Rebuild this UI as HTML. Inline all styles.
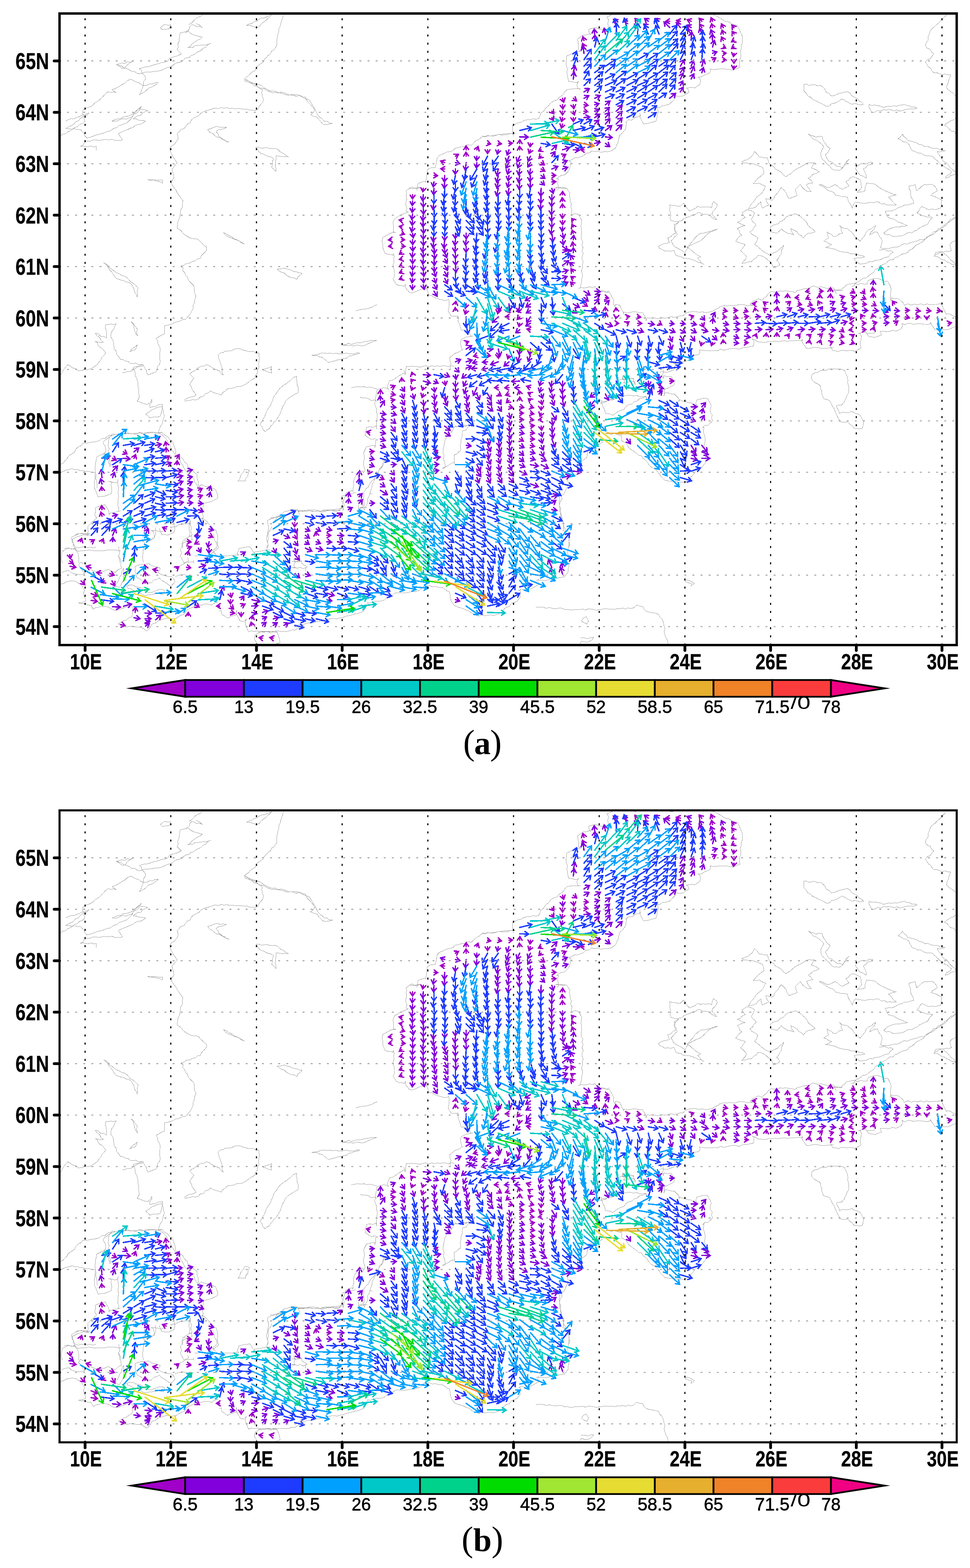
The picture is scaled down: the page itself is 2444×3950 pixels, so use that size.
<!DOCTYPE html>
<html lang="en"><head><meta charset="utf-8"><title>Baltic Sea current vectors</title>
<style>html,body{margin:0;padding:0;background:#fff}svg{display:block}</style></head><body>
<svg width="2444" height="3950" viewBox="0 0 2444 3950" role="img" aria-label="Baltic Sea surface current vectors, panels (a) and (b)">
<rect width="2444" height="3950" fill="#fff"/>
<defs><clipPath id="cp"><rect x="150" y="34" width="2260.5" height="1591"/></clipPath>
<g id="coast"><path d="M1538.1 34.9L1545.3 36.5L1552.4 34.5L1559.6 32.8L1566.8 34.4L1573.9 34.1L1581.1 33.5L1588.2 34.9L1595.4 36.3L1602.6 33.4L1609.7 35.2L1616.9 35.7L1624.1 33.2L1631.2 33.3L1638.4 33.3L1645.6 34.2L1652.7 33.5L1659.9 33.8L1667.1 35.7L1674.2 35.6L1681.4 33.7L1688.6 34.7L1695.7 36.7L1702.9 34.2L1710.1 34.1L1717.2 33.4L1724.4 34.2L1731.5 34.3L1738.7 34.4L1745.9 34.1L1753 34.1L1760.2 33.4L1767.4 35.4L1774.5 34.8L1781.7 34.6L1788.9 36.3L1796 35.9L1808.2 42.2L1817 47L1821.4 50.3L1828.2 54.2L1836.2 55.1L1842.8 59.5L1850.1 62L1857.6 64L1863.5 75.9L1866.8 83.6L1870.3 91.2L1870.8 101.5L1870.1 108.7L1867.5 115.6L1867.6 122.9L1864.9 129.8L1866.9 138L1866 145.9L1863.2 153.6L1863.2 161.6L1864.3 169.8L1845.6 176.7L1835.7 174.6L1824.5 173.6L1814.2 173.5L1807.3 174.7L1798 175.3L1788.6 173.6L1791.2 176.4L1788.3 183.4L1775.2 188.9L1767.3 193.8L1758 194.1L1763.4 196.7L1764.6 204.6L1763.7 212.5L1750.6 221.6L1743.3 220.1L1736.3 221L1729.4 222.1L1733.4 224.4L1735.5 232.4L1722.7 240.8L1715.9 243L1708.7 242.4L1701.5 241.3L1701.9 247.3L1696.5 252.3L1691.8 258L1686 262.8L1675.3 265.7L1668.2 266.4L1662 271.5L1654.3 269.2L1656.9 273.1L1658.8 281.8L1655.4 289.3L1655 297.5L1652.9 305.3L1637.3 309.5L1629.4 311.6L1621.4 312.1L1612.4 295.3L1612.3 285L1613.3 292.6L1606.2 294.1L1599.4 296.4L1592.2 302.2L1583.3 301.9L1576.6 308.2L1578.7 308.8L1577.3 316.7L1576.4 324.7L1567.1 336.5L1559.3 342.7L1561 344.6L1558.2 351.5L1557.8 358.9L1553.4 365.4L1551.3 372.4L1539.4 380.5L1531.5 382.1L1523.3 381.9L1514.3 383.7L1506.3 380.8L1498.4 382.1L1490.5 380.1L1485.1 385.2L1476.5 386.3L1469.7 392.4L1461.8 395.3L1455 397.6L1446.9 398L1440.7 402.5L1433.4 404.7L1438.8 408.1L1436.8 415.9L1435.4 423.8L1432 431.4L1422.9 440.5L1415.2 441.7L1408.5 445.1L1402.4 450.1L1407.8 450.2L1404.9 457.6L1405.6 465.1L1408.2 472.5L1404.3 480M1293 344.3L1293.3 337.1L1291.5 330L1291.4 322.9L1291.4 315.7L1306.4 309.1L1313.9 308L1320.7 303.2L1328.1 301.7L1335.8 301.4L1343.1 299L1351.1 300.5L1358.3 297.7L1360 293.7L1362.8 285.2L1370.1 279.9L1374.5 272.6L1382.7 266L1388.1 258.8L1395.3 254.3L1403.9 251.7L1408 246L1414.3 242.1L1419.9 237.3L1423.6 230.4L1429.2 225.7L1444.2 223.7L1453.4 223.7L1462.7 224.2L1456.2 223.1L1453.5 213.9L1457.7 204.6L1454.1 208.3L1446.9 207.4L1439.8 205.8L1432.6 204.9L1429.3 188.7L1428.5 180.8L1429.6 172.9L1426.9 164.9L1426 157L1427.7 149L1428 141.1L1442.2 134.8L1449.7 130.2L1457.7 129.7L1465.6 128.9L1460.9 129.7L1457.1 122.1L1458.1 114L1456.2 106.1L1455.7 98.2L1468.5 88.4L1475.6 88.3L1482.3 85.9L1489.5 86.4L1484.6 83.6L1483.2 73.7L1500.8 69L1508.3 73L1516.8 74L1523.5 74L1532.8 74.4L1542.1 73.8L1533.7 74.4L1532.8 66.5L1531.1 58.6L1533.6 50.4L1529.3 42.8L1545.3 35.5L1552.4 33.9L1559.6 36.3L1566.8 34.7L1573.9 36.4L1581.1 32.8L1588.2 35.3L1595.4 36.3L1602.6 37L1609.7 33.2L1616.9 33.9L1624.1 35L1631.2 35.2L1638.4 33.4L1645.6 36.5L1652.7 33.5L1659.9 35L1667.1 35.5L1674.2 35.8L1681.4 33.1L1688.6 36.7L1695.7 37L1702.9 33.2L1710.1 36.6L1717.2 35.1L1724.4 33.7L1731.5 34.8L1738.7 36.5L1745.9 34.7L1753 36.4L1760.2 34.4L1767.4 35.5L1774.5 35L1781.7 35.1L1788.9 33.2L1796 37M1299.3 336.5L1292.3 337.4L1285.2 336.1L1278.5 340L1271.4 339.8L1264.3 340.4L1257.1 338.5L1250.2 340.8L1243.4 343.2L1236.3 342.7L1229.1 342.1L1222.3 344.5L1215.2 344.1L1206 351.6L1198.5 354.7L1193.4 360.8L1187.7 366.1L1184.2 365.5L1176.9 364.3L1170.5 369.5L1163.4 369L1154.8 372.4L1147 373.2L1141.5 379.6L1134.2 381.8L1126.4 382.7L1120 386L1113.6 388.9L1107 391.7L1101.8 397.1L1098.9 412.9L1096.3 422.9L1094.5 422.1L1085 423L1077.2 427.2L1074.8 442.7L1074 450.6L1072.3 458.6L1070.3 457L1061.3 459L1053.1 462.4L1050.3 480M1299.3 336.5L1292.2 336.1L1285.2 337L1278.2 336.9L1271.1 337L1264.1 338.3L1257.1 338.6L1250.2 340.4L1243.2 341L1236.3 342.9L1229.1 341.3L1222.2 343.8L1215 342.4M1031 473L1038 475.1L1045.1 474.4L1052.2 472.4L1059.3 471.3M1399.4 473L1406.5 471.4L1413.6 474.2L1420.7 474.4L1427.8 474.2L1435.7 486.4L1434.3 493.6L1436.8 500.5L1437 507.6L1439.8 514.5L1437.9 521.8L1441.4 528.5L1439.9 535.8L1438.6 543L1442.5 539.9L1450.9 538.2L1458.6 541.2L1465.4 554.2L1464.9 561.2L1463.8 568.3L1464.4 575.3L1466 582.2L1465.1 589.3L1464.3 596.3L1465 603.3L1468.6 610.2L1466.1 617.3L1469.3 624.2L1466.4 631.3L1469.6 638.2L1466.9 645.3L1466.4 652.3L1469.5 659.2L1467.2 666.3L1468.1 674.7L1464.8 681.9L1467.3 689.6L1467.5 697.2L1465.4 704.5L1465.1 712L1463.1 719.3L1461.7 726.6M1457.3 726.6L1464.1 724.2L1471.3 725.3L1478.3 724.8L1485.2 722.3L1492.5 724.5L1499.3 721.5L1507.7 737.1L1505.2 744.3M1135.1 930L1134 922.7L1136.6 915.3L1133 908L1133.7 900.6L1146 890.6L1153 887.9L1159.9 884.6L1166.3 880.4L1164.2 880.6L1161.5 872.3L1160.2 863.9L1162.2 855.3L1175.8 848.8L1183.7 847.8L1191.7 846.2L1185.6 846.4L1182.7 837.8L1183.1 829.2L1183.4 834.1L1175.9 834.9L1169.5 831L1162.1 831.5L1157.6 816.2L1153.9 809L1155.7 801.4L1153 794.1L1153.1 797.6L1145.2 796.1L1136.9 796.9L1129 782.9L1131 775.6L1131.3 768.4L1131.6 761.2L1130.6 754.1L1125.7 757L1116.6 756.2L1107.9 753.6L1101 752.1L1094.4 749L1088 745L1080.9 743.7L1075.7 728.6L1074.2 718.7L1075.2 727.2L1068 728.3L1060.7 729.2L1053.8 731.3L1047.2 735.1L1040.2 737.2L1032.8 737.8L1021.1 724L1021.7 715.5L1018.8 721.7L1012.1 719.2L1005 719.2L998.4 716.1L990.5 703L994.1 695.9L993 688.7L993.8 681.6L991.5 674.4L990 667.3L993.1 660.2L991.6 653L993.8 645.9L991 638.7L990.9 643.5L984.2 641L977.1 640.4L970.2 638.3L964.5 624.3L964.6 615.9L962.8 607.5L963.5 599L977 591.2L983.5 587.5L990.3 585.7L997.5 585.2L990.8 584.8L992 576.4L991.3 568.1L990.2 559.8L994.2 551.4L1005.4 543.9L1013.1 540.2L1021 537.1L1028.9 533.9L1023.1 532.1L1025.3 524.6L1022.9 517.2L1022.2 509.8L1025.1 502.3L1023.3 494.9L1024.3 487.4L1023.8 480L1038 470.9L1045.1 474.9L1052.2 474.4L1059.3 472.1M1399.4 473L1406.5 473.1L1413.6 472.9L1420.7 472.4L1427.8 474.2M1500 734.9L1507.1 736.4L1514.3 732.9L1521.4 732.8L1528.6 736.3L1535.7 736.8L1542.5 749.1L1546.5 756.7L1545.3 764.9L1548.6 772.5L1551.4 766.8L1561.3 768.9L1568.4 783.8L1572 791.4L1571.4 785.8L1579.4 788.4L1587.3 787.2L1595.2 785.2L1603.2 785.9L1611.1 787.7L1619 787.7L1626.8 800L1628.1 808.1L1630.2 800.6L1637.3 801.4L1644.4 800.3L1651.6 801.5L1658.7 803.1L1665.6 800L1673.9 801.4L1681.8 800.7L1689.5 797.4L1697.8 799.6L1705.7 798.3L1713.4 795.5L1721.5 795.3L1726 789.8L1734.8 786.3L1747 784.4L1755 785.3L1761.9 787L1769.8 785.5L1777.8 787.9L1785.7 786.3L1793.7 784.6L1796 784L1801.6 779.6L1808.5 777L1814.2 772.7L1824.5 770L1831.7 771L1838.9 769.4L1846.2 770.4L1853.4 770.3L1860.5 767.6L1867.7 767.3L1875 767.5L1882.3 770.3L1889.4 769.4L1896.7 770.2L1890.3 766.2L1895.9 760.4L1910.7 752.7L1920.6 756.6L1923.9 751.6L1931 746.9L1936.2 739.4L1943.1 734.4L1956.3 736.3L1964.3 732.8L1972.2 733.4L1980.2 732.7L1988.1 734L1996 734.8L2004 737.1L2008.4 731.9L2015.5 730.8L2022.2 728.4L2029.1 727L2036.4 726.6L2042.8 723.2L2049.3 720.3L2060.3 723.7L2068.7 722.3L2076.6 724.5L2084.5 727L2092.9 724.9L2101 725.9L2107.6 741.1M2100 875.9L2092.4 876.3L2084.8 877L2077.2 877.5L2069.7 877.9L2062.1 876L2054.5 875.6L2046.9 875.7L2039.3 877.8L2031.7 877.4L2021.7 863L2021.2 854.7L2020.1 858.7L2012.6 857.7L2005 857.9L1997.5 858.3L1989.9 858.7L1982.3 859.7L1974.8 858.3L1967.2 859.6L1959.7 860.4L1952.2 859.4L1946 860.8L1937.6 859.8L1929.9 862.4L1921.6 862.2L1910.3 861.5L1903.1 856.7L1895.3 853.7L1899.7 857.9L1900 865.7L1897.3 872.2L1879.5 875.4L1869.6 876.3L1861.6 880.1L1853.5 877.6L1845.5 877.5L1837.6 878.9L1829.8 880.7L1823.2 882.7L1815.6 879.3L1808.8 883.4L1801.6 882.9L1794.4 883.3L1785.7 883.3L1777.8 883.7L1769.8 882.2L1761.9 881.7L1764.1 886.9L1760.5 893.1L1745 895.6L1735.3 898.4L1737.3 907L1723.6 911L1716.4 911.1L1709.6 914.9L1702.4 915.5L1695.1 914.1L1701.5 917.3L1699.9 924.4L1698 931.4L1683.4 937.3L1676.4 937.9L1669.3 936.5L1662.3 937.4M1500 734.9L1507.1 734.4L1514.3 733.1L1521.4 735L1528.6 735.3L1535.7 733M2098 730.9L2105.9 732.2L2113.8 730.8L2121.8 731.1L2121.8 727.3L2128 723L2132.8 717.2L2145.6 714.9L2153.5 713.4L2161.5 717L2169.4 713.7L2177.3 716.1L2185.3 715.6L2184.7 713.1L2187.6 706.4L2203.1 701.6L2213 701.5L2224.1 706.5L2227.9 708.5L2236.9 708.6L2243.5 721.4L2245.3 728.7L2244 736L2243.7 743.2L2243.2 750.5L2245.1 757.8L2245.1 750L2251.8 752.7L2259 751.8L2265.7 754L2275.7 763L2278.4 769.8L2280.5 767.9L2288.4 765.1L2296.4 768.8L2304.3 765.9L2312.3 767.9L2320.2 765.2L2327.6 768.7L2334.9 765.5L2342.3 767.7L2349.7 767.1L2357 767L2364.4 766L2371.8 765.9L2379.7 782.4L2383.8 791.9L2385.1 790.7L2393.3 791L2399.7 795.1L2406.7 798.1L2410.7 813.3L2410.1 821.3L2396 827.2L2388.3 830.7L2380.3 830.1L2372.4 831.4L2364.3 830.4L2356.3 830.2L2347.6 818.9L2344 811.4L2344.7 815.3L2337.5 817.4L2330.3 817L2323.1 816.1L2315.9 815.5L2308.6 815.9L2301.4 816.9L2294.2 814.9L2287 814.7L2279.8 818.1L2272.6 814.7L2274.5 820.3L2270.7 828.3L2257.4 834.4L2249.2 831.8L2241.5 835.3L2233.5 835.1L2225.4 834.3L2217.5 834.6L2221.3 843.9L2205.1 849.6L2197.2 848.9L2189.2 847.7L2177.2 831.9L2178.5 837.3L2170.4 837.9L2162.8 841.1L2167.5 840.4L2170.5 847.7L2169.5 855L2167.3 862.3L2167.3 869.6L2169.5 876.8L2154.4 884.9L2147.4 883.3L2140.3 882.4L2133.2 884.1L2126.2 882L2119.1 882.9L2112.1 885.6L2105 883.8L2098 882.9L2090.8 869.5M2098 730.9L2105.9 729.8L2113.8 731.1L2121.8 732.1M280.7 1093.6L287.8 1094L294.9 1094.7L301.9 1092.4L308.9 1090.7L316 1093L323 1090.5L330.2 1093.2L337.2 1091.6L344.3 1092.6L351.2 1090.1L358.4 1093.1L365.4 1090L372.5 1091.3L379.4 1088.7L386.5 1089L393.7 1092L400.6 1089.1L407.7 1089.1L417 1097.5L423.6 1100.9L427.2 1107.1L434.2 1110.1L437.5 1121.2L440.4 1127.9L442.1 1135L442.5 1142.3L445.5 1145.6L453 1149.8L460.1 1154.5L464.8 1163.6L471.2 1168.7L473.8 1176.2L478.6 1178.7L484.2 1184.1L489.4 1190L496 1194.1L497.1 1206.1L499.7 1212.8L499.7 1219.9L500.4 1226.9L506.9 1220.9L516.4 1225.1L526.2 1226L534.5 1229.7L542.9 1232.8L548.7 1247.5L548 1255.4L533.2 1263L525 1265.4L516.6 1267.4L507.9 1265.6L513.4 1267.3L512.6 1274.3L510.5 1281.1L510.6 1288.2L509.6 1294L512.3 1301L510.4 1308.1L510.2 1315.2M537.7 1344.7L539.2 1353.3L541.1 1361.8L547 1369.1L546.9 1378.2L533.5 1388.5L526.2 1386.8M460.5 1380L460.6 1371.3L460.1 1362.5L474.6 1352.5L483.3 1349.6L476.5 1350.6L478.7 1342.7L476.6 1334.8L476.5 1326.8L477.2 1318.9L479.3 1311L479.1 1318.1L472 1319.6L464.6 1319.6L457.5 1321.3L450.2 1321.9L443.6 1326.7L436.3 1327.4L429 1327.9L434.2 1330.8M411.9 1337.8L404 1339.6L396 1337.2L388.1 1336L380.2 1336.1L386.1 1338.7L388.3 1346.7L388.8 1354.6L372.7 1363.9L364.5 1360.5L356.6 1361.2M304.6 1387L297.4 1387.2L290.2 1385L283 1385L275.9 1385L268.7 1385.8L261.5 1387.5L254.3 1387.1L247.1 1387L239.9 1387.8L232.8 1386.9L225.6 1385.1L218.4 1386.4L211.2 1387.3L204 1387.4L196.9 1388.7L189.7 1385.6L184.3 1372.9L184 1365.7L181.7 1358.6L196.1 1351.5L203.2 1349.7L210.1 1347.1L217.4 1348L224.8 1349L218 1346.5L222.4 1340L221.7 1332.8L221.2 1325.7L231.4 1315.8L238 1310.5L243.5 1303.9L242.9 1303.7L238.6 1296.2L241.1 1287.8L239.8 1279.9L255.2 1273L265.1 1271.4L274.1 1287.7L275.2 1297.8L275.6 1293.3L282.7 1291.6L289.8 1290.7L296.8 1288.7L303.8 1286.8L298.5 1287.8L299.4 1280.5L296.6 1273.3L297.8 1266L297.1 1258.7L299.1 1251.4L297.2 1244.2L298 1236.9L298.6 1229.6L297.4 1222.3L296.5 1215.1L297.4 1207.8L296.8 1214.6L288.9 1216.3L281 1214L273 1212.7L281.8 1214.9L279.4 1222.1L281.6 1229.2L281.3 1236.3L280.1 1243.5L264.4 1249.9L255.8 1250.5L247.2 1252L241.4 1236.5L237.9 1229.3L238.4 1222L237.4 1214.8L239.6 1207.4L239 1200.1L240.5 1191.2L239.5 1183L240 1175L240.5 1167L242.6 1159.2L243.7 1151.3L260.1 1143L269 1144.1L276.9 1159.6L277.3 1167.5L276.2 1175.6L281 1170.7L274.2 1168.5L273.7 1161L276 1153.4L273.2 1145.9L272 1138.3L275.6 1130.8L272.2 1123.3L273.9 1115.7L273.8 1108.2L275.8 1100.6L287.8 1095.1L294.9 1094.6L301.9 1094L309 1094.5L316 1090.9L323.1 1092.4L330.1 1092L337.2 1093.4L344.3 1093.2L351.2 1089.4L358.3 1090.4L365.4 1092.9L372.4 1089L379.5 1090.6L386.5 1090L393.6 1089.7L400.7 1091.8L407.7 1088.6M681 1304L689.2 1305.4L696.8 1301.2L704.8 1300.9L712.6 1299.1M721.8 1296.7L728.3 1292.7L733.4 1287.3L750 1285.6M674.7 1380L675.5 1372.3L674.4 1364.7L676.2 1357L675.6 1349.3L674.5 1341.6L676.1 1334L676.5 1326.3L674.6 1318.6L674.3 1311L689 1303.8L697 1303.1L704.8 1301L713 1302.9M1017.2 932.2L1021.9 943.9L1017.3 939.1L1011.5 943.3L1005.2 946.8L999.2 950.6L994.9 954.3L988.6 957.8L981.4 958.9L975.9 973.7L978.8 981.6L974.8 977.9L966 976.6L958.2 978.9L950.4 981.6L946.9 998.8L946.3 1008L943.9 1017.3L949.2 1031.6L948.6 1036.6L950.2 1043.9L950.4 1051.3L948.9 1058.7L948.3 1066.1L948.5 1073.4L949.4 1080.8L947.3 1072.7L939.7 1076.6L931.4 1074.7L923.6 1076.7L919.8 1096.7L930.6 1104.3L937.2 1107.4L944.7 1104.8L951.3 1108.2L946.3 1109.9L946.7 1119.2L944.1 1128.4L944.5 1122.5L937.3 1121.8L930.6 1124.8L923.6 1125.1L916.4 1139.8L917.6 1147.3L918.4 1154.7L916.4 1162.1L915.8 1169.6L917.6 1177L919.8 1184.5L915.5 1191.9L914 1186.4L906 1189L899.1 1194.7L892.4 1207L890.6 1214.9L891.4 1222.9L889.3 1230.8L889.6 1238.8L886.8 1235.9L878.9 1238.6L871.4 1242.5L867.5 1255.4L864.5 1263.3L867.2 1271.3L865 1279.2L864.9 1287.1L865.1 1281.4L858.1 1281.9L851 1282.2L844.1 1283.4L837.1 1283.5L830.5 1286.9L823.1 1285.3L816.5 1288.5L810 1290.2L802.5 1286.7L795 1288.3L787.5 1288.7L780 1286.2L772.5 1288.5L765 1286.8L757.5 1287.8L750 1288.4M1144.4 923L1137.3 920.9L1130.2 924.1L1123.1 921.6L1116 921.4L1108.9 922.9L1101.8 921.5L1094.7 923.3L1087.6 921.2L1080.5 924.4L1073.4 921.3L1066.4 922.4L1059.3 925.1L1052.2 924L1045.1 923.4L1038 922L1030.9 923.8L1023.8 922.8L1020.4 944.4M1670.5 930L1671.7 937.9L1669 945.9L1671.2 953.8L1672.8 946.3L1682 949L1691.3 948.6L1698.9 961.7L1698.9 969.7L1684.3 976.8L1676.7 980.2L1668.3 978.8L1674.7 981.6L1674.4 989.5L1672.8 997.5L1675.4 989.2L1683.3 989.6L1691.3 992.5L1699.2 992.5L1709.8 1003.3L1710.8 1011.4L1712.6 1006.7L1719 1010.7L1726.5 1010.7L1732.9 1014.4L1740.4 1014.4L1746.8 1018.2L1753.2 1022.1L1760.2 1023.9L1752.9 1017.7L1755.3 1007.9L1772.6 1003L1782.5 1003.8L1789.6 1016.2L1792.1 1023.5L1789.2 1031.1L1789.9 1038.5L1794.5 1045.5L1792.8 1053.1L1795.6 1060.3L1783.1 1071.6L1775.5 1071.8L1770 1077.2L1773.8 1075.7L1772.7 1082.8L1772.6 1089.9L1775.2 1096.9L1776.6 1104L1776.9 1111.1L1774.6 1118.3L1776.3 1125.3L1776.4 1132.4L1777.1 1139.4L1777.4 1146.5L1778.5 1153.6L1779.3 1160.7L1776 1167.9L1768.2 1177.4L1762.6 1181.9L1755.5 1184.1L1750.6 1189.6L1747 1196L1740.8 1201.7L1733.9 1206.7L1729 1213.7L1714.5 1214.5L1706.5 1213.9L1698.7 1212L1690.6 1212.7L1682.7 1211.5L1674.9 1209.7L1665.7 1200.7L1661.1 1193.6L1655.5 1187.2L1649.9 1181.7L1642.1 1177.5L1635.9 1171.9L1631.3 1164.5L1626.3 1159L1620 1154.7L1616.2 1147.9L1609.3 1147.2L1604.1 1142.2L1598.1 1138.1L1592.5 1133.7L1584.4 1128.1L1580.2 1120.5L1574.4 1114.3L1566.4 1110.5L1566.3 1096.7L1564.6 1088.7L1563.5 1097.2L1555.7 1094.6L1548 1091.8L1539.8 1094.7L1532.1 1091.3L1523.9 1093.1L1513.7 1086.8L1505.4 1083.6L1511.2 1087.1L1505.2 1091.7L1510.9 1093.3L1512.6 1100.4L1514.1 1107.5L1517.4 1114L1501.6 1124.1L1494 1127.4L1485.6 1124.6L1478 1128.9L1482.2 1129.2L1480.9 1137.1L1479.8 1145L1478.1 1152.9L1466.4 1161.4L1458.4 1162.2L1450.4 1163.2L1455.3 1163.3L1454.1 1170.5L1454.5 1177.6L1455 1184.8L1456.8 1191.9L1443.5 1201.4L1435.1 1202.4L1427.5 1206.2L1430.3 1208.8L1431.6 1217.2L1430.1 1225.1L1425 1235.4L1421.7 1243.6L1413.9 1249.7L1416.3 1257.1L1411.5 1264.4L1409.6 1272.2L1410.5 1280.7L1409.9 1288.8L1412.8 1291.4L1414.6 1300.5L1417.2 1309.7L1420.2 1317.4L1419.1 1325.9L1424.3 1333.1L1422.8 1341.6L1427.4 1344.7L1433.3 1350.7L1433.7 1363.9L1435.3 1372.9L1431.5 1381M161.9 1381.9L171.2 1380.1L180.4 1383.6L189.7 1380.8L197 1395.7L198.2 1403.1L198.6 1410.4L198.9 1417.8M157.2 1418.9L154.9 1411.7L154.4 1404.3L155.9 1396.8L156.1 1389.3L171.2 1381.4L180.4 1382.7L189.7 1383.6M189.3 1346.2L196.6 1344.2L203.9 1344L211.4 1345.3L218.7 1343.6L226.3 1346.2M241.5 1378L234.2 1380.2L226.8 1378L219.5 1379.8L212 1377.7L204.6 1378.2L197.3 1380.3L189.9 1378.5L181.2 1363.1L180.8 1353.2L196.6 1345.5L203.9 1343.4L211.3 1344.2L218.9 1346.7L226.1 1344.1M391.1 1329.4L392.1 1337.3L392.9 1345.2L389 1353.2L378.4 1362.6L371 1360.3L364.1 1361.9L357.2 1363L363.2 1365.1L363.7 1372.6L362.3 1380L360.6 1387.3L360.3 1394.8L359.2 1402.2L359.7 1409.7L361.6 1417.3M301.8 1417.2L301 1409.3L298.8 1401.5L301.7 1393.3L299.9 1385.4L299.6 1377.5M438.7 1321.4L440.6 1331.3L438.6 1341.3L423.8 1347.7L415.9 1346.8L407.9 1346.4L401.1 1331.3M463.5 1362L472.8 1363.1L482 1363.2M487.3 1415.7L479.4 1416L471.4 1417.3L463.5 1417.4L454.3 1400.8L457.6 1392.9L454.5 1384.9L458.3 1377L458.3 1369L472.8 1363.4L482 1360.1M503.2 1306.5L511.1 1306.2L521.7 1314.1L526.2 1320.6L532.2 1325.7L537.4 1331.6L544.1 1336L548.1 1348.4L548.7 1356.3L547.2 1364.5L548.2 1372.4L551.1 1380.1L538.5 1389.4L532.5 1395M498.1 1401.1L490.1 1399.8M484.3 1361.1L482.9 1353.2L483.6 1345.9L480.6 1338.2L482.4 1330L479.6 1322.3L479.9 1314.2M503.2 1306.5L511.1 1305.6M535.9 1387.9L540.9 1393.4L546.1 1398.9L553.3 1402.2L554.1 1399.2L562.2 1400.5L570.2 1400.6L578.1 1399.7L586.1 1400L594 1398.5L602 1399L597.3 1395.1L600.2 1388.6L602.5 1381.8L620.2 1378L630.2 1377.5L640.9 1394.6L641.6 1390.5L649.5 1389.4L657.4 1388.5L665.2 1386.3L673.1 1385.1L681.2 1385.9L672.7 1386L672.9 1378.7L675.9 1371.3L673.1 1364.1L671 1356.9L673 1349.5L677.4 1339.3L682.5 1333.5L684.9 1326.3M692.1 1313.2L695.8 1306.7L700.5 1300.7L710.3 1294.9L716.4 1288.9L725 1287.4L734.2 1283.2L741.9 1283.5L749.5 1284L755.2 1296.7M757 1565.2L757.7 1572.3L755 1579.4L743.8 1587.1L736.5 1586.9L729.5 1589.3L722.4 1590.5L714.1 1590.1L706.8 1590.4L699.5 1589.5L692.1 1590.1L684.8 1590.9L677.5 1591.2L670.1 1591.4L662.8 1590.6L655.5 1591.1L648.2 1589L640.8 1590.6L633.5 1589.3L626.2 1591.7L619.4 1575.4L617.8 1567.5L620.8 1559.5L614.5 1566.5L604.7 1563.7L596 1547.3L595.3 1537.1L599 1544.8L593.6 1549.9L586.5 1551.5L579.7 1553.8L573.5 1557.2L559.1 1547.4L557.2 1538.5L551.7 1539.2M488.2 1418.7L487.4 1411.4M650 1592.2L657.9 1591.8L665.9 1592.5L673.8 1590.9L681.7 1594.4L689.7 1591L697.6 1590.6L704.3 1609.1L705.5 1619L689.7 1624.3L681.7 1627.6L673.8 1624.3L665.9 1626.6L657.9 1626.6L650 1625.6L641 1609.1L643 1599.2L657.9 1591.6L665.9 1591.1L673.8 1590L681.7 1590.3L689.7 1592.1L697.6 1593.9M750 1286.7L757.1 1285.9L764.3 1286.6L771.4 1285.5L778.6 1284.6L785.7 1284.6L792.9 1284.8L800 1285.5L807.1 1288.4L814.3 1285.8L821.4 1288.2L828.6 1284.7L835.7 1284.7L842.9 1288.1L850 1286.9L857.1 1286.7L856.6 1281.2L865 1277.7L862.2 1273.8L862.6 1265.9L860.5 1257.9L861.3 1250L878.3 1243.9L887.6 1242.5L896.8 1241.1M903.8 1271.4L903.9 1278.6L903.6 1285.7M906.1 1278.7L915.3 1279L924.6 1278.6L915.4 1278.6L918.3 1271.4L917.1 1264.3L916.2 1257.1M931.7 1243L938.8 1244.4M1357 1457.9L1355.1 1465.1L1357.4 1472.2L1343.8 1480.2L1336.7 1483.5L1329.1 1483.7L1322 1486.4L1313.8 1483.6L1306.9 1487.6L1311.6 1488.1L1310.4 1496L1310.9 1504L1302.9 1514.5L1295.8 1517.8L1288.3 1520.2L1283.8 1527.7L1276 1529.6L1269.9 1534.4L1267 1539.5L1260.9 1544L1253.9 1547.5L1242.7 1550.7L1235.4 1548.9L1228.2 1549.7L1220.9 1551.5L1213.6 1548.6L1206.3 1552.2L1195.6 1548.5L1188.7 1544.8L1182.5 1539.5L1175.1 1536.9L1168.1 1533.5L1160.7 1531.3L1152.6 1528.8L1145 1525.5L1137 1513.9L1134.7 1506L1134 1497.7L1132 1489.8L1127.1 1489.2L1120.6 1483.8L1113.4 1479.3L1111 1480.6L1103.7 1479.2L1096.4 1477.3L1088.9 1478.2L1081.8 1474.5L1074.3 1475.9L1066.8 1477.4L1066.5 1477.9L1061.5 1483.5L1055.2 1487.8L1044.1 1491L1036.1 1490.8L1028.2 1492.4L1020.4 1493.8L1012.4 1493.9L1004.4 1493.1L996.4 1493.3L992.4 1496.6L987.1 1502L981 1505.6L973.4 1506.3L968.2 1511.9L958.1 1514.4L949.9 1514.4L941.6 1514.5L934.3 1519L925.9 1518.3L927.7 1522.6L922.8 1527.9L919.9 1534.5L915.3 1540.1L902.9 1545.2L894.6 1546.2L886.8 1549.2L878.7 1551L870.5 1552.4L863.2 1556.3L855.9 1556.6L849 1559.2L841.4 1557.9L834.2 1558.6L827 1559.7L820.5 1564.8L813 1563.8L805.9 1565.4L798.7 1566L791 1568.8L783.1 1570.1L774.8 1569.7L767.1 1572L759 1572.8L750.8 1572.3M750 1286.7L757.1 1287.6L764.3 1288.4L771.4 1285.3L778.6 1286.5L785.7 1287.6L792.9 1288.5L800 1287.7L807.1 1288.2L814.3 1284.9L821.4 1284.7L828.6 1284.5L835.7 1285.6L842.9 1285.7L850 1286.4L857.1 1284.8M1408.6 1249.4L1410.7 1257.2L1408.7 1265.4L1409.4 1273.3L1412.6 1281L1412.7 1289L1412.7 1297L1414.7 1304L1417.3 1311.8L1419.1 1319.7L1420.6 1327.6L1418.7 1336.3L1426.5 1339.9L1431.9 1348.3L1434.1 1360.4L1433.7 1367.7L1433.1 1375L1431.5 1382.3L1430.3 1389.6L1431 1396.8L1431 1404.1L1433.4 1411.4L1433.4 1418.7L1433.9 1425.9L1431.2 1433.2L1431.6 1440.5L1422.3 1453.3L1410.6 1454.6L1403.3 1457.2L1395.5 1456L1388.2 1458.2L1381 1461.1L1373.5 1462.6L1365.8 1461.7L1358.1 1460.9L1350.6 1461.1M962.6 1159L970.8 1160L978.5 1162.8L971.5 1160.1L967.3 1166.3L964.9 1173.5L960.1 1179.5L954.9 1185.2L953.9 1193.2L950.9 1200.1L945.4 1205.6L942.3 1212.5L938.1 1220.2L937.2 1227.9L934.5 1234.9L932.2 1242L930.5 1249.4L926.5 1256L926.6 1264L924.5 1271.2L919.9 1277.7L918.6 1285.1L914.7 1279.6L904.8 1280.4L910.8 1279.7L915.2 1272L912.5 1263.8L915.6 1256.1L916.6 1248.2L916.4 1240.2L918.3 1237.4L922.3 1231L928.5 1226.3L931.2 1218.8L935.7 1212.8L941.8 1207.9L946.3 1200.8L949 1193.9L954.6 1188.6L955.6 1180.8L961.9 1175.9L963.9 1168.6L967.1 1162.1L971.4 1156.1L970.7 1160.4L978.6 1162.6M1143.7 1075.8L1150.9 1074.1L1158.5 1075L1165.6 1072.1L1173 1070.9L1180.5 1071.8L1188.1 1072.6L1195.4 1071.3L1193.7 1074.7L1186.3 1070.6L1179.4 1075.6L1174.4 1083.3L1165.3 1085.3L1164.5 1099.5L1161.8 1106.6L1161.9 1113.9L1159.6 1121L1160.7 1128.5L1160.9 1135.8L1157 1137.3L1152 1142.9L1144.8 1146.3L1144 1160.2L1145.9 1168.1L1140.2 1165.3L1134 1169.5L1127.8 1173.7L1120.7 1176.5L1114.2 1180.1L1121.7 1178.2L1121.1 1169.6L1119.5 1161.3L1116.4 1156.2L1119.2 1148.3L1116.1 1140.3L1116.5 1132.4L1118.5 1124.4L1119.5 1116.5L1120.5 1111.3L1124.2 1103.2L1128.4 1095.4L1133.7 1091.5L1139.4 1086.2L1143 1079.1L1147.4 1072.7L1151.1 1075.5L1158.2 1072.4L1165.8 1073.7L1173.3 1074.1L1180.3 1070.2L1188 1072L1195.1 1068.6M1510.7 1016.1L1518.9 1014.5L1526.9 1012.3L1534.1 1007.3L1543 1008.1L1550.4 1004L1558.1 1000L1567 1000.4L1574.6 996.7L1579.9 996L1587.9 995.2L1595.8 997.8L1603.8 995.8L1611.6 999.2L1619.5 999.6L1627.5 998.1L1630.6 1005.5L1625.5 998.8L1619 1003.1L1610.9 1004.4L1605.4 1010.4L1597.6 1012.4L1591.8 1017.9L1583.8 1019.3L1576.7 1024.2L1572 1031.5L1563.9 1033.4L1556.8 1037L1550.4 1041.7L1544.2 1046.6L1541.7 1044.5L1533.9 1042.2L1525.8 1041.8L1525 1039.8L1523.5 1031.7L1519.3 1025.3L1517.2 1018L1513.8 1008.3L1518.1 1011.8L1526.6 1011.1L1534 1007.2L1542.4 1006.1L1550.6 1004.8M1561.1 956.8L1568.1 954.6L1575.6 956.8L1582.4 952.9L1589.5 952.5L1596.9 953.9L1595.9 955L1597.4 963L1600.8 970L1599.4 961L1592 961.5L1584.6 962.1L1577.9 965.5L1570.2 964.7L1574.1 962.8L1570.9 954.5L1568.1 946L1568.3 956.9L1575.4 955.2L1582.6 955.3L1589.5 952.3L1597 955M734.9 1414.9L743.3 1414.6L751.6 1415.3L759.9 1412.9L760.7 1419.5L767.1 1423.8L773.8 1427.6L771.2 1430L769.7 1438.1L771 1429.6L763.8 1432.9L756.5 1428.9L749.3 1431.6L742.1 1429.2L734.9 1429.7L743.3 1430.6L740.3 1423L743.8 1415.5L739.9 1407.9L743.3 1416.7L751.6 1413.1L759.9 1414.2M713.5 37.9L712.4 45.1L709.5 51.8L707.6 58.7L705.9 65.7L702.9 72.3L702.7 79.5L700.1 86.3L698.6 93.3L697.7 100.3L698 107.5L697.6 114.7L694 120.2L690.4 125.7L684.1 129.3L681.7 135.8L675.8 139.4L671.7 144.8L666.4 149L663.8 156L657.9 159.6L652 164.2L646.1 169L643.5 176.9L636.8 180.8L631.1 185L626.6 190.5L620.7 194.4L615.6 199.3L622.9 201.2L628.5 206.5L636 208.2L642.1 212.5L648.2 217L653.7 222.4L660.6 225.8L659.7 233.8L661 241.7L663.6 249.5L662.2 257.5L657.5 262.5L653.2 267.9L650.4 274.5L644.7 278.7L637.2 277.6L629.6 277.8L622.4 274.9L614.7 275.2L607.3 274.1L599.7 273.4L592.6 274.3L585.6 272.7L578.5 273.2L571.5 271.4L564.4 272.8L557.4 270.7L550.3 273.6L542.2 272.1L535 274.5L527.7 276.9L520.4 278.7L513 281.3L506.3 285.1L500.9 291.2L493.9 294.6L487.3 297.9L482 302.6L479 310L471.9 312.6L467.5 318.4L463.4 324.4L455.6 326.2L451.4 332L446.3 336.9L448.5 343.3L448.9 350.1L444.3 356.7L439.8 363.3L432.5 367.4L427.8 373.9L429.3 381.4L432.5 388.2L435.7 395.1L441.4 402.8L446.3 411L441.4 415.8L437.5 421.5L433.1 426.8L435.2 433.8L437 440.8L438.4 448L434.9 453.7L430.4 458.6L433.8 465.6L437.9 472.1L442.8 478.1L446.3 485L451.1 492.2L456.2 499.1L461.1 506.2L459 514L459.4 522.4L454.7 529.7L454.2 537.9L453.5 545.5L450.7 552.7L447.8 559.8L447.1 567.4L446.3 575L452.5 578.1L457.4 582.8L461.8 588.2L467 592.5L472.8 596.1L479.4 599.5L486.5 601.3L493.9 601.4L500.4 604.1L505 609.2L510.1 613.7L514.7 618.8L520.4 622.6L520.4 630M615.6 202L623.1 202.9L629.9 205.7L636.3 210.2L644.1 209.9L651 212.7L657.9 215.2L664.1 220.9L671.8 224.3L679.1 228.4L686.1 230L693.5 229.4L699.9 234.3L707.6 232L714.7 233.4L721.4 236.3L728.6 239.1L736.2 238.9L743.8 238.3L751.3 239.1L758.5 241.6L764.9 246.5L772.4 249.1L779.6 252.2L784.2 259.2L788.2 266.5L792.9 273.4L796.7 281.4L800.8 289.3L805.4 295.2L811.7 299.5L816.7 305.1L824.2 305L830.4 310.3L837.8 310.4L830.1 312.7L822.1 313.5L814 313.1L808.7 306.9L803 301.1L798.1 294.6L789.9 292.8L782.3 289.3L788.4 284.8L792.9 278.7L790 272.2L785.4 266.9L780.8 261.6L775.6 256.7L771.6 251L769 244.3L761.5 244.1L754.4 240.7L746.6 243L739.5 239.6L732 239L725.1 239.7L718.5 238.6L712.2 235.7L705.7 234.4L699.2 232.4L692.3 233.1L685.5 233.3L679.1 231.1L672.7 228.4L667 224.3L660.1 222.9L653.4 221.1L647.4 217.8L640.5 216.3L635.2 211.2L628.9 208.4L622.5 205.9L615.6 204.6M152.6 342.2L158 338.1L165 337.2L169.9 332.2L176.2 330.1L181.7 326.3L187.5 321.1L195.3 319.1L200.5 313.2L208.2 311L213.5 305.1L212.1 298.5L210 292.1L208.4 285.5L208.2 278.7L214.4 273.4L221.9 270.7L229.4 268.1L234.7 264.2L239.1 259.1L245 255.9L250.5 252.2L255.5 246.6L261 241.5L266 235.9L271.7 231.1L278.6 232.9L286 231.6L292.9 233.7L287.4 230L282.3 225.8L289.2 223.8L295.5 220.4L301.7 217L307.6 212.9L314 209.9L321 203.1L329.9 199.3L336 202.9L342.3 206.2L349.3 208L354.9 212.9L361.6 215.2L369.4 215.3L376.3 211.4L384.1 211.5L391.1 208.2L398.7 207.2L393.4 212.3L387.7 216.6L381.2 219.7L374.1 222L369.2 227.5L363.7 232.1L357.1 235.2L351.1 239L354.7 233L356.6 226.5L359.7 220.4L361.3 213.7L361 206.4L365.8 200.9L366.9 194L362.9 188.7L357.6 184.5L356.3 177.2L351.1 172.9L357.4 171.2L363.6 169L370.3 168.9L376.6 167.2L382.8 164.9L389.1 163.1L395.5 161.6L401.7 159.6L407.9 157.4L414.6 157L422.5 154L427.6 146.5L435.7 143.8L443.1 142.1L450.1 139.2L456.9 135.8L451.6 130.5L446.3 125.2L449.2 118.5L447.9 110.9L451.1 104.2L451.9 97.1L452.9 90L454.2 82.9L463.7 80.9L472.8 77.6L480.1 83.8L488.6 88.2L495.6 90.3L502.7 91.8L509.8 93.5L505 98L498.9 100.6L493.4 104.1L488.1 107.8L482.9 111.8L479 117.5L472.8 119.9L479.3 119.4L486 119.4L491.8 114.5L498.6 115L505 113.8L511.7 113.4L518.3 113.1L524.8 112L531 109.4L523.6 112L519.1 119.1L511.6 121.6L506.3 127.4L499.2 130.5L493.3 133.9L487.9 138.3L481 139.8L476.3 145.4L468.7 145.7L463.2 149.8L458.2 154.9L451.6 157L445.2 158.6L439.3 161.3L434.3 166.2L428.3 168.8L421.7 170L416 173.1L409.9 175.5L404 178.1L397.3 179L390.6 179.4L384.1 180.8L377.4 181.5L370.7 181.5L364 182.1L357.6 184.6L351.1 186.1L344.3 184L338.6 179.7L330.9 179.9L325.3 175.3L318.8 172.7L311.9 171.1L306.4 166.1L299.5 164.4L292.9 162.3L299.9 161.1L306.7 158.4L314.4 160.1L320.8 155.4L328.4 156.9L335.2 154.3L328 158.1L321.4 162.8L316.3 169.6L308.7 172.9L301.1 167L292.9 162.3M475.4 61.7L482.8 57.9L488.5 52L493.9 45.9L502.2 42.7L509.8 37.9M467.5 82.9L472.4 78.3L476.9 73.4L478.5 66.4L483.3 61.7L489.9 63.9L496 67.5L503.6 66.1L509.8 69.7L502.7 63.1L493.9 59.1M165.9 305.1L172.1 301.2L178.9 298.9L186.6 299.2L192.9 295.6L199.9 293.9L206.2 290.1L213.5 289.3L224.1 284L219.9 289.5L213 291.3L207.5 295L202 298.6L198.2 304.5L191.2 306.2L187 311.7L181.7 315.7L173.5 319.1L165.9 323.7L173.3 324.3L180.6 325.5L188.2 324.2L195.5 326.5L202.9 326.3L207.3 331.2L211.7 336.2L214.1 342.7L218.8 347.5L226.4 346L233.7 343.6L240.9 340.6L248.2 338.4L255.8 336.9L262.6 334.7L269 331.4L276.3 330.5L282.3 326.3L288.2 323L294.9 321.2L300 316.3L306.6 314.5L312.9 311.9L319.4 309.8L324.6 305.1L329.4 300.1L333.9 294.9L336.3 288L341.2 283.1L345.9 278L351.1 273.4L357.9 276.1L365.3 276.4L372.2 278.7L365.7 281.6L359.1 284.4L354.7 290.9L346.7 291.3L340.9 295.5L335.2 299.8L343.3 299.9L351 303.1L359 303.5L366.9 305.1L361.1 309.4L354.9 312.8L347.4 313.6L340.7 316.2L335.2 321L328.7 322.9L322.7 325.9L316.5 328.5L310.2 331L304 333.5L298.1 336.9L303.6 344.7L308.7 352.8L302.1 353.9L295.5 353.4L288.9 354L282.3 350.8L275.7 352.3L269 351.8L262.4 351.7L255.8 352.8L248.4 353.8L240.9 352.3L233.5 353.1L226.3 356.1L218.8 355.4L212.6 358.8L209.3 365.5L202.9 368.6L209.5 368L216.1 369L222.8 369.6L229.4 367.6L236 370.4L242.6 368.6L242.6 379.2M282.3 305.1L289 301.8L296 299.4L303.6 299L309.9 294.5L317.3 293.5L324.6 291.9L330.9 289.3L336.2 285.3L341.2 281L346.2 276.7L351.1 272.2L356.3 268.1L351.9 276.6L345.8 284L337.8 287L332.7 294.5L324.6 297.2L317.9 300.4L310.3 298.8L303.3 300.7L296.7 304.3L289.7 305.6L282.3 305.1M523 326.3L531.1 324L538.8 320.7L546.8 318.4L554.6 320.7L562.7 320.1L570.6 321L564.2 324.1L557.3 326L550.1 327.1L544.2 331.6L548.9 336.6L551.6 343.4L557.4 347.5L563.3 352.5L570.1 355.8L577.5 358L570.8 357L565.9 351.9L559.3 350.5L554 346.3L547.1 345.8L541.5 342.2L535.8 336.4L528.1 332.8L523 326.3M644.7 371.3L651.7 370.5L658.4 373.6L665.4 372.6L672.3 371.7L679.1 373.9L686.2 374.4L693.4 373.9L700.3 376.6L705.9 382.6L713.3 386.1L719.7 391.1L726.7 395.1L718.8 394L710.8 394.8L702.9 393.3L695 392.4L695.5 399L694.9 405.7L694.6 412.3L693.4 418.9L696 425.5L695 432.1L690.3 426.2L684.4 421.5L686.5 414.6L686.2 407L689.7 400.4L684 396L677.4 394L670.6 392.5L664.9 388.2L657.9 387.1L652.6 382.6L649 376.7L644.7 371.3M372.2 452.2L379.6 452.3L387 453.3L394.4 453.2L401.8 453.9L409.3 453.3L409.3 461.2L401.8 457.2L393.4 455.9L386.6 453.4L379.1 454.6L372.2 452.2M562.7 585.6L569.8 588.7L576.3 592.9L583.4 596.1L589.2 601.4L596.2 603.8L602.7 607.3L609.2 610.8L615.6 614.7L608.2 611.8L602.2 606.3L594.4 604.1L587.4 601.5L580.5 598.3L573.3 596.1L567.3 591.6L562.7 585.6M404 69.7L409.1 65.4L414.6 61.7L422.4 63.4L430.4 62.8L425.1 73.4L417.1 73L409.3 75L404 69.7M620.9 64.4L626.9 60.5L634.2 59.2L639.8 54.5L647.1 53.2L652.6 48.5L658.8 45.8L665.6 45L671.9 42.9L677.9 39.6L684.4 37.9L679.3 42.8L674.1 47.5L669.1 52.5L663.2 56.5L657.8 60.7L653.7 66.5L647.4 69.7L640.8 67.9L634.4 65.5L627.9 63.8L620.9 64.4M520.4 630L516.4 635.3L511.5 639.9L507 644.8L504.5 651.2L497.1 652.2L491.3 657.6L483.8 658.4L477.8 663.1L469.9 663L464 667.9L456.9 669.7L461.1 674.9L460.9 682.2L465.7 687.2L467.5 693.5L472.5 698.1L474.4 705.3L478.9 710.4L483.7 715.2L488.6 719.9L489.4 726.7L489.5 733.5L491.1 740.1L493.9 746.4L491 753.6L490.1 761.3L486.9 768.4L486.7 776.4L483.3 783.4L480.3 789.4L476 794.5L472 799.7L467.5 804.6L460.5 804.9L454.4 807.7L448.4 810.8L441.4 811.2L435.7 815.2L428.8 817.5L421.8 819.3L414.6 820.5L414.3 827.5L414.7 834.6L414.6 841.6L407 844.1L400.4 848.5L393.4 852.2L397.3 858.3L397.8 865.8L401.5 872L404 878.7L403 886.6L402.9 894.6L402.2 902.5L404 910.4L402.1 917.3L397.2 923.1L396 930.3L393.4 936.9L386.2 939.3L379.3 942.1L372.2 944.8L370 938.7L368.5 932.2L364.3 926.9L361.6 921L355.2 923.3L348.4 923.7L341.5 923.7L335.2 926.3L338.9 932.1L340.4 938.7L340.2 945.8L344 951.6L345.8 958L348 964.9L347.1 972.2L349.5 979.1L349.1 986.3L350 993.3L351.1 1000.4L345.8 1011L352.4 1012.7L358.8 1015.6L365.4 1017.7L372.2 1018.9L378.9 1013.4L382.8 1005.7L382.3 1013L377.4 1019.3L377.5 1026.8L383.8 1024.9L390.5 1024.9L396.3 1020.9L402.7 1019.5L409.3 1018.9L408.6 1026.5L411.2 1033.6L411.6 1041L414.6 1048L411.5 1054.5L410.2 1061.6L408.2 1068.5L404 1074.4L401.2 1082.3L398.7 1090.3L409.3 1095.6L413.6 1100.6L418.5 1105.2L421.4 1111.3L425.1 1116.8L429.1 1122.3L431.2 1129L434.9 1134.7L438.4 1140.6L442.6 1147.6L447.9 1153.8L454.2 1159.1L455.9 1166.5L460.6 1172.4L463.7 1179.2L467.5 1185.6L473.2 1190.4L477.1 1197.1L483.6 1201.1L488.6 1206.7L491.1 1215L496.1 1222.1L499.2 1230M366.9 1042.7L375.4 1038.1L382.8 1032.1L389.4 1030L395.5 1026.4L402.4 1025.2L409.3 1024.2L408.2 1032.3L406.4 1040.2L404 1048L397.7 1050.8L390.7 1050.4L383.9 1050.9L377.5 1053.3L372.7 1047.5L366.9 1042.7M152.6 944.8L156.9 937.9L160.7 930.7L165.7 924.4L171.2 918.4L177.5 922.8L183.8 927.2L191.8 928.9L197.6 934.2L205.7 933.6L213.4 931L221.6 931L229.4 928.9L237.4 923.8L245.2 918.4L249.1 912.3L254.1 907L256.9 900.1L262.1 895L266.4 889.3L262.4 884L258.8 878.4L252.7 875.1L247.5 871L245.8 863.7L239.9 860.2L246.9 861.6L253.9 863.2L261.1 862.8L254.6 857.9L251 850.4L244.4 845.7L239.9 839L247.8 841L253.7 847.4L262.3 847.7L269 852.2L268.7 845.3L268.2 838.4L267.6 831.6L265 824.9L266.4 817.8L273.1 817.7L279.6 816L286.4 817.8L292.9 815.2L289.1 821.6L286.8 828.7L282 834.6L279.6 841.6L279.3 849.5L284 856.2L286.3 863.5L286.9 871.1L287.6 878.7L292.8 884.5L294 892.8L299.2 898.7L303.4 905.1L310.2 906.1L316 909.7L322.8 910.5L328.3 915.2L335.2 915.7L342 914.8L348.3 918.1L354.9 918.7L361.6 918.4M308.7 939.5L315.4 937.7L321.8 935.2L329.1 935.5L335.2 931.6L341.7 928L347.6 923.3L354.2 920.1L361.6 918.4M464.8 1008.3L471.3 1003.3L478.8 1000.4L487.1 999.5L493.9 995.1L489.9 988.5L484.6 982.7L482.4 975L478 968.6L482.7 960.3L488.6 952.8L483.3 947.5L478 942.2L482.9 937.6L489 934.8L494.6 931.2L499.2 926.3L506 923L513.9 922.6L520.4 918.4L527.2 921.2L533.4 925.4L539.7 929.4L546.8 931.6L553.1 934.8L556.8 941.1L562.7 944.8L559.2 938.1L560 930.2L558.3 922.9L556.1 915.9L553.3 908.9L551 901.8L549.5 894.6L554.7 889.3L562.2 888.2L568 884L575.6 884.3L583 883.5L590 879.6L597.4 878.1L605 878.7L611.5 881.5L618.3 883.2L625 885L632.1 885.5L639.2 885.7L645.4 889.7L652.6 889.3L652.8 896.7L653.3 904.1L652.2 911.5L651.6 918.9L652.6 926.3L648.4 932.3L648.5 940L643.5 945.6L642.1 952.8L635.7 955.9L629.5 959.4L624.2 964.4L618.2 968.3L611.9 971.6L605 973.9L596.8 973.6L589.3 977.2L581.3 978.4L573.3 979.2L568.2 984.7L561.5 988.6L557.4 995.1L550.8 992.4L543.8 990.9L537 988.5L531 984.5L525.3 989.8L517.4 991.7L512.8 998.6L504.5 999.8L499.2 1005.7L492.5 1007.6L485.3 1006.6L478.6 1008.8L471.6 1009.1L464.8 1011M747.9 947.5L746.6 954.6L748.5 961.6L748.2 968.7L751.4 975.6L752 982.6L750.5 989.8L743.4 992.8L737.1 997.1L730.4 1000.9L724.3 1005.5L718.8 1011L717.2 1017.7L712.4 1023.2L710.3 1029.8L707.9 1036.2L705.6 1042.7L702.5 1048.5L698.8 1053.9L695.7 1059.7L689.9 1063.5L686.9 1069.3L681.7 1073.6L679.1 1079.7L673 1082.6L668.5 1087.7L662.7 1082.5L660.5 1074.8L655.3 1069.2L658.8 1063.2L662 1057.1L665.9 1051.3L668.7 1045L670.9 1038.4L673.8 1032.1L677.8 1026.6L681.9 1021L683.8 1014.3L687.4 1008.5L688.8 1001.5L692.3 995.7L696.9 990.4L700.3 984.5L704.5 978.8L709.8 974.5L715 970L721.2 966.6L726.6 962.3L732 958L738.8 951.1L747.9 947.5M697.6 677.6L707.1 677.5L716.1 675L722.3 677.7L729.1 678.4L735.1 681.7L741.4 684L748.1 684.9L754.3 687.7L761.1 688.2L756.7 693.5L750.8 697.6L747.9 704.1L741.3 700.1L733.5 699.6L726.7 696.1L720.8 692.6L715.9 687.4L708.8 685.8L703 682L697.6 677.6M261.1 661.7L267.2 665L272.8 668.9L276.3 675.2L282.5 678.4L287.6 682.9L293.4 687.1L300.2 689.5L305.9 693.8L313.1 695.3L319.3 698.8L323.7 703.7L328 708.7L333.6 712.3L339.1 716L343.5 720.9L348.4 725.2L345.7 733L346.7 741.1L345.8 749L343.5 741.7L338.5 735.7L337.7 727.7L334.1 721.1L329.9 714.7L324.2 711.2L317.5 710.2L311.9 706.5L305.2 705.8L299.1 703.5L292.9 701.4L288.3 695.8L284.7 689.6L280.4 683.8L275.3 678.6L271.7 672.3L267.3 666.2L261.1 661.7M329.9 809.9L336.1 815.2L340.5 822.2L345.8 828.4L344.3 837.8L346.8 846.9L342.4 840.5L339.4 833.4L337.8 825.8L335.5 817L329.9 809.9M327.2 886.6L330.7 880.8L335.7 876.5L341.7 873.3L345.8 868.1L344 875.1L340.5 881.3L333.4 882.9L327.2 886.6M784.9 894.6L793 894.1L801 893.1L808.6 889.8L816.7 889.3L824 890.2L831.5 889.8L838.9 890.4L846.4 889.9L853.7 891.9L860.3 891.7L866.9 890.4L873.5 889.6L880.2 891.4L886.8 891.4L893.5 891.2L899.9 888.5L906.6 889.3L900 892.1L892.9 893.3L886.3 896.4L879 897.1L873.2 902.4L865.9 903.3L859 905.1L852.5 906.2L846.2 907.9L840 910.2L833.6 911.4L827.2 913.1L822.3 908.2L816.5 904.5L811.4 899.8L804.7 899.1L798.5 895.7L791.5 896L784.9 894.6M864.3 868.1L871.2 868.6L877.7 864.7L884.9 867.8L891.6 865.8L898.2 863.7L905.1 863.3L911.9 862.8L919.3 860.3L927 859.7L934.5 858L942.2 857.5L950 857.5L943.1 859.2L936.6 862.2L930 864.8L923.6 867.8L917.2 870.7L910.6 871.3L904 869.7L897.4 869.1L890.7 872L884.1 870.1L877.5 871.1L870.9 869.3L864.3 870.7M896 783.4L902.4 781.1L909.1 779.9L915.6 778.3L922.5 778.1L929.7 776.3L936.8 774.4L943.1 770.1L950 767.6M660.6 931.6L668.6 929.2L676.6 926.7L684.4 923.7L682.9 931.6L684.4 939.5L676.2 937.6L668.7 933.6L660.6 931.6M152.6 1169.7L158.8 1166.7L163 1161.6L168 1157.4L171.2 1151.1L175.8 1146.5L181.7 1143.2L188 1138.9L191.2 1131.5L196.4 1126.2L203.7 1122.9L208.2 1116.8L215.7 1116.5L223.2 1115.6L230.5 1113.9L237.9 1113.3L245.2 1111.5L251.7 1109.5L256.8 1104.4L264.4 1105L269.5 1099.8L275.3 1096.5L282.3 1095.6L277.3 1100L271.9 1103.8L266.6 1107.7L261.1 1111.5L260.7 1118.4L265.5 1124.4L266.2 1131.1L266.4 1137.9L259.8 1145L255.8 1153.8M152.6 1190.8L159.6 1187.3L166.7 1184.2L174.5 1183L181.7 1180.3L188 1183.4L195.1 1182.5L201.4 1185.4L208.2 1185.6L216.1 1187.4L224.3 1187L231.8 1190.8L239.9 1190.8L242.4 1197.2L241 1204L243.1 1210.3L244.4 1216.8L244.2 1223.5L245.2 1230M599.7 1212L603.9 1206.7L605.7 1200.1L608.5 1194.2L613.7 1189.4L615.6 1182.9L622.5 1182.6L628.8 1185.6L625.1 1191.7L624.9 1199.3L619.4 1204.8L618.3 1212L609 1211L599.7 1212M885.4 976.6L893.3 975.3L901.2 973.8L909.3 975.1L917.2 973.9L923.6 976.1L930.5 975L937.1 975.5L943.4 978.6L950 979.2M906.6 1000.4L913.7 1002.7L921.4 1002.4L928.6 1004.4L935.1 1009.2L943.2 1007.4L950 1011M2046.1 943.8L2052.7 939.2L2060.9 938.1L2067.3 933.2L2074.5 934L2081.5 932.7L2088.3 929.4L2095.3 928.9L2102.5 929.7L2109.6 929.5L2119.1 930L2128.1 933.2L2131 941L2134.8 948.6L2136.1 957L2135.9 965L2138.2 972.8L2138.3 980.8L2138.7 988.7L2133.8 996.2L2130.8 1004.6L2126.6 1013.3L2120.2 1020.5L2113.2 1020L2107 1023.1L2109.9 1029.2L2113.6 1034.9L2114.9 1041.6L2122.5 1038.4L2130.9 1039.6L2138.9 1039.1L2146.6 1036.3L2153.2 1040.9L2161.1 1042.8L2167.8 1046.9L2171.9 1054.8L2175.7 1062.8L2174.8 1070.8L2173.1 1078.7L2166 1080.3L2159 1079.7L2151.9 1078.7L2147.3 1072.8L2141 1068.5L2136.1 1062.8L2126.8 1063.7L2117.5 1062.8L2113.9 1056.3L2110.2 1050L2107.2 1043.2L2104.3 1036.3L2101.7 1029.4L2097.2 1023.4L2094.4 1016.5L2091.1 1009.9L2083.5 1006.2L2075.2 1004.6L2072.9 998.4L2070.5 992.3L2070.5 985.6L2067.8 979.5L2067.3 972.9L2062.5 968.2L2056.3 965.5L2050.7 961.9L2046.1 957L2044.5 950.4L2046.1 943.8M2173.1 830L2179.7 833.9L2183.7 840.6L2190.7 839.2L2198 840.1L2204.8 837.9M1350 1529.8L1356.6 1529.7L1363.3 1529.1L1369.9 1530L1376.4 1532.5L1383.2 1530.3L1389.7 1532L1396.3 1533.4L1402.9 1533.1L1409.7 1531.7L1416.3 1532.2L1422.7 1535.8L1429.4 1534.9L1436 1536.8L1442.6 1536.7L1449.2 1535.2L1455.8 1535.5L1462.4 1535.2L1469.1 1534.2L1475.6 1537L1482.3 1533.5L1488.9 1534.5L1495.5 1535.1L1502.1 1537.5L1508.7 1535.7L1515.4 1535.2L1522.1 1533.6L1528.8 1533.7L1535.6 1534.7L1542.3 1534L1549.1 1535.2L1555.7 1532.9L1562.5 1533.9L1569.1 1531.8L1576 1534.5L1582.6 1531.4L1589.4 1532.9L1596 1531.7L1604 1523.8L1611.7 1526.8L1619.8 1527.8L1622.6 1534.5L1627.8 1539.7L1634 1541.8L1640.5 1542.9L1646.9 1544.1L1653.4 1545.1L1659.5 1547.6L1662.5 1554.8L1668.6 1560.2L1671.4 1567.5L1672.9 1575.3L1675.3 1583.1L1673.4 1591.4L1675.4 1599.2L1678.1 1607.1L1682.4 1614.5L1683.3 1623M1465.1 1563.5L1469.9 1557.2L1477 1553.6L1482.9 1563.5L1479 1572.2L1469 1567.5L1465.1 1563.5M1463.1 1607.1L1472.2 1606.7L1481 1609.1L1488.2 1606.2L1496 1605.2L1490.8 1612.6L1482.9 1617.1L1473.8 1618L1465.1 1615.1L1461.1 1621M1725 1462.3L1733.2 1461.4L1740.9 1464.3L1750 1470.2L1740.9 1476.2L1742.9 1470.2L1733.7 1467.8L1725 1464.3M2384.7 37.9L2379.4 42.8L2374.1 47.7L2369.7 53.5L2364.4 58.5L2358.8 63.1L2353.7 68.2L2347.7 72.3L2343.6 78.8L2341.3 86L2338.1 92.9L2338.6 101.1L2333.6 107.3L2331.8 114.7L2335.8 121.3L2343.6 124.1L2346.9 131.3L2353 135.8L2348.1 141.5L2343.8 147.8L2336.1 150.7L2331.8 157L2335.6 162.6L2339.1 168.5L2345.1 172.4L2348.3 178.5L2353 183.4L2360.2 182.9L2367 186L2373.9 187.8L2381.3 186.3L2388.2 188.8L2395.3 188.7L2393.3 195.1L2390.6 201.3L2389.4 207.9L2386.2 213.9L2384.7 220.5L2389.7 226.7L2396.1 231.4L2402.9 235.6L2408 241.6M2408 297.2L2402.9 301.8L2396.1 303.8L2390.5 307.7L2384.6 311.1L2379.4 315.7L2385.9 318.9L2390.9 324.1L2395.6 329.7L2403.5 331L2408 336.9M2025 212.5L2032.1 211.8L2038.9 215.4L2046.1 213.5L2053.2 213.3L2060.1 216.1L2067.3 215.2L2073.6 219.4L2078.6 225.1L2081.8 232.4L2089.4 235.4L2093.7 241.6L2101.1 241.2L2107.9 238.2L2114.6 235.1L2121.8 234L2128.8 231.8L2136.1 231.1L2142.1 235.1L2146.5 241.2L2152.9 244.9L2159.6 248.1L2164 254.3L2170.7 257.4L2175.7 262.8L2168.5 264.5L2161.2 262.4L2153.9 260.8L2146.6 262.8L2140.1 259.4L2133.4 256.3L2127.4 251.8L2120.2 249.6L2114.7 254.1L2108.5 257.1L2102.3 260.1L2095.1 261L2090.2 266.8L2083.2 268.1L2076.3 264.2L2069.3 260.5L2062 257.5L2055.4 253.6L2048 250.9L2042.5 245L2035.5 241.6L2031 234.4L2025 228.4L2025 220.5L2025 212.5M2189 262.8L2196.2 265.4L2204.1 264.6L2211.5 266L2218.9 267.5L2226 270.7L2232.5 269L2239 267.1L2245.9 268.2L2252.4 266.5L2259.3 267.6L2265.8 265.5L2272.4 264.4L2278.9 262.8L2284.9 266L2291.7 266.3L2297.5 270.1L2304.6 269.6L2310.7 272.3L2303.4 274.7L2295.8 274.7L2288.2 274.8L2280.8 276L2273.6 278.7L2266.7 280.1L2260.1 276.7L2253.1 279.2L2246.4 277.2L2239.7 275.7L2232.8 277.3L2226 276L2219.2 279.8L2211 278.3L2204.3 282.5L2196.9 284L2193.6 277.2L2189.8 270.5L2189 262.8M2405.9 545.9L2401.8 551.4L2394.4 552.6L2390.3 558.2L2385.4 562.7L2380.1 566.6L2375.1 570.9L2369.8 574.8L2363.2 577.1L2359.2 582.9L2351.8 584L2348 589.9L2342.4 593.4L2336.2 596.3L2331.8 601.4L2325.6 604.4L2318.2 603.6L2312 606.7L2305.4 608.4L2298.7 609.9L2292.2 612.1L2285.9 615.2L2278.5 613.8L2272.1 616.6L2266.1 620.4L2259.6 622.7L2252.5 622.6L2245.1 624.2L2237.9 626.7L2229.9 625.3L2223.1 629.8L2215.4 630M2407.5 547.5L2401.5 552L2395.6 556.8L2388.9 560.5L2384.5 567L2378.3 571.3L2371.8 575.2L2366.2 579.4L2360.1 582.8L2354.7 587.3L2349.3 591.8L2342.4 594.1L2336.7 598.1L2331 602L2326.8 608.2L2320.2 611L2314.4 614.8L2307.9 617.5L2303 622.6L2298 627.5L2291.3 630L2286.9 635.8L2280.5 638.7L2273.5 640L2267.5 643.2L2261.7 647L2255 648.9L2250.1 654.7L2242.5 654.4L2236.9 658.6L2231.1 663.9L2223.8 666.8L2217 670.5L2212.2 676.1L2205 678.9L2201.5 686.1L2195.1 689.9L2189.2 694.3L2183.2 699.9L2174.7 701.1L2168.3 706L2161.5 710.2L2155.3 713L2152 719.6L2145.6 722.1M2355.9 642.7L2362.4 639.8L2368.5 635.7L2375.7 634.8L2380.9 640.2L2386.9 644.7L2391.6 650.6L2396.6 656.2L2403.1 660.3L2407.5 666.5M1869.5 407.4L1876 403.8L1883.5 402.2L1889.4 397.5L1894.8 393.2L1898.3 387.6L1901.3 381.6L1907.7 388.1L1913.2 395.5L1919.8 396.1L1926.3 398L1933 397.5L1935.3 403.6L1937.1 409.9L1941 415.3L1948.3 418.9L1953.5 425.6L1960.8 429.2L1968.2 433.5L1973.5 440.5L1980.6 445.1L1985.9 441.1L1992.1 438.3L1996.5 433.2L2002.6 428.3L2009.2 424.4L2016.3 421.3L2024.4 416.5L2032.2 411.3L2038.7 409.7L2045.5 411L2052.1 409.4L2048 416.3L2044.1 423.3L2051.3 425.5L2058 428.6L2064 433.2L2056.3 437L2048.1 439.1L2043 445.1L2036.2 449L2043.5 453.6L2048.1 461L2039.8 461.5L2032.2 464.9L2035.3 471.5L2039.6 477.2L2044.1 482.8L2035.7 482.7L2028.3 478.8L2021.7 472.4L2016.3 464.9L2010.4 470.8L2004.4 476.8L2005.6 485L2008.4 492.7L2001.8 495.3L1995.1 497.7L1988.6 500.6L1983.4 493.3L1980.6 484.8L1975 478.5L1968.7 472.9L1964.1 477.7L1961.2 483.8L1956.8 488.7L1951.9 493.3L1950 500.2L1944.9 504.6L1937.2 501.8L1929 500.6L1932.1 509L1937 516.5L1928.8 520L1921.1 524.4L1918 516.8L1917.1 508.6L1910.5 513.9L1905.2 520.5L1899 523.9L1892 524.5L1885.4 526.4L1888.8 520.6L1892.4 514.9L1897.2 510L1901.3 504.6L1905.2 498L1911 493.2L1917.1 488.7L1922.3 482.8L1925.8 475.9L1929 468.9L1920.6 466L1913.2 461L1905.3 462.8L1897.3 462.9L1903.5 456.2L1909.2 449L1914.8 445.5L1919.8 441.1L1925.1 437.1L1923.8 429L1921.1 421.3L1913.1 418.5L1905.2 415.3L1897.5 412.5L1889.4 413.3L1882.9 410.9L1875.7 411L1869.5 407.4M1881.4 528.4L1888.6 529.6L1895.3 532L1901.3 536.3L1898 544.6L1893.3 552.2L1896 558.5L1902.1 562.2L1905.2 568.1L1899.2 572.7L1896 580L1889.4 584L1894.8 590.7L1902.7 594.4L1909.2 599.8L1906.6 608.5L1901.3 615.7L1908.2 620.5L1914.7 626.1L1921.1 631.6L1927.3 636.3L1934.2 639.7L1941 643.5L1946.8 638.2L1953.9 635L1960.8 631.6L1964.6 626.2L1970.6 622.8L1974.7 617.7L1972.4 624.9L1968.9 631.7L1968.7 639.5L1963.9 644.2L1961.9 650.9L1956.8 655.4L1961.8 660.7L1964.8 667.3L1957.1 671.7L1948.9 675.2L1945.9 666.8L1941 659.4L1935.2 656L1930.6 651.1L1925.1 647.5L1917.5 644.1L1909.2 643.5L1905.1 649.9L1898.3 653.7L1893.3 659.4L1885.2 659.6L1877.6 662.7L1869.5 663.3L1873.5 658.1L1878.2 653.3L1881.4 647.5L1876.8 641.5L1871.5 636.3L1865.6 631.6L1870.2 626.8L1874.3 621.6L1877.5 615.7L1869.3 613.6L1861.5 610.8L1853.7 607.8L1858 601.5L1862.9 595.8L1869.5 591.9L1864 587.8L1862.6 580.6L1857.6 576L1864 572.7L1870.5 570L1877.5 568.1L1870.5 566.2L1864.2 562.8L1857.6 560.2L1864.9 557.3L1870.3 551.4L1877.5 548.3L1873 542.6L1869.5 536.3L1875.5 532.5L1881.4 528.4M1941 572.1L1947 568L1953.6 565.3L1960.8 564.1L1964.8 558.6L1971.5 556L1976.8 551.9L1980.6 546.3L1988.3 542.8L1996.6 541.3L2004.4 538.3L2011.5 542.3L2018.3 546.7L2024.3 552.2L2029.6 556.5L2033.3 562L2036.2 568.1L2042 573.5L2048.7 578L2054 584L2045.3 587L2036.2 587.9L2029.1 592.8L2024.3 599.8L2019.6 594L2012.3 590.6L2008.4 584L2000.5 579.9L1992.5 576L1995.2 584.6L2000.5 591.9L1992.8 589L1984.6 587.9L1978.9 584.5L1973.3 580.9L1968.7 576L1963.3 582.5L1956.8 587.9L1949 585.5L1941 584L1941 572.1M2036.2 337.9L2042.8 340.7L2049.7 342.5L2056 345.9L2063.8 343.2L2071.9 343.9L2072.9 350.6L2075.8 356.4L2079.8 361.7L2084.4 369.1L2091.7 373.7L2088.4 379.4L2085 385.2L2079.8 389.5L2082.9 397.9L2087.8 405.4L2096.5 409.1L2103.7 415.3L2109.7 419.5L2117.3 419.5L2123.5 423.3L2126.6 417.2L2132.3 413L2134.3 406.1L2139.4 401.4L2132 407.2L2127.5 415.3L2122.6 423.2L2115.6 429.2L2108.9 428.2L2102 428.4L2095.7 425.2L2090.7 418.4L2083.8 413.3L2078.6 406.6L2071.9 401.4L2068.6 393.8L2067.9 385.6L2071.3 377.3L2075.9 369.7L2070.3 363.4L2064 357.8L2056.5 352.9L2048.1 349.8L2043.3 342.7L2036.2 337.9M2064 464.9L2072.5 465.9L2079.7 470.8L2087.8 472.9L2095.9 469.3L2103.7 464.9L2110.5 468.6L2116.1 474.2L2123.5 476.8L2131 472L2139.4 468.9L2135.3 463L2131.4 457L2137.9 454.6L2141.7 448.6L2147.3 445.1L2154.4 446.6L2160.8 449.6L2167.1 453L2169.6 459.4L2169.6 466.3L2171.1 472.9L2165.5 479.1L2159.2 484.8L2165.9 483.9L2172.7 483.6L2179 480.8L2179 473.9L2181.6 467.5L2183 461L2191 462.1L2199 462.7L2206.8 464.9L2211.7 470.4L2217.9 474.2L2224.2 477.5L2230.6 480.8L2237.4 483.7L2244.3 486.4L2251 489.5L2258.4 490.7L2251.7 492.5L2245 494L2238.6 496.7L2244 501.2L2248.1 507L2252.9 512.1L2258.4 516.5L2250.5 517.1L2242.5 516L2234.6 516.5L2228.1 512.9L2220.2 514.2L2214.3 508.9L2206.8 508.6L2200.1 510.9L2192.8 509.6L2185.9 511L2179 512.5L2171.1 511.4L2163 510.7L2155.2 508.6L2150.1 515.9L2147.3 524.4L2144.7 517.3L2140.2 511.1L2136.7 504.3L2135.4 496.7L2127.5 495.2L2119.4 495L2111.6 492.7L2104.9 491.3L2100.6 485L2094.6 482L2087.8 480.8L2082.3 476.2L2076.5 472L2070.2 468.5L2064 464.9M2167.1 413.3L2175 411.6L2183.2 413L2190.7 408.4L2198.9 409.4L2193.7 414.6L2185.9 415.7L2181.8 422.4L2175.1 425.2L2178.8 432.8L2182.1 440.5L2183 449L2175.5 444.2L2167.1 441.1L2162.8 436.1L2159.5 430.3L2155.2 425.2L2160 418.1L2167.1 413.3M2083.8 584L2088.9 588.2L2095.5 590.4L2099.7 595.9L2108.2 594.9L2114.9 588.7L2123.5 587.9L2119.7 581.8L2119.5 574.2L2115.6 568.1L2120.7 572.7L2127 575L2134.2 575.4L2139.4 580L2146.4 584.9L2151.3 591.9L2155.5 598.3L2162 602.3L2167.1 607.8L2171.5 602.1L2176.2 596.6L2180.2 590.7L2183 584L2188.2 578.9L2195.4 576.7L2200.4 571.4L2206.8 568.1L2203.8 574.7L2199.2 580.2L2194 585.3L2191 591.9L2197.2 588.3L2203.4 584.8L2210.8 584L2213 590.3L2216.3 596.1L2220.8 601.3L2222.7 607.8L2220.9 615.8L2218.7 623.7L2224.8 626.9L2231.2 629.1L2237.2 632.5L2244.7 631.6L2250.5 635.6L2243.3 640.2L2238.6 647.5L2231.6 648.2L2225.1 650.6L2218.9 653.9L2212.2 655.7L2205 655.7L2198.9 659.4L2190.6 658.9L2183.1 662.9L2175.2 664.4L2167.1 665.3L2161.2 661.4L2155.8 656.9L2151.3 651.4L2158.1 649.9L2165.2 650L2172.2 649L2179 647.5L2172.8 643.8L2165.3 643.4L2159.2 639.5L2151.2 639.2L2143.1 639.3L2135.5 636L2127.5 635.6L2119.2 633.9L2111.1 631.7L2103.7 627.6L2095.7 626.2L2087.9 624.3L2079.8 623.7L2088.3 620.6L2095.7 615.7L2088.7 614.1L2083 609.2L2075.9 607.8L2081.3 603L2087.8 599.8L2085.4 592L2083.8 584M2230.6 532.4L2238.6 531L2246.8 531.3L2254.4 528.4L2260.1 524.9L2265.9 521.6L2272.9 520.8L2278.3 516.5L2286.5 517L2294.1 513.9L2302.1 512.5L2300.7 504.2L2295.6 497.1L2294.1 488.7L2294.3 481.8L2291 475.6L2290.2 468.9L2298.2 467.5L2306 464.9L2307.4 473L2310 480.8L2316.3 475.1L2322.3 469.1L2329.8 464.9L2336.5 465.5L2343.1 464.3L2349.7 464.9L2354.9 469.3L2359.2 474.3L2361.6 480.8L2355.8 484.1L2350.1 487.5L2345.7 492.7L2353.1 494.6L2360.1 497.5L2366.8 501L2373.5 504.6L2371.2 511L2371.1 517.9L2369.5 524.4L2362.7 526.6L2355.9 528.2L2348.5 526.3L2341.7 528.4L2334.9 526.3L2328.8 522.4L2321.9 520.5L2317.6 525.5L2314.9 531.8L2310 536.3L2316.5 539.3L2322.7 542.9L2329.8 544.3L2336.2 547.1L2343.2 546.3L2349.7 548.3L2344.7 552.8L2340.8 558.1L2337.8 564.1L2330.6 567.6L2323.3 571L2316.1 574.5L2310 580L2303.5 581.9L2297.9 586.3L2290.3 585.4L2283.9 587.7L2278.3 591.9L2270.5 594.4L2262.4 595L2254.4 595.9L2247.3 594.7L2241 590.4L2233.1 591.7L2226.7 587.9L2231.4 583.3L2236.6 579.1L2242.5 576L2250.3 573.4L2258.1 571.6L2266.3 572.1L2272.8 569.9L2279.7 570.2L2286.2 568.1L2279 565.7L2272.4 561.9L2264.9 560.2L2258.4 556.2L2252.4 552L2245.3 550.6L2238.6 548.3L2233.6 540.8L2230.6 532.4M2262.4 349.8L2269 344.6L2274.3 337.9L2277.2 344L2283.4 347.6L2286.2 353.8L2294.2 355.4L2302.2 357.4L2310 359.8L2316 364.2L2323.8 365.1L2329.8 369.7L2338 368.7L2345.6 372.7L2353.5 373.9L2361.6 373.7L2367.8 377L2374.5 378.7L2381.4 379.6L2374.9 381.1L2368.4 382.7L2361.6 381.6L2364.7 388.7L2369.8 394.7L2373.5 401.4L2377.7 407.1L2384.5 410.3L2389.4 415.3L2393.3 421.3L2398.8 426.7L2404.9 431.4L2410 437.1L2402.9 440.3L2395.4 442.3L2389 447.1L2381.4 449L2385.3 442.3L2393 439.4L2397.3 433.2L2392.5 428.6L2387.4 424.3L2380.9 422L2376.5 416.8L2370.3 414.1L2365.6 409.4L2360.4 403.9L2354.4 399.4L2349.7 393.5L2341.6 392.8L2333.5 392.5L2325.9 389.5L2319.6 385.2L2311.6 385.5L2305.3 381.4L2298.1 379.6L2293.7 371.9L2290.2 363.7L2284.1 358.5L2276 357.3L2269.9 352.2L2262.4 349.8M2410 603.8L2404.3 607.6L2398 610.5L2393.3 615.7L2394.6 623.8L2397.3 631.6L2390.8 633.7L2384 632.4L2377.6 635.2L2370.9 634.7L2364.2 634.9L2357.6 635.6L2353.7 645.5L2361.2 646.3L2367.6 650.1L2373.9 654.6L2381.4 655.4L2386.3 660L2392.6 662.2L2398 666L2405 666.9L2410 671.3M1686.5 515.7L1693.3 517.5L1700.4 517.4L1707.2 519.9L1714.3 519.7L1722.2 511.7L1728 518L1731.8 525.8L1738.1 531.6L1744.9 527.9L1752.1 525L1757.9 519.7L1764.9 522.4L1772.2 521.1L1779.4 521.7L1786.7 520.9L1793.7 523.7L1794.2 515.3L1797.6 507.8L1807.5 515.7L1805.1 522.2L1801.1 527.9L1795.9 532.9L1793.7 539.5L1799.9 546.2L1805.6 553.4L1798.1 550.9L1791.8 546.4L1785.7 541.5L1778.8 539.8L1771.5 540.2L1765 536.3L1757.9 535.6L1752.1 540.4L1744.3 541.4L1738.1 545.5L1729.9 547.8L1722.2 551.4L1717.1 556.4L1709.7 557.3L1705.3 563.5L1698.4 565.3L1700.9 572.4L1699.7 580.1L1702.4 587.1L1695.4 590.5L1690.1 596.7L1682.5 599L1686.5 611L1679.4 613L1672 614.1L1665.2 616.9L1658.7 620.9L1662.8 626.4L1669.5 628.6L1674.6 632.8L1682.5 631.8L1690.6 633L1698.4 630.8L1702.4 642.7L1709 645.4L1716.3 646.3L1722.2 650.6L1730.3 651.2L1738.3 652.2L1746 654.6L1753 657.5L1759.7 661.1L1767.4 662.3L1773.8 666.5L1767.2 662.5L1763.1 656.1L1757.9 650.6L1765.9 646.7L1759.1 643.9L1753.2 639.9L1747.7 635.2L1742.1 630.8L1736.8 625.7L1730.2 622.9L1736.4 618.5L1740.5 612L1746 607L1749.7 600.7L1754.7 595.8L1759.9 591.1L1765.9 587.1L1774 587.1L1781.8 584.7L1789.7 583.2L1799.1 581.6L1807.5 577.2L1799.6 579.1L1792.3 582.4L1785.7 587.1L1779.4 592.7L1773.8 599L1768 604.3L1761.5 608.5L1754 611L1746.1 615L1738.1 618.9L1733.2 624.2L1729.4 630.3L1726.2 636.7L1720.5 632.9L1714.7 629L1708.5 626.1L1702.4 622.9L1696.9 618.7L1694.1 612.5L1690.5 607L1696 601.9L1700.5 595.8L1706.3 591.1L1703.6 582.6L1698.4 575.2L1700.9 568.9L1705.9 564.3L1710.3 559.4L1703.6 558.6L1697 557.1L1690.5 555.4L1688.2 548.9L1690.2 542.1L1688.9 535.5L1687.7 529L1688.3 522.2L1686.5 515.7M155.3 1442.3L164.3 1438.8L173.8 1437L178.6 1441.7L184.4 1445L193.6 1446.5L202.9 1447.6L213.5 1445L209.4 1439.7L205.6 1434.4L202.2 1428.6L197.6 1423.8L202.9 1415.9L209.1 1419.6L216.1 1421.2L222 1428.5L229.4 1434.4L235.5 1438.3L242.6 1439.7L251.9 1438.9L261.1 1439.7L267.4 1436.1L274.3 1434.4L281.9 1439.1L290.2 1442.3L298.1 1434.4L306.1 1431.7L304 1422.6L304.8 1413.2L302.3 1406.2L298.1 1400M152.6 1471.4L159.8 1470.1L165.9 1466.1L175 1463.8L184.4 1463.5L191.3 1464.5L196.7 1468.9L202.9 1471.4L208.5 1479.2L213.5 1487.3L210.5 1493.6L210.8 1500.5L214.7 1506.7L216.1 1513.8L207.3 1517.8L197.6 1519L205.5 1520.8L213.8 1519.9L221.2 1524.6L229.4 1524.3L234.7 1534.9L241.1 1530.7L248.8 1529.8L255.8 1527L265.2 1527.7L274.3 1529.6L281.6 1534.9L290.2 1537.6L299.9 1536.5L308.7 1532.3L316.6 1529.6L324.9 1527.7L332.5 1524.3L333.2 1531.1L335.2 1537.6L333.5 1545.4L332.5 1553.4L325.2 1556.2L319.3 1561.4L312.5 1563.5L306.1 1566.7L298.1 1572L304.8 1575.7L312.7 1575.9L319.3 1579.9L327.2 1578L335.2 1577.2L342.9 1579.8L351.1 1579.9L358.1 1581.2L363.7 1585.5L369.6 1589.2L374.9 1585.2L379.5 1579L382.8 1572L391.6 1569.6L398.7 1564L406.7 1561.6L414.6 1558.7L421.6 1556.8L428.7 1559.2L435.7 1558.7L443.1 1557.9L449.2 1554L455.2 1549.9L462.2 1548.1L467.7 1544L470.1 1537.6L480.7 1532.3L487.7 1528.9L493.9 1524.3L501.2 1525.2L508.3 1524.5L515.1 1521.7L524.5 1521.9L533.6 1524.3L541 1518.8L550 1516.4M319.3 1476.7L326.9 1473.6L335.2 1474.1L342.6 1478.2L351.1 1479.4L357.3 1482.1L361.6 1487.3L367.9 1490.8L374.9 1492.6L381.8 1492.8L388.1 1489.9L394.9 1487.7L401.3 1484.7L408.2 1484.8L414.6 1487.3L411.9 1497.9L405.3 1496.4L398.7 1495.2L390.6 1495.7L382.8 1497.9L374.7 1498.4L366.9 1500.5L358.4 1497.8L351.1 1492.6L343.4 1489.1L335.2 1487.3L329.3 1482.8L322 1482L319.3 1476.7M340.5 1426.5L348.5 1424L356.3 1421.2L365.7 1421.8L374.9 1419.8L380.8 1424.6L388.1 1426.5L396.4 1428L404 1431.7L398.7 1442.3L406.3 1446.9L414.6 1450.3L423.7 1452.2L433.1 1452.9L438.4 1458.7L441 1466.1L436 1471.7L430.4 1476.7L422.3 1471.7L414.6 1466.1L406.9 1462.1L401.3 1455.6L395.3 1459.7L388.1 1460.8L380.2 1468.8L370.9 1467.3L361.6 1466.1L354.5 1459.7L345.8 1455.6L342.4 1447.9L340.5 1439.7L341.1 1433.1L340.5 1426.5M290.2 1476.7L293.5 1469.7L298.1 1463.5L300.9 1454.9L306.1 1447.6L307.3 1439.2L311.4 1431.7L311.3 1438.6L314 1445L310.9 1451.7L311.7 1459.4L308.7 1466.1L305.3 1473.1L300.8 1479.4L290.2 1476.7M441 1431.7L449.3 1428.5L456.9 1423.8L463.1 1420.4L468.5 1415.5L475.4 1413.2L472.8 1405.3M441 1452.9L448.8 1449.7L456.9 1447.6L464.9 1447.8L472.7 1450.1L480.7 1450.3" fill="none" stroke="#a0a0a0" stroke-width="1" stroke-linejoin="round" shape-rendering="crispEdges"/></g>
<g id="grid"><path d="M148.3 1578.5H2410.5M148.3 1448.9H2410.5M148.3 1319.4H2410.5M148.3 1189.8H2410.5M148.3 1060.3H2410.5M148.3 930.7H2410.5M148.3 801.1H2410.5M148.3 671.6H2410.5M148.3 542.1H2410.5M148.3 412.5H2410.5M148.3 283H2410.5M148.3 153.4H2410.5" stroke="#a8a8a8" stroke-width="2.6" stroke-dasharray="5 15.465" fill="none"/>
<path d="M214.4 46.1V1625M430.3 46.1V1625M646.2 46.1V1625M862.1 46.1V1625M1078 46.1V1625M1293.9 46.1V1625M1509.8 46.1V1625M1725.7 46.1V1625M1941.6 46.1V1625M2157.5 46.1V1625M2373.4 46.1V1625" stroke="#000" stroke-width="2.9" stroke-dasharray="5 15.452" fill="none"/></g>
</defs>
<g transform="translate(0 0)">
<g clip-path="url(#cp)">
<use href="#coast"/>
<g fill="none" stroke-width="3.5" stroke-linejoin="miter" stroke-linecap="round" shape-rendering="crispEdges">
<path stroke="#a000c8" d="M1552.4 53.5l-6.4 -4.8m3.6 10.4l-3.6 -10.4l11 0.6M1579.4 53.5l-7.9 1m9.8 4.9l-9.8 -4.9l8.3 -7.3M1606.4 53.5l-6.4 -6.8m1.7 10.9l-1.7 -10.9l10.7 2.5M1687.3 53.5l-9.7 0.1m9.2 6.1l-9.2 -6.1l9.1 -6.2M1714.3 53.5l-9.8 -1.7m7.9 7.6l-7.9 -7.6l10.1 -4.5M1741.3 53.5l-9.7 -4m6.1 9.2l-6.1 -9.2l10.8 -2.2M1768.3 53.5l-6.5 -7.3m1.4 10.9l-1.4 -10.9l10.6 2.8M1795.3 53.5l-3.5 -8.6m-2.2 10.8l2.2 -10.8l9.2 6.1M1768.3 69.6l-5.6 -8.8m-0.3 11l0.3 -11l10.1 4.4M1795.3 69.6l-2.3 -9.7m-3.8 10.3l3.8 -10.3l8.1 7.4M1822.3 69.6l-4.5 -9.2m-1.5 10.9l1.5 -10.9l9.5 5.5M1849.3 69.6l-5 -6.3m0.9 11l-0.9 -11l10.5 3.3M1822.3 85.8l-2.9 -9.7m-3.2 10.5l3.2 -10.5l8.5 6.9M1849.3 85.8l-4.9 -6.6m0.4 11l-0.4 -11l10.4 3.7M1471.4 102l-2.8 -9.2m-3.3 10.5l3.3 -10.5l8.5 7M1822.3 102l-4.5 -8.7m-1.3 10.9l1.3 -10.9l9.6 5.3M1849.3 102l-5.8 3.2m11 1l-11 -1l5 -9.8M1471.4 118.2l-3.6 -8.5m-2.1 10.8l2.1 -10.8l9.2 6M1822.3 118.2l5.8 3.2m-5.1 -9.8l5.1 9.8l-10.9 1.1M1849.3 118.2l-5.9 3.7m11 0.4l-11 -0.4l4.5 -10M1822.3 134.4l7 -0.5m-9.5 -5.5l9.5 5.5l-8.7 6.8M1849.3 134.4l-1.4 7.9m7.7 -7.9l-7.7 7.9l-4.4 -10.1M1795.3 150.6l8.3 -4.4m-10.9 -1.2l10.9 1.2l-5.2 9.7M1822.3 150.6l6.7 0.5m-8.6 -6.8l8.6 6.8l-9.6 5.4M1849.3 150.6l0.1 8.4m6 -9.2l-6 9.2l-6.3 -9M1849.3 166.8l-1.2 7.7m7.5 -8.1l-7.5 8.1l-4.7 -10M1417.4 247.7l2.8 9.7m3.4 -10.5l-3.4 10.5l-8.4 -7M1444.4 247.7l8.1 6.3m-3.4 -10.4l3.4 10.4l-11 -0.7M1417.4 263.9l0.9 10.5m5.4 -9.6l-5.4 9.6l-6.9 -8.6M1444.4 263.9l1.3 9.5m4.8 -9.9l-4.8 9.9l-7.4 -8.2M1471.4 263.9l10.1 1.2m-8.3 -7.2l8.3 7.2l-9.8 5M1390.4 280.1l4.6 6.3m-0.4 -11l0.4 11l-10.4 -3.7M1417.4 280.1l0 9.1m6.2 -9.1l-6.2 9.1l-6.2 -9.1M1444.4 280.1l2.8 9m3.2 -10.5l-3.2 10.5l-8.6 -6.9M1471.4 280.1l9.4 1.4m-8.1 -7.4l8.1 7.4l-9.9 4.8M1390.4 296.3l4.2 6.8m0.4 -11l-0.4 11l-10 -4.5M1417.4 296.3l-2.8 9.6m8.5 -7l-8.5 7l-3.4 -10.5M1444.4 296.3l0.3 9.6m5.9 -9.3l-5.9 9.3l-6.4 -8.9M1417.4 312.5l-2.8 10.1m8.4 -7.1l-8.4 7.1l-3.5 -10.4M1228.5 361.1l7.6 1.5m-7.7 -7.8l7.7 7.8l-10.2 4.2M1255.5 361.1l7.6 1.4m-7.9 -7.7l7.9 7.7l-10.1 4.4M1282.5 361.1l8.3 -0.6m-9.6 -5.4l9.6 5.4l-8.6 6.8M1309.5 361.1l0.3 -8.8m-6.5 8.9l6.5 -8.9l5.8 9.4M1336.5 361.1l-0.9 8.5m7.1 -8.4l-7.1 8.4l-5.1 -9.7M1174.5 377.3l-0.1 -9.5m-6 9.2l6 -9.2l6.3 9M1201.5 377.3l2.9 -8.1m-8.8 6.5l8.8 -6.5l2.7 10.7M1228.5 377.3l-0.1 9.3m6.2 -9.1l-6.2 9.1l-6.1 -9.2M1309.5 377.3l-0.7 -8.4m-5.3 9.6l5.3 -9.6l6.9 8.5M1336.5 377.3l-3.3 8.9m8.9 -6.4l-8.9 6.4l-2.6 -10.7M1363.4 377.3l-6.2 3.3m10.9 1.1l-10.9 -1.1l5.2 -9.7M1471.4 377.3l-8.4 -0.6m8.7 6.8l-8.7 -6.8l9.5 -5.5M1147.5 393.5l7.3 -4.5m-11 -0.5l11 0.5l-4.6 10M1174.5 393.5l-0.5 -9.8m-5.7 9.4l5.7 -9.4l6.6 8.8M1363.4 393.5l-5.3 5.2m10.8 -2.1l-10.8 2.1l2.1 -10.8M1417.4 393.5l8.2 -4.4m-10.9 -1.1l10.9 1.1l-5.1 9.7M1120.5 409.6l-9.9 -3.9m6.2 9.1l-6.2 -9.1l10.7 -2.4M1363.4 409.6l8.1 5.6m-4 -10.2l4 10.2l-11 -0.1M1120.5 425.8l-9.8 -0.7m8.6 6.8l-8.6 -6.8l9.6 -5.4M1363.4 425.8l9.2 5.4m-4.8 -9.9l4.8 9.9l-11 0.7M1093.5 442l8.9 0.6m-8.7 -6.7l8.7 6.7l-9.5 5.6M1390.4 442l9.8 -0.1m-9.2 -6.1l9.2 6.1l-9.1 6.2M1390.4 458.2l9.8 -0.6m-9.5 -5.6l9.5 5.6l-8.7 6.7M1066.6 474.4l-1.3 8.6m7.5 -8.1l-7.5 8.1l-4.7 -9.9M1039.6 490.6l-0.2 10.2m6.3 -9l-6.3 9l-6 -9.2M1417.4 490.6l0.3 -8.2m-6.5 8.9l6.5 -8.9l5.8 9.4M1417.4 506.8l-1 -8.5m-5.1 9.7l5.1 -9.7l7.1 8.4M1417.4 523l-0.4 -9.2m-5.7 9.4l5.7 -9.4l6.6 8.8M1417.4 539.2l-0.4 10.6m6.5 -8.9l-6.5 8.9l-5.8 -9.3M1012.6 555.4l-6.4 -1.2m7.8 7.7l-7.8 -7.7l10.1 -4.4M1417.4 555.4l0.3 10.6m5.9 -9.3l-5.9 9.3l-6.4 -9M1444.4 555.4l-4 -4.8m1.1 10.9l-1.1 -10.9l10.6 3M1012.6 571.5l-6.3 -1.1m8 7.6l-8 -7.6l10 -4.6M1444.4 571.5l-3.1 -6.4m-1.5 10.9l1.5 -10.9l9.5 5.5M1012.6 587.7l6.3 2.5m-6.2 -9.1l6.2 9.1l-10.7 2.3M1444.4 587.7l-2.8 -7.7m-2.6 10.7l2.6 -10.7l8.9 6.4M985.6 603.9l-6.5 0.5m9.6 5.4l-9.6 -5.4l8.6 -6.8M1012.6 603.9l6.6 0.3m-8.8 -6.6l8.8 6.6l-9.4 5.7M985.6 620.1l-6.3 0.8m9.8 4.9l-9.8 -4.9l8.2 -7.3M1012.6 620.1l7.7 0.7m-8.5 -7l8.5 7l-9.6 5.3M1444.4 620.1l-1.9 -10.2m-4.4 10.1l4.4 -10.1l7.7 7.9M1012.6 636.3l-6 4.3m11 -0.4l-11 0.4l3.8 -10.3M1012.6 652.5l-6 1.1m10.1 4.4l-10.1 -4.4l7.9 -7.7M1012.6 668.7l-6.2 2.9m10.9 1.7l-10.9 -1.7l5.7 -9.4M1012.6 684.9l-5.9 2.5m10.8 2.1l-10.8 -2.1l6 -9.2M1444.4 684.9l-5.2 -7.7m0.1 11l-0.1 -11l10.2 4.1M1012.6 701.1l-6.1 2.5m10.8 2.2l-10.8 -2.2l6.1 -9.1M1444.4 701.1l-5.8 -4.1m3.8 10.3l-3.8 -10.3l11 0.3M1444.4 717.3l-6.6 -6.4m2.2 10.8l-2.2 -10.8l10.8 2M2038.2 733.4l-7.8 1.1m9.9 4.9l-9.9 -4.9l8.2 -7.3M2065.2 733.4l8.3 0.1m-9.1 -6.2l9.1 6.2l-9.2 6.1M2092.2 733.4l0.5 -8.3m-6.6 8.8l6.6 -8.8l5.6 9.4M2146.2 733.4l7.1 4.4m-4.5 -10.1l4.5 10.1l-11 0.4M2173.1 733.4l5.8 6.4m-1.6 -10.9l1.6 10.9l-10.7 -2.6M2200.1 733.4l-1.8 -9.6m-4.4 10.1l4.4 -10.1l7.7 7.9M1525.4 749.6l7.9 1.3m-8 -7.6l8 7.6l-10 4.6M1984.2 749.6l0.2 -9.1m-6.4 9l6.4 -9l5.9 9.3M2011.2 749.6l-7.6 0.4m9.5 5.6l-9.5 -5.6l8.7 -6.7M2038.2 749.6l-7.3 3.4m10.9 1.8l-10.9 -1.8l5.7 -9.4M2065.2 749.6l0 -8m-6.2 9.1l6.2 -9.1l6.1 9.1M2092.2 749.6l0.6 -8.8m-6.8 8.6l6.8 -8.6l5.5 9.5M2119.2 749.6l7.8 -2.6m-10.6 -3l10.6 3l-6.7 8.7M2146.2 749.6l8.1 -1.8m-10.2 -4l10.2 4l-7.5 8M2173.1 749.6l7.9 3.9m-5.5 -9.5l5.5 9.5l-10.9 1.5M2200.1 749.6l0.3 -10.2m-6.4 8.9l6.4 -8.9l5.8 9.3M1147.5 765.8l1.2 -6.6m-7.7 7.9l7.7 -7.9l4.4 10.1M1471.4 765.8l8.3 5.9m-3.9 -10.3l3.9 10.3l-11 -0.2M1903.2 765.8l-6.8 -0.8m8.4 7.1l-8.4 -7.1l9.8 -5.1M1930.2 765.8l-6.4 -4.8m3.6 10.4l-3.6 -10.4l11 0.5M1984.2 765.8l7.4 -6.2m-10.9 1.2l10.9 -1.2l-3 10.6M2011.2 765.8l8 1.7m-7.7 -7.9l7.7 7.9l-10.2 4.2M2038.2 765.8l7.8 3m-6.3 -9l6.3 9l-10.7 2.5M2065.2 765.8l-3.8 -7.4m-1.2 10.9l1.2 -10.9l9.7 5.2M2146.2 765.8l10.5 -0.1m-9.2 -6l9.2 6l-9 6.3M2173.1 765.8l9.8 1m-8.5 -7l8.5 7l-9.7 5.2M2200.1 765.8l7 4m-4.9 -9.9l4.9 9.9l-11 0.8M2254.1 765.8l-5.5 -7.2m0.7 11l-0.7 -11l10.4 3.5M1147.5 782l-0.5 -6.9m-5.5 9.5l5.5 -9.5l6.7 8.7M1174.5 782l-2.5 9.3m8.3 -7.2l-8.3 7.2l-3.5 -10.4M1255.5 782l-1.4 7.9m7.7 -7.9l-7.7 7.9l-4.4 -10.1M1282.5 782l-7.7 2m10.4 3.7l-10.4 -3.7l7.3 -8.2M1309.5 782l-7.8 2.3m10.5 3.4l-10.5 -3.4l7 -8.5M1498.4 782l0.9 -8.5m-7.1 8.4l7.1 -8.4l5.1 9.7M1525.4 782l-0.4 -8m-5.6 9.4l5.6 -9.4l6.6 8.8M1552.4 782l-0.8 -6.6m-5 9.8l5 -9.8l7.2 8.3M1822.3 782l9.7 1.9m-7.7 -7.8l7.7 7.8l-10.1 4.2M1849.3 782l8.8 0.2m-9 -6.3l9 6.3l-9.2 6M1876.2 782l7.9 2.9m-6.4 -8.9l6.4 8.9l-10.7 2.6M1903.2 782l-1.2 -6.5m-4.3 10.1l4.3 -10.1l7.8 7.8M1930.2 782l-6.6 -5.3m3.2 10.5l-3.2 -10.5l11 1M1957.2 782l1.5 -9.1m-7.5 8l7.5 -8l4.6 10M2281.1 782l9.9 -0.3m-9.3 -5.9l9.3 5.9l-9 6.4M2308.1 782l10.2 1.7m-8 -7.5l8 7.5l-10 4.6M2335.1 782l10.1 1.6m-8 -7.5l8 7.5l-10 4.6M2362.1 782l8.5 1.2m-8.2 -7.4l8.2 7.4l-9.9 4.8M1282.5 798.2l-8.9 0m9.1 6.1l-9.1 -6.1l9.1 -6.2M1309.5 798.2l-6.1 6.4m10.7 -2.4l-10.7 2.4l1.8 -10.8M1525.4 798.2l1.7 -10.3m-7.5 8l7.5 -8l4.6 10M1552.4 798.2l-0.8 4.6m7.6 -7.9l-7.6 7.9l-4.5 -10M1579.4 798.2l6.6 -1.3m-10.1 -4.3l10.1 4.3l-7.8 7.8M1606.4 798.2l7.7 0.8m-8.4 -7.1l8.4 7.1l-9.7 5.1M1741.3 798.2l6.1 -2.3m-10.7 -2.5l10.7 2.5l-6.4 9M1822.3 798.2l7.7 0.7m-8.5 -7l8.5 7l-9.7 5.3M1849.3 798.2l9.9 3.5m-6.6 -8.8l6.6 8.8l-10.6 2.8M1876.2 798.2l9.5 -1.3m-9.9 -4.9l9.9 4.9l-8.2 7.3M2146.2 798.2l-3.6 8.3m9.3 -5.9l-9.3 5.9l-2 -10.8M2173.1 798.2l-4.1 -5.9m0.1 11l-0.1 -11l10.2 4.1M2200.1 798.2l-1.6 -6.6m-3.8 10.3l3.8 -10.3l8.1 7.4M2281.1 798.2l10.2 2.6m-7.3 -8.2l7.3 8.2l-10.4 3.7M2308.1 798.2l8.9 -0.2m-9.2 -6l9.2 6l-9 6.3M2335.1 798.2l0.1 6.4m6 -9.2l-6 9.2l-6.3 -9M1309.5 814.4l-1.7 8.2m7.9 -7.6l-7.9 7.6l-4.1 -10.2M1552.4 814.4l6.3 0.3m-8.9 -6.5l8.9 6.5l-9.4 5.8M1579.4 814.4l5.3 -3.7m-11 0.1l11 -0.1l-4 10.2M1606.4 814.4l10.4 0.3m-8.9 -6.4l8.9 6.4l-9.3 5.9M1660.3 814.4l6.9 4.1m-4.6 -10l4.6 10l-11 0.5M1768.3 814.4l4.8 9.2m1.2 -10.9l-1.2 10.9l-9.7 -5.2M2146.2 814.4l-5 -0.1m9 6.3l-9 -6.3l9.2 -6M2173.1 814.4l8.4 -0.5m-9.5 -5.6l9.5 5.6l-8.8 6.7M2200.1 814.4l9 -2.1m-10.3 -3.9l10.3 3.9l-7.5 8.1M2254.1 814.4l8 -5.4m-11 0l11 0l-4.1 10.2M2389.1 814.4l7.6 -1.5m-10.2 -4.2l10.2 4.2l-7.7 7.8M1336.5 830.6l-8.9 -1.6m7.9 7.7l-7.9 -7.7l10.1 -4.4M2119.2 830.6l6.6 5.4m-3.2 -10.5l3.2 10.5l-11 -1M2146.2 830.6l-6.5 1.1m10 4.5l-10 -4.5l7.9 -7.6M2173.1 830.6l8.7 -0.5m-9.4 -5.6l9.4 5.6l-8.8 6.6M2200.1 830.6l2.2 -6.6m-8.8 6.7l8.8 -6.7l2.9 10.6M1822.3 846.8l-0.5 -7.5m-5.6 9.5l5.6 -9.5l6.7 8.7M1903.2 846.8l2.7 -5.9m-9.4 5.7l9.4 -5.7l1.8 10.9M1930.2 846.8l0.9 -8m-7.1 8.4l7.1 -8.4l5.1 9.7M1957.2 846.8l0.3 -8.6m-6.4 8.9l6.4 -8.9l5.9 9.3M1984.2 846.8l3.7 -5.2m-10.3 3.9l10.3 -3.9l-0.2 11M2011.2 846.8l4.5 -5.3m-10.6 3.1l10.6 -3.1l-1.1 10.9M2038.2 846.8l5.4 -4.2m-11 0.8l11 -0.8l-3.4 10.5M2065.2 846.8l6.5 -5.6m-10.9 1.3l10.9 -1.3l-2.8 10.6M2092.2 846.8l7.3 -2m-10.4 -3.6l10.4 3.6l-7.2 8.3M2119.2 846.8l6.8 1.8m-7.2 -8.3l7.2 8.3l-10.4 3.6M2146.2 846.8l5.8 -3.6m-11 -0.4l11 0.4l-4.5 10M1174.5 863l6.1 -2.5m-10.8 -2.3l10.8 2.3l-6.1 9.1M1768.3 863l-2.2 7.6m8.5 -7l-8.5 7l-3.3 -10.5M1795.3 863l-2.8 7.4m9 -6.4l-9 6.4l-2.5 -10.7M1822.3 863l-0.4 -6.6m-5.5 9.5l5.5 -9.5l6.7 8.7M1876.2 863l8.7 0.4m-8.8 -6.6l8.8 6.6l-9.4 5.7M2038.2 863l1.3 -6.8m-7.8 7.8l7.8 -7.8l4.3 10.1M2065.2 863l2.5 -6.3m-9 6.3l9 -6.3l2.4 10.7M2092.2 863l6.1 -2.5m-10.8 -2.2l10.8 2.2l-6.1 9.2M2119.2 863l6.9 1.6m-7.5 -8.1l7.5 8.1l-10.3 3.9M2146.2 863l6.2 2.3m-6.5 -8.9l6.5 8.9l-10.7 2.6M1201.5 895.3l-7.9 2.3m10.5 3.4l-10.5 -3.4l7 -8.4M1228.5 895.3l6.9 1m-8.1 -7.4l8.1 7.4l-9.9 4.7M1255.5 895.3l0.5 7.1m5.5 -9.5l-5.5 9.5l-6.8 -8.6M1282.5 895.3l-3 8.2m8.9 -6.5l-8.9 6.5l-2.6 -10.7M1039.6 943.9l-1.9 -5.9m-3 10.6l3 -10.6l8.7 6.8M1012.6 960.1l-0.8 -8m-5.2 9.7l5.2 -9.7l7 8.5M1039.6 960.1l-4.1 -4.9m1.2 10.9l-1.2 -10.9l10.6 3M1120.5 960.1l2 10.4m4.4 -10.1l-4.4 10.1l-7.7 -7.8M1687.3 960.1l10.3 -0.5m-9.4 -5.7l9.4 5.7l-8.8 6.6M985.6 976.3l9.4 -4.6m-10.9 -1.5l10.9 1.5l-5.5 9.5M1039.6 976.3l-2.7 6.7m9.1 -6.2l-9.1 6.2l-2.3 -10.8M1066.6 976.3l-2.2 6.3m8.8 -6.6l-8.8 6.6l-2.8 -10.6M1255.5 976.3l-9.2 0.4m9.4 5.8l-9.4 -5.8l8.9 -6.5M1282.5 976.3l-10.5 0.6m9.5 5.6l-9.5 -5.6l8.7 -6.7M1336.5 976.3l-9.4 -3.2m6.7 8.7l-6.7 -8.7l10.6 -2.9M958.6 992.5l0.3 -10.4m-6.4 9l6.4 -9l5.9 9.3M985.6 992.5l9.9 2.2m-7.6 -8l7.6 8l-10.2 4M1066.6 992.5l-3.2 8.6m8.9 -6.4l-8.9 6.4l-2.6 -10.7M1255.5 992.5l7 4.6m-4.2 -10.2l4.2 10.2l-11 0.1M1282.5 992.5l-8.4 3.1m10.7 2.6l-10.7 -2.6l6.5 -8.9M1309.5 992.5l-2.2 -8.5m-3.6 10.4l3.6 -10.4l8.3 7.3M1336.5 992.5l-5.7 -3.2m5 9.8l-5 -9.8l11 -1M985.6 1008.7l8.8 -1.5m-10 -4.5l10 4.5l-8 7.6M1282.5 1008.7l-6.6 5.7m10.9 -1.3l-10.9 1.3l2.9 -10.6M1309.5 1008.7l0.3 -7.9m-6.5 8.9l6.5 -8.9l5.8 9.3M1336.5 1008.7l-5.1 -4.3m3.1 10.6l-3.1 -10.6l10.9 1.1M1363.4 1008.7l2.5 10m3.8 -10.3l-3.8 10.3l-8.2 -7.4M1282.5 1024.9l9.4 2.4m-7.3 -8.2l7.3 8.2l-10.4 3.7M1309.5 1024.9l10.1 1.7m-8 -7.5l8 7.5l-10 4.6M1336.5 1024.9l7.5 2.2m-7 -8.5l7 8.5l-10.5 3.3M1363.4 1024.9l-0.1 8.1m6.3 -9.1l-6.3 9.1l-6.1 -9.2M1309.5 1041l9.1 -0.3m-9.3 -5.9l9.3 5.9l-8.9 6.4M1336.5 1041l8.2 1.8m-7.6 -8l7.6 8l-10.2 4M1363.4 1041l-2.6 7.7m8.7 -6.7l-8.7 6.7l-2.9 -10.6M1309.5 1057.2l9.4 0m-9.1 -6.1l9.1 6.1l-9.1 6.2M1336.5 1057.2l7.9 0.8m-8.5 -7l8.5 7l-9.7 5.3M1363.4 1057.2l-6.2 0.7m9.7 5.1l-9.7 -5.1l8.4 -7.1M1336.5 1073.4l9.4 -1.5m-10 -4.6l10 4.6l-8 7.5M1363.4 1073.4l1.4 10.3m4.9 -9.9l-4.9 9.9l-7.3 -8.2M931.6 1089.6l-7.8 -1.6m7.7 7.8l-7.7 -7.8l10.2 -4.2M1336.5 1089.6l9.9 1.9m-7.8 -7.7l7.8 7.7l-10.1 4.4M1309.5 1105.8l9.2 5.5m-4.7 -9.9l4.7 9.9l-11 0.6M1336.5 1105.8l10 0.7m-8.7 -6.8l8.7 6.8l-9.5 5.5M418.8 1122l-1.7 -9.2m-4.4 10.1l4.4 -10.1l7.7 7.8M1336.5 1122l10 2.6m-7.3 -8.2l7.3 8.2l-10.4 3.7M310.8 1138.2l9.2 5.3m-4.8 -9.9l4.8 9.9l-11 0.8M418.8 1138.2l-0.5 -10.6m-5.8 9.4l5.8 -9.4l6.5 8.8M931.6 1138.2l10.6 -1m-9.7 -5.3l9.7 5.3l-8.5 7M1093.5 1138.2l8.8 -3.3m-10.7 -2.5l10.7 2.5l-6.4 9M283.8 1154.4l8.9 4.8m-5.1 -9.7l5.1 9.7l-10.9 1.1M337.8 1154.4l3.7 -9.1m-9.1 6.1l9.1 -6.1l2.3 10.8M418.8 1154.4l8.2 -5.9m-11 0.3l11 -0.3l-3.9 10.3M445.8 1154.4l5.5 -9m-10 4.6l10 -4.6l0.5 11M445.8 1170.6l0.7 -9.6m-6.8 8.7l6.8 -8.7l5.5 9.5M931.6 1186.8l-3.3 7.4m9.4 -5.8l-9.4 5.8l-1.9 -10.8M958.6 1203l8.6 4.6m-5.2 -9.7l5.2 9.7l-10.9 1.2M256.9 1235.3l-1 -8.8m-5.1 9.7l5.1 -9.7l7.1 8.4M499.8 1235.3l9.5 -4.7m-10.9 -1.4l10.9 1.4l-5.4 9.6M499.8 1251.5l9.9 -3.6m-10.7 -2.7l10.7 2.7l-6.5 8.9M256.9 1283.9l-0.9 -10.2m-5.4 9.6l5.4 -9.6l6.9 8.6M256.9 1300.1l-2.7 -9.8m-3.5 10.4l3.5 -10.4l8.4 7.1M742.7 1316.3l-0.4 10.4m6.5 -8.9l-6.5 8.9l-5.8 -9.3M418.8 1332.5l-8.7 -3.9m5.8 9.3l-5.8 -9.3l10.8 -1.9M499.8 1348.7l-9.2 1.7m10.1 4.4l-10.1 -4.4l7.9 -7.7M526.8 1348.7l9.1 4.5m-5.4 -9.6l5.4 9.6l-10.9 1.5M742.7 1348.7l5.4 8.7m0.4 -11l-0.4 11l-10 -4.5M796.7 1348.7l-1.3 -8.4m-4.6 10l4.6 -10l7.5 8M823.6 1348.7l9.7 0m-9.1 -6.2l9.1 6.2l-9.1 6.1M202.9 1364.8l2.8 -8.3m-8.8 6.6l8.8 -6.6l2.9 10.6M229.9 1364.8l7.4 -4.9m-11 -0.2l11 0.2l-4.3 10.1M256.9 1364.8l3.5 -7.3m-9.5 5.6l9.5 -5.6l1.6 10.9M472.8 1364.8l8.2 0.7m-8.6 -6.9l8.6 6.9l-9.6 5.4M499.8 1364.8l-8.8 5.4m11 0.5l-11 -0.5l4.5 -10M472.8 1381l9 -3.4m-10.7 -2.6l10.7 2.6l-6.4 8.9M175.9 1397.2l1.6 10m4.6 -10l-4.6 10l-7.5 -8M472.8 1397.2l2 -8.6m-8.1 7.5l8.1 -7.5l3.9 10.3M175.9 1413.4l8.5 6.4m-3.6 -10.4l3.6 10.4l-11 -0.5M580.7 1494.4l2.4 10.2m3.9 -10.3l-3.9 10.3l-8.1 -7.5M580.7 1510.6l0.1 10.7m6.1 -9.2l-6.1 9.2l-6.2 -9.1M553.7 1526.8l-7.8 0.2m9.3 5.9l-9.3 -5.9l8.9 -6.4M580.7 1526.8l7.6 7.5m-2.2 -10.8l2.2 10.8l-10.8 -2M607.7 1526.8l9.3 -5.2m-11 -0.9l11 0.9l-4.9 9.8M580.7 1542.9l10.4 2m-7.8 -7.8l7.8 7.8l-10.1 4.3M607.7 1542.9l-0.1 10m6.2 -9.1l-6.2 9.1l-6.1 -9.2M634.7 1559.1l1.6 -8.2m-7.8 7.8l7.8 -7.8l4.3 10.1M634.7 1575.3l-1.9 -7.9m-3.8 10.3l3.8 -10.3l8.1 7.4M661.7 1607.7l-8.5 -1.1m8.2 7.3l-8.2 -7.3l9.8 -4.9M688.7 1607.7l-8.5 -1.7m7.8 7.8l-7.8 -7.8l10.1 -4.3M176.5 1426.5l14.6 2.6m-7.9 -7.7l7.9 7.7l-10.1 4.4M229.4 1430.4l-11.9 -4m6.7 8.7l-6.7 -8.7l10.6 -3M255.8 1443.7l-11.9 -1.3m8.4 7.1l-8.4 -7.1l9.7 -5.1M263.8 1463.5l-7.9 4m10.9 1.4l-10.9 -1.4l5.4 -9.6M277 1445l10.6 4m-6.4 -9l6.4 9l-10.7 2.6M204.2 1463.5l9.3 9.3m-2.1 -10.8l2.1 10.8l-10.8 -2.1M282.3 1463.5l6.6 11.9m0.9 -11l-0.9 11l-9.8 -5M229.4 1495.2l15.9 6.6m-6.1 -9.2l6.1 9.2l-10.8 2.2M229.4 1512.4l15.9 2.6m-8 -7.6l8 7.6l-10 4.6M340.5 1542.9l1.3 -13.2m-7 8.5l7 -8.5l5.2 9.7M303.4 1573.3l11.9 2.6m-7.6 -8l7.6 8l-10.2 4M366.9 1433.1l-2.6 -9.3m-3.4 10.5l3.4 -10.5l8.4 7.1M366.9 1450.3l-1.3 -9.3m-4.8 9.9l4.8 -9.9l7.4 8.2M365.6 1468.8l0 -7.9m-6.2 9.1l6.2 -9.1l6.2 9.1M397.4 1437l-11.9 -2.6m7.6 8l-7.6 -8l10.2 -4M491.3 1523l10.6 6.6m-4.5 -10l4.5 10l-11 0.4M474.1 1550.8l0 -7.9m-6.2 9.1l6.2 -9.1l6.2 9.1M445 1431.7l5.3 -4m-11 0.6l11 -0.6l-3.6 10.4M470.1 1429.1l10.6 1.3m-8.3 -7.2l8.3 7.2l-9.8 5"/>
<path stroke="#8200dc" d="M1633.3 53.5l-9 -6.8m3.5 10.4l-3.5 -10.4l11 0.6M1660.3 53.5l-9 -6.6m3.7 10.4l-3.7 -10.4l11 0.5M1606.4 69.6l-7.4 -8.4m1.4 10.9l-1.4 -10.9l10.6 2.8M1633.3 69.6l-11.3 -8.9m3.3 10.5l-3.3 -10.5l11 0.8M1687.3 69.6l-14 -14.2m2 10.8l-2 -10.8l10.8 2.2M1714.3 69.6l-10 -12.3m1 11l-1 -11l10.5 3.2M1741.3 69.6l-10.5 -6.3m4.7 10l-4.7 -10l11 -0.6M1498.4 85.8l-1.2 -12.4m-5.3 9.7l5.3 -9.7l7 8.5M1525.4 85.8l-3 -14.4m-4.2 10.2l4.2 -10.2l7.9 7.7M1741.3 85.8l-9.3 -12.2m0.6 11l-0.6 -11l10.4 3.5M1768.3 85.8l-5.3 -14.7m-2.7 10.7l2.7 -10.7l8.9 6.5M1795.3 85.8l-4.2 -10.5m-2.3 10.7l2.3 -10.7l9.1 6.2M1498.4 102l0.5 -13.6m-6.5 8.9l6.5 -8.9l5.8 9.3M1741.3 102l1.4 -21.3m-6.7 8.7l6.7 -8.7l5.5 9.5M1795.3 102l-0.8 -16m-5.7 9.4l5.7 -9.4l6.6 8.8M1795.3 118.2l4.6 -16.2m-8.4 7.1l8.4 -7.1l3.4 10.5M1471.4 134.4l-2.3 -17.7m-4.9 9.8l4.9 -9.8l7.3 8.2M1795.3 134.4l10.8 -3.7m-10.6 -2.9l10.6 2.9l-6.7 8.7M1714.3 166.8l9.2 -16.3m-9.8 4.9l9.8 -4.9l0.9 11M1741.3 166.8l6 -14.6m-9.1 6.1l9.1 -6.1l2.2 10.8M1768.3 166.8l5.3 -16.5m-8.6 6.8l8.6 -6.8l3.1 10.6M1444.4 183l4.3 -17.1m-8.2 7.3l8.2 -7.3l3.7 10.3M1714.3 183l8.8 -13.1m-10.2 4.1l10.2 -4.1l0 11M1741.3 183l7 -15.9m-9.3 5.8l9.3 -5.8l1.9 10.8M1768.3 183l4.1 -12.3m-8.7 6.7l8.7 -6.7l3 10.6M1444.4 199.2l2.5 -17.1m-7.4 8.1l7.4 -8.1l4.7 9.9M1714.3 199.2l6.7 -14.7m-9.4 5.8l9.4 -5.8l1.8 10.8M1741.3 199.2l6.8 -12.7m-9.7 5.1l9.7 -5.1l1.1 10.9M1714.3 215.4l6.2 -11m-9.8 4.9l9.8 -4.9l0.9 11M1471.4 231.6l13.3 -8.3m-11 -0.4l11 0.4l-4.5 10M1714.3 231.6l6.7 -11.8m-9.8 4.9l9.8 -4.9l0.9 11M1471.4 247.7l11.9 -6.6m-11 -0.9l11 0.9l-5 9.8M1498.4 247.7l13.6 -7m-10.9 -1.3l10.9 1.3l-5.3 9.6M1687.3 247.7l14.8 -12.5m-10.9 1.2l10.9 -1.2l-3 10.6M1498.4 263.9l10.8 -2.9m-10.4 -3.5l10.4 3.5l-7.2 8.3M1525.4 263.9l11.2 -9.1m-11 1l11 -1l-3.2 10.5M1498.4 280.1l10.9 -3.8m-10.6 -2.8l10.6 2.8l-6.6 8.8M1525.4 280.1l9.8 -9.4m-10.8 1.9l10.8 -1.9l-2.3 10.8M1552.4 280.1l15 -14.5m-10.8 1.9l10.8 -1.9l-2.3 10.8M1471.4 296.3l14.5 -1.6m-9.7 -5.1l9.7 5.1l-8.4 7.1M1498.4 296.3l12.4 -8.2m-11 -0.1l11 0.1l-4.2 10.2M1525.4 296.3l10.2 -12m-10.6 3l10.6 -3l-1.2 10.9M1552.4 296.3l14.6 -15.2m-10.8 2.3l10.8 -2.3l-1.9 10.8M1498.4 312.5l10.4 -9.8m-10.9 1.8l10.9 -1.8l-2.4 10.7M1525.4 312.5l11 -13.4m-10.5 3.1l10.5 -3.1l-1 11M1552.4 312.5l14.9 -15.2m-10.8 2.2l10.8 -2.2l-2 10.8M1525.4 328.7l15.8 -12.3m-11 0.8l11 -0.8l-3.4 10.5M1552.4 328.7l14.2 -14m-10.8 2l10.8 -2l-2.2 10.8M1309.5 344.9l21.3 0.5m-9 -6.4l9 6.4l-9.3 5.9M1525.4 344.9l17.1 1.5m-8.5 -6.9l8.5 6.9l-9.6 5.3M1498.4 361.1l13 -2.9m-10.3 -4l10.3 4l-7.5 8M1525.4 361.1l10.7 8.1m-3.5 -10.4l3.5 10.4l-11 -0.6M1255.5 377.3l-2.4 10.6m8 -7.5l-8 7.5l-4 -10.3M1282.5 377.3l-4.7 13m8.9 -6.5l-8.9 6.5l-2.7 -10.7M1390.4 377.3l12.1 -11.6m-10.8 1.9l10.8 -1.9l-2.3 10.8M1417.4 377.3l17.4 -5.3m-10.5 -3.2l10.5 3.2l-6.9 8.5M1444.4 377.3l15.1 1.1m-8.7 -6.8l8.7 6.8l-9.5 5.5M1201.5 393.5l-1 10.8m6.9 -8.5l-6.9 8.5l-5.3 -9.6M1282.5 393.5l-6 15.5m9 -6.3l-9 6.3l-2.5 -10.7M1309.5 393.5l-6.8 14.3m9.5 -5.6l-9.5 5.6l-1.7 -10.9M1336.5 393.5l-5.9 12.6m9.5 -5.6l-9.5 5.6l-1.7 -10.9M1390.4 393.5l7.6 -11.1m-10.2 4l10.2 -4l-0.1 11M1147.5 409.6l10.8 2.5m-7.5 -8.1l7.5 8.1l-10.3 3.9M1174.5 409.6l-2 19.1m7.1 -8.4l-7.1 8.4l-5.2 -9.7M1201.5 409.6l-1.1 13.5m6.9 -8.6l-6.9 8.6l-5.4 -9.6M1282.5 409.6l-7.3 13.7m9.7 -5.1l-9.7 5.1l-1.1 -10.9M1309.5 409.6l-4.8 13m9 -6.4l-9 6.4l-2.6 -10.7M1336.5 409.6l-6.2 10.9m9.8 -4.9l-9.8 4.9l-0.9 -11M1417.4 409.6l11.3 -4.9m-10.8 -2l10.8 2l-5.9 9.3M1147.5 425.8l-0.6 12.9m6.6 -8.8l-6.6 8.8l-5.7 -9.4M1255.5 425.8l-3.5 16.2m7.9 -7.6l-7.9 7.6l-4.1 -10.2M1282.5 425.8l-3.7 12.6m8.5 -7l-8.5 7l-3.3 -10.5M1309.5 425.8l-2.8 14.8m7.7 -7.8l-7.7 7.8l-4.4 -10.1M1336.5 425.8l-2.3 14.2m7.5 -8l-7.5 8l-4.6 -10M1390.4 425.8l15 -6.4m-10.8 -2.1l10.8 2.1l-6 9.2M1417.4 425.8l12.7 -4.2m-10.6 -2.9l10.6 2.9l-6.7 8.7M1120.5 442l-1 16.2m6.7 -8.7l-6.7 8.7l-5.6 -9.5M1255.5 442l-3.7 17.2m7.9 -7.6l-7.9 7.6l-4.1 -10.2M1282.5 442l-2.3 12.7m7.7 -7.9l-7.7 7.9l-4.5 -10.1M1309.5 442l-3.3 16.9m7.8 -7.8l-7.8 7.8l-4.3 -10.1M1336.5 442l-1.4 14.9m7 -8.5l-7 8.5l-5.3 -9.6M1363.4 442l9.5 7.5m-3.4 -10.5l3.4 10.5l-11 -0.8M1093.5 458.2l-2 12.1m7.6 -8l-7.6 8l-4.6 -10M1120.5 458.2l-1.3 15.8m6.9 -8.6l-6.9 8.6l-5.4 -9.6M1255.5 458.2l-3.6 15.6m8 -7.5l-8 7.5l-4 -10.3M1282.5 458.2l-3.6 13.3m8.3 -7.2l-8.3 7.2l-3.5 -10.4M1309.5 458.2l-1.9 17.8m7.1 -8.4l-7.1 8.4l-5.1 -9.7M1336.5 458.2l-1.1 15.5m6.8 -8.7l-6.8 8.7l-5.5 -9.5M1363.4 458.2l8.2 7.8m-2.4 -10.7l2.4 10.7l-10.8 -1.8M1093.5 474.4l-1 16m6.7 -8.7l-6.7 8.7l-5.5 -9.5M1255.5 474.4l-4.1 18.7m8 -7.6l-8 7.6l-4 -10.2M1282.5 474.4l-3.3 16.5m7.8 -7.8l-7.8 7.8l-4.3 -10.1M1363.4 474.4l-0.9 19.6m6.6 -8.8l-6.6 8.8l-5.7 -9.4M1390.4 474.4l3.4 12.5m3.5 -10.4l-3.5 10.4l-8.3 -7.2M1066.6 490.6l-1.6 15m7.1 -8.4l-7.1 8.4l-5.1 -9.7M1363.4 490.6l-0.7 21.2m6.5 -8.9l-6.5 8.9l-5.8 -9.3M1390.4 490.6l0.1 14.2m6.1 -9.2l-6.1 9.2l-6.2 -9.1M1039.6 506.8l-0.9 10.9m6.9 -8.6l-6.9 8.6l-5.4 -9.6M1066.6 506.8l-0.2 14.7m6.3 -9l-6.3 9l-6 -9.2M1093.5 506.8l-2.6 20.7m7.2 -8.3l-7.2 8.3l-5 -9.8M1363.4 506.8l-2.4 20.5m7.2 -8.3l-7.2 8.3l-5.1 -9.8M1390.4 506.8l-0.6 13.5m6.5 -8.9l-6.5 8.9l-5.8 -9.4M1039.6 523l-1.3 11.9m7.1 -8.4l-7.1 8.4l-5.1 -9.7M1066.6 523l0.5 16.2m5.9 -9.3l-5.9 9.3l-6.4 -8.9M1390.4 523l-1.3 17.6m6.8 -8.7l-6.8 8.7l-5.5 -9.5M1039.6 539.2l-2.2 13.3m7.6 -8l-7.6 8l-4.6 -10M1066.6 539.2l-1.8 16.4m7.1 -8.4l-7.1 8.4l-5.1 -9.7M1390.4 539.2l-0.9 17.9m6.6 -8.8l-6.6 8.8l-5.7 -9.4M1039.6 555.4l-1 12.1m6.9 -8.6l-6.9 8.6l-5.4 -9.6M1066.6 555.4l-1.2 15.8m6.8 -8.6l-6.8 8.6l-5.5 -9.5M1390.4 555.4l0 17.5m6.1 -9.1l-6.1 9.1l-6.2 -9.1M1039.6 571.5l-2.6 12.1m7.9 -7.7l-7.9 7.7l-4.1 -10.2M1066.6 571.5l0.6 16.3m5.8 -9.4l-5.8 9.4l-6.5 -8.9M1390.4 571.5l-2 17.9m7.1 -8.4l-7.1 8.4l-5.1 -9.7M1417.4 571.5l-0.9 11.3m6.8 -8.6l-6.8 8.6l-5.4 -9.6M1039.6 587.7l1.5 10.9m4.9 -9.9l-4.9 9.9l-7.3 -8.2M1066.6 587.7l-0.3 14.8m6.3 -9l-6.3 9l-6 -9.2M1093.5 587.7l-2.5 20.1m7.2 -8.3l-7.2 8.3l-5 -9.8M1120.5 587.7l0.1 18m6.1 -9.2l-6.1 9.2l-6.2 -9.1M1147.5 587.7l-0.4 13m6.4 -8.9l-6.4 8.9l-5.9 -9.3M1174.5 587.7l0.4 13.8m5.9 -9.3l-5.9 9.3l-6.4 -8.9M1390.4 587.7l2.9 21m4.9 -9.9l-4.9 9.9l-7.3 -8.2M1417.4 587.7l3 12.8m3.9 -10.3l-3.9 10.3l-8 -7.5M1039.6 603.9l0.2 12.2m6 -9.2l-6 9.2l-6.3 -9M1066.6 603.9l0.5 14.3m5.8 -9.3l-5.8 9.3l-6.5 -8.9M1093.5 603.9l-2.6 19.9m7.3 -8.3l-7.3 8.3l-4.9 -9.8M1120.5 603.9l-2.4 20.4m7.2 -8.3l-7.2 8.3l-5.1 -9.8M1147.5 603.9l-1.7 13.6m7.2 -8.3l-7.2 8.3l-5 -9.8M1174.5 603.9l-1.9 13.5m7.4 -8.2l-7.4 8.2l-4.8 -9.9M1417.4 603.9l2.1 12.6m4.6 -10l-4.6 10l-7.5 -8M1444.4 603.9l1.3 -10.8m-7.2 8.3l7.2 -8.3l5 9.8M1039.6 620.1l0.6 12.3m5.7 -9.4l-5.7 9.4l-6.6 -8.8M1066.6 620.1l-1.8 15m7.2 -8.3l-7.2 8.3l-5 -9.8M1093.5 620.1l1.1 18.6m5.6 -9.5l-5.6 9.5l-6.7 -8.7M1120.5 620.1l0.3 18.1m6 -9.2l-6 9.2l-6.3 -9M1147.5 620.1l-1.7 14.8m7.1 -8.4l-7.1 8.4l-5.1 -9.7M1174.5 620.1l-0.1 15.1m6.2 -9.1l-6.2 9.1l-6.1 -9.1M1417.4 620.1l11.8 11m-2.5 -10.7l2.5 10.7l-10.9 -1.7M1039.6 636.3l-0.8 12.1m6.7 -8.7l-6.7 8.7l-5.6 -9.5M1066.6 636.3l-0.4 12.2m6.4 -8.9l-6.4 8.9l-5.9 -9.3M1093.5 636.3l2.3 15.3m4.7 -9.9l-4.7 9.9l-7.4 -8.1M1120.5 636.3l5.2 12.3m2.1 -10.8l-2.1 10.8l-9.2 -6M1147.5 636.3l-0.4 14.7m6.4 -8.9l-6.4 8.9l-5.9 -9.3M1417.4 636.3l19.4 -6.4m-10.6 -3l10.6 3l-6.7 8.7M1444.4 636.3l0 -11.8m-6.2 9.1l6.2 -9.1l6.1 9.1M1039.6 652.5l0.1 11.2m6.1 -9.2l-6.1 9.2l-6.2 -9.1M1066.6 652.5l-1.4 12.7m7.1 -8.4l-7.1 8.4l-5.1 -9.7M1093.5 652.5l1.2 15.6m5.4 -9.6l-5.4 9.6l-6.9 -8.6M1120.5 652.5l6.1 10.8m0.8 -11l-0.8 11l-9.9 -4.9M1147.5 652.5l0.5 15.3m5.8 -9.3l-5.8 9.3l-6.5 -8.9M1444.4 652.5l-7.2 -9.3m0.7 11l-0.7 -11l10.4 3.5M1039.6 668.7l0 11m6.1 -9.1l-6.1 9.1l-6.2 -9.1M1066.6 668.7l0.2 13.1m6 -9.2l-6 9.2l-6.3 -9M1093.5 668.7l1.4 15.4m5.3 -9.6l-5.3 9.6l-7 -8.5M1120.5 668.7l7.2 12.3m0.7 -11l-0.7 11l-9.9 -4.8M1147.5 668.7l1.7 17m5.2 -9.7l-5.2 9.7l-7.1 -8.4M1417.4 668.7l15.2 -11.7m-11 0.7l11 -0.7l-3.5 10.4M1444.4 668.7l-9.1 -7m3.5 10.4l-3.5 -10.4l11 0.7M1039.6 684.9l-1.6 10.9m7.4 -8.1l-7.4 8.1l-4.7 -9.9M1066.6 684.9l1.6 11m4.7 -9.9l-4.7 9.9l-7.4 -8.1M1093.5 684.9l4.2 11.5m2.6 -10.7l-2.6 10.7l-8.9 -6.4M1120.5 684.9l6.9 12.3m0.9 -11l-0.9 11l-9.8 -4.9M1417.4 684.9l13.5 -4.1m-10.5 -3.2l10.5 3.2l-6.9 8.5M1039.6 701.1l-1.5 10.8m7.3 -8.2l-7.3 8.2l-4.8 -9.9M1066.6 701.1l0.9 10.7m5.4 -9.6l-5.4 9.6l-6.9 -8.6M1093.5 701.1l4.6 11.7m2.4 -10.7l-2.4 10.7l-9 -6.3M1120.5 701.1l6.7 13.1m1.4 -10.9l-1.4 10.9l-9.6 -5.3M1417.4 701.1l11.2 -4.5m-10.8 -2.3l10.8 2.3l-6.2 9.1M1039.6 717.3l-0.8 11.9m6.8 -8.7l-6.8 8.7l-5.5 -9.5M1066.6 717.3l2.2 11.3m4.3 -10.1l-4.3 10.1l-7.8 -7.8M1093.5 717.3l7.1 11.6m0.5 -11l-0.5 11l-10 -4.6M1417.4 717.3l13.3 -6.3m-10.9 -1.6l10.9 1.6l-5.6 9.5M2200.1 717.3l0.4 -10.9m-6.5 8.9l6.5 -8.9l5.8 9.4M1093.5 733.4l7.5 12.6m0.6 -11l-0.6 11l-10 -4.7M1471.4 733.4l14.8 9.8m-4.2 -10.2l4.2 10.2l-11 0.1M1498.4 733.4l13.9 1.5m-8.4 -7.1l8.4 7.1l-9.7 5.1M1336.5 749.6l-12.7 7.8m11 0.5l-11 -0.5l4.5 -10M1471.4 749.6l10.4 8.7m-3.1 -10.6l3.1 10.6l-10.9 -1.1M1498.4 749.6l12.8 -7.6m-11 -0.6l11 0.6l-4.7 10M1957.2 749.6l-0.7 -13.7m-5.7 9.4l5.7 -9.4l6.6 8.8M1174.5 765.8l-2.2 10.8m7.8 -7.7l-7.8 7.7l-4.2 -10.2M1255.5 765.8l3.9 17.8m4.1 -10.2l-4.1 10.2l-7.9 -7.6M1282.5 765.8l2.3 17.4m4.9 -9.9l-4.9 9.9l-7.3 -8.2M1309.5 765.8l-2.7 20.7m7.3 -8.2l-7.3 8.2l-4.9 -9.8M1336.5 765.8l-11 7.3m11 0.1l-11 -0.1l4.2 -10.2M1444.4 765.8l15.4 8.5m-5 -9.8l5 9.8l-11 1M1498.4 765.8l10.5 -11.5m-10.7 2.6l10.7 -2.6l-1.6 10.9M1525.4 765.8l9.1 -8.7m-10.8 1.9l10.8 -1.9l-2.3 10.8M1957.2 765.8l0.1 -12.2m-6.2 9.1l6.2 -9.1l6.1 9.1M2092.2 765.8l10.5 -5.7m-11 -1l11 1l-5 9.8M2119.2 765.8l10.9 -2.8m-10.4 -3.7l10.4 3.7l-7.3 8.2M1336.5 782l-10 5.9m11 0.7l-11 -0.7l4.7 -9.9M1444.4 782l8.8 6.2m-3.9 -10.3l3.9 10.3l-11 -0.3M1984.2 782l10.1 -6.5m-11 -0.2l11 0.2l-4.3 10.1M2011.2 782l13.7 -3.4m-10.3 -3.7l10.3 3.7l-7.3 8.2M2038.2 782l13.6 -2.8m-10.2 -4.2l10.2 4.2l-7.7 7.8M2065.2 782l6.8 -9.1m-10.4 3.6l10.4 -3.6l-0.5 11M2092.2 782l12.3 -4.6m-10.7 -2.5l10.7 2.5l-6.4 9M2119.2 782l14.1 -5m-10.6 -2.8l10.6 2.8l-6.6 8.8M2146.2 782l13.5 0.3m-9 -6.3l9 6.3l-9.2 6M2173.1 782l13.2 0.3m-9 -6.4l9 6.4l-9.3 5.9M2200.1 782l12.5 1.2m-8.5 -7l8.5 7l-9.7 5.3M2227.1 782l10.1 4.6m-5.7 -9.4l5.7 9.4l-10.8 1.8M2254.1 782l11.4 1.1m-8.5 -7l8.5 7l-9.7 5.3M1255.5 798.2l-14.5 13.9m10.8 -1.9l-10.8 1.9l2.3 -10.8M1336.5 798.2l-9.2 14.5m10.1 -4.4l-10.1 4.4l-0.3 -11M1768.3 798.2l7.1 8.3m-1.2 -10.9l1.2 10.9l-10.6 -3M1795.3 798.2l5.9 -10.9m-9.8 5.1l9.8 -5.1l1 11M1903.2 798.2l12.3 -0.3m-9.3 -5.9l9.3 5.9l-9 6.4M1930.2 798.2l13.7 -2.3m-10 -4.5l10 4.5l-8 7.6M2227.1 798.2l11.5 -1.2m-9.7 -5.2l9.7 5.2l-8.4 7.1M2254.1 798.2l10.9 -1.6m-9.9 -4.8l9.9 4.8l-8.2 7.4M1336.5 814.4l-11.6 6.4m11 1l-11 -1l5 -9.8M1525.4 814.4l17.5 7.5m-6 -9.2l6 9.2l-10.8 2.1M1633.3 814.4l14.9 3.2m-7.6 -7.9l7.6 7.9l-10.2 4.1M1687.3 814.4l11.1 1.6m-8.2 -7.4l8.2 7.4l-9.9 4.8M1714.3 814.4l12.1 1.6m-8.2 -7.3l8.2 7.3l-9.9 4.9M1741.3 814.4l13 3.5m-7.2 -8.3l7.2 8.3l-10.4 3.6M1795.3 814.4l1.6 -12.7m-7.3 8.3l7.3 -8.3l5 9.8M1822.3 814.4l13 3.5m-7.2 -8.3l7.2 8.3l-10.4 3.6M1849.3 814.4l13.9 1.4m-8.4 -7.1l8.4 7.1l-9.7 5.2M1876.2 814.4l15.6 1.1m-8.6 -6.8l8.6 6.8l-9.5 5.5M2119.2 814.4l14.5 -4.1m-10.4 -3.4l10.4 3.4l-7.1 8.4M2227.1 814.4l12.2 -1.7m-9.9 -4.8l9.9 4.8l-8.2 7.3M1309.5 830.6l-9.8 7.8m11 -0.9l-11 0.9l3.3 -10.5M1606.4 830.6l14.4 5.8m-6.2 -9.1l6.2 9.1l-10.8 2.3M1687.3 830.6l13.1 6.3m-5.6 -9.5l5.6 9.5l-10.9 1.6M1714.3 830.6l12.7 7.9m-4.5 -10l4.5 10l-11 0.4M1741.3 830.6l12.8 7.2m-5 -9.8l5 9.8l-11 0.9M1768.3 830.6l14.8 4.3m-7 -8.4l7 8.4l-10.5 3.4M1795.3 830.6l15.5 2.7m-7.9 -7.6l7.9 7.6l-10 4.5M1822.3 830.6l14.2 2.6m-7.8 -7.7l7.8 7.7l-10.1 4.4M1849.3 830.6l14.3 -0.1m-9.2 -6.1l9.2 6.1l-9.1 6.2M1876.2 830.6l15.6 1.3m-8.6 -6.9l8.6 6.9l-9.6 5.4M1903.2 830.6l16.2 -0.9m-9.4 -5.7l9.4 5.7l-8.8 6.6M1930.2 830.6l17.2 -1.5m-9.6 -5.4l9.6 5.4l-8.6 6.9M1957.2 830.6l14.8 -3.4m-10.3 -4l10.3 4l-7.5 8M1984.2 830.6l13.1 -4.9m-10.7 -2.6l10.7 2.6l-6.4 8.9M2011.2 830.6l15.7 -1.3m-9.6 -5.4l9.6 5.4l-8.6 6.9M2038.2 830.6l14.6 -1.7m-9.8 -5l9.8 5l-8.3 7.2M2065.2 830.6l13.5 -1.2m-9.6 -5.3l9.6 5.3l-8.5 6.9M2092.2 830.6l12 1.4m-8.3 -7.2l8.3 7.2l-9.8 5M1687.3 846.8l5.9 13.3m1.9 -10.8l-1.9 10.8l-9.3 -5.8M1714.3 846.8l8.2 12.7m0.2 -11l-0.2 11l-10.1 -4.3M1741.3 846.8l8.7 12.1m-0.4 -11l0.4 11l-10.3 -3.8M1795.3 846.8l10.5 9.1m-2.8 -10.6l2.8 10.6l-10.9 -1.3M1849.3 846.8l11.5 5.1m-5.8 -9.3l5.8 9.3l-10.8 1.9M1876.2 846.8l13.7 3.1m-7.5 -8l7.5 8l-10.3 4M1309.5 863l4 20.2m4.2 -10.1l-4.2 10.1l-7.8 -7.7M1687.3 863l5.3 17m3.1 -10.5l-3.1 10.5l-8.6 -6.9M1849.3 863l11.4 1.8m-8 -7.5l8 7.5l-10 4.6M1174.5 879.2l13.6 -8.2m-11 -0.5l11 0.5l-4.6 10M1228.5 879.2l13.6 0m-9.1 -6.1l9.1 6.1l-9.1 6.2M1255.5 879.2l4.2 17.6m3.9 -10.3l-3.9 10.3l-8.1 -7.4M1309.5 879.2l-1.5 13.5m7.1 -8.4l-7.1 8.4l-5.1 -9.7M1336.5 879.2l-1.8 14m7.2 -8.3l-7.2 8.3l-5 -9.8M1309.5 895.3l-5.2 15.9m8.7 -6.8l-8.7 6.8l-3 -10.6M1336.5 895.3l-5.6 14.7m9 -6.4l-9 6.4l-2.5 -10.7M1147.5 911.5l12.9 -6m-10.9 -1.7l10.9 1.7l-5.7 9.4M1174.5 911.5l15 -4.4m-10.5 -3.4l10.5 3.4l-7 8.4M1201.5 911.5l-10.3 2.9m10.4 3.4l-10.4 -3.4l7.1 -8.4M1228.5 911.5l-12.6 1.1m9.6 5.3l-9.6 -5.3l8.5 -6.9M1255.5 911.5l-19 7m10.7 2.6l-10.7 -2.6l6.4 -8.9M1282.5 911.5l-12.1 10.5m10.9 -1.3l-10.9 1.3l2.8 -10.6M1147.5 927.7l8.9 9.4m-1.8 -10.9l1.8 10.9l-10.7 -2.4M1174.5 927.7l12.8 -5.4m-10.8 -2.2l10.8 2.2l-6 9.2M1201.5 927.7l-13.5 1m9.5 5.5l-9.5 -5.5l8.6 -6.8M1228.5 927.7l-14.2 3.4m10.3 3.9l-10.3 -3.9l7.4 -8.1M1066.6 943.9l17.9 1.5m-8.6 -6.9l8.6 6.9l-9.6 5.4M1120.5 943.9l11.7 4.9m-6 -9.2l6 9.2l-10.8 2.1M1147.5 943.9l1.8 11.1m4.6 -10l-4.6 10l-7.5 -8M1174.5 943.9l-10.3 8.4m11 -1l-11 1l3.2 -10.5M1660.3 943.9l-0.8 12.8m6.7 -8.7l-6.7 8.7l-5.6 -9.5M1066.6 960.1l17.5 4.9m-7.1 -8.4l7.1 8.4l-10.4 3.5M1093.5 960.1l10 5.2m-5.2 -9.7l5.2 9.7l-10.9 1.2M1147.5 960.1l0.2 14m6 -9.2l-6 9.2l-6.3 -9M1174.5 960.1l-6.5 12.6m9.6 -5.3l-9.6 5.3l-1.3 -10.9M1309.5 960.1l-20.2 0.7m9.3 5.8l-9.3 -5.8l8.9 -6.5M1363.4 960.1l-3.7 11.1m8.7 -6.7l-8.7 6.7l-3 -10.6M1390.4 960.1l-2.1 13.3m7.5 -8.1l-7.5 8.1l-4.7 -10M1417.4 960.1l-0.1 13.9m6.2 -9.1l-6.2 9.1l-6.1 -9.2M1633.3 960.1l1.2 12.2m5.3 -9.7l-5.3 9.7l-7 -8.5M1660.3 960.1l2.1 11.9m4.5 -10.1l-4.5 10.1l-7.7 -7.9M1012.6 976.3l6.2 9.7m0.3 -11l-0.3 11l-10.1 -4.4M1093.5 976.3l2 11.1m4.4 -10.1l-4.4 10.1l-7.7 -7.9M1147.5 976.3l0.9 13.3m5.5 -9.5l-5.5 9.5l-6.8 -8.7M1174.5 976.3l-4.6 15.1m8.6 -6.9l-8.6 6.9l-3.2 -10.5M1201.5 976.3l-8.8 19.5m9.4 -5.8l-9.4 5.8l-1.9 -10.8M1309.5 976.3l-12.2 0.4m9.3 5.9l-9.3 -5.9l8.9 -6.4M1363.4 976.3l-3.8 11.7m8.6 -6.8l-8.6 6.8l-3.1 -10.6M1390.4 976.3l-3.1 12.1m8.2 -7.3l-8.2 7.3l-3.7 -10.3M1417.4 976.3l-1.6 14m7.2 -8.3l-7.2 8.3l-5 -9.8M1633.3 976.3l9.7 12.2m-0.9 -11l0.9 11l-10.5 -3.3M1660.3 976.3l11.5 2.3m-7.7 -7.8l7.7 7.8l-10.1 4.2M1012.6 992.5l4.5 11.3m2.3 -10.7l-2.3 10.7l-9.1 -6.2M1039.6 992.5l3.7 12.1m3.2 -10.5l-3.2 10.5l-8.6 -6.9M1093.5 992.5l2.4 13.7m4.5 -10l-4.5 10l-7.6 -7.9M1120.5 992.5l3 16.1m4.4 -10.1l-4.4 10.1l-7.7 -7.8M1147.5 992.5l2.3 14.2m4.6 -10l-4.6 10l-7.5 -8M1174.5 992.5l3.9 14.7m3.6 -10.4l-3.6 10.4l-8.3 -7.2M1201.5 992.5l6.3 14.4m2 -10.8l-2 10.8l-9.3 -5.9M1228.5 992.5l9.1 14m0.2 -11l-0.2 11l-10.1 -4.3M1363.4 992.5l3.6 10.5m2.9 -10.6l-2.9 10.6l-8.8 -6.6M1390.4 992.5l3 12.1m3.8 -10.3l-3.8 10.3l-8.2 -7.4M1417.4 992.5l1.4 14.2m5.2 -9.7l-5.2 9.7l-7 -8.5M1498.4 992.5l-11.5 7.5m11 0.2l-11 -0.2l4.3 -10.1M1525.4 992.5l7.7 14.9m1.3 -10.9l-1.3 10.9l-9.6 -5.3M1660.3 992.5l7.8 -7.9m-10.8 2.2l10.8 -2.2l-2 10.8M958.6 1008.7l-1.2 -11.4m-5.2 9.7l5.2 -9.7l7.1 8.4M1012.6 1008.7l6.2 11.4m1.1 -10.9l-1.1 10.9l-9.8 -5.1M1066.6 1008.7l1.4 13.2m5.2 -9.7l-5.2 9.7l-7.1 -8.4M1093.5 1008.7l3.7 14.3m3.6 -10.4l-3.6 10.4l-8.3 -7.3M1120.5 1008.7l6.1 13.2m1.7 -10.9l-1.7 10.9l-9.4 -5.7M1174.5 1008.7l5.2 16m3 -10.6l-3 10.6l-8.7 -6.8M1228.5 1008.7l10.1 12m-1.2 -10.9l1.2 10.9l-10.6 -3M1255.5 1008.7l6.4 9.9m0.3 -11l-0.3 11l-10.1 -4.4M1390.4 1008.7l5.4 12m1.9 -10.8l-1.9 10.8l-9.4 -5.8M1417.4 1008.7l3.8 14.3m3.6 -10.4l-3.6 10.4l-8.3 -7.2M1498.4 1008.7l-11.9 15.4m10.4 -3.4l-10.4 3.4l0.7 -11M958.6 1024.9l9.9 -15.1m-10.1 4.3l10.1 -4.3l0.1 11M985.6 1024.9l11.8 1.4m-8.4 -7.2l8.4 7.2l-9.8 5.1M1012.6 1024.9l6.6 14.6m1.8 -10.8l-1.8 10.8l-9.4 -5.8M1066.6 1024.9l2.7 15.2m4.5 -10.1l-4.5 10.1l-7.7 -7.9M1093.5 1024.9l6.9 15.7m2 -10.8l-2 10.8l-9.3 -5.9M1174.5 1024.9l6.5 14.8m2 -10.8l-2 10.8l-9.3 -5.9M1228.5 1024.9l13 10.5m-3.2 -10.5l3.2 10.5l-11 -1M1255.5 1024.9l8 11m-0.4 -11l0.4 11l-10.4 -3.7M1741.3 1024.9l14.8 0.1m-9.1 -6.2l9.1 6.2l-9.2 6.1M1768.3 1024.9l9.2 -10.3m-10.7 2.7l10.7 -2.7l-1.5 10.9M958.6 1041l13.5 2.8m-7.7 -7.9l7.7 7.9l-10.2 4.2M985.6 1041l12.6 4.2m-6.7 -8.7l6.7 8.7l-10.6 3M1282.5 1041l4.1 13.3m3.2 -10.5l-3.2 10.5l-8.6 -6.9M1390.4 1041l10.3 17.1m0.6 -11l-0.6 11l-10 -4.6M1741.3 1041l11.3 -0.1m-9.2 -6l9.2 6l-9 6.3M1768.3 1041l3.3 -11.7m-8.4 7.1l8.4 -7.1l3.4 10.4M958.6 1057.2l12.7 0.6m-8.8 -6.6l8.8 6.6l-9.4 5.7M985.6 1057.2l11.1 9.1m-3.2 -10.5l3.2 10.5l-11 -1M1282.5 1057.2l3.6 14.2m3.7 -10.3l-3.7 10.3l-8.2 -7.3M1390.4 1057.2l2.6 13.6m4.3 -10.1l-4.3 10.1l-7.8 -7.8M1741.3 1057.2l10.5 3.8m-6.5 -8.9l6.5 8.9l-10.7 2.7M1768.3 1057.2l5.8 -10m-9.9 4.8l9.9 -4.8l0.8 11M958.6 1073.4l11.3 2.9m-7.3 -8.2l7.3 8.2l-10.4 3.7M985.6 1073.4l10.1 13.3m-0.6 -11l0.6 11l-10.4 -3.6M1120.5 1073.4l13.4 10.7m-3.3 -10.5l3.3 10.5l-11 -0.9M1282.5 1073.4l2.7 14.3m4.3 -10.1l-4.3 10.1l-7.7 -7.8M1309.5 1073.4l10.8 3.6m-6.7 -8.7l6.7 8.7l-10.6 3M1390.4 1073.4l2.2 15.2m4.8 -9.9l-4.8 9.9l-7.4 -8.2M958.6 1089.6l12.2 2.7m-7.6 -8l7.6 8l-10.2 4M1120.5 1089.6l13.5 8.7m-4.3 -10.1l4.3 10.1l-11 0.2M1282.5 1089.6l4.1 15.3m3.6 -10.4l-3.6 10.4l-8.3 -7.2M1309.5 1089.6l10.8 2.7m-7.4 -8.2l7.4 8.2l-10.3 3.8M1363.4 1089.6l2.8 10.7m3.7 -10.4l-3.7 10.4l-8.3 -7.3M1390.4 1089.6l3 14m4.1 -10.2l-4.1 10.2l-7.9 -7.6M391.8 1105.8l10.9 -6.1m-11 -0.9l11 0.9l-4.9 9.8M958.6 1105.8l11.9 3.9m-6.8 -8.7l6.8 8.7l-10.6 3M1228.5 1105.8l4.4 15.2m3.4 -10.5l-3.4 10.5l-8.4 -7.1M1255.5 1105.8l3.5 19.3m4.4 -10.1l-4.4 10.1l-7.7 -7.9M1282.5 1105.8l2.9 14.5m4.2 -10.1l-4.2 10.1l-7.8 -7.7M1363.4 1105.8l2.6 10.5m3.8 -10.3l-3.8 10.3l-8.1 -7.4M1390.4 1105.8l7.6 19.8m2.4 -10.7l-2.4 10.7l-9 -6.3M1579.4 1105.8l8.6 11.8m-0.4 -11l0.4 11l-10.3 -3.7M391.8 1122l14.3 -3m-10.2 -4.1l10.2 4.1l-7.6 7.9M958.6 1122l12.7 4.5m-6.5 -8.9l6.5 8.9l-10.7 2.7M1174.5 1122l12 1.6m-8.2 -7.3l8.2 7.3l-9.9 4.9M1228.5 1122l7.3 15.2m1.6 -10.9l-1.6 10.9l-9.5 -5.6M1255.5 1122l5.1 17m3.3 -10.5l-3.3 10.5l-8.5 -7M1282.5 1122l3.8 15m3.7 -10.4l-3.7 10.4l-8.2 -7.3M1309.5 1122l10.9 5.6m-5.3 -9.6l5.3 9.6l-10.9 1.3M1363.4 1122l5.3 11.4m1.7 -10.9l-1.7 10.9l-9.4 -5.7M1741.3 1122l11.4 18m0.3 -11l-0.3 11l-10.1 -4.4M1768.3 1122l13.2 16.6m-0.9 -11l0.9 11l-10.5 -3.3M337.8 1138.2l11.6 -9.6m-10.9 1.1l10.9 -1.1l-3.1 10.5M1228.5 1138.2l3.9 15.4m3.7 -10.4l-3.7 10.4l-8.2 -7.3M1255.5 1138.2l3.9 13.4m3.4 -10.5l-3.4 10.5l-8.4 -7M1282.5 1138.2l6.1 14.7m2.2 -10.8l-2.2 10.8l-9.2 -6.1M1309.5 1138.2l9.8 9.1m-2.5 -10.7l2.5 10.7l-10.9 -1.7M1336.5 1138.2l11.1 3.8m-6.6 -8.8l6.6 8.8l-10.6 2.9M1363.4 1138.2l5.8 11.9m1.5 -10.9l-1.5 10.9l-9.5 -5.5M1741.3 1138.2l13.3 8.8m-4.2 -10.2l4.2 10.2l-11 0.1M1768.3 1138.2l16.4 6.9m-6 -9.2l6 9.2l-10.8 2.1M256.9 1154.4l20.3 -5.4m-10.4 -3.6l10.4 3.6l-7.2 8.3M310.8 1154.4l16.7 1.6m-8.5 -7l8.5 7l-9.7 5.3M931.6 1154.4l10.7 2.7m-7.3 -8.2l7.3 8.2l-10.3 3.7M1093.5 1154.4l15.2 -3.1m-10.2 -4.2l10.2 4.2l-7.7 7.8M1228.5 1154.4l7.4 14.6m1.4 -10.9l-1.4 10.9l-9.6 -5.3M1255.5 1154.4l4.3 13m2.9 -10.6l-2.9 10.6l-8.7 -6.7M1282.5 1154.4l5.4 12.9m2.2 -10.8l-2.2 10.8l-9.2 -6.1M1309.5 1154.4l10.1 8.2m-3.2 -10.5l3.2 10.5l-11 -1M1336.5 1154.4l11.6 3.8m-6.7 -8.7l6.7 8.7l-10.6 3M1363.4 1154.4l12.5 6.3m-5.4 -9.6l5.4 9.6l-10.9 1.4M1741.3 1154.4l15.7 4.3m-7.2 -8.3l7.2 8.3l-10.4 3.5M1768.3 1154.4l20.1 0.3m-9 -6.3l9 6.3l-9.2 6M418.8 1170.6l12.4 -5.1m-10.8 -2.2l10.8 2.2l-6.1 9.2M931.6 1170.6l10.6 4.4m-6.1 -9.2l6.1 9.2l-10.8 2.2M985.6 1170.6l12.1 -0.8m-9.5 -5.5l9.5 5.5l-8.7 6.8M1093.5 1170.6l11.6 -1m-9.6 -5.4l9.6 5.4l-8.6 6.9M1201.5 1170.6l8.6 16.6m1.3 -10.9l-1.3 10.9l-9.7 -5.3M1228.5 1170.6l6.1 14.8m2.2 -10.8l-2.2 10.8l-9.2 -6.1M1255.5 1170.6l4.4 14.2m3.2 -10.5l-3.2 10.5l-8.6 -6.9M1282.5 1170.6l6.4 13.7m1.7 -10.9l-1.7 10.9l-9.4 -5.7M1309.5 1170.6l12.7 6m-5.6 -9.5l5.6 9.5l-10.9 1.7M1336.5 1170.6l19.7 3.5m-7.9 -7.6l7.9 7.6l-10 4.5M1363.4 1170.6l18.3 9m-5.5 -9.5l5.5 9.5l-10.9 1.5M283.8 1186.8l12.1 -12.8m-10.7 2.4l10.7 -2.4l-1.8 10.9M445.8 1186.8l12.3 -1.3m-9.7 -5.2l9.7 5.2l-8.4 7M472.8 1186.8l11.6 -3.4m-10.5 -3.4l10.5 3.4l-7 8.5M985.6 1186.8l7.7 9.4m-1 -11l1 11l-10.5 -3.2M1093.5 1186.8l11.6 -1.8m-10 -4.6l10 4.6l-8 7.5M1201.5 1186.8l9.4 13.3m-0.2 -11l0.2 11l-10.3 -3.9M1228.5 1186.8l6.4 14.6m2 -10.8l-2 10.8l-9.3 -5.9M1255.5 1186.8l5.6 14.8m2.5 -10.7l-2.5 10.7l-9 -6.4M1282.5 1186.8l10.6 12m-1.4 -10.9l1.4 10.9l-10.6 -2.8M1309.5 1186.8l17.4 8.6m-5.4 -9.6l5.4 9.6l-10.9 1.4M1444.4 1186.8l20.1 2.4m-8.3 -7.2l8.3 7.2l-9.8 5M256.9 1203l-1.8 -19.8m-5.3 9.6l5.3 -9.6l6.9 8.5M283.8 1203l4.4 -12.7m-8.8 6.6l8.8 -6.6l2.8 10.6M445.8 1203l14.3 -4.3m-10.5 -3.3l10.5 3.3l-7 8.5M472.8 1203l11.2 -2m-10 -4.5l10 4.5l-7.9 7.6M904.6 1203l1.6 -16.8m-7 8.5l7 -8.5l5.3 9.7M985.6 1203l7.2 11.5m0.4 -11l-0.4 11l-10 -4.5M1120.5 1203l10.8 3.9m-6.5 -8.9l6.5 8.9l-10.7 2.7M1201.5 1203l5.2 13.3m2.4 -10.7l-2.4 10.7l-9.1 -6.2M1228.5 1203l6.5 13.5m1.6 -10.9l-1.6 10.9l-9.5 -5.5M1255.5 1203l8.7 12.9m0 -11l0 11l-10.2 -4.1M1282.5 1203l11.4 12.3m-1.7 -10.9l1.7 10.9l-10.7 -2.5M1417.4 1203l18.6 -4.6m-10.3 -3.8l10.3 3.8l-7.4 8.2M256.9 1219.1l-3.3 -12.6m-3.6 10.4l3.6 -10.4l8.3 7.2M445.8 1219.1l14.6 -6.3m-10.8 -2.1l10.8 2.1l-6 9.2M472.8 1219.1l11.3 -5.1m-10.8 -1.9l10.8 1.9l-5.8 9.4M904.6 1219.1l0.6 -13.2m-6.5 8.8l6.5 -8.8l5.7 9.4M958.6 1219.1l10.8 7.1m-4.2 -10.2l4.2 10.2l-11 0.1M1336.5 1219.1l19.6 6.9m-6.6 -8.8l6.6 8.8l-10.6 2.8M445.8 1235.3l14.7 -3m-10.2 -4.2l10.2 4.2l-7.7 7.9M472.8 1235.3l10.9 -1.5m-9.9 -4.9l9.9 4.9l-8.2 7.3M526.8 1235.3l3.8 -10.7m-8.8 6.5l8.8 -6.5l2.8 10.7M958.6 1235.3l17.3 10.5m-4.6 -10l4.6 10l-11 0.5M445.8 1251.5l15.7 -3.2m-10.2 -4.2l10.2 4.2l-7.7 7.9M472.8 1251.5l11.8 -2.2m-10.1 -4.4l10.1 4.4l-7.9 7.7M526.8 1251.5l2.9 -11.1m-8.2 7.3l8.2 -7.3l3.7 10.4M877.6 1251.5l1.6 -10.8m-7.4 8.1l7.4 -8.1l4.7 9.9M904.6 1251.5l7.5 -8m-10.7 2.5l10.7 -2.5l-1.7 10.9M1390.4 1251.5l14.3 -4.6m-10.6 -3l10.6 3l-6.8 8.7M445.8 1267.7l15.9 -2.2m-9.9 -4.8l9.9 4.8l-8.2 7.4M472.8 1267.7l12.3 -1.3m-9.7 -5.2l9.7 5.2l-8.4 7M499.8 1267.7l10.7 1.1m-8.4 -7l8.4 7l-9.7 5.2M877.6 1267.7l1.3 -11.1m-7.1 8.4l7.1 -8.4l5.1 9.8M904.6 1267.7l8.3 -8.8m-10.7 2.4l10.7 -2.4l-1.7 10.9M931.6 1267.7l11.7 -0.3m-9.3 -5.9l9.3 5.9l-9 6.4M1390.4 1267.7l9.8 -6.9m-11 0.2l11 -0.2l-3.9 10.3M499.8 1283.9l12.4 4.8m-6.3 -9l6.3 9l-10.7 2.4M877.6 1283.9l9.8 -5.1m-10.9 -1.2l10.9 1.2l-5.2 9.7M1390.4 1283.9l12.5 2m-8.1 -7.5l8.1 7.5l-10 4.7M283.8 1300.1l11.9 -3.5m-10.5 -3.3l10.5 3.3l-7 8.5M742.7 1300.1l0.8 10.8m5.5 -9.5l-5.5 9.5l-6.8 -8.6M850.6 1300.1l10.1 -7.1m-11 0.2l11 -0.2l-3.9 10.3M364.8 1332.5l1.2 -11.8m-7.1 8.4l7.1 -8.4l5.2 9.7M526.8 1332.5l10.7 2.8m-7.3 -8.3l7.3 8.3l-10.4 3.7M742.7 1332.5l5.4 10.5m1.3 -10.9l-1.3 10.9l-9.7 -5.3M769.7 1332.5l10.6 5.1m-5.5 -9.5l5.5 9.5l-10.9 1.6M796.7 1332.5l10.5 5.7m-5.1 -9.7l5.1 9.7l-10.9 1.1M823.6 1332.5l12 3.4m-7.1 -8.4l7.1 8.4l-10.4 3.4M283.8 1348.7l7.1 -17.3m-9.2 6.1l9.2 -6.1l2.2 10.8M364.8 1348.7l8.9 -16.4m-9.8 5.1l9.8 -5.1l1.1 10.9M715.7 1348.7l13.6 6.5m-5.5 -9.5l5.5 9.5l-10.9 1.6M769.7 1348.7l9.7 7m-3.8 -10.3l3.8 10.3l-11 -0.3M850.6 1348.7l15 0.6m-8.9 -6.5l8.9 6.5l-9.4 5.8M283.8 1364.8l0.7 -10.9m-6.7 8.7l6.7 -8.7l5.6 9.5M526.8 1364.8l-2.7 13.6m7.8 -7.8l-7.8 7.8l-4.3 -10.1M688.7 1364.8l11.6 -3.9m-10.6 -2.9l10.6 2.9l-6.7 8.7M742.7 1364.8l7.4 9.4m-0.8 -11l0.8 11l-10.5 -3.3M769.7 1364.8l9 6.6m-3.7 -10.4l3.7 10.4l-11 -0.4M796.7 1364.8l10.5 4.2m-6.2 -9.1l6.2 9.1l-10.8 2.3M823.6 1364.8l11.8 0.9m-8.6 -6.9l8.6 6.9l-9.6 5.4M850.6 1364.8l13.8 2.3m-8 -7.6l8 7.6l-10 4.6M499.8 1381l5.9 10.2m0.8 -11l-0.8 11l-9.9 -4.8M526.8 1381l-0.3 12.3m6.3 -9l-6.3 9l-6 -9.3M688.7 1381l6.3 12.2m1.2 -10.9l-1.2 10.9l-9.7 -5.2M742.7 1381l4.6 13.9m3 -10.6l-3 10.6l-8.7 -6.7M769.7 1381l15.9 7.4m-5.7 -9.4l5.7 9.4l-10.9 1.7M796.7 1381l16.3 4.7m-7.1 -8.4l7.1 8.4l-10.5 3.4M607.7 1397.2l10 -6.4m-11 -0.3l11 0.3l-4.4 10.1M742.7 1397.2l11.5 13.6m-1.2 -10.9l1.2 10.9l-10.6 -3M1390.4 1429.6l-8.6 -19.2m-1.9 10.8l1.9 -10.8l9.3 5.8M1417.4 1429.6l-1.9 -11.1m-4.5 10l4.5 -10l7.6 7.9M742.7 1445.8l12.2 9.7m-3.3 -10.5l3.3 10.5l-11 -0.9M769.7 1445.8l11.6 4.4m-6.4 -9l6.4 9l-10.7 2.6M1390.4 1445.8l-2.5 -13.8m-4.4 10.1l4.4 -10.1l7.7 7.9M1417.4 1445.8l-5.1 -15.9m-3.1 10.6l3.1 -10.6l8.7 6.8M553.7 1494.4l9.7 -18.4m-9.7 5.2l9.7 -5.2l1.2 10.9M823.6 1494.4l18.1 5.8m-6.8 -8.6l6.8 8.6l-10.6 3.1M607.7 1510.6l6.6 -9m-10.4 3.7l10.4 -3.7l-0.5 11M634.7 1510.6l20.3 4.9m-7.4 -8.1l7.4 8.1l-10.3 3.9M823.6 1510.6l11.8 3.1m-7.3 -8.3l7.3 8.3l-10.4 3.6M1147.5 1510.6l10.5 3.6m-6.6 -8.8l6.6 8.8l-10.6 2.8M634.7 1526.8l15.1 -1.2m-9.6 -5.4l9.6 5.4l-8.6 6.9M634.7 1542.9l12.4 2.9m-7.5 -8.1l7.5 8.1l-10.3 3.9M661.7 1542.9l13.3 -4.4m-10.6 -3l10.6 3l-6.7 8.7M661.7 1559.1l9.8 -4.9m-10.9 -1.4l10.9 1.4l-5.4 9.6M688.7 1559.1l13 -3.9m-10.5 -3.2l10.5 3.2l-6.9 8.5M661.7 1575.3l8.5 -7.2m-10.9 1.2l10.9 -1.2l-3 10.6M688.7 1575.3l9.6 -6.3m-11 -0.2l11 0.2l-4.3 10.1M715.7 1575.3l10.6 -5.8m-11 -1l11 1l-5 9.8M283.6 1528.3l19.8 1.3m-8.7 -6.7l8.7 6.7l-9.5 5.5M311.4 1527l19.8 -5.3m-10.4 -3.6l10.4 3.6l-7.2 8.3M337.8 1556.1l14.6 2.6m-7.9 -7.7l7.9 7.7l-10.1 4.4M365.6 1544.2l15.9 1.3m-8.6 -6.9l8.6 6.9l-9.6 5.4M365.6 1558.7l14.6 0m-9.1 -6.2l9.1 6.2l-9.1 6.2M365.6 1569.3l11.9 -4m-10.6 -3l10.6 3l-6.7 8.7M366.9 1577.2l9.3 -6.6m-11 0.3l11 -0.3l-3.8 10.3M392.1 1561.4l13.2 -11.9m-10.9 1.5l10.9 -1.5l-2.7 10.7M501.9 1429.1l15.9 -5.3m-10.6 -3l10.6 3l-6.7 8.7"/>
<path stroke="#1e3cff" d="M1552.4 69.6l-3 -22.6m-4.9 9.8l4.9 -9.8l7.3 8.2M1579.4 69.6l-6.5 -23.6m-3.5 10.4l3.5 -10.4l8.4 7.2M1660.3 69.6l-10.5 -21.2m-1.4 10.9l1.4 -10.9l9.6 5.4M1552.4 85.8l1.7 -26.6m-6.7 8.7l6.7 -8.7l5.6 9.5M1606.4 85.8l1.4 -25.6m-6.6 8.8l6.6 -8.8l5.7 9.4M1633.3 85.8l-8.9 -22.9m-2.4 10.7l2.4 -10.7l9 6.3M1660.3 85.8l-8 -21.3m-2.6 10.7l2.6 -10.7l9 6.4M1687.3 85.8l17.2 -21.7m-10.5 3.3l10.5 -3.3l-0.9 11M1714.3 85.8l16.6 -20.8m-10.5 3.3l10.5 -3.3l-0.9 11M1687.3 102l18.9 -23m-10.5 3.1l10.5 -3.1l-1.1 10.9M1714.3 102l12 -20.1m-10 4.7l10 -4.7l0.6 11M1768.3 102l2.4 -24m-7 8.5l7 -8.5l5.2 9.7M1498.4 118.2l5.7 -22.8m-8.2 7.4l8.2 -7.4l3.8 10.3M1687.3 118.2l19.9 -20.1m-10.8 2.1l10.8 -2.1l-2.1 10.8M1714.3 118.2l11 -23.2m-9.5 5.6l9.5 -5.6l1.7 10.9M1741.3 118.2l8.4 -25.1m-8.7 6.7l8.7 -6.7l2.9 10.6M1768.3 118.2l3.4 -25.2m-7.3 8.2l7.3 -8.2l4.9 9.9M1687.3 134.4l20.7 -23.6m-10.6 2.8l10.6 -2.8l-1.4 10.9M1714.3 134.4l9.9 -22.5m-9.3 5.9l9.3 -5.9l1.9 10.8M1741.3 134.4l6 -24.3m-8.2 7.4l8.2 -7.4l3.8 10.3M1768.3 134.4l4.5 -23.6m-7.8 7.8l7.8 -7.8l4.3 10.1M1444.4 150.6l8 -21.2m-9 6.4l9 -6.4l2.5 10.7M1471.4 150.6l18.1 -26.1m-10.3 4l10.3 -4l-0.2 11M1606.4 150.6l27.1 -15.8m-11 -0.7l11 0.7l-4.8 9.9M1633.3 150.6l24.3 -15.9m-11 -0.2l11 0.2l-4.3 10.1M1714.3 150.6l10.9 -22.5m-9.5 5.5l9.5 -5.5l1.5 10.9M1741.3 150.6l7.6 -20.4m-8.9 6.4l8.9 -6.4l2.6 10.7M1768.3 150.6l2.1 -27m-6.8 8.6l6.8 -8.6l5.4 9.6M1444.4 166.8l8.6 -21.8m-9.1 6.2l9.1 -6.2l2.4 10.7M1471.4 166.8l18 -20.7m-10.6 2.8l10.6 -2.8l-1.3 10.9M1525.4 166.8l26.3 -17.3m-11 -0.1l11 0.1l-4.2 10.2M1633.3 166.8l25 -17.2m-11 0.1l11 -0.1l-4 10.2M1660.3 166.8l23 -15.9m-11 0.1l11 -0.1l-4 10.2M1687.3 166.8l14.7 -19.2m-10.4 3.5l10.4 -3.5l-0.7 11M1471.4 183l18.2 -21.7m-10.6 3.1l10.6 -3.1l-1.1 10.9M1498.4 183l24.4 -18.6m-11 0.6l11 -0.6l-3.5 10.4M1525.4 183l24 -20.8m-10.9 1.3l10.9 -1.3l-2.9 10.6M1633.3 183l20.6 -18.7m-10.9 1.6l10.9 -1.6l-2.6 10.7M1660.3 183l24.1 -18.3m-11 0.6l11 -0.6l-3.6 10.4M1687.3 183l13.5 -18.3m-10.4 3.7l10.4 -3.7l-0.5 11M1471.4 199.2l12.2 -19.9m-10 4.6l10 -4.6l0.5 11M1498.4 199.2l20.4 -18.5m-10.9 1.6l10.9 -1.6l-2.6 10.7M1525.4 199.2l23.4 -12m-10.9 -1.3l10.9 1.3l-5.3 9.6M1552.4 199.2l25.4 -19.6m-11 0.7l11 -0.7l-3.5 10.4M1579.4 199.2l27.2 -15.3m-11 -0.9l11 0.9l-4.9 9.8M1606.4 199.2l25.1 -16m-11 -0.3l11 0.3l-4.4 10.1M1633.3 199.2l23.9 -14.8m-11 -0.4l11 0.4l-4.5 10M1660.3 199.2l22 -17.5m-11 0.9l11 -0.9l-3.3 10.5M1687.3 199.2l16.3 -16.5m-10.8 2.2l10.8 -2.2l-2 10.8M1471.4 215.4l16.2 -16.6m-10.8 2.2l10.8 -2.2l-2 10.8M1498.4 215.4l19.7 -16.4m-10.9 1.1l10.9 -1.1l-3.1 10.6M1525.4 215.4l27.4 -12.3m-10.8 -1.9l10.8 1.9l-5.8 9.4M1552.4 215.4l23.5 -16.3m-11 0.1l11 -0.1l-4 10.2M1579.4 215.4l27.1 -13.5m-10.9 -1.5l10.9 1.5l-5.4 9.6M1606.4 215.4l26.6 -12m-10.8 -1.8l10.8 1.8l-5.8 9.4M1633.3 215.4l25.1 -15.2m-11 -0.5l11 0.5l-4.6 10M1660.3 215.4l20.9 -15.8m-11 0.6l11 -0.6l-3.6 10.4M1687.3 215.4l15.3 -17.6m-10.6 2.9l10.6 -2.9l-1.3 10.9M1498.4 231.6l17.5 -15.2m-10.9 1.4l10.9 -1.4l-2.8 10.6M1525.4 231.6l24.8 -11m-10.8 -1.9l10.8 1.9l-5.8 9.3M1552.4 231.6l21.9 -10.9m-10.9 -1.5l10.9 1.5l-5.4 9.6M1579.4 231.6l24.7 -12.3m-10.9 -1.4l10.9 1.4l-5.4 9.6M1606.4 231.6l24.2 -15.2m-11 -0.3l11 0.3l-4.4 10.1M1633.3 231.6l23.2 -15.9m-11 0.1l11 -0.1l-4 10.2M1660.3 231.6l20 -19m-10.8 1.8l10.8 -1.8l-2.4 10.7M1687.3 231.6l12.9 -17.9m-10.3 3.8l10.3 -3.8l-0.3 11M1525.4 247.7l22.2 -9.1m-10.8 -2.2l10.8 2.2l-6.1 9.1M1552.4 247.7l20.2 -10.3m-10.9 -1.4l10.9 1.4l-5.4 9.6M1579.4 247.7l23.6 -11m-10.9 -1.7l10.9 1.7l-5.6 9.4M1606.4 247.7l23.4 -14.4m-11 -0.4l11 0.4l-4.5 10M1633.3 247.7l22.1 -11.2m-10.9 -1.4l10.9 1.4l-5.4 9.6M1660.3 247.7l18.7 -12.9m-11 0.1l11 -0.1l-4 10.2M1552.4 263.9l18.9 -10.3m-10.9 -1.1l10.9 1.1l-5.1 9.8M1579.4 263.9l23.4 -11.6m-10.9 -1.5l10.9 1.5l-5.4 9.6M1606.4 263.9l23.9 -13m-10.9 -1.1l10.9 1.1l-5.1 9.8M1633.3 263.9l21.5 -12.9m-11 -0.6l11 0.6l-4.7 10M1579.4 280.1l21.3 -10m-10.9 -1.7l10.9 1.7l-5.6 9.4M1606.4 280.1l24.2 -11.1m-10.9 -1.8l10.9 1.8l-5.7 9.4M1633.3 280.1l21 -13.3m-11 -0.3l11 0.3l-4.4 10.1M1579.4 296.3l21.6 -11.2m-10.9 -1.3l10.9 1.3l-5.3 9.7M1633.3 296.3l19.8 -12.2m-11 -0.4l11 0.4l-4.5 10M1390.4 312.5l17.6 25m-0.2 -11l0.2 11l-10.3 -3.9M1444.4 312.5l24.5 -10.7m-10.8 -2l10.8 2l-5.9 9.3M1471.4 312.5l19.6 -11.2m-11 -0.8l11 0.8l-4.9 9.9M1309.5 328.7l29.3 -7.1m-10.3 -3.8l10.3 3.8l-7.4 8.1M1444.4 328.7l29.6 -7.3m-10.3 -3.8l10.3 3.8l-7.4 8.2M1471.4 328.7l25.2 -10.8m-10.8 -2.1l10.8 2.1l-6 9.2M1498.4 328.7l22.3 -7.4m-10.6 -3l10.6 3l-6.7 8.7M1471.4 344.9l30 -4.5m-9.9 -4.7l9.9 4.7l-8.1 7.4M1498.4 344.9l25.6 -6.7m-10.4 -3.7l10.4 3.7l-7.3 8.2M1363.4 361.1l22.4 3.9m-7.9 -7.6l7.9 7.6l-10 4.5M1417.4 361.1l29 4.8m-8 -7.6l8 7.6l-10 4.6M1444.4 361.1l22.4 10.4m-5.7 -9.4l5.7 9.4l-10.9 1.8M1471.4 361.1l20.6 7m-6.7 -8.8l6.7 8.8l-10.6 2.9M1228.5 393.5l-12.1 22.5m9.7 -5.1l-9.7 5.1l-1.1 -10.9M1255.5 393.5l-14.9 21m10.3 -3.9l-10.3 3.9l0.3 -11M1228.5 409.6l-10.9 22m9.6 -5.4l-9.6 5.4l-1.5 -10.9M1255.5 409.6l-12.4 20.2m10 -4.5l-10 4.5l-0.5 -11M1390.4 409.6l16.1 -17.2m-10.7 2.5l10.7 -2.5l-1.7 10.9M1174.5 425.8l-4.9 26.4m7.7 -7.9l-7.7 7.9l-4.4 -10.1M1201.5 425.8l-16.3 27.6m9.9 -4.7l-9.9 4.7l-0.7 -11M1228.5 425.8l-6.6 25.4m8.2 -7.3l-8.2 7.3l-3.7 -10.4M1147.5 442l-4.5 21.6m7.9 -7.7l-7.9 7.7l-4.2 -10.2M1174.5 442l-11 30.1m8.9 -6.5l-8.9 6.5l-2.6 -10.7M1201.5 442l-13.1 29m9.4 -5.8l-9.4 5.8l-1.9 -10.8M1228.5 442l-8 24.1m8.7 -6.7l-8.7 6.7l-3 -10.6M1147.5 458.2l0.1 23.5m6.1 -9.1l-6.1 9.1l-6.2 -9.1M1228.5 458.2l-5.1 26.1m7.8 -7.8l-7.8 7.8l-4.3 -10.1M1120.5 474.4l-0.8 23.2m6.5 -8.9l-6.5 8.9l-5.8 -9.3M1147.5 474.4l-5.8 26.8m7.9 -7.6l-7.9 7.6l-4.1 -10.2M1228.5 474.4l-4.7 28.3m7.6 -8l-7.6 8l-4.6 -10M1309.5 474.4l0.2 24.6m6.1 -9.2l-6.1 9.2l-6.2 -9.1M1336.5 474.4l-4.4 23.5m7.7 -7.8l-7.7 7.8l-4.3 -10.1M1093.5 490.6l-0.2 22m6.2 -9.1l-6.2 9.1l-6.1 -9.2M1120.5 490.6l-4.7 25m7.7 -7.8l-7.7 7.8l-4.4 -10.1M1147.5 490.6l-1 27m6.5 -8.9l-6.5 8.9l-5.8 -9.3M1201.5 490.6l-6.4 29.9m7.9 -7.6l-7.9 7.6l-4.1 -10.2M1228.5 490.6l-2.2 29.3m6.8 -8.6l-6.8 8.6l-5.5 -9.6M1255.5 490.6l-1.4 28m6.6 -8.8l-6.6 8.8l-5.7 -9.4M1282.5 490.6l-4.8 24.8m7.8 -7.8l-7.8 7.8l-4.3 -10.1M1309.5 490.6l-1.8 25.2m6.8 -8.7l-6.8 8.7l-5.5 -9.5M1336.5 490.6l-0.4 25.7m6.3 -9l-6.3 9l-6 -9.2M1120.5 506.8l-4.2 25.2m7.6 -8l-7.6 8l-4.6 -10M1147.5 506.8l-4.6 26.5m7.6 -7.9l-7.6 7.9l-4.5 -10M1174.5 506.8l-2.1 31.5m6.8 -8.7l-6.8 8.7l-5.5 -9.5M1201.5 506.8l-4.2 30.5m7.3 -8.2l-7.3 8.2l-4.8 -9.9M1228.5 506.8l-4.7 27.7m7.6 -7.9l-7.6 7.9l-4.5 -10M1255.5 506.8l-3.6 24.8m7.4 -8.1l-7.4 8.1l-4.8 -9.9M1282.5 506.8l-1.7 26.6m6.7 -8.7l-6.7 8.7l-5.5 -9.5M1309.5 506.8l-4.7 27.8m7.6 -8l-7.6 8l-4.5 -10M1336.5 506.8l0.3 23.4m6 -9.2l-6 9.2l-6.3 -9M1093.5 523l1 23.9m5.8 -9.4l-5.8 9.4l-6.5 -8.9M1120.5 523l-0.3 23.8m6.3 -9.1l-6.3 9.1l-6.1 -9.2M1147.5 523l4.6 26.9m4.5 -10l-4.5 10l-7.6 -8M1174.5 523l9.3 26.8m2.8 -10.6l-2.8 10.6l-8.8 -6.6M1201.5 523l4.6 29.9m4.7 -9.9l-4.7 9.9l-7.5 -8.1M1228.5 523l2.2 28.7m5.4 -9.6l-5.4 9.6l-6.8 -8.6M1255.5 523l-1.2 25m6.6 -8.8l-6.6 8.8l-5.7 -9.4M1282.5 523l-1.5 30.4m6.6 -8.8l-6.6 8.8l-5.7 -9.4M1309.5 523l-3.8 31.6m7.2 -8.3l-7.2 8.3l-5 -9.8M1336.5 523l-4.7 27.2m7.6 -7.9l-7.6 7.9l-4.5 -10M1363.4 523l-0.9 25.6m6.5 -8.9l-6.5 8.9l-5.8 -9.3M1093.5 539.2l1.2 26m5.7 -9.4l-5.7 9.4l-6.6 -8.8M1120.5 539.2l1.6 25m5.6 -9.5l-5.6 9.5l-6.7 -8.7M1147.5 539.2l11.2 23.8m1.7 -10.9l-1.7 10.9l-9.4 -5.6M1174.5 539.2l20.2 21.8m-1.7 -10.9l1.7 10.9l-10.7 -2.5M1201.5 539.2l16.7 25.1m0.1 -11l-0.1 11l-10.2 -4.2M1228.5 539.2l-0.6 26.8m6.4 -9l-6.4 9l-5.9 -9.3M1255.5 539.2l1.5 27.3m5.7 -9.4l-5.7 9.4l-6.6 -8.8M1282.5 539.2l0.1 29.1m6.1 -9.1l-6.1 9.1l-6.2 -9.1M1336.5 539.2l-0.6 30m6.3 -9l-6.3 9l-6 -9.2M1363.4 539.2l-1.3 26.3m6.6 -8.8l-6.6 8.8l-5.7 -9.4M1093.5 555.4l-2.8 23.4m7.2 -8.3l-7.2 8.3l-5 -9.8M1120.5 555.4l1.3 25.1m5.7 -9.4l-5.7 9.4l-6.6 -8.8M1147.5 555.4l11.2 26.3m2.1 -10.8l-2.1 10.8l-9.2 -6M1174.5 555.4l20 21m-1.8 -10.8l1.8 10.8l-10.7 -2.4M1201.5 555.4l15 22m-0.1 -11l0.1 11l-10.2 -4.1M1228.5 555.4l0 29.8m6.1 -9.1l-6.1 9.1l-6.2 -9.1M1255.5 555.4l1.1 24.8m5.8 -9.4l-5.8 9.4l-6.5 -8.8M1282.5 555.4l-0.7 26.3m6.4 -9l-6.4 9l-5.9 -9.3M1336.5 555.4l-0.2 26.4m6.2 -9.1l-6.2 9.1l-6.1 -9.2M1363.4 555.4l-0.5 24.4m6.4 -9l-6.4 9l-5.9 -9.3M1093.5 571.5l-0.1 22.8m6.2 -9.1l-6.2 9.1l-6.1 -9.1M1120.5 571.5l-0.1 23.6m6.2 -9.1l-6.2 9.1l-6.1 -9.1M1147.5 571.5l8.9 22.7m2.4 -10.7l-2.4 10.7l-9.1 -6.2M1174.5 571.5l18.9 19.1m-2 -10.8l2 10.8l-10.8 -2.1M1201.5 571.5l15.7 20.8m-0.6 -11l0.6 11l-10.4 -3.6M1228.5 571.5l1.9 29.9m5.6 -9.5l-5.6 9.5l-6.7 -8.7M1255.5 571.5l-4.9 29.5m7.6 -8l-7.6 8l-4.6 -10M1363.4 571.5l0.5 26.9m6 -9.2l-6 9.2l-6.3 -9M1201.5 587.7l-2.5 24m7.1 -8.4l-7.1 8.4l-5.2 -9.7M1363.4 587.7l1.2 27m5.7 -9.4l-5.7 9.4l-6.6 -8.8M1201.5 603.9l-5.1 26.4m7.8 -7.8l-7.8 7.8l-4.3 -10.1M1255.5 603.9l-8.3 30.9m8.3 -7.2l-8.3 7.2l-3.6 -10.4M1363.4 603.9l-1.5 24.8m6.7 -8.7l-6.7 8.7l-5.6 -9.5M1390.4 603.9l4 22.4m4.5 -10.1l-4.5 10.1l-7.6 -7.9M1201.5 620.1l-2.5 23.7m7.1 -8.4l-7.1 8.4l-5.2 -9.7M1228.5 620.1l-8.5 29.8m8.4 -7.1l-8.4 7.1l-3.4 -10.5M1336.5 620.1l-1.5 32.1m6.6 -8.8l-6.6 8.8l-5.7 -9.4M1363.4 620.1l0.3 27.3m6 -9.2l-6 9.2l-6.3 -9M1390.4 620.1l5.8 20.9m3.5 -10.4l-3.5 10.4l-8.4 -7.1M1174.5 636.3l-1.6 25.1m6.7 -8.7l-6.7 8.7l-5.6 -9.5M1201.5 636.3l-5.8 26.5m8 -7.6l-8 7.6l-4.1 -10.2M1336.5 636.3l0.9 31m5.9 -9.3l-5.9 9.3l-6.4 -8.9M1363.4 636.3l4.8 28.1m4.5 -10l-4.5 10l-7.6 -7.9M1390.4 636.3l9 21.3m2.1 -10.8l-2.1 10.8l-9.2 -6M1174.5 652.5l-3.3 25.9m7.3 -8.3l-7.3 8.3l-4.9 -9.8M1201.5 652.5l-5.3 27m7.8 -7.8l-7.8 7.8l-4.3 -10.1M1363.4 652.5l-0.2 27.1m6.2 -9.1l-6.2 9.1l-6.1 -9.2M1390.4 652.5l8.6 21.3m2.3 -10.8l-2.3 10.8l-9.1 -6.1M1417.4 652.5l18.2 -12.3m-11 0l11 0l-4.1 10.2M1174.5 668.7l-0.2 24.1m6.2 -9.1l-6.2 9.1l-6.1 -9.2M1201.5 668.7l-2.7 29.8m7 -8.5l-7 8.5l-5.3 -9.6M1228.5 668.7l-8.5 30.9m8.3 -7.2l-8.3 7.2l-3.5 -10.4M1255.5 668.7l-1 28.9m6.5 -8.9l-6.5 8.9l-5.8 -9.3M1309.5 668.7l1.8 28.7m5.6 -9.5l-5.6 9.5l-6.7 -8.7M1336.5 668.7l8.8 27.9m3.1 -10.5l-3.1 10.5l-8.6 -6.9M1363.4 668.7l15.4 19.5m-0.8 -11l0.8 11l-10.5 -3.4M1390.4 668.7l18.5 12.5m-4.1 -10.2l4.1 10.2l-11 0M1147.5 684.9l0.3 23.4m6 -9.2l-6 9.2l-6.3 -9M1174.5 684.9l-3.5 25.7m7.3 -8.2l-7.3 8.2l-4.9 -9.9M1201.5 684.9l-5.1 26.5m7.8 -7.8l-7.8 7.8l-4.3 -10.1M1228.5 684.9l-6.7 30.6m7.9 -7.6l-7.9 7.6l-4.1 -10.2M1255.5 684.9l0.2 26.8m6.1 -9.2l-6.1 9.2l-6.2 -9.1M1282.5 684.9l0.5 26m6 -9.2l-6 9.2l-6.3 -9M1309.5 684.9l7.6 28.3m3.6 -10.4l-3.6 10.4l-8.3 -7.2M1336.5 684.9l10.2 22.7m1.9 -10.8l-1.9 10.8l-9.3 -5.8M1363.4 684.9l12.3 20.3m0.5 -11l-0.5 11l-10 -4.6M1390.4 684.9l22.5 -0.7m-9.3 -5.9l9.3 5.9l-8.9 6.4M1147.5 701.1l2.5 23.7m5.2 -9.7l-5.2 9.7l-7.1 -8.4M1174.5 701.1l-2.3 27.1m6.9 -8.6l-6.9 8.6l-5.3 -9.6M1201.5 701.1l3.9 27.3m4.8 -9.9l-4.8 9.9l-7.4 -8.2M1255.5 701.1l-0.8 29.5m6.4 -8.9l-6.4 8.9l-5.9 -9.3M1282.5 701.1l9 28.3m3.1 -10.6l-3.1 10.6l-8.6 -6.8M1336.5 701.1l13.7 26.1m1.2 -10.9l-1.2 10.9l-9.7 -5.2M1363.4 701.1l19.5 16.9m-2.9 -10.6l2.9 10.6l-10.9 -1.3M1390.4 701.1l22.1 0.7m-8.9 -6.4l8.9 6.4l-9.3 5.9M1120.5 717.3l18.4 12.8m-4 -10.3l4 10.3l-11 -0.2M1147.5 717.3l12.7 19.5m0.2 -11l-0.2 11l-10.1 -4.3M1174.5 717.3l22.8 14.6m-4.4 -10.1l4.4 10.1l-11 0.3M1120.5 733.4l19.7 13.2m-4.2 -10.2l4.2 10.2l-11 0M1147.5 733.4l24.4 10.9m-5.8 -9.3l5.8 9.3l-10.8 1.9M1174.5 733.4l27.3 2.7m-8.5 -7l8.5 7l-9.7 5.2M1282.5 749.6l15.1 26m0.8 -11l-0.8 11l-9.9 -4.8M1309.5 749.6l7.5 24.6m3.2 -10.5l-3.2 10.5l-8.5 -6.9M1363.4 749.6l11.2 25.7m2 -10.8l-2 10.8l-9.3 -5.9M1390.4 749.6l3.6 26m4.9 -9.9l-4.9 9.9l-7.3 -8.2M1444.4 749.6l29 12m-6.1 -9.2l6.1 9.2l-10.8 2.2M1363.4 765.8l1.7 24.3m5.5 -9.5l-5.5 9.5l-6.8 -8.7M1390.4 765.8l4.1 27.5m4.7 -9.9l-4.7 9.9l-7.4 -8.1M1417.4 765.8l19.4 14.9m-3.5 -10.4l3.5 10.4l-11 -0.7M2227.1 765.8l15.5 16.2m-1.9 -10.8l1.9 10.8l-10.8 -2.3M1363.4 782l0.9 28.9m5.9 -9.3l-5.9 9.3l-6.4 -8.9M1471.4 782l28.9 2.1m-8.7 -6.8l8.7 6.8l-9.5 5.5M1174.5 798.2l-0.6 26.1m6.4 -9l-6.4 9l-5.9 -9.3M1498.4 798.2l27.3 -7.5m-10.4 -3.5l10.4 3.5l-7.2 8.3M1957.2 798.2l24.8 -6.3m-10.4 -3.7l10.4 3.7l-7.3 8.2M1984.2 798.2l23.6 -8.5m-10.7 -2.7l10.7 2.7l-6.5 8.9M2011.2 798.2l24 -5.5m-10.3 -3.9l10.3 3.9l-7.5 8M2038.2 798.2l27.5 -1.1m-9.4 -5.8l9.4 5.8l-8.9 6.5M2065.2 798.2l24.7 -6.3m-10.4 -3.7l10.4 3.7l-7.3 8.2M2092.2 798.2l24.9 -6.2m-10.3 -3.8l10.3 3.8l-7.4 8.2M2119.2 798.2l23.1 -6.7m-10.5 -3.3l10.5 3.3l-7 8.5M1174.5 814.4l4.2 26.9m4.7 -10l-4.7 10l-7.5 -8.1M1255.5 814.4l-19.6 19m10.8 -1.9l-10.8 1.9l2.2 -10.8M1282.5 814.4l-24.2 11.4m10.9 1.7l-10.9 -1.7l5.6 -9.4M1498.4 814.4l23.2 14.7m-4.4 -10.1l4.4 10.1l-11 0.3M1903.2 814.4l25.1 -1.8m-9.5 -5.5l9.5 5.5l-8.7 6.8M1930.2 814.4l26.8 1.4m-8.8 -6.6l8.8 6.6l-9.4 5.7M1957.2 814.4l26.3 -1.1m-9.4 -5.8l9.4 5.8l-8.8 6.5M1984.2 814.4l25.8 -2.5m-9.7 -5.3l9.7 5.3l-8.5 7M2011.2 814.4l25.5 -0.2m-9.2 -6.1l9.2 6.1l-9.1 6.2M2038.2 814.4l29 -4.5m-10 -4.7l10 4.7l-8.1 7.5M2065.2 814.4l28.6 -2.6m-9.6 -5.3l9.6 5.3l-8.5 7M2092.2 814.4l22.3 -7.9m-10.7 -2.7l10.7 2.7l-6.5 8.8M1255.5 830.6l-22.1 20.1m10.9 -1.6l-10.9 1.6l2.6 -10.7M1282.5 830.6l-24.6 4.5m10.1 4.4l-10.1 -4.4l7.9 -7.7M1363.4 830.6l30 6.8m-7.5 -8l7.5 8l-10.3 4M1525.4 830.6l25.4 12.8m-5.4 -9.6l5.4 9.6l-10.9 1.4M1552.4 830.6l24.6 6.7m-7.2 -8.3l7.2 8.3l-10.4 3.5M1579.4 830.6l23.9 7.4m-6.9 -8.6l6.9 8.6l-10.5 3.2M1633.3 830.6l23.1 4.1m-7.9 -7.7l7.9 7.7l-10.1 4.5M1660.3 830.6l21.2 6.4m-7 -8.5l7 8.5l-10.5 3.3M1228.5 846.8l-29.1 10.7m10.7 2.6l-10.7 -2.6l6.4 -8.9M1363.4 846.8l24.1 17.7m-3.7 -10.4l3.7 10.4l-11 -0.4M1552.4 846.8l7.2 28.4m3.7 -10.4l-3.7 10.4l-8.2 -7.3M1579.4 846.8l9.7 26.7m2.6 -10.7l-2.6 10.7l-8.9 -6.5M1606.4 846.8l8.4 23.1m2.6 -10.7l-2.6 10.7l-8.9 -6.4M1633.3 846.8l7.2 26.2m3.5 -10.4l-3.5 10.4l-8.3 -7.2M1660.3 846.8l10.1 22.4m1.9 -10.8l-1.9 10.8l-9.4 -5.8M1768.3 846.8l21.5 14.4m-4.2 -10.2l4.2 10.2l-11 0.1M1336.5 863l23.1 19.9m-2.9 -10.6l2.9 10.6l-10.9 -1.3M1363.4 863l24 19.3m-3.3 -10.5l3.3 10.5l-11 -0.9M1552.4 863l2 31.2m5.6 -9.5l-5.6 9.5l-6.7 -8.7M1606.4 863l-0.1 26.6m6.2 -9.1l-6.2 9.1l-6.1 -9.1M1633.3 863l1.7 25.5m5.5 -9.5l-5.5 9.5l-6.7 -8.7M1660.3 863l-2.6 26.2m7 -8.5l-7 8.5l-5.2 -9.7M1714.3 863l6.7 23.3m3.4 -10.5l-3.4 10.5l-8.4 -7.1M1741.3 863l-5.6 22.8m8.2 -7.4l-8.2 7.4l-3.8 -10.3M1363.4 879.2l-6 22.1m8.3 -7.2l-8.3 7.2l-3.5 -10.4M1390.4 879.2l5.9 31.1m4.3 -10.1l-4.3 10.1l-7.7 -7.8M1444.4 879.2l14.5 24.5m0.6 -11l-0.6 11l-9.9 -4.7M1606.4 879.2l-1.5 27m6.6 -8.8l-6.6 8.8l-5.6 -9.4M1633.3 879.2l-2.9 28.7m7 -8.5l-7 8.5l-5.2 -9.7M1660.3 879.2l2.3 27.5m5.4 -9.6l-5.4 9.6l-6.9 -8.6M1687.3 879.2l4.3 27.8m4.7 -9.9l-4.7 9.9l-7.5 -8.1M1714.3 879.2l2.8 24.7m5.1 -9.7l-5.1 9.7l-7.1 -8.4M1741.3 879.2l-0.8 24.2m6.5 -8.9l-6.5 8.9l-5.8 -9.3M1174.5 895.3l22.8 -18.2m-11 0.9l11 -0.9l-3.3 10.5M1363.4 895.3l-9.7 21.9m9.3 -5.8l-9.3 5.8l-1.9 -10.8M1687.3 895.3l27.9 9.6m-6.6 -8.8l6.6 8.8l-10.6 2.9M1309.5 911.5l-21.8 13.2m11 0.6l-11 -0.6l4.6 -10M1336.5 911.5l-16.8 20m10.6 -3l-10.6 3l1.2 -10.9M1363.4 911.5l-26 17.3m11 0.1l-11 -0.1l4.2 -10.2M1552.4 911.5l22.5 -13.5m-11 -0.6l11 0.6l-4.6 10M1633.3 911.5l27.8 7.6m-7.2 -8.3l7.2 8.3l-10.4 3.5M1687.3 911.5l30.8 3.1m-8.4 -7l8.4 7l-9.7 5.2M1255.5 927.7l-22.8 4m10.1 4.5l-10.1 -4.5l7.9 -7.6M1282.5 927.7l-29.6 5.7m10.1 4.3l-10.1 -4.3l7.8 -7.8M1309.5 927.7l-28.3 4.9m10 4.5l-10 -4.5l7.9 -7.6M1336.5 927.7l-30.1 10.1m10.6 2.9l-10.6 -2.9l6.7 -8.7M1660.3 927.7l29.8 -4.3m-9.9 -4.8l9.9 4.8l-8.1 7.4M1687.3 927.7l25.9 -3.4m-9.8 -4.9l9.8 4.9l-8.3 7.3M1093.5 943.9l24.3 4.6m-7.8 -7.7l7.8 7.7l-10.1 4.4M1201.5 943.9l-23.2 6.4m10.4 3.5l-10.4 -3.5l7.2 -8.3M1228.5 943.9l-25.2 5.2m10.2 4.2l-10.2 -4.2l7.7 -7.9M1417.4 943.9l-17.7 22.3m10.5 -3.3l-10.5 3.3l0.8 -11M1201.5 960.1l-18.6 13.9m11 -0.5l-11 0.5l3.6 -10.4M1228.5 960.1l-20.4 10.7m10.9 1.2l-10.9 -1.2l5.2 -9.7M1255.5 960.1l-27.1 -2.5m8.5 7l-8.5 -7l9.6 -5.3M1282.5 960.1l-26.2 -2.7m8.4 7.1l-8.4 -7.1l9.7 -5.2M1336.5 960.1l-24 -4.4m7.9 7.7l-7.9 -7.7l10.1 -4.4M1444.4 960.1l-1.5 22.9m6.7 -8.7l-6.7 8.7l-5.5 -9.5M1552.4 960.1l15.7 25.7m0.5 -11l-0.5 11l-10 -4.6M1606.4 960.1l21 -18.8m-10.9 1.5l10.9 -1.5l-2.7 10.7M1120.5 976.3l-7.1 23.3m8.5 -6.9l-8.5 6.9l-3.2 -10.5M1228.5 976.3l-11.1 18.4m10 -4.6l-10 4.6l-0.6 -11M1444.4 976.3l1.5 24.6m5.6 -9.5l-5.6 9.5l-6.7 -8.7M1552.4 976.3l17 21.6m-0.8 -11l0.8 11l-10.5 -3.4M1606.4 976.3l25.5 -7.4m-10.5 -3.4l10.5 3.4l-7.1 8.4M1444.4 992.5l2.3 25m5.3 -9.6l-5.3 9.6l-6.9 -8.5M1552.4 992.5l15.6 21.8m-0.3 -11l0.3 11l-10.3 -3.8M1633.3 992.5l13.2 -24.1m-9.8 5l9.8 -5l1 11M1039.6 1008.7l7.2 22.6m3.1 -10.6l-3.1 10.6l-8.6 -6.8M1147.5 1008.7l10.9 18.7m0.7 -11l-0.7 11l-9.9 -4.8M1201.5 1008.7l14.4 17.2m-1.1 -10.9l1.1 10.9l-10.6 -3M1633.3 1008.7l6.9 -24.9m-8.4 7.1l8.4 -7.1l3.5 10.4M1660.3 1008.7l25.7 12m-5.7 -9.4l5.7 9.4l-10.9 1.7M1687.3 1008.7l22.3 14.9m-4.2 -10.2l4.2 10.2l-11 0M1039.6 1024.9l9.2 23.3m2.4 -10.7l-2.4 10.7l-9.1 -6.2M1120.5 1024.9l17.2 19.5m-1.4 -10.9l1.4 10.9l-10.6 -2.8M1147.5 1024.9l12.2 21.4m0.8 -11l-0.8 11l-9.9 -4.9M1201.5 1024.9l12.7 18.3m-0.1 -11l0.1 11l-10.3 -4M1390.4 1024.9l17.3 12.7m-3.7 -10.4l3.7 10.4l-11 -0.4M1417.4 1024.9l12.6 21.8m0.8 -11l-0.8 11l-9.9 -4.8M1498.4 1024.9l-19.5 14.6m11 -0.5l-11 0.5l3.6 -10.4M1660.3 1024.9l26.8 13.6m-5.3 -9.6l5.3 9.6l-10.9 1.3M1687.3 1024.9l19.7 15.4m-3.4 -10.5l3.4 10.5l-11 -0.8M1714.3 1024.9l19.9 11.6m-4.8 -9.9l4.8 9.9l-11 0.7M1012.6 1041l10.4 20.9m1.4 -10.9l-1.4 10.9l-9.6 -5.4M1039.6 1041l10.9 22.7m1.6 -10.9l-1.6 10.9l-9.5 -5.6M1066.6 1041l6 22.3m3.6 -10.4l-3.6 10.4l-8.3 -7.2M1093.5 1041l12 21.9m1 -11l-1 11l-9.8 -5.1M1120.5 1041l17.3 16.9m-2.2 -10.8l2.2 10.8l-10.8 -2M1147.5 1041l14.8 18.5m-0.9 -11l0.9 11l-10.5 -3.3M1174.5 1041l14.5 19.3m-0.6 -11l0.6 11l-10.4 -3.6M1228.5 1041l17.6 19.6m-1.5 -10.9l1.5 10.9l-10.7 -2.7M1255.5 1041l10 21.2m1.7 -10.9l-1.7 10.9l-9.4 -5.6M1417.4 1041l14.4 22.1m0.2 -11l-0.2 11l-10.1 -4.3M1660.3 1041l21.6 15.3m-3.9 -10.3l3.9 10.3l-11 -0.2M1687.3 1041l23.3 14.4m-4.5 -10l4.5 10l-11 0.4M1714.3 1041l25.7 11.6m-5.8 -9.4l5.8 9.4l-10.8 1.8M1012.6 1057.2l10.2 19.3m1.2 -10.9l-1.2 10.9l-9.7 -5.2M1039.6 1057.2l10.7 22.5m1.6 -10.9l-1.6 10.9l-9.5 -5.6M1066.6 1057.2l8.4 26.7m3.1 -10.5l-3.1 10.5l-8.6 -6.8M1093.5 1057.2l16.5 18.9m-1.4 -10.9l1.4 10.9l-10.6 -2.8M1120.5 1057.2l19.8 18.6m-2.4 -10.7l2.4 10.7l-10.9 -1.8M1147.5 1057.2l18.7 18.1m-2.3 -10.8l2.3 10.8l-10.8 -1.9M1174.5 1057.2l18.2 15.1m-3.1 -10.6l3.1 10.6l-10.9 -1.1M1228.5 1057.2l13.3 22.7m0.7 -11l-0.7 11l-9.9 -4.8M1255.5 1057.2l10.4 22.3m1.7 -10.9l-1.7 10.9l-9.4 -5.6M1687.3 1057.2l20.3 14.4m-3.9 -10.3l3.9 10.3l-11 -0.3M1714.3 1057.2l21.6 13.8m-4.4 -10.1l4.4 10.1l-11 0.3M1012.6 1073.4l10.9 22.9m1.6 -10.9l-1.6 10.9l-9.5 -5.6M1039.6 1073.4l9.7 23.4m2.2 -10.8l-2.2 10.8l-9.2 -6.1M1066.6 1073.4l8.4 24m2.8 -10.6l-2.8 10.6l-8.8 -6.6M1093.5 1073.4l5.4 27m4.2 -10.2l-4.2 10.2l-7.8 -7.7M1201.5 1073.4l28.9 9.8m-6.7 -8.8l6.7 8.8l-10.6 2.9M1255.5 1073.4l6.6 24.6m3.6 -10.4l-3.6 10.4l-8.3 -7.2M1687.3 1073.4l19.6 16.4m-3 -10.6l3 10.6l-10.9 -1.1M1714.3 1073.4l22.4 13.4m-4.7 -10l4.7 10l-11 0.6M1741.3 1073.4l22.3 15m-4.1 -10.2l4.1 10.2l-11 0M985.6 1089.6l14.3 19.9m-0.3 -11l0.3 11l-10.3 -3.8M1012.6 1089.6l10.8 22.6m1.6 -10.9l-1.6 10.9l-9.5 -5.6M1039.6 1089.6l11.4 25m1.8 -10.8l-1.8 10.8l-9.4 -5.7M1066.6 1089.6l8.2 27m3.2 -10.5l-3.2 10.5l-8.6 -6.9M1093.5 1089.6l3.2 26.6m5 -9.8l-5 9.8l-7.2 -8.3M1201.5 1089.6l24.4 2.3m-8.5 -7l8.5 7l-9.7 5.3M1228.5 1089.6l15.4 22.4m-0.1 -11l0.1 11l-10.2 -4M1255.5 1089.6l5.9 21.8m3.5 -10.4l-3.5 10.4l-8.3 -7.2M1687.3 1089.6l24.1 18.3m-3.5 -10.4l3.5 10.4l-11 -0.6M1714.3 1089.6l23 14.7m-4.4 -10.1l4.4 10.1l-11 0.3M1741.3 1089.6l23.3 13.3m-4.9 -9.9l4.9 9.9l-11 0.8M985.6 1105.8l10.9 20.8m1.2 -10.9l-1.2 10.9l-9.7 -5.2M1012.6 1105.8l12.1 23.5m1.3 -10.9l-1.3 10.9l-9.6 -5.3M1039.6 1105.8l6.7 26.4m3.7 -10.3l-3.7 10.3l-8.2 -7.3M1066.6 1105.8l4.9 24.9m4.3 -10.1l-4.3 10.1l-7.8 -7.8M1093.5 1105.8l2.6 26.5m5.2 -9.7l-5.2 9.7l-7 -8.5M1174.5 1105.8l23.8 -0.3m-9.2 -6l9.2 6l-9 6.3M1201.5 1105.8l20.7 9.2m-5.8 -9.3l5.8 9.3l-10.8 1.9M1687.3 1105.8l24 21.3m-2.7 -10.7l2.7 10.7l-10.9 -1.4M1714.3 1105.8l18.6 17.7m-2.3 -10.7l2.3 10.7l-10.8 -1.9M1741.3 1105.8l19.2 14.8m-3.5 -10.4l3.5 10.4l-11 -0.7M310.8 1122l27.4 -4.8m-10 -4.5l10 4.5l-7.9 7.6M337.8 1122l26.7 -8.2m-10.5 -3.2l10.5 3.2l-6.9 8.6M364.8 1122l24.5 -3.9m-10 -4.6l10 4.6l-8 7.5M985.6 1122l18 21.7m-1.1 -10.9l1.1 10.9l-10.6 -3.1M1093.5 1122l4.8 27.4m4.5 -10l-4.5 10l-7.6 -7.9M1201.5 1122l19.4 11.5m-4.7 -9.9l4.7 9.9l-11 0.7M1390.4 1122l8.5 20.2m2.1 -10.8l-2.1 10.8l-9.2 -6M1714.3 1122l16.2 25.4m0.3 -11l-0.3 11l-10.1 -4.4M283.8 1138.2l14.5 -23m-10.1 4.4l10.1 -4.4l0.4 11M364.8 1138.2l22.8 -8m-10.6 -2.8l10.6 2.8l-6.6 8.8M391.8 1138.2l21.3 -5.4m-10.3 -3.7l10.3 3.7l-7.3 8.2M958.6 1138.2l21.1 10.2m-5.5 -9.5l5.5 9.5l-10.9 1.6M985.6 1138.2l18.2 20.1m-1.6 -10.9l1.6 10.9l-10.7 -2.6M1174.5 1138.2l26.5 7m-7.3 -8.3l7.3 8.3l-10.4 3.6M1201.5 1138.2l20.9 14.5m-4 -10.3l4 10.3l-11 -0.1M1390.4 1138.2l17.3 17.9m-1.9 -10.8l1.9 10.8l-10.8 -2.3M1417.4 1138.2l19.5 20.4m-1.8 -10.8l1.8 10.8l-10.7 -2.4M1471.4 1138.2l21.2 -7.2m-10.6 -2.9l10.6 2.9l-6.6 8.8M1714.3 1138.2l13 22.9m0.9 -11l-0.9 11l-9.9 -4.9M364.8 1154.4l24.5 -4.5m-10.1 -4.4l10.1 4.4l-7.9 7.7M391.8 1154.4l25.8 -2.7m-9.7 -5.2l9.7 5.2l-8.4 7.1M958.6 1154.4l22.2 7m-6.8 -8.6l6.8 8.6l-10.6 3.1M985.6 1154.4l25.1 2.9m-8.4 -7.1l8.4 7.1l-9.8 5.1M1012.6 1154.4l12.8 28.2m1.8 -10.8l-1.8 10.8l-9.4 -5.8M1174.5 1154.4l20.3 10.4m-5.3 -9.6l5.3 9.6l-10.9 1.3M1201.5 1154.4l13.5 17.4m-0.7 -11l0.7 11l-10.5 -3.4M1390.4 1154.4l17.5 16.1m-2.6 -10.7l2.6 10.7l-10.9 -1.6M1417.4 1154.4l20.5 16.1m-3.4 -10.5l3.4 10.5l-11 -0.8M1444.4 1154.4l20.8 18.2m-2.8 -10.6l2.8 10.6l-10.9 -1.4M1714.3 1154.4l10.7 23.1m1.7 -10.9l-1.7 10.9l-9.4 -5.7M283.8 1170.6l23 -15m-11 -0.2l11 0.2l-4.3 10.1M364.8 1170.6l26.1 -3.8m-9.9 -4.8l9.9 4.8l-8.1 7.4M391.8 1170.6l25.1 -5m-10.1 -4.2l10.1 4.2l-7.7 7.8M1012.6 1170.6l12 22m1 -11l-1 11l-9.8 -5.1M1174.5 1170.6l18 15.7m-2.8 -10.6l2.8 10.6l-10.9 -1.4M1390.4 1170.6l27.5 15.2m-5 -9.8l5 9.8l-11 1M1417.4 1170.6l23.9 16.7m-3.9 -10.3l3.9 10.3l-11 -0.2M1444.4 1170.6l22.8 14.9m-4.3 -10.1l4.3 10.1l-11 0.2M1714.3 1170.6l22 15.7m-3.8 -10.3l3.8 10.3l-11 -0.3M1741.3 1170.6l24 -7.8m-10.6 -3l10.6 3l-6.8 8.7M364.8 1186.8l27.9 -0.7m-9.3 -5.9l9.3 5.9l-9 6.4M391.8 1186.8l24.6 -1.4m-9.4 -5.6l9.4 5.6l-8.8 6.7M418.8 1186.8l25.1 -2.1m-9.6 -5.4l9.6 5.4l-8.6 6.9M1012.6 1186.8l10 24.6m2.3 -10.8l-2.3 10.8l-9.1 -6.1M1147.5 1186.8l13.3 23.2m0.8 -11l-0.8 11l-9.9 -4.9M1174.5 1186.8l16.9 20.4m-1.1 -10.9l1.1 10.9l-10.6 -3.1M1336.5 1186.8l22.2 2.8m-8.3 -7.2l8.3 7.2l-9.8 5M1363.4 1186.8l22.7 9.2m-6.1 -9.1l6.1 9.1l-10.8 2.3M1714.3 1186.8l25.9 -0.7m-9.3 -5.9l9.3 5.9l-8.9 6.4M1741.3 1186.8l23.1 -7.8m-10.6 -2.9l10.6 2.9l-6.7 8.8M310.8 1203l3.7 -27.4m-7.3 8.2l7.3 -8.2l4.9 9.9M364.8 1203l25.1 1.2m-8.8 -6.6l8.8 6.6l-9.4 5.7M391.8 1203l27.3 -0.1m-9.1 -6.1l9.1 6.1l-9.1 6.2M418.8 1203l27.1 -7.4m-10.4 -3.5l10.4 3.5l-7.2 8.3M931.6 1203l25.3 -6.8m-10.4 -3.6l10.4 3.6l-7.2 8.3M1012.6 1203l10.9 24.9m2 -10.8l-2 10.8l-9.3 -5.9M1147.5 1203l14.6 22m0.1 -11l-0.1 11l-10.2 -4.2M1174.5 1203l11.5 21.2m1.1 -10.9l-1.1 10.9l-9.7 -5.1M1309.5 1203l21.6 8.4m-6.3 -9l6.3 9l-10.7 2.4M1336.5 1203l24.4 1.1m-8.8 -6.5l8.8 6.5l-9.4 5.7M1363.4 1203l23.2 12m-5.3 -9.6l5.3 9.6l-10.9 1.3M1390.4 1203l28.4 13.6m-5.6 -9.5l5.6 9.5l-10.9 1.6M1714.3 1203l27.9 8.2m-7 -8.5l7 8.5l-10.5 3.3M310.8 1219.1l0 -28.7m-6.2 9.1l6.2 -9.1l6.1 9.1M418.8 1219.1l28.5 2.4m-8.6 -6.9l8.6 6.9l-9.6 5.4M985.6 1219.1l13.1 18m-0.4 -11l0.4 11l-10.3 -3.7M1012.6 1219.1l14.7 24.3m0.5 -11l-0.5 11l-10 -4.6M1039.6 1219.1l9.5 29.3m3 -10.6l-3 10.6l-8.7 -6.8M1147.5 1219.1l7.7 25.8m3.3 -10.5l-3.3 10.5l-8.5 -7M1174.5 1219.1l12.8 25m1.3 -10.9l-1.3 10.9l-9.6 -5.3M1201.5 1219.1l11.7 18.1m0.2 -11l-0.2 11l-10.1 -4.3M1228.5 1219.1l13.4 17.8m-0.6 -11l0.6 11l-10.4 -3.6M1255.5 1219.1l16.7 14.8m-2.7 -10.7l2.7 10.7l-10.9 -1.4M1282.5 1219.1l21.9 10.4m-5.6 -9.5l5.6 9.5l-10.9 1.7M1309.5 1219.1l26.4 5.3m-7.7 -7.8l7.7 7.8l-10.2 4.2M1363.4 1219.1l21.5 11.8m-5.1 -9.8l5.1 9.8l-11 1M1390.4 1219.1l24.6 13.9m-4.9 -9.8l4.9 9.8l-11 0.9M1417.4 1219.1l25 5.9m-7.4 -8.1l7.4 8.1l-10.3 3.9M391.8 1235.3l25.4 10.9m-6 -9.2l6 9.2l-10.8 2.1M418.8 1235.3l27.6 4.7m-8 -7.6l8 7.6l-10 4.5M904.6 1235.3l6.7 -25.4m-8.3 7.2l8.3 -7.2l3.6 10.4M985.6 1235.3l14 20.3m-0.1 -11l0.1 11l-10.2 -4M1012.6 1235.3l11 24.1m1.8 -10.9l-1.8 10.9l-9.4 -5.7M1174.5 1235.3l13.9 23.3m0.6 -11l-0.6 11l-9.9 -4.7M1201.5 1235.3l12.5 18m-0.1 -11l0.1 11l-10.2 -4M1228.5 1235.3l16.6 16.8m-2 -10.8l2 10.8l-10.8 -2.2M1255.5 1235.3l20.4 15.2m-3.6 -10.4l3.6 10.4l-11 -0.5M1282.5 1235.3l22.1 12.2m-5 -9.8l5 9.8l-11 1M1309.5 1235.3l25.2 6m-7.5 -8.1l7.5 8.1l-10.3 3.9M1336.5 1235.3l24.8 9.1m-6.4 -8.9l6.4 8.9l-10.7 2.6M1363.4 1235.3l25.9 9.4m-6.5 -8.9l6.5 8.9l-10.7 2.7M1390.4 1235.3l22.9 13.1m-4.8 -9.9l4.8 9.9l-11 0.8M364.8 1251.5l25 -10.1m-10.8 -2.3l10.8 2.3l-6.2 9.1M391.8 1251.5l23.8 5.6m-7.5 -8.1l7.5 8.1l-10.3 3.9M418.8 1251.5l25.8 -0.2m-9.2 -6.1l9.2 6.1l-9.1 6.2M958.6 1251.5l20.2 16.7m-3.1 -10.6l3.1 10.6l-10.9 -1.1M985.6 1251.5l13.3 21.5m0.4 -11l-0.4 11l-10 -4.5M1012.6 1251.5l11.5 27.2m2.1 -10.8l-2.1 10.8l-9.2 -6M1039.6 1251.5l8.4 27.8m3.3 -10.5l-3.3 10.5l-8.5 -7M1174.5 1251.5l24 20.2m-3 -10.6l3 10.6l-10.9 -1.2M1201.5 1251.5l19.5 16.6m-2.9 -10.6l2.9 10.6l-10.9 -1.2M1336.5 1251.5l31.7 5.3m-8 -7.6l8 7.6l-10 4.6M1363.4 1251.5l22.9 5.3m-7.5 -8l7.5 8l-10.3 4M337.8 1267.7l22.3 -21.4m-10.8 1.9l10.8 -1.9l-2.3 10.8M364.8 1267.7l24.7 -10.7m-10.8 -2l10.8 2l-5.9 9.3M391.8 1267.7l24.4 5.8m-7.4 -8.1l7.4 8.1l-10.3 3.9M418.8 1267.7l26.6 -1.3m-9.4 -5.7l9.4 5.7l-8.8 6.6M958.6 1267.7l20.4 15.7m-3.5 -10.4l3.5 10.4l-11 -0.7M985.6 1267.7l16.2 22.8m-0.3 -11l0.3 11l-10.3 -3.9M1012.6 1267.7l10.6 23.1m1.8 -10.9l-1.8 10.9l-9.4 -5.7M1174.5 1267.7l21.4 22.1m-1.9 -10.8l1.9 10.8l-10.8 -2.3M1201.5 1267.7l22.1 15.9m-3.8 -10.3l3.8 10.3l-11 -0.3M1228.5 1267.7l26.3 12.1m-5.7 -9.4l5.7 9.4l-10.9 1.8M1255.5 1267.7l27.6 16.2m-4.8 -9.9l4.8 9.9l-11 0.7M1363.4 1267.7l25.2 -1.5m-9.5 -5.6l9.5 5.6l-8.7 6.7M337.8 1283.9l23.6 -14.3m-11 -0.5l11 0.5l-4.6 10M364.8 1283.9l27.1 -6.6m-10.3 -3.8l10.3 3.8l-7.4 8.1M391.8 1283.9l24.4 1.8m-8.6 -6.8l8.6 6.8l-9.5 5.5M418.8 1283.9l27.5 0.4m-9 -6.3l9 6.3l-9.2 6M445.8 1283.9l28.1 0.1m-9.1 -6.2l9.1 6.2l-9.1 6.1M472.8 1283.9l23.4 2.9m-8.3 -7.2l8.3 7.2l-9.8 5M931.6 1283.9l16.2 20.8m-0.8 -11l0.8 11l-10.5 -3.4M985.6 1283.9l12.1 25.6m1.7 -10.9l-1.7 10.9l-9.5 -5.6M1012.6 1283.9l10.3 23m1.9 -10.8l-1.9 10.8l-9.3 -5.8M1174.5 1283.9l20.6 15.1m-3.7 -10.4l3.7 10.4l-11 -0.4M1201.5 1283.9l20.2 13.8m-4.1 -10.2l4.1 10.2l-11 -0.1M1228.5 1283.9l26.1 10m-6.3 -9l6.3 9l-10.7 2.5M310.8 1300.1l21.6 -13.3m-11 -0.5l11 0.5l-4.5 10M337.8 1300.1l25.4 -10.8m-10.8 -2.1l10.8 2.1l-6 9.2M364.8 1300.1l26.7 -8m-10.5 -3.3l10.5 3.3l-7 8.5M391.8 1300.1l24.7 -4.7m-10.1 -4.3l10.1 4.3l-7.8 7.8M418.8 1300.1l25.2 -6.6m-10.4 -3.6l10.4 3.6l-7.3 8.3M472.8 1300.1l25.2 -1.1m-9.4 -5.8l9.4 5.8l-8.8 6.5M499.8 1300.1l11.2 23.3m1.6 -10.9l-1.6 10.9l-9.5 -5.6M715.7 1300.1l28.5 -12.9m-10.8 -1.8l10.8 1.8l-5.8 9.4M769.7 1300.1l23.4 5.2m-7.6 -8l7.6 8l-10.2 4M796.7 1300.1l21.5 2.1m-8.5 -7l8.5 7l-9.7 5.2M823.6 1300.1l23.7 -1.3m-9.4 -5.6l9.4 5.6l-8.8 6.7M1174.5 1300.1l21.6 14m-4.3 -10.1l4.3 10.1l-11 0.2M1201.5 1300.1l21.2 14.7m-4 -10.2l4 10.2l-11 -0.1M1228.5 1300.1l29.4 11.4m-6.3 -9l6.3 9l-10.7 2.4M1390.4 1300.1l25.5 11.8m-5.7 -9.4l5.7 9.4l-10.9 1.8M256.9 1316.3l23.5 -7.7m-10.6 -3l10.6 3l-6.8 8.7M283.8 1316.3l23.8 -7.9m-10.6 -3l10.6 3l-6.7 8.7M310.8 1316.3l23 -8.6m-10.7 -2.6l10.7 2.6l-6.4 9M337.8 1316.3l29.3 -8.9m-10.5 -3.2l10.5 3.2l-6.9 8.5M418.8 1316.3l21.9 -10.2m-10.9 -1.7l10.9 1.7l-5.7 9.4M445.8 1316.3l29.8 -7.7m-10.4 -3.7l10.4 3.7l-7.3 8.2M499.8 1316.3l2.5 25m5.2 -9.7l-5.2 9.7l-7 -8.5M769.7 1316.3l20.9 4.9m-7.5 -8.1l7.5 8.1l-10.3 3.9M796.7 1316.3l24.4 5.1m-7.7 -7.9l7.7 7.9l-10.2 4.2M823.6 1316.3l27.2 2.5m-8.5 -7l8.5 7l-9.6 5.3M1120.5 1316.3l22.8 18.8m-3.1 -10.5l3.1 10.5l-10.9 -1.1M1147.5 1316.3l24.1 14.6m-4.6 -10l4.6 10l-11 0.5M1174.5 1316.3l22.5 13.9m-4.5 -10l4.5 10l-11 0.4M1201.5 1316.3l21.2 13.1m-4.5 -10l4.5 10l-11 0.4M1390.4 1316.3l21.1 15.1m-3.8 -10.3l3.8 10.3l-11 -0.3M229.9 1332.5l16.7 -19.4m-10.6 2.9l10.6 -2.9l-1.3 10.9M256.9 1332.5l23.1 -19.5m-10.9 1.2l10.9 -1.2l-3 10.6M499.8 1332.5l-3.1 25.4m7.2 -8.3l-7.2 8.3l-5 -9.8M715.7 1332.5l25.6 5.2m-7.7 -7.8l7.7 7.8l-10.2 4.2M850.6 1332.5l31.1 -2m-9.5 -5.6l9.5 5.6l-8.7 6.7M1120.5 1332.5l19.8 17.6m-2.7 -10.7l2.7 10.7l-10.9 -1.5M1147.5 1332.5l20.9 16m-3.5 -10.4l3.5 10.4l-11 -0.6M1174.5 1332.5l24.4 12.5m-5.3 -9.6l5.3 9.6l-10.9 1.3M1201.5 1332.5l26.5 14.3m-5.1 -9.7l5.1 9.7l-10.9 1.1M229.9 1348.7l16.2 -18.7m-10.6 2.9l10.6 -2.9l-1.3 10.9M256.9 1348.7l20.2 -22m-10.7 2.6l10.7 -2.6l-1.6 10.9M688.7 1348.7l25.6 -12m-10.9 -1.7l10.9 1.7l-5.6 9.4M877.6 1348.7l26.4 2.4m-8.5 -7l8.5 7l-9.6 5.3M1120.5 1348.7l22.8 17.4m-3.5 -10.4l3.5 10.4l-11 -0.7M1147.5 1348.7l21.7 13.4m-4.5 -10l4.5 10l-11 0.4M1174.5 1348.7l21.3 12.3m-4.8 -9.9l4.8 9.9l-11 0.7M1201.5 1348.7l25 12.8m-5.3 -9.6l5.3 9.6l-10.9 1.3M715.7 1364.8l19.2 14.3m-3.7 -10.4l3.7 10.4l-11 -0.5M877.6 1364.8l24.8 1.4m-8.8 -6.7l8.8 6.7l-9.5 5.6M1120.5 1364.8l18.9 17.9m-2.4 -10.7l2.4 10.7l-10.9 -1.8M1147.5 1364.8l23.2 16m-4 -10.2l4 10.2l-11 -0.1M1174.5 1364.8l22.3 14.6m-4.2 -10.1l4.2 10.1l-11 0.1M1201.5 1364.8l23.1 11.4m-5.5 -9.5l5.5 9.5l-10.9 1.5M1228.5 1364.8l22.9 21m-2.6 -10.7l2.6 10.7l-10.9 -1.6M1255.5 1364.8l17.1 26.7m0.3 -11l-0.3 11l-10.1 -4.4M1390.4 1364.8l24.3 18m-3.7 -10.4l3.7 10.4l-11 -0.5M1417.4 1364.8l17.6 -21.8m-10.5 3.2l10.5 -3.2l-1 11M715.7 1381l15.1 18.4m-1 -11l1 11l-10.5 -3.1M823.6 1381l23.7 1.3m-8.8 -6.6l8.8 6.6l-9.4 5.6M850.6 1381l23.6 1.2m-8.8 -6.6l8.8 6.6l-9.4 5.7M877.6 1381l25.5 7.3m-7.1 -8.4l7.1 8.4l-10.5 3.4M1120.5 1381l21.1 20.3m-2.3 -10.8l2.3 10.8l-10.8 -1.9M1147.5 1381l22.4 16.9m-3.6 -10.4l3.6 10.4l-11 -0.6M1174.5 1381l23.8 15.7m-4.2 -10.2l4.2 10.2l-11 0.1M1201.5 1381l23.6 15m-4.4 -10.1l4.4 10.1l-11 0.3M1228.5 1381l19.3 20.7m-1.7 -10.9l1.7 10.9l-10.7 -2.5M1255.5 1381l11.9 27m2 -10.8l-2 10.8l-9.3 -5.9M337.8 1397.2l2.7 -21.9m-7.2 8.3l7.2 -8.3l5 9.8M715.7 1397.2l14 20.5m-0.1 -11l0.1 11l-10.2 -4.1M931.6 1397.2l22.4 14.4m-4.3 -10.1l4.3 10.1l-11 0.2M958.6 1397.2l18.5 20.7m-1.5 -10.9l1.5 10.9l-10.7 -2.7M1120.5 1397.2l20 18.3m-2.6 -10.7l2.6 10.7l-10.9 -1.6M1147.5 1397.2l16.6 19.5m-1.2 -10.9l1.2 10.9l-10.6 -3M1174.5 1397.2l16.4 18.3m-1.5 -10.9l1.5 10.9l-10.7 -2.7M1201.5 1397.2l17.7 19m-1.7 -10.9l1.7 10.9l-10.7 -2.5M1228.5 1397.2l18.9 21.3m-1.4 -10.9l1.4 10.9l-10.7 -2.7M1255.5 1397.2l8.2 26.2m3.2 -10.5l-3.2 10.5l-8.6 -6.9M337.8 1413.4l0.8 -21.9m-6.5 8.9l6.5 -8.9l5.8 9.3M499.8 1413.4l26.4 -1.8m-9.5 -5.5l9.5 5.5l-8.7 6.8M715.7 1413.4l15 23.3m0.2 -11l-0.2 11l-10.1 -4.3M769.7 1413.4l22.6 3.6m-8 -7.5l8 7.5l-10 4.7M931.6 1413.4l22.8 11.4m-5.4 -9.6l5.4 9.6l-10.9 1.4M958.6 1413.4l13.6 22.6m0.6 -11l-0.6 11l-10 -4.6M985.6 1413.4l9.4 24.4m2.5 -10.7l-2.5 10.7l-9 -6.3M1093.5 1413.4l21.9 17.6m-3.3 -10.5l3.3 10.5l-11 -0.9M1120.5 1413.4l19.4 18.7m-2.3 -10.8l2.3 10.8l-10.8 -1.9M1147.5 1413.4l21.1 17.6m-3.1 -10.6l3.1 10.6l-10.9 -1.1M1174.5 1413.4l20.2 17.2m-2.9 -10.6l2.9 10.6l-10.9 -1.2M1201.5 1413.4l16.2 18.3m-1.4 -10.9l1.4 10.9l-10.6 -2.8M1228.5 1413.4l13 24.2m1.1 -10.9l-1.1 10.9l-9.7 -5.1M1417.4 1413.4l24.4 -9.2m-10.7 -2.5l10.7 2.5l-6.4 9M553.7 1429.6l31.4 -1.1m-9.3 -5.8l9.3 5.8l-8.9 6.5M580.7 1429.6l28.9 -1m-9.3 -5.8l9.3 5.8l-8.9 6.5M607.7 1429.6l27.6 1.3m-8.8 -6.6l8.8 6.6l-9.4 5.7M904.6 1429.6l30.9 5.2m-8 -7.6l8 7.6l-10 4.6M931.6 1429.6l22.6 14m-4.5 -10l4.5 10l-11 0.4M958.6 1429.6l14.2 20.5m-0.1 -11l0.1 11l-10.3 -4M985.6 1429.6l13.2 24.6m1.1 -10.9l-1.1 10.9l-9.7 -5.1M1093.5 1429.6l21.7 15.8m-3.7 -10.3l3.7 10.3l-11 -0.4M1120.5 1429.6l18.8 20.6m-1.6 -10.9l1.6 10.9l-10.7 -2.6M1147.5 1429.6l20.2 19.4m-2.3 -10.8l2.3 10.8l-10.8 -1.9M1174.5 1429.6l18.3 16.1m-2.8 -10.6l2.8 10.6l-10.9 -1.4M1201.5 1429.6l18.4 20.6m-1.5 -10.9l1.5 10.9l-10.7 -2.7M1228.5 1429.6l13 25.7m1.4 -10.9l-1.4 10.9l-9.6 -5.4M1255.5 1429.6l9.5 29.7m3.1 -10.6l-3.1 10.6l-8.6 -6.8M553.7 1445.8l27.5 2.7m-8.5 -7l8.5 7l-9.7 5.2M580.7 1445.8l25.3 1m-8.9 -6.5l8.9 6.5l-9.4 5.8M607.7 1445.8l25.5 1.1m-8.8 -6.5l8.8 6.5l-9.4 5.8M1147.5 1445.8l23.5 16.7m-3.9 -10.3l3.9 10.3l-11 -0.3M1174.5 1445.8l18.4 18.7m-2 -10.8l2 10.8l-10.8 -2.2M1201.5 1445.8l18.1 17.8m-2.2 -10.8l2.2 10.8l-10.8 -2M1228.5 1445.8l8 23.1m2.8 -10.6l-2.8 10.6l-8.8 -6.6M1255.5 1445.8l4 29.1m4.8 -9.9l-4.8 9.9l-7.3 -8.2M1282.5 1445.8l21.5 -11.3m-10.9 -1.2l10.9 1.2l-5.2 9.7M580.7 1462l26.2 1.4m-8.8 -6.6l8.8 6.6l-9.4 5.7M607.7 1462l26.3 5.8m-7.6 -8l7.6 8l-10.2 4M1174.5 1462l24.6 18.1m-3.7 -10.4l3.7 10.4l-11 -0.4M1201.5 1462l16.7 18.2m-1.6 -10.9l1.6 10.9l-10.7 -2.6M1228.5 1462l11.3 23.7m1.6 -10.9l-1.6 10.9l-9.5 -5.6M1255.5 1462l11.2 22.5m1.4 -10.9l-1.4 10.9l-9.6 -5.4M1282.5 1462l19.6 -15.2m-11 0.7l11 -0.7l-3.4 10.4M607.7 1478.2l28.5 14.8m-5.3 -9.7l5.3 9.7l-10.9 1.3M769.7 1478.2l25.9 9.6m-6.4 -8.9l6.4 8.9l-10.7 2.6M796.7 1478.2l28.4 7.2m-7.3 -8.2l7.3 8.2l-10.4 3.7M823.6 1478.2l26.8 7.1m-7.3 -8.3l7.3 8.3l-10.4 3.6M850.6 1478.2l27.2 7.3m-7.2 -8.3l7.2 8.3l-10.4 3.6M877.6 1478.2l25.1 6.9m-7.2 -8.4l7.2 8.4l-10.4 3.5M904.6 1478.2l27.1 8.4m-6.9 -8.6l6.9 8.6l-10.5 3.2M931.6 1478.2l22.8 14.9m-4.3 -10.1l4.3 10.1l-11 0.2M958.6 1478.2l23.5 10.7m-5.8 -9.4l5.8 9.4l-10.8 1.8M1201.5 1478.2l17.6 20.4m-1.3 -10.9l1.3 10.9l-10.6 -2.9M1228.5 1478.2l9.2 28m3 -10.6l-3 10.6l-8.7 -6.7M1255.5 1478.2l11.7 23m1.4 -10.9l-1.4 10.9l-9.6 -5.3M1282.5 1478.2l11.7 -22.2m-9.7 5.2l9.7 -5.2l1.2 10.9M1309.5 1478.2l30.7 -5.8m-10.1 -4.4l10.1 4.4l-7.8 7.7M607.7 1494.4l27.9 6.2m-7.6 -8l7.6 8l-10.2 4M769.7 1494.4l30.2 10.6m-6.6 -8.8l6.6 8.8l-10.6 2.8M796.7 1494.4l27.9 5.3m-7.8 -7.7l7.8 7.7l-10.1 4.3M850.6 1494.4l26.2 10.4m-6.2 -9.1l6.2 9.1l-10.7 2.3M904.6 1494.4l29.3 3.9m-8.2 -7.3l8.2 7.3l-9.8 4.9M958.6 1494.4l28 7.2m-7.3 -8.2l7.3 8.2l-10.4 3.7M1147.5 1494.4l26.1 11.4m-5.9 -9.3l5.9 9.3l-10.8 2M1201.5 1494.4l17 23m-0.5 -11l0.5 11l-10.4 -3.7M1228.5 1494.4l12.5 24.1m1.3 -10.9l-1.3 10.9l-9.7 -5.3M1255.5 1494.4l13.5 24.5m1 -11l-1 11l-9.8 -5M1282.5 1494.4l15.5 -19.8m-10.5 3.4l10.5 -3.4l-0.8 11M553.7 1510.6l5.5 -21.8m-8.2 7.3l8.2 -7.3l3.7 10.4M661.7 1510.6l28.3 12m-6 -9.2l6 9.2l-10.8 2.1M1201.5 1510.6l12.2 21.4m0.9 -11l-0.9 11l-9.8 -4.9M1228.5 1510.6l27.5 0.8m-8.9 -6.4l8.9 6.4l-9.3 5.9M1255.5 1510.6l22.7 -12.2m-10.9 -1.1l10.9 1.1l-5.1 9.7M1282.5 1510.6l26.7 -16m-11 -0.6l11 0.6l-4.7 10M661.7 1526.8l25.8 9.4m-6.5 -8.9l6.5 8.9l-10.7 2.6M688.7 1526.8l25.5 13.8m-5.1 -9.8l5.1 9.8l-10.9 1.1M1201.5 1526.8l12.9 21.1m0.5 -11l-0.5 11l-10 -4.6M1228.5 1526.8l29.7 -6.4m-10.2 -4.1l10.2 4.1l-7.6 7.9M1255.5 1526.8l23.8 -13.8m-11 -0.7l11 0.7l-4.8 9.9M688.7 1542.9l23.6 11.8m-5.4 -9.6l5.4 9.6l-10.9 1.4M715.7 1542.9l25.1 12.4m-5.5 -9.6l5.5 9.6l-10.9 1.5M742.7 1542.9l25.4 8.1m-6.8 -8.6l6.8 8.6l-10.6 3.1M769.7 1542.9l26.5 2.9m-8.4 -7.1l8.4 7.1l-9.7 5.1M715.7 1559.1l24.4 7.9m-6.8 -8.7l6.8 8.7l-10.6 3M742.7 1559.1l26.6 5.1m-7.8 -7.8l7.8 7.8l-10.1 4.3M769.7 1559.1l23.6 5.2m-7.6 -8l7.6 8l-10.2 4M796.7 1559.1l31 7.1m-7.5 -8l7.5 8l-10.3 4M742.7 1575.3l22.4 5.4m-7.4 -8.1l7.4 8.1l-10.3 3.8M237.3 1452.9l21.2 11.9m-4.9 -9.8l4.9 9.8l-11 0.9M255.8 1511.1l30.4 4m-8.2 -7.3l8.2 7.3l-9.8 4.9M364.3 1521.7l29.1 18.5m-4.4 -10.1l4.4 10.1l-11 0.3M392.1 1544.2l25.1 0.8m-8.9 -6.4l8.9 6.4l-9.3 5.9M311.4 1445l18.5 -10.6m-11 -0.8l11 0.8l-4.9 9.9M471.4 1529.6l23.8 -15.9m-11 -0.1l11 0.1l-4.2 10.2M499.2 1413.2l31.7 -2.6m-9.6 -5.4l9.6 5.4l-8.6 6.9M504.5 1442.3l15.9 -7.9m-10.9 -1.4l10.9 1.4l-5.4 9.6M525.7 1431.7l24.3 -1.3m-9.4 -5.6l9.4 5.6l-8.8 6.6"/>
<path stroke="#00a0ff" d="M1525.4 102l10.9 -32.5m-8.7 6.7l8.7 -6.7l2.9 10.6M1606.4 102l23.8 -24.5m-10.8 2.3l10.8 -2.3l-1.9 10.8M1633.3 102l15.8 -28.1m-9.8 5l9.8 -5l0.9 11M1660.3 102l25.9 -20.4m-11 0.8l11 -0.8l-3.4 10.5M1579.4 118.2l31.2 -29.4m-10.9 1.8l10.9 -1.8l-2.4 10.7M1606.4 118.2l28.5 -25.9m-10.9 1.6l10.9 -1.6l-2.6 10.7M1633.3 118.2l29.6 -20.6m-11 0.2l11 -0.2l-4 10.3M1660.3 118.2l27.5 -20.4m-11 0.5l11 -0.5l-3.7 10.4M1579.4 134.4l30.3 -24.5m-11 1l11 -1l-3.2 10.5M1606.4 134.4l28.9 -26.4m-10.9 1.6l10.9 -1.6l-2.6 10.7M1633.3 134.4l26.6 -20.2m-11 0.6l11 -0.6l-3.5 10.4M1660.3 134.4l27.7 -21.8m-11 0.8l11 -0.8l-3.4 10.5M1525.4 150.6l30.4 -24.4m-11 0.9l11 -0.9l-3.3 10.5M1552.4 150.6l31.6 -18.7m-11 -0.6l11 0.6l-4.7 9.9M1579.4 150.6l27.6 -21.7m-11 0.8l11 -0.8l-3.4 10.5M1660.3 150.6l26 -19.2m-11 0.5l11 -0.5l-3.7 10.4M1687.3 150.6l23.6 -22.9m-10.8 1.9l10.8 -1.9l-2.3 10.8M1498.4 166.8l26.4 -28.8m-10.7 2.5l10.7 -2.5l-1.6 10.9M1552.4 166.8l26.4 -19.8m-11 0.5l11 -0.5l-3.6 10.4M1579.4 166.8l27.4 -18m-11 -0.1l11 0.1l-4.3 10.1M1606.4 166.8l30.6 -16.1m-10.9 -1.2l10.9 1.2l-5.2 9.7M1552.4 183l25.4 -20.7m-11 1l11 -1l-3.2 10.5M1579.4 183l27.6 -20.8m-11 0.6l11 -0.6l-3.6 10.4M1606.4 183l30.4 -15m-10.9 -1.5l10.9 1.5l-5.4 9.6M1417.4 328.7l38.2 10.5m-7.2 -8.3l7.2 8.3l-10.4 3.5M1174.5 458.2l-12.4 33m9 -6.4l-9 6.4l-2.5 -10.7M1201.5 458.2l-9.6 33.4m8.4 -7.1l-8.4 7.1l-3.4 -10.5M1174.5 474.4l-7.1 36.4m7.8 -7.8l-7.8 7.8l-4.3 -10.1M1201.5 474.4l-4.6 31.9m7.4 -8.1l-7.4 8.1l-4.8 -9.9M1174.5 490.6l-8.5 35.4m8.1 -7.4l-8.1 7.4l-3.8 -10.3M1309.5 539.2l-1.3 34.2m6.5 -8.9l-6.5 8.9l-5.8 -9.3M1309.5 555.4l-5.7 34.6m7.6 -8l-7.6 8l-4.6 -10M1282.5 571.5l-6.2 34.9m7.6 -7.9l-7.6 7.9l-4.5 -10.1M1309.5 571.5l-7.3 37.3m7.8 -7.8l-7.8 7.8l-4.3 -10.1M1336.5 571.5l-6.4 31.8m7.8 -7.7l-7.8 7.7l-4.2 -10.2M1228.5 587.7l-5.6 33.9m7.6 -8l-7.6 8l-4.6 -10M1255.5 587.7l-3.2 36.1m6.9 -8.5l-6.9 8.5l-5.3 -9.6M1282.5 587.7l-3.1 33.3m7 -8.5l-7 8.5l-5.3 -9.6M1309.5 587.7l-2.5 33.6m6.8 -8.6l-6.8 8.6l-5.4 -9.6M1336.5 587.7l-0.3 37.3m6.2 -9.1l-6.2 9.1l-6.1 -9.2M1228.5 603.9l-4 33.3m7.2 -8.3l-7.2 8.3l-5 -9.8M1282.5 603.9l-7.6 37.8m7.8 -7.7l-7.8 7.7l-4.2 -10.2M1309.5 603.9l-5.1 34.5m7.4 -8.1l-7.4 8.1l-4.7 -9.9M1336.5 603.9l-3.3 36m7 -8.5l-7 8.5l-5.3 -9.6M1255.5 620.1l-4.5 32.2m7.4 -8.2l-7.4 8.2l-4.8 -9.9M1282.5 620.1l-6.1 34.7m7.6 -7.9l-7.6 7.9l-4.5 -10M1309.5 620.1l-6.6 34.7m7.8 -7.8l-7.8 7.8l-4.3 -10.1M1228.5 636.3l-9.2 31.3m8.5 -7l-8.5 7l-3.3 -10.5M1255.5 636.3l-4.1 37.5m7.1 -8.4l-7.1 8.4l-5.1 -9.7M1282.5 636.3l-2.8 33.7m6.9 -8.6l-6.9 8.6l-5.4 -9.6M1309.5 636.3l-1.9 38.6m6.6 -8.8l-6.6 8.8l-5.7 -9.4M1228.5 652.5l-10 32.3m8.6 -6.9l-8.6 6.9l-3.2 -10.5M1255.5 652.5l-7 38m7.7 -7.9l-7.7 7.9l-4.4 -10.1M1282.5 652.5l-9.8 34.4m8.4 -7.1l-8.4 7.1l-3.4 -10.5M1309.5 652.5l-5.3 35.3m7.4 -8.1l-7.4 8.1l-4.7 -9.9M1336.5 652.5l-4.5 34.2m7.3 -8.2l-7.3 8.2l-4.9 -9.8M1282.5 668.7l1.3 32.2m5.8 -9.4l-5.8 9.4l-6.5 -8.9M1228.5 701.1l0.7 33.7m6 -9.2l-6 9.2l-6.3 -9M1309.5 701.1l14.6 29.6m1.5 -10.9l-1.5 10.9l-9.5 -5.5M1201.5 717.3l30.4 19.9m-4.3 -10.1l4.3 10.1l-11 0.1M1228.5 717.3l20.2 36.1m0.9 -11l-0.9 11l-9.8 -5M1255.5 717.3l36.5 17.2m-5.6 -9.4l5.6 9.4l-10.9 1.7M1282.5 717.3l28.9 26.5m-2.6 -10.7l2.6 10.7l-10.9 -1.6M1309.5 717.3l35 24.7m-3.9 -10.3l3.9 10.3l-11 -0.2M1336.5 717.3l38 16.3m-5.9 -9.3l5.9 9.3l-10.8 2.1M1363.4 717.3l40.3 11m-7.2 -8.3l7.2 8.3l-10.4 3.5M1390.4 717.3l34.3 -1.7m-9.4 -5.7l9.4 5.7l-8.8 6.6M1201.5 733.4l32.6 15m-5.7 -9.4l5.7 9.4l-10.9 1.8M1363.4 733.4l39.7 5m-8.3 -7.2l8.3 7.2l-9.8 5M1390.4 733.4l35.6 5.8m-8 -7.5l8 7.5l-10 4.6M1417.4 733.4l36 16.8m-5.7 -9.4l5.7 9.4l-10.9 1.7M2227.1 733.4l-2.8 37.6m6.8 -8.6l-6.8 8.6l-5.5 -9.5M1147.5 749.6l25.1 23.5m-2.5 -10.7l2.5 10.7l-10.9 -1.7M1174.5 749.6l26.2 23.6m-2.7 -10.7l2.7 10.7l-10.9 -1.5M2227.1 749.6l0.9 38m5.9 -9.3l-5.9 9.3l-6.4 -9M1201.5 782l-19.3 32.7m9.9 -4.7l-9.9 4.7l-0.7 -11M1228.5 782l-5.6 38.9m7.4 -8.2l-7.4 8.2l-4.8 -9.9M1201.5 798.2l-17.6 30.7m9.9 -4.9l-9.9 4.9l-0.8 -11M1228.5 798.2l-10.6 36.1m8.5 -7l-8.5 7l-3.3 -10.5M1363.4 798.2l23.4 31.6m-0.5 -11l0.5 11l-10.4 -3.7M1444.4 798.2l36.2 12.8m-6.6 -8.8l6.6 8.8l-10.6 2.8M1471.4 798.2l37.2 -2.7m-9.5 -5.5l9.5 5.5l-8.7 6.8M2362.1 798.2l6.1 37.3m4.6 -10l-4.6 10l-7.5 -8M1201.5 814.4l0.9 36.5m5.9 -9.3l-5.9 9.3l-6.4 -9M1363.4 814.4l40 8m-7.7 -7.8l7.7 7.8l-10.1 4.2M2362.1 814.4l8.6 32.7m3.6 -10.4l-3.6 10.4l-8.3 -7.3M1201.5 830.6l4.1 35.3m5.1 -9.8l-5.1 9.8l-7.2 -8.3M1390.4 830.6l39.2 16.5m-6 -9.2l6 9.2l-10.8 2.1M1201.5 846.8l13.9 35.8m2.4 -10.7l-2.4 10.7l-9 -6.3M1282.5 846.8l-30.4 11.7m10.7 2.5l-10.7 -2.5l6.3 -9M1309.5 846.8l-33.1 13m10.7 2.4l-10.7 -2.4l6.2 -9.1M1390.4 846.8l20.9 26.6m-0.8 -11l0.8 11l-10.5 -3.4M1417.4 846.8l17.9 37.8m1.7 -10.9l-1.7 10.9l-9.5 -5.6M1444.4 846.8l22.8 34.7m0.1 -11l-0.1 11l-10.2 -4.2M1525.4 846.8l18.7 27.5m0 -11l0 11l-10.2 -4.1M1201.5 863l20.2 30.5m0.1 -11l-0.1 11l-10.2 -4.2M1390.4 863l12.4 33m2.5 -10.7l-2.5 10.7l-9 -6.4M1417.4 863l18.1 33m1 -11l-1 11l-9.8 -5M1444.4 863l16.8 35.9m1.7 -10.9l-1.7 10.9l-9.4 -5.7M1525.4 863l11.4 31.4m2.7 -10.7l-2.7 10.7l-8.9 -6.5M1579.4 863l5.4 31.7m4.5 -10l-4.5 10l-7.6 -8M1201.5 879.2l24.1 21.8m-2.7 -10.7l2.7 10.7l-10.9 -1.5M1282.5 879.2l12.8 31.8m2.3 -10.8l-2.3 10.8l-9.1 -6.2M1417.4 879.2l11.9 31.9m2.6 -10.7l-2.6 10.7l-9 -6.4M1471.4 879.2l5.8 34.9m4.6 -10l-4.6 10l-7.6 -8M1498.4 879.2l4.7 41.4m5.1 -9.8l-5.1 9.8l-7.1 -8.4M1525.4 879.2l8.5 36.3m3.9 -10.3l-3.9 10.3l-8.1 -7.5M1552.4 879.2l2.5 36m5.5 -9.5l-5.5 9.5l-6.8 -8.7M1579.4 879.2l-2.1 33.2m6.7 -8.7l-6.7 8.7l-5.6 -9.5M1390.4 895.3l-10.4 35.4m8.5 -7l-8.5 7l-3.3 -10.5M1417.4 895.3l0.8 32.8m5.9 -9.3l-5.9 9.3l-6.4 -9M1444.4 895.3l-10.2 39m8.3 -7.3l-8.3 7.3l-3.6 -10.4M1471.4 895.3l-5.6 41.3m7.3 -8.2l-7.3 8.2l-4.9 -9.9M1552.4 895.3l4.4 39.4m5.1 -9.7l-5.1 9.7l-7.1 -8.4M1579.4 895.3l-2.8 41.5m6.8 -8.7l-6.8 8.7l-5.5 -9.5M1606.4 895.3l13.6 39.2m2.8 -10.6l-2.8 10.6l-8.8 -6.6M1633.3 895.3l-0.2 37.2m6.2 -9.1l-6.2 9.1l-6.1 -9.1M1660.3 895.3l32 -8.7m-10.4 -3.5l10.4 3.5l-7.2 8.3M1714.3 895.3l32.2 9.1m-7.1 -8.4l7.1 8.4l-10.4 3.4M1390.4 911.5l-25.9 20.6m11 -0.9l-11 0.9l3.3 -10.5M1417.4 911.5l-16.9 31.8m9.7 -5.2l-9.7 5.2l-1.1 -10.9M1444.4 911.5l-6.3 35.7m7.6 -7.9l-7.6 7.9l-4.5 -10.1M1471.4 911.5l-7.7 39.5m7.8 -7.8l-7.8 7.8l-4.3 -10.1M1606.4 911.5l11.4 38.5m3.3 -10.5l-3.3 10.5l-8.5 -7M1660.3 911.5l30.6 -17.1m-11 -0.9l11 0.9l-5 9.8M1363.4 927.7l-31.4 8.2m10.4 3.6l-10.4 -3.6l7.3 -8.3M1390.4 927.7l-30.2 14.6m10.9 1.6l-10.9 -1.6l5.5 -9.5M1417.4 927.7l-30.2 22.2m11 -0.4l-11 0.4l3.7 -10.4M1444.4 927.7l-15.1 31.2m9.5 -5.5l-9.5 5.5l-1.6 -10.9M1471.4 927.7l-3.9 40.4m7 -8.5l-7 8.5l-5.2 -9.7M1633.3 927.7l25.1 20.3m-3.2 -10.5l3.2 10.5l-11 -1M1255.5 943.9l-33.5 -0.1m9.1 6.2l-9.1 -6.2l9.1 -6.1M1282.5 943.9l-37.8 1.9m9.4 5.7l-9.4 -5.7l8.8 -6.6M1309.5 943.9l-38.6 4.2m9.7 5.1l-9.7 -5.1l8.4 -7.1M1336.5 943.9l-33.4 -4.6m8.2 7.3l-8.2 -7.3l9.9 -4.8M1363.4 943.9l-32.9 2.8m9.6 5.4l-9.6 -5.4l8.6 -6.9M1390.4 943.9l-30.5 12.6m10.8 2.2l-10.8 -2.2l6.1 -9.2M1444.4 943.9l-9.4 31.1m8.5 -7l-8.5 7l-3.3 -10.5M1471.4 943.9l-1.6 35.3m6.5 -8.8l-6.5 8.8l-5.7 -9.4M1498.4 943.9l9.4 40.5m3.9 -10.3l-3.9 10.3l-8.1 -7.5M1525.4 943.9l21 36.8m0.8 -11l-0.8 11l-9.9 -4.9M1552.4 943.9l9.8 40.8m3.9 -10.3l-3.9 10.3l-8.1 -7.4M1606.4 943.9l31.7 7.9m-7.4 -8.2l7.4 8.2l-10.3 3.8M1633.3 943.9l32.7 19.6m-4.7 -10l4.7 10l-11 0.6M1471.4 960.1l6.5 36.2m4.4 -10.1l-4.4 10.1l-7.7 -7.9M1498.4 960.1l4.9 37m4.9 -9.9l-4.9 9.9l-7.3 -8.2M1471.4 976.3l7 32.9m4.1 -10.2l-4.1 10.2l-7.9 -7.6M1498.4 976.3l6.8 40.1m4.5 -10l-4.5 10l-7.6 -8M1525.4 976.3l18.6 27.2m-0.1 -11l0.1 11l-10.2 -4.1M1471.4 992.5l15.8 35m1.9 -10.8l-1.9 10.8l-9.4 -5.8M1606.4 1024.9l32.6 -17.3m-10.9 -1.2l10.9 1.2l-5.2 9.7M1633.3 1024.9l37.6 3.6m-8.5 -7l8.5 7l-9.7 5.3M1201.5 1041l26.4 19m-3.8 -10.3l3.8 10.3l-11 -0.3M1444.4 1041l20.4 36.2m0.9 -11l-0.9 11l-9.8 -4.9M1498.4 1041l14 37.6m2.6 -10.7l-2.6 10.7l-8.9 -6.4M1579.4 1041l37 -16.3m-10.8 -2l10.8 2l-5.9 9.3M1606.4 1041l37 6.5m-7.9 -7.6l7.9 7.6l-10 4.5M1633.3 1041l34.3 11.9m-6.6 -8.8l6.6 8.8l-10.6 2.8M1201.5 1057.2l28.9 19.1m-4.2 -10.2l4.2 10.2l-11 0.1M1417.4 1057.2l9.8 32.2m3.2 -10.5l-3.2 10.5l-8.5 -6.9M1498.4 1057.2l28.2 28m-2.1 -10.8l2.1 10.8l-10.8 -2.1M1579.4 1057.2l38.8 17m-5.9 -9.3l5.9 9.3l-10.8 2M1606.4 1057.2l36.4 22.7m-4.5 -10l4.5 10l-11 0.4M1633.3 1057.2l36 17.9m-5.4 -9.6l5.4 9.6l-10.9 1.4M1660.3 1057.2l27 18.6m-4 -10.2l4 10.2l-11 -0.1M1228.5 1073.4l13.4 38.7m2.8 -10.6l-2.8 10.6l-8.8 -6.6M1417.4 1073.4l14.1 31.6m1.9 -10.8l-1.9 10.8l-9.3 -5.8M1444.4 1073.4l20.3 37m1 -11l-1 11l-9.8 -5M1606.4 1073.4l35.2 16.3m-5.7 -9.4l5.7 9.4l-10.9 1.8M1633.3 1073.4l32.7 21.3m-4.3 -10.1l4.3 10.1l-11 0.2M1660.3 1073.4l25.9 19.8m-3.5 -10.4l3.5 10.4l-11 -0.6M1417.4 1089.6l12.9 31.8m2.3 -10.8l-2.3 10.8l-9.1 -6.1M1633.3 1089.6l26.7 27.4m-2 -10.8l2 10.8l-10.8 -2.2M1660.3 1089.6l27.8 23.1m-3.1 -10.6l3.1 10.6l-10.9 -1.1M283.8 1105.8l35.2 -24m-11 0.1l11 -0.1l-4.1 10.2M337.8 1105.8l35.3 -6.2m-10 -4.5l10 4.5l-7.9 7.6M364.8 1105.8l35.6 -5.8m-10 -4.6l10 4.6l-8 7.5M1417.4 1105.8l18.9 32.5m0.7 -11l-0.7 11l-9.9 -4.8M1444.4 1105.8l19.3 35.2m1 -11l-1 11l-9.8 -5M1471.4 1105.8l29.2 22.4m-3.5 -10.4l3.5 10.4l-11 -0.7M1660.3 1105.8l29.1 24.2m-3.1 -10.6l3.1 10.6l-10.9 -1.1M283.8 1122l24.3 -30.7m-10.5 3.3l10.5 -3.3l-0.8 11M1012.6 1122l21.7 26m-1.1 -10.9l1.1 10.9l-10.6 -3.1M1039.6 1122l20.5 33.1m0.4 -11l-0.4 11l-10 -4.5M1417.4 1122l22 30.1m-0.4 -11l0.4 11l-10.4 -3.7M1444.4 1122l17.8 31.6m0.9 -11l-0.9 11l-9.8 -4.9M1471.4 1122l32.6 20.9m-4.4 -10.1l4.4 10.1l-11 0.3M1606.4 1122l29.6 30.5m-1.9 -10.8l1.9 10.8l-10.8 -2.3M1633.3 1122l26 30.4m-1.2 -10.9l1.2 10.9l-10.6 -2.9M1660.3 1122l24.6 26.6m-1.7 -10.9l1.7 10.9l-10.7 -2.5M1687.3 1122l20.3 27.8m-0.4 -11l0.4 11l-10.3 -3.7M1039.6 1138.2l20.8 36.6m0.8 -11l-0.8 11l-9.9 -4.9M1444.4 1138.2l19.1 27.3m-0.2 -11l0.2 11l-10.3 -3.9M1633.3 1138.2l24.5 32.4m-0.6 -11l0.6 11l-10.4 -3.6M1687.3 1138.2l21 27.3m-0.7 -11l0.7 11l-10.4 -3.5M1039.6 1154.4l12.7 35.1m2.7 -10.7l-2.7 10.7l-8.9 -6.5M1633.3 1154.4l27.7 27.8m-2.1 -10.8l2.1 10.8l-10.8 -2.1M1660.3 1154.4l20 30.1m0.1 -11l-0.1 11l-10.2 -4.2M1687.3 1154.4l21.9 27.6m-0.8 -11l0.8 11l-10.5 -3.3M256.9 1170.6l17.4 -28.9m-10 4.6l10 -4.6l0.6 11M310.8 1170.6l38.6 4.8m-8.3 -7.2l8.3 7.2l-9.8 5M337.8 1170.6l35.7 -15.4m-10.8 -2l10.8 2l-5.9 9.3M1039.6 1170.6l14.3 33.4m2.1 -10.8l-2.1 10.8l-9.2 -6M1147.5 1170.6l35.6 -0.4m-9.2 -6l9.2 6l-9 6.3M1660.3 1170.6l20.4 28m-0.4 -11l0.4 11l-10.3 -3.8M1687.3 1170.6l23.3 22.6m-2.3 -10.8l2.3 10.8l-10.8 -1.9M256.9 1186.8l9.7 -41.2m-8.1 7.5l8.1 -7.5l3.9 10.3M310.8 1186.8l34.2 -7m-10.2 -4.2l10.2 4.2l-7.7 7.9M337.8 1186.8l34.1 -5.9m-10 -4.5l10 4.5l-7.9 7.6M1039.6 1186.8l10.3 31.8m3 -10.6l-3 10.6l-8.7 -6.8M1390.4 1186.8l31.5 12.9m-6.1 -9.1l6.1 9.1l-10.8 2.2M1417.4 1186.8l30 12.2m-6.1 -9.1l6.1 9.1l-10.8 2.3M1687.3 1186.8l24.2 22.6m-2.5 -10.7l2.5 10.7l-10.9 -1.7M337.8 1203l28.5 -15.8m-11 -1l11 1l-5 9.8M1039.6 1203l10.3 32.9m3.2 -10.5l-3.2 10.5l-8.6 -6.9M1093.5 1203l33.3 11.2m-6.7 -8.7l6.7 8.7l-10.6 2.9M1687.3 1203l23.8 23.2m-2.2 -10.8l2.2 10.8l-10.8 -2M337.8 1219.1l25.9 -21.5m-10.9 1.1l10.9 -1.1l-3.1 10.6M364.8 1219.1l34.4 -9.5m-10.4 -3.5l10.4 3.5l-7.2 8.4M391.8 1219.1l37.5 5.6m-8.1 -7.4l8.1 7.4l-9.9 4.7M1120.5 1219.1l15.4 35.2m2 -10.8l-2 10.8l-9.3 -5.9M310.8 1235.3l3.6 -41.7m-6.9 8.6l6.9 -8.6l5.3 9.6M364.8 1235.3l32.8 -5.5m-10 -4.6l10 4.6l-8 7.6M1039.6 1235.3l10.6 32.5m3 -10.6l-3 10.6l-8.7 -6.8M1147.5 1235.3l24.2 30.1m-0.9 -11l0.9 11l-10.5 -3.3M310.8 1251.5l1.9 -37.1m-6.6 8.8l6.6 -8.8l5.7 9.4M337.8 1251.5l24.9 -32.1m-10.5 3.4l10.5 -3.4l-0.7 11M1228.5 1251.5l29.8 14.7m-5.5 -9.6l5.5 9.6l-10.9 1.5M1255.5 1251.5l31.1 19.2m-4.5 -10l4.5 10l-11 0.5M1282.5 1251.5l35.6 11m-6.9 -8.6l6.9 8.6l-10.5 3.2M1309.5 1251.5l39.4 9.3m-7.5 -8.1l7.5 8.1l-10.3 3.9M310.8 1267.7l28.6 -20m-11 0.2l11 -0.2l-4 10.3M1039.6 1267.7l22.2 30.1m-0.5 -11l0.5 11l-10.4 -3.7M1282.5 1267.7l35 10.4m-7 -8.5l7 8.5l-10.5 3.3M1336.5 1267.7l38.9 6.2m-8 -7.5l8 7.5l-10 4.6M310.8 1283.9l28.7 -25.9m-10.9 1.6l10.9 -1.6l-2.6 10.7M904.6 1283.9l33.1 16.6m-5.4 -9.6l5.4 9.6l-10.9 1.4M958.6 1283.9l24.1 24.5m-2 -10.8l2 10.8l-10.8 -2.2M1039.6 1283.9l15.4 32.7m1.7 -10.9l-1.7 10.9l-9.4 -5.6M1066.6 1283.9l25.6 27.8m-1.7 -10.9l1.7 10.9l-10.7 -2.5M1147.5 1283.9l28.7 24.9m-2.9 -10.6l2.9 10.6l-10.9 -1.3M1363.4 1283.9l38.7 12.1m-6.9 -8.6l6.9 8.6l-10.5 3.2M445.8 1300.1l30.4 -15.4m-10.9 -1.4l10.9 1.4l-5.4 9.6M877.6 1300.1l33.6 -9.6m-10.5 -3.4l10.5 3.4l-7.1 8.4M904.6 1300.1l33.1 19.8m-4.7 -10l4.7 10l-11 0.6M931.6 1300.1l25.5 24.3m-2.4 -10.7l2.4 10.7l-10.8 -1.8M1066.6 1300.1l22.8 29m-0.8 -11l0.8 11l-10.5 -3.4M1093.5 1300.1l29.3 24.5m-3.1 -10.6l3.1 10.6l-10.9 -1.1M1120.5 1300.1l29.5 30m-2 -10.8l2 10.8l-10.8 -2.2M1147.5 1300.1l25.4 21.9m-2.9 -10.6l2.9 10.6l-10.9 -1.3M1363.4 1300.1l34.8 20.2m-4.8 -9.9l4.8 9.9l-11 0.7M364.8 1316.3l30.4 -16.6m-11 -1l11 1l-5.1 9.8M391.8 1316.3l38.3 -7.4m-10.1 -4.3l10.1 4.3l-7.8 7.8M688.7 1316.3l28.7 -18.6m-11 -0.2l11 0.2l-4.3 10.1M715.7 1316.3l34.8 -15.5m-10.8 -1.9l10.8 1.9l-5.8 9.3M850.6 1316.3l36.9 -3.6m-9.7 -5.2l9.7 5.2l-8.5 7M877.6 1316.3l40.3 8.9m-7.6 -8l7.6 8l-10.2 4M904.6 1316.3l37.4 13.6m-6.5 -8.9l6.5 8.9l-10.7 2.7M1066.6 1316.3l25.8 24.4m-2.4 -10.7l2.4 10.7l-10.9 -1.8M1093.5 1316.3l21.3 25.6m-1.1 -10.9l1.1 10.9l-10.6 -3.1M1228.5 1316.3l30.2 18.1m-4.7 -10l4.7 10l-11 0.6M1255.5 1316.3l35.8 17.3m-5.5 -9.5l5.5 9.5l-10.9 1.6M1282.5 1316.3l26.5 25.2m-2.4 -10.7l2.4 10.7l-10.8 -1.8M1309.5 1316.3l32.2 24.2m-3.6 -10.4l3.6 10.4l-11 -0.6M1336.5 1316.3l33.5 18.7m-5 -9.8l5 9.8l-11 0.9M1363.4 1316.3l31.2 21.8m-4 -10.3l4 10.3l-11 -0.2M283.8 1332.5l33.1 -14.6m-10.8 -2l10.8 2l-5.9 9.3M310.8 1332.5l38.2 -5.6m-9.9 -4.8l9.9 4.8l-8.1 7.4M337.8 1332.5l33 -12.8m-10.7 -2.4l10.7 2.4l-6.3 9M688.7 1332.5l30.5 -20.8m-11 0.1l11 -0.1l-4.1 10.2M877.6 1332.5l35.3 3.4m-8.5 -7l8.5 7l-9.7 5.3M904.6 1332.5l34.4 10m-7 -8.5l7 8.5l-10.5 3.4M1066.6 1332.5l28.2 28.6m-2 -10.8l2 10.8l-10.8 -2.2M1093.5 1332.5l23.7 24.4m-1.9 -10.8l1.9 10.8l-10.8 -2.3M1228.5 1332.5l34.5 13m-6.4 -9l6.4 9l-10.7 2.5M1255.5 1332.5l35.7 21.3m-4.7 -10l4.7 10l-11 0.6M1282.5 1332.5l28 26.3m-2.4 -10.7l2.4 10.7l-10.9 -1.8M1309.5 1332.5l23.9 31.8m-0.6 -11l0.6 11l-10.4 -3.6M1336.5 1332.5l36 19.9m-5 -9.8l5 9.8l-11 1M1363.4 1332.5l33 18m-5.1 -9.8l5.1 9.8l-11 1M1390.4 1332.5l26.2 22.4m-2.9 -10.6l2.9 10.6l-10.9 -1.2M337.8 1348.7l35.1 0.1m-9.1 -6.2l9.1 6.2l-9.1 6.1M904.6 1348.7l34.5 12.2m-6.5 -8.8l6.5 8.8l-10.7 2.8M1066.6 1348.7l28.4 27m-2.4 -10.7l2.4 10.7l-10.8 -1.8M1093.5 1348.7l23.7 21.8m-2.5 -10.7l2.5 10.7l-10.9 -1.7M1228.5 1348.7l31.7 15.4m-5.5 -9.5l5.5 9.5l-10.9 1.5M1255.5 1348.7l27.7 21.4m-3.5 -10.4l3.5 10.4l-11 -0.7M1282.5 1348.7l23.4 29.6m-0.8 -11l0.8 11l-10.5 -3.3M1309.5 1348.7l23.7 31.9m-0.5 -11l0.5 11l-10.4 -3.6M1336.5 1348.7l24.2 28.2m-1.3 -10.9l1.3 10.9l-10.6 -2.9M1363.4 1348.7l30.2 22.8m-3.6 -10.4l3.6 10.4l-11 -0.6M1390.4 1348.7l27.2 23.3m-2.9 -10.6l2.9 10.6l-10.9 -1.3M1417.4 1348.7l22.3 -25.2m-10.6 2.8l10.6 -2.8l-1.4 10.9M337.8 1364.8l39.3 -7m-10.1 -4.5l10.1 4.5l-7.9 7.7M904.6 1364.8l33 9.7m-7 -8.5l7 8.5l-10.5 3.3M1093.5 1364.8l26.4 25.3m-2.3 -10.8l2.3 10.8l-10.8 -1.9M1282.5 1364.8l18.9 32.2m0.7 -11l-0.7 11l-9.9 -4.7M1309.5 1364.8l20.1 30.8m0.2 -11l-0.2 11l-10.1 -4.3M1336.5 1364.8l22.4 35.6m0.4 -11l-0.4 11l-10.1 -4.5M1363.4 1364.8l30.4 22.7m-3.6 -10.4l3.6 10.4l-11 -0.5M337.8 1381l36.3 -4.9m-9.9 -4.9l9.9 4.9l-8.2 7.3M904.6 1381l39.2 9.9m-7.3 -8.2l7.3 8.2l-10.4 3.7M1093.5 1381l26.8 26.4m-2.2 -10.8l2.2 10.8l-10.8 -2M1282.5 1381l20.1 34.6m0.7 -11l-0.7 11l-9.9 -4.8M1309.5 1381l26.8 32.3m-1.1 -10.9l1.1 10.9l-10.6 -3.1M1336.5 1381l29.5 30.2m-2 -10.8l2 10.8l-10.8 -2.2M1363.4 1381l33.6 19.1m-4.9 -9.9l4.9 9.9l-11 0.8M1390.4 1381l35.7 17.5m-5.5 -9.5l5.5 9.5l-10.9 1.5M1417.4 1381l38.7 13.4m-6.6 -8.8l6.6 8.8l-10.6 2.8M499.8 1397.2l34.9 5.3m-8.1 -7.4l8.1 7.4l-9.9 4.7M526.8 1397.2l36.6 7.2m-7.8 -7.8l7.8 7.8l-10.1 4.3M688.7 1397.2l28.3 25.5m-2.7 -10.7l2.7 10.7l-10.9 -1.5M769.7 1397.2l32 9m-7.1 -8.4l7.1 8.4l-10.4 3.4M796.7 1397.2l34.4 0.6m-9 -6.3l9 6.3l-9.2 6M823.6 1397.2l37.8 1.7m-8.8 -6.5l8.8 6.5l-9.4 5.7M850.6 1397.2l37.2 0.7m-9 -6.3l9 6.3l-9.2 6M877.6 1397.2l36.8 6m-8 -7.5l8 7.5l-10 4.6M904.6 1397.2l30.7 11.3m-6.4 -8.9l6.4 8.9l-10.7 2.6M985.6 1397.2l20.5 31.7m0.2 -11l-0.2 11l-10.1 -4.3M1066.6 1397.2l32.2 23.2m-3.8 -10.3l3.8 10.3l-11 -0.3M1093.5 1397.2l25.8 27.1m-1.8 -10.8l1.8 10.8l-10.7 -2.4M1282.5 1397.2l16.8 31m1.1 -10.9l-1.1 10.9l-9.7 -5.1M1309.5 1397.2l24.7 31.5m-0.8 -11l0.8 11l-10.5 -3.4M1390.4 1397.2l37.3 17.8m-5.6 -9.5l5.6 9.5l-10.9 1.6M1417.4 1397.2l37.8 8.9m-7.5 -8.1l7.5 8.1l-10.3 3.9M310.8 1413.4l7.6 -40.8m-7.7 7.8l7.7 -7.8l4.4 10.1M526.8 1413.4l35.9 6.6m-7.9 -7.7l7.9 7.7l-10.1 4.4M634.7 1413.4l40 6.7m-8 -7.6l8 7.6l-10 4.6M796.7 1413.4l35.9 6.2m-7.9 -7.6l7.9 7.6l-10 4.5M823.6 1413.4l37.9 -0.4m-9.2 -6l9.2 6l-9 6.3M850.6 1413.4l33.6 -0.7m-9.2 -6l9.2 6l-9 6.3M877.6 1413.4l34.9 1.5m-8.8 -6.5l8.8 6.5l-9.4 5.8M904.6 1413.4l32.2 6.2m-7.8 -7.8l7.8 7.8l-10.1 4.3M1012.6 1413.4l14.6 31.6m1.8 -10.9l-1.8 10.9l-9.4 -5.7M1066.6 1413.4l28.6 23.3m-3.2 -10.5l3.2 10.5l-11 -1M1255.5 1413.4l5.9 31.7m4.4 -10.1l-4.4 10.1l-7.7 -7.8M1282.5 1413.4l18.8 34m1 -11l-1 11l-9.8 -5M1309.5 1413.4l21.8 29.9m-0.4 -11l0.4 11l-10.3 -3.7M1336.5 1413.4l29.7 27.8m-2.5 -10.7l2.5 10.7l-10.9 -1.7M1390.4 1413.4l41.1 6.6m-8 -7.5l8 7.5l-10 4.6M634.7 1429.6l34.4 14.3m-6.1 -9.2l6.1 9.2l-10.8 2.2M715.7 1429.6l32 25.2m-3.4 -10.5l3.4 10.5l-11 -0.8M796.7 1429.6l36.7 -1.2m-9.3 -5.9l9.3 5.9l-8.9 6.4M823.6 1429.6l34 3.1m-8.5 -6.9l8.5 6.9l-9.6 5.3M850.6 1429.6l33.5 -1.4m-9.4 -5.8l9.4 5.8l-8.9 6.5M877.6 1429.6l33.5 1.3m-8.9 -6.5l8.9 6.5l-9.4 5.8M1012.6 1429.6l16.4 30.6m1.1 -10.9l-1.1 10.9l-9.7 -5.1M1066.6 1429.6l25.4 21.3m-3 -10.6l3 10.6l-10.9 -1.1M1282.5 1429.6l31.6 9.4m-7 -8.5l7 8.5l-10.5 3.3M1309.5 1429.6l18.2 34.8m1.2 -10.9l-1.2 10.9l-9.7 -5.2M1336.5 1429.6l35.6 17m-5.6 -9.5l5.6 9.5l-10.9 1.6M634.7 1445.8l34.5 15.5m-5.8 -9.4l5.8 9.4l-10.8 1.9M661.7 1445.8l36.8 19.9m-5.1 -9.7l5.1 9.7l-10.9 1.1M796.7 1445.8l39.6 5.7m-8.2 -7.4l8.2 7.4l-9.9 4.8M823.6 1445.8l34.8 2.6m-8.6 -6.8l8.6 6.8l-9.6 5.5M850.6 1445.8l37.3 2m-8.8 -6.6l8.8 6.6l-9.4 5.7M877.6 1445.8l34.6 1.5m-8.8 -6.5l8.8 6.5l-9.4 5.8M904.6 1445.8l36.8 8.5m-7.5 -8l7.5 8l-10.3 3.9M931.6 1445.8l31.1 21.1m-4.1 -10.2l4.1 10.2l-11 0M958.6 1445.8l29.7 23.1m-3.4 -10.5l3.4 10.5l-11 -0.7M985.6 1445.8l32.4 17.6m-5.1 -9.8l5.1 9.8l-10.9 1.1M1012.6 1445.8l34 18.2m-5.1 -9.7l5.1 9.7l-10.9 1.1M1039.6 1445.8l39.1 13.9m-6.5 -8.8l6.5 8.8l-10.7 2.7M1093.5 1445.8l34.3 20.6m-4.6 -10l4.6 10l-11 0.6M1120.5 1445.8l37.1 18.7m-5.4 -9.6l5.4 9.6l-10.9 1.4M1309.5 1445.8l20.2 28.4m-0.3 -11l0.3 11l-10.3 -3.9M1336.5 1445.8l35.4 6m-8 -7.6l8 7.6l-10 4.5M1363.4 1445.8l35 16.9m-5.5 -9.5l5.5 9.5l-10.9 1.6M553.7 1462l32.7 1.5m-8.8 -6.6l8.8 6.6l-9.4 5.7M634.7 1462l34.7 14.1m-6.1 -9.1l6.1 9.1l-10.8 2.3M796.7 1462l41.5 3.3m-8.6 -6.9l8.6 6.9l-9.6 5.4M823.6 1462l34.2 3.2m-8.5 -7l8.5 7l-9.6 5.3M850.6 1462l36.4 -1.7m-9.4 -5.7l9.4 5.7l-8.8 6.6M877.6 1462l36.8 6m-8 -7.5l8 7.5l-10 4.6M904.6 1462l32.8 8.1m-7.4 -8.2l7.4 8.2l-10.3 3.8M931.6 1462l31.9 19.9m-4.5 -10l4.5 10l-11 0.4M958.6 1462l30.7 13.4m-5.9 -9.3l5.9 9.3l-10.8 2M985.6 1462l32.7 15.9m-5.5 -9.5l5.5 9.5l-10.9 1.5M1012.6 1462l36.6 7.3m-7.7 -7.8l7.7 7.8l-10.1 4.2M1039.6 1462l41 5.9m-8.1 -7.4l8.1 7.4l-9.9 4.8M1147.5 1462l34.1 15.1m-5.9 -9.3l5.9 9.3l-10.8 1.9M1309.5 1462l22 28m-0.8 -11l0.8 11l-10.5 -3.4M1336.5 1462l36.8 15.2m-6.1 -9.2l6.1 9.2l-10.8 2.2M553.7 1478.2l40.8 -0.3m-9.2 -6.1l9.2 6.1l-9.1 6.2M580.7 1478.2l37.6 11.2m-7 -8.5l7 8.5l-10.5 3.3M634.7 1478.2l30.7 18m-4.8 -9.9l4.8 9.9l-11 0.7M742.7 1478.2l32.9 16.7m-5.4 -9.6l5.4 9.6l-10.9 1.4M985.6 1478.2l32.9 8.4m-7.3 -8.2l7.3 8.2l-10.4 3.7M1012.6 1478.2l35.5 6.7m-7.8 -7.7l7.8 7.7l-10.1 4.4M1039.6 1478.2l38.5 3.5m-8.5 -7l8.5 7l-9.6 5.3M634.7 1494.4l32.2 19.6m-4.6 -10l4.6 10l-11 0.5M661.7 1494.4l34.1 20.7m-4.6 -10l4.6 10l-11 0.5M742.7 1494.4l32.1 18.7m-4.8 -9.9l4.8 9.9l-11 0.7M877.6 1494.4l32.5 4.3m-8.2 -7.3l8.2 7.3l-9.8 4.9M931.6 1494.4l37 -2.8m-9.6 -5.4l9.6 5.4l-8.6 6.8M1174.5 1494.4l29 25.5m-2.8 -10.6l2.8 10.6l-10.9 -1.4M688.7 1510.6l31.8 13.5m-6 -9.2l6 9.2l-10.8 2.1M715.7 1510.6l37.1 18.8m-5.4 -9.6l5.4 9.6l-10.9 1.4M742.7 1510.6l33.7 15.7m-5.7 -9.4l5.7 9.4l-10.9 1.7M769.7 1510.6l36.3 7.1m-7.8 -7.8l7.8 7.8l-10.1 4.3M796.7 1510.6l34.4 7.7m-7.6 -8l7.6 8l-10.2 4M850.6 1510.6l34.1 -0.5m-9.2 -6l9.2 6l-9 6.3M904.6 1510.6l40.3 -7.6m-10.1 -4.4l10.1 4.4l-7.8 7.7M1174.5 1510.6l31.6 20.1m-4.4 -10.1l4.4 10.1l-11 0.3M715.7 1526.8l29.2 18.6m-4.4 -10.1l4.4 10.1l-11 0.3M742.7 1526.8l33 14.2m-6 -9.3l6 9.3l-10.8 2.1M769.7 1526.8l33.6 7.1m-7.7 -7.9l7.7 7.9l-10.2 4.1M796.7 1526.8l35.7 3.3m-8.5 -7l8.5 7l-9.6 5.3M823.6 1526.8l36.6 5.5m-8.1 -7.4l8.1 7.4l-9.9 4.7M850.6 1526.8l41 -7.6m-10.1 -4.4l10.1 4.4l-7.8 7.7M1174.5 1526.8l30.5 21.5m-3.9 -10.3l3.9 10.3l-11 -0.2M796.7 1542.9l34.9 6.3m-7.9 -7.7l7.9 7.7l-10.1 4.4M1553 1057.8l63 -31.5m-10.9 -1.4l10.9 1.4l-5.4 9.6M202.9 1430.4l37 21.2m-4.9 -9.9l4.9 9.9l-11 0.8M229.4 1479.4l34.4 17.2m-5.4 -9.6l5.4 9.6l-10.9 1.4M284.9 1479.4l23.8 22.5m-2.4 -10.7l2.4 10.7l-10.9 -1.8M253.2 1497.9l45 6.6m-8.1 -7.4l8.1 7.4l-9.9 4.8M308.7 1495.2l47.6 -7.9m-10 -4.6l10 4.6l-8 7.6M284.9 1508.5l39.7 1.3m-8.9 -6.5l8.9 6.5l-9.3 5.8M337.8 1528.3l31.7 0m-9.1 -6.2l9.1 6.2l-9.1 6.2M414.6 1542.9l37 -4m-9.7 -5.1l9.7 5.1l-8.4 7.1M392.1 1494.7l38.4 -2.1m-9.4 -5.6l9.4 5.6l-8.8 6.6M311.4 1479.4l26.5 -29.1m-10.7 2.6l10.7 -2.6l-1.6 10.9M345.8 1445l18.5 -17.2m-10.9 1.7l10.9 -1.7l-2.5 10.7M446.3 1479.4l34.4 -27.8m-11 0.9l11 -0.9l-3.2 10.5M531 1513.8l19 -7.9m-10.8 -2.2l10.8 2.2l-6.1 9.2M448.9 1545.5l18.5 -13.2m-11 0.3l11 -0.3l-3.8 10.3M525.7 1414.6l24.3 1.3m-8.8 -6.6l8.8 6.6l-9.4 5.6M525.7 1447.6l24.3 -7.9m-10.6 -3l10.6 3l-6.8 8.7"/>
<path stroke="#00c8c8" d="M1579.4 85.8l34.6 -38m-10.7 2.6l10.7 -2.6l-1.6 10.9M1552.4 102l26.9 -35.8m-10.4 3.6l10.4 -3.6l-0.6 11M1579.4 102l27.7 -36.8m-10.4 3.6l10.4 -3.6l-0.6 11M1525.4 118.2l34.9 -36m-10.8 2.3l10.8 -2.3l-1.9 10.8M1552.4 118.2l31.5 -37m-10.6 3l10.6 -3l-1.2 10.9M1498.4 134.4l26.1 -35.2m-10.4 3.7l10.4 -3.7l-0.5 11M1552.4 134.4l32.9 -31.3m-10.8 1.8l10.8 -1.8l-2.4 10.7M1498.4 150.6l26.3 -35.5m-10.4 3.7l10.4 -3.7l-0.5 11M1336.5 312.5l45.5 -0.9m-9.2 -6l9.2 6l-9 6.3M1363.4 312.5l45.6 -9m-10.1 -4.3l10.1 4.3l-7.8 7.8M2227.1 717.3l-8.6 -46.5m-4.4 10.1l4.4 -10.1l7.7 7.9M1228.5 733.4l25.7 41.4m0.4 -11l-0.4 11l-10 -4.5M1255.5 733.4l39.8 17.2m-5.9 -9.3l5.9 9.3l-10.8 2M1282.5 733.4l41.1 16.3m-6.2 -9.1l6.2 9.1l-10.7 2.3M1309.5 733.4l46.1 18.7m-6.1 -9.1l6.1 9.1l-10.8 2.3M1336.5 733.4l46.5 11.4m-7.4 -8.1l7.4 8.1l-10.3 3.8M1201.5 749.6l23.1 39.8m0.7 -11l-0.7 11l-9.9 -4.8M1228.5 749.6l14.6 48.8m3.3 -10.5l-3.3 10.5l-8.5 -7M1255.5 749.6l25.2 34.8m-0.4 -11l0.4 11l-10.3 -3.8M1417.4 749.6l18.6 46.4m2.3 -10.8l-2.3 10.8l-9.1 -6.2M1201.5 765.8l-10.8 43m8.2 -7.4l-8.2 7.4l-3.8 -10.3M1228.5 765.8l10.4 42.3m3.8 -10.3l-3.8 10.3l-8.1 -7.4M1390.4 782l47.4 9.7m-7.7 -7.9l7.7 7.9l-10.2 4.2M1417.4 798.2l45.9 21.7m-5.6 -9.5l5.6 9.5l-10.9 1.7M1228.5 814.4l5.8 49.2m5 -9.8l-5 9.8l-7.2 -8.3M1390.4 814.4l46.6 20.6m-5.9 -9.3l5.9 9.3l-10.8 1.9M1417.4 814.4l42.9 18m-6 -9.2l6 9.2l-10.8 2.1M1444.4 814.4l43.1 20.1m-5.7 -9.4l5.7 9.4l-10.9 1.7M1471.4 814.4l35.5 26.3m-3.7 -10.4l3.7 10.4l-11 -0.5M1228.5 830.6l10.3 46.7m4.1 -10.2l-4.1 10.2l-8 -7.6M1417.4 830.6l35.4 25.2m-3.9 -10.3l3.9 10.3l-11 -0.3M1444.4 830.6l36 32.4m-2.7 -10.7l2.7 10.7l-10.9 -1.5M1471.4 830.6l34.6 26.4m-3.5 -10.4l3.5 10.4l-11 -0.7M1498.4 830.6l31.6 37.1m-1.2 -10.9l1.2 10.9l-10.6 -3M1336.5 846.8l44.7 2.4m-8.8 -6.6l8.8 6.6l-9.4 5.6M1471.4 846.8l13.2 50.8m3.6 -10.4l-3.6 10.4l-8.3 -7.3M1498.4 846.8l20.7 45.4m1.8 -10.9l-1.8 10.9l-9.4 -5.7M1228.5 863l50.1 16m-6.8 -8.6l6.8 8.6l-10.6 3.1M1471.4 863l12 43.7m3.5 -10.4l-3.5 10.4l-8.4 -7.2M1498.4 863l18.8 44.9m2.2 -10.8l-2.2 10.8l-9.2 -6M1498.4 895.3l-1 43.8m6.4 -9l-6.4 9l-5.9 -9.3M1525.4 895.3l7.1 43.2m4.6 -10l-4.6 10l-7.5 -8M1498.4 911.5l2.3 45.1m5.7 -9.4l-5.7 9.4l-6.6 -8.8M1525.4 911.5l10 45.9m4.1 -10.2l-4.1 10.2l-7.9 -7.6M1579.4 911.5l-1.7 44.8m6.5 -8.9l-6.5 8.9l-5.8 -9.3M1498.4 927.7l-3.2 46.2m6.8 -8.7l-6.8 8.7l-5.5 -9.5M1525.4 927.7l7 46.3m4.7 -9.9l-4.7 9.9l-7.4 -8.1M1552.4 927.7l6.8 45.8m4.7 -9.9l-4.7 9.9l-7.4 -8.1M1579.4 927.7l-0.9 51.9m6.3 -9l-6.3 9l-6 -9.2M1606.4 927.7l12.2 43.7m3.5 -10.4l-3.5 10.4l-8.4 -7.1M1579.4 943.9l22.7 41.7m1.1 -10.9l-1.1 10.9l-9.8 -5.1M1525.4 960.1l27.5 42.7m0.2 -11l-0.2 11l-10.1 -4.3M1579.4 976.3l52 6.4m-8.3 -7.2l8.3 7.2l-9.8 5M1444.4 1008.7l21.9 38.3m0.8 -11l-0.8 11l-9.9 -4.9M1444.4 1024.9l25 39.1m0.3 -11l-0.3 11l-10.1 -4.4M1471.4 1041l30.7 42m-0.4 -11l0.4 11l-10.3 -3.7M1444.4 1057.2l17.4 42.3m2.2 -10.8l-2.2 10.8l-9.2 -6.1M1471.4 1057.2l24.3 41.4m0.7 -11l-0.7 11l-9.9 -4.8M1525.4 1057.2l42.9 -5.9m-9.9 -4.8l9.9 4.8l-8.2 7.3M1471.4 1073.4l30.9 42.4m-0.4 -11l0.4 11l-10.3 -3.8M1579.4 1073.4l46.4 3.9m-8.6 -6.9l8.6 6.9l-9.6 5.4M1444.4 1089.6l22.9 36.5m0.4 -11l-0.4 11l-10.1 -4.5M1471.4 1089.6l35.7 34.8m-2.2 -10.8l2.2 10.8l-10.8 -2M1606.4 1089.6l39.1 27.3m-4 -10.3l4 10.3l-11 -0.2M310.8 1105.8l45.3 -3.3m-9.5 -5.5l9.5 5.5l-8.6 6.8M1606.4 1105.8l38.2 35.2m-2.5 -10.7l2.5 10.7l-10.9 -1.7M1633.3 1105.8l26.3 35.2m-0.5 -11l0.5 11l-10.4 -3.6M1066.6 1122l18.3 41.2m1.9 -10.8l-1.9 10.8l-9.3 -5.8M1012.6 1138.2l28.3 35.2m-0.9 -11l0.9 11l-10.5 -3.3M1066.6 1138.2l21.5 41.8m1.3 -10.9l-1.3 10.9l-9.6 -5.3M1660.3 1138.2l24.3 36m0 -11l0 11l-10.2 -4.1M1066.6 1154.4l25.6 39.4m0.2 -11l-0.2 11l-10.1 -4.3M1066.6 1170.6l25.8 38.5m0 -11l0 11l-10.2 -4.2M1066.6 1186.8l21.7 47.3m1.8 -10.9l-1.8 10.9l-9.4 -5.7M1066.6 1203l30.7 41.8m-0.4 -11l0.4 11l-10.4 -3.7M1066.6 1219.1l29.8 43.7m0 -11l0 11l-10.2 -4.1M1093.5 1219.1l32 37m-1.3 -10.9l1.3 10.9l-10.6 -2.9M337.8 1235.3l28.7 -32.2m-10.7 2.7l10.7 -2.7l-1.5 10.9M1066.6 1235.3l25.7 35.1m-0.4 -11l0.4 11l-10.4 -3.7M1093.5 1235.3l26.5 39.8m0.1 -11l-0.1 11l-10.2 -4.2M1120.5 1235.3l35.2 36.1m-2 -10.8l2 10.8l-10.8 -2.2M1066.6 1251.5l25.8 38.8m0.1 -11l-0.1 11l-10.2 -4.2M1093.5 1251.5l36.4 35.8m-2.2 -10.8l2.2 10.8l-10.8 -2M1147.5 1251.5l36.3 36m-2.1 -10.8l2.1 10.8l-10.8 -2.1M1066.6 1267.7l30.8 31.6m-2 -10.8l2 10.8l-10.8 -2.2M1093.5 1267.7l31.8 33.6m-1.8 -10.9l1.8 10.9l-10.7 -2.4M1120.5 1267.7l35.1 32.7m-2.5 -10.7l2.5 10.7l-10.9 -1.7M1147.5 1267.7l30.8 38.5m-0.9 -11l0.9 11l-10.5 -3.3M1309.5 1267.7l45.9 6.3m-8.2 -7.3l8.2 7.3l-9.9 4.9M1093.5 1283.9l30.1 35.1m-1.3 -10.9l1.3 10.9l-10.6 -2.9M1120.5 1283.9l35.3 39.4m-1.5 -10.9l1.5 10.9l-10.7 -2.7M1255.5 1283.9l50.5 15.9m-6.9 -8.6l6.9 8.6l-10.5 3.1M1336.5 1283.9l42.3 13.8m-6.8 -8.7l6.8 8.7l-10.6 3M985.6 1300.1l42.9 29.3m-4.1 -10.2l4.1 10.2l-11 -0.1M1012.6 1300.1l35.9 28.2m-3.4 -10.5l3.4 10.5l-11 -0.8M1039.6 1300.1l33.9 28.9m-3 -10.6l3 10.6l-10.9 -1.2M1255.5 1300.1l46.5 15.9m-6.6 -8.8l6.6 8.8l-10.6 2.9M1336.5 1300.1l40.4 15.3m-6.3 -9l6.3 9l-10.7 2.5M931.6 1316.3l36.9 26.9m-3.8 -10.3l3.8 10.3l-11 -0.4M958.6 1316.3l38.7 28m-3.8 -10.3l3.8 10.3l-11 -0.4M985.6 1316.3l39.6 29.2m-3.7 -10.4l3.7 10.4l-11 -0.5M1012.6 1316.3l35.7 33.8m-2.4 -10.7l2.4 10.7l-10.9 -1.8M1039.6 1316.3l33.7 26.7m-3.3 -10.5l3.3 10.5l-11 -0.8M931.6 1332.5l41.9 22.1m-5.2 -9.7l5.2 9.7l-10.9 1.2M1039.6 1332.5l34.7 33m-2.4 -10.7l2.4 10.7l-10.8 -1.8M310.8 1348.7l18.5 -48.9m-9 6.4l9 -6.4l2.5 10.7M931.6 1348.7l45.6 18.3m-6.2 -9.1l6.2 9.1l-10.8 2.3M1039.6 1348.7l31.3 32.3m-1.9 -10.8l1.9 10.8l-10.8 -2.3M931.6 1364.8l43 13.5m-6.8 -8.6l6.8 8.6l-10.5 3.1M1066.6 1364.8l35.2 32m-2.6 -10.7l2.6 10.7l-10.9 -1.6M310.8 1381l10.7 -48.8m-8 7.6l8 -7.6l4 10.2M931.6 1381l42.5 22m-5.3 -9.7l5.3 9.7l-10.9 1.3M958.6 1381l34.7 33.1m-2.3 -10.7l2.3 10.7l-10.8 -1.8M1066.6 1381l36.1 30m-3.1 -10.6l3.1 10.6l-10.9 -1.1M310.8 1397.2l22.6 -48.5m-9.4 5.7l9.4 -5.7l1.7 10.9M634.7 1397.2l46.1 -4.7m-9.7 -5.2l9.7 5.2l-8.5 7M661.7 1397.2l44.6 1.2m-9 -6.4l9 6.4l-9.3 5.9M1336.5 1397.2l30.7 33.7m-1.6 -10.9l1.6 10.9l-10.7 -2.6M1363.4 1397.2l39.3 20.3m-5.3 -9.6l5.3 9.6l-10.9 1.3M553.7 1413.4l44.2 -7.9m-10.1 -4.4l10.1 4.4l-7.9 7.7M580.7 1413.4l46.6 -3.7m-9.6 -5.4l9.6 5.4l-8.6 6.8M607.7 1413.4l44.4 -8.4m-10.1 -4.3l10.1 4.3l-7.8 7.7M661.7 1413.4l39.1 24.3m-4.5 -10l4.5 10l-11 0.4M688.7 1413.4l34.1 28.4m-3.1 -10.6l3.1 10.6l-10.9 -1.1M1039.6 1413.4l28 34.2m-1 -11l1 11l-10.5 -3.2M1363.4 1413.4l36 30.9m-2.9 -10.6l2.9 10.6l-10.9 -1.3M661.7 1429.6l37.4 24.4m-4.3 -10.1l4.3 10.1l-11 0.2M688.7 1429.6l41.2 26.8m-4.3 -10.1l4.3 10.1l-11 0.2M1039.6 1429.6l33.2 33.2m-2.1 -10.8l2.1 10.8l-10.8 -2.1M1363.4 1429.6l37.4 25.6m-4.1 -10.2l4.1 10.2l-11 -0.1M688.7 1445.8l42.9 32.1m-3.6 -10.4l3.6 10.4l-11 -0.5M1066.6 1445.8l47.3 11.4m-7.4 -8.1l7.4 8.1l-10.3 3.8M661.7 1462l41.7 23.7m-4.9 -9.9l4.9 9.9l-11 0.8M688.7 1462l43.8 25.8m-4.7 -9.9l4.7 9.9l-11 0.7M769.7 1462l46.8 11.9m-7.3 -8.2l7.3 8.2l-10.4 3.7M661.7 1478.2l36 24.2m-4.1 -10.2l4.1 10.2l-11 0M688.7 1478.2l40 24.1m-4.6 -10l4.6 10l-11 0.6M715.7 1478.2l42.8 26.6m-4.5 -10l4.5 10l-11 0.4M1174.5 1478.2l40.2 20.6m-5.3 -9.6l5.3 9.6l-10.9 1.3M688.7 1494.4l39.4 23.9m-4.6 -10l4.6 10l-11 0.5M715.7 1494.4l39 33.8m-2.9 -10.6l2.9 10.6l-10.9 -1.3M877.6 1510.6l42.8 -9.4m-10.2 -4l10.2 4l-7.6 8M877.6 1526.8l47.4 -21.9m-10.9 -1.8l10.9 1.8l-5.7 9.4M904.6 1526.8l43.3 -4.6m-9.7 -5.2l9.7 5.2l-8.4 7.1M850.6 1542.9l45 -8.1m-10.1 -4.4l10.1 4.4l-7.9 7.7M877.6 1542.9l43.4 -15.2m-10.6 -2.8l10.6 2.8l-6.6 8.8M1228.5 1542.9l44.4 1.1m-9 -6.4l9 6.4l-9.3 5.9M1385.6 328l46.3 33.3m-3.8 -10.3l3.8 10.3l-11 -0.3M1336.5 328.9l48.1 -13.9m-10.5 -3.4l10.5 3.4l-7.1 8.4M1443.9 345.6l53.7 0m-9.1 -6.2l9.1 6.2l-9.1 6.2M1391.1 361.3l37 -8.3m-10.2 -4l10.2 4l-7.5 8M1527 1073.5l41.7 -8.3m-10.1 -4.2l10.1 4.2l-7.7 7.8M319.3 1508.5l15.9 -10.6m-11 -0.1l11 0.1l-4.2 10.2M390.7 1527l45 7.9m-7.9 -7.6l7.9 7.6l-10 4.5M472.8 1479.4l47.6 -25.1m-10.9 -1.2l10.9 1.2l-5.2 9.7M499.2 1495.2l50.8 -7.9m-10 -4.7l10 4.7l-8.1 7.5M499.2 1511.1l50.8 -2.6m-9.4 -5.7l9.4 5.7l-8.8 6.6"/>
<path stroke="#00d28c" d="M1525.4 134.4l43.4 -36m-10.9 1.1l10.9 -1.1l-3.1 10.6M1363.4 328.7l55.6 3.5m-8.7 -6.7l8.7 6.7l-9.5 5.6M1417.4 782l53.6 5.4m-8.5 -7l8.5 7l-9.7 5.2M1390.4 798.2l58.6 4.1m-8.7 -6.8l8.7 6.8l-9.5 5.5M1255.5 846.8l51.1 21.1m-6.1 -9.2l6.1 9.2l-10.8 2.2M1471.4 1008.7l32.5 49.2m0.1 -11l-0.1 11l-10.2 -4.2M1120.5 1251.5l38.1 43.8m-1.3 -10.9l1.3 10.9l-10.6 -2.8M1282.5 1283.9l51.6 17m-6.7 -8.7l6.7 8.7l-10.6 3M1309.5 1283.9l56.1 20.3m-6.5 -8.9l6.5 8.9l-10.7 2.7M958.6 1300.1l45.9 35m-3.5 -10.4l3.5 10.4l-11 -0.6M1282.5 1300.1l58.1 9.2m-8 -7.5l8 7.5l-10 4.7M1309.5 1300.1l56.1 20.5m-6.5 -8.9l6.5 8.9l-10.7 2.6M958.6 1332.5l49.6 32.5m-4.3 -10.1l4.3 10.1l-11 0.2M1012.6 1332.5l47.4 35.3m-3.6 -10.4l3.6 10.4l-11 -0.5M958.6 1348.7l45.2 31m-4 -10.2l4 10.2l-11 -0.1M310.8 1364.8l14.3 -60.2m-8.1 7.5l8.1 -7.5l3.9 10.3M958.6 1364.8l50.9 37.5m-3.7 -10.4l3.7 10.4l-11 -0.5M1039.6 1364.8l43.8 39.8m-2.6 -10.7l2.6 10.7l-10.9 -1.6M1012.6 1381l31.1 45.5m-0.1 -11l0.1 11l-10.2 -4.1M1039.6 1381l41.9 39.6m-2.4 -10.7l2.4 10.7l-10.9 -1.8M1039.6 1397.2l40.9 37.9m-2.5 -10.7l2.5 10.7l-10.9 -1.7M715.7 1445.8l47.5 34.9m-3.7 -10.4l3.7 10.4l-11 -0.5M715.7 1462l49.4 28.7m-4.8 -9.9l4.8 9.9l-11 0.7M742.7 1462l53.5 16.3m-6.9 -8.5l6.9 8.5l-10.5 3.2M1428.1 343.7l14.8 -27.8m-9.7 5.2l9.7 -5.2l1.1 10.9M1336.5 345.6l58.3 -13m-10.2 -4l10.2 4l-7.6 8M1552 1074.4l54.6 0m-9.1 -6.2l9.1 6.2l-9.1 6.2M1510.4 1107.8l45.4 3.7m-8.6 -6.9l8.6 6.9l-9.6 5.4M255.8 1478.8l59.5 8.5m-8.2 -7.4l8.2 7.4l-9.9 4.8M310.1 1493.9l64.8 -9.3m-9.9 -4.8l9.9 4.8l-8.2 7.4M446.3 1495.2l35.7 -43.7m-10.5 3.2l10.5 -3.2l-1 11"/>
<path stroke="#00dc00" d="M1255.5 863l67 16.7m-7.4 -8.2l7.4 8.2l-10.3 3.8M985.6 1332.5l53.1 42m-3.3 -10.5l3.3 10.5l-11 -0.8M985.6 1348.7l53.6 48.6m-2.6 -10.7l2.6 10.7l-10.9 -1.6M985.6 1364.8l49 46.8m-2.3 -10.7l2.3 10.7l-10.8 -1.9M1066.6 1462l68.2 9.4m-8.2 -7.3l8.2 7.3l-9.9 4.9M823.6 1542.9l68.7 -10.7m-10 -4.7l10 4.7l-8.1 7.5M1363.3 345.6l70.4 3.7m-8.8 -6.6l8.8 6.6l-9.4 5.7M1471.5 1024.4l38 51.9m-0.4 -11l0.4 11l-10.4 -3.7M1012.9 1349.6l20.1 43.4m1.7 -10.9l-1.7 10.9l-9.4 -5.7M1025.6 1366.6l29.6 38.1m-0.7 -11l0.7 11l-10.5 -3.4M1004.4 1400.4l29.6 34.9m-1.2 -10.9l1.2 10.9l-10.6 -3M230.7 1462.2l27.8 62.2m1.9 -10.8l-1.9 10.8l-9.3 -5.8M283.6 1495.2l70.1 18.5m-7.2 -8.3l7.2 8.3l-10.4 3.6M311.4 1463.5l23.8 -58.2m-9.1 6.1l9.1 -6.1l2.2 10.8M472.8 1495.2l60.8 -31.7m-10.9 -1.2l10.9 1.2l-5.2 9.7"/>
<path stroke="#a0e632" d="M1282.5 863l71.4 27.3m-6.3 -9l6.3 9l-10.7 2.5M1418 345.2l82.4 3.7m-8.8 -6.6l8.8 6.6l-9.4 5.7M1579.8 1090.2l74.1 36.1m-5.5 -9.5l5.5 9.5l-10.9 1.5M1012.9 1365.5l48.7 73m0.1 -11l-0.1 11l-10.2 -4.2M998.1 1379.3l61.4 55m-2.7 -10.7l2.7 10.7l-10.9 -1.5M414.6 1513.8l60.8 10.6m-7.9 -7.6l7.9 7.6l-10 4.5M475.4 1516.4l63.5 -48.9m-11 0.7l11 -0.7l-3.5 10.4"/>
<path stroke="#e6dc32" d="M1499.3 1090.2l66.7 50.9m-3.5 -10.4l3.5 10.4l-11 -0.6M1503.9 1079.1l68.5 54.6m-3.3 -10.5l3.3 10.5l-11 -0.9M1148.4 1478.7l73 45.5m-4.5 -10l4.5 10l-11 0.4M1095.4 1463.9l89.9 12.3m-8.2 -7.3l8.2 7.3l-9.9 4.9M337.8 1495.2l87.3 27.8m-6.8 -8.6l6.8 8.6l-10.6 3.1M365.6 1511.1l76.7 58.2m-3.5 -10.4l3.5 10.4l-11 -0.6M414.6 1512.4l96.6 -11.9m-9.8 -5l9.8 5l-8.3 7.2M451.6 1508.5l68.8 -47.6m-11 0.1l11 -0.1l-4 10.2"/>
<path stroke="#e6af2d" d="M1528.9 1091.1l101.9 2.8m-8.9 -6.4l8.9 6.4l-9.3 5.9M1558.5 1089.3l96.3 -5.6m-9.5 -5.6l9.5 5.6l-8.7 6.7"/>
<path stroke="#f08228" d="M1390.2 344.6l106.5 23.1m-7.6 -7.9l7.6 7.9l-10.2 4.1M1120.8 1463.9l105.8 42.3m-6.2 -9.1l6.2 9.1l-10.8 2.3"/>
</g>
<use href="#grid"/>
</g>
<rect x="150" y="34" width="2260.5" height="1591" fill="none" stroke="#000" stroke-width="6"/>
<path d="M136.5 1578.5H150M136.5 1448.9H150M136.5 1319.4H150M136.5 1189.8H150M136.5 1060.3H150M136.5 930.7H150M136.5 801.1H150M136.5 671.6H150M136.5 542.1H150M136.5 412.5H150M136.5 283H150M136.5 153.4H150M214.4 1625V1638.5M430.3 1625V1638.5M646.2 1625V1638.5M862.1 1625V1638.5M1078 1625V1638.5M1293.9 1625V1638.5M1509.8 1625V1638.5M1725.7 1625V1638.5M1941.6 1625V1638.5M2157.5 1625V1638.5M2373.4 1625V1638.5" stroke="#000" stroke-width="7" stroke-linecap="round" fill="none"/>
<g font-family="'Liberation Sans',sans-serif" font-weight="bold" font-size="56" fill="#000" stroke="#000" stroke-width="0.4" stroke-linejoin="round"><text x="123.6" y="1598.9" text-anchor="end" textLength="84.6" lengthAdjust="spacingAndGlyphs" font-size="57">54N</text><text x="123.6" y="1469.3" text-anchor="end" textLength="84.6" lengthAdjust="spacingAndGlyphs" font-size="57">55N</text><text x="123.6" y="1339.8" text-anchor="end" textLength="84.6" lengthAdjust="spacingAndGlyphs" font-size="57">56N</text><text x="123.6" y="1210.2" text-anchor="end" textLength="84.6" lengthAdjust="spacingAndGlyphs" font-size="57">57N</text><text x="123.6" y="1080.7" text-anchor="end" textLength="84.6" lengthAdjust="spacingAndGlyphs" font-size="57">58N</text><text x="123.6" y="951.1" text-anchor="end" textLength="84.6" lengthAdjust="spacingAndGlyphs" font-size="57">59N</text><text x="123.6" y="821.5" text-anchor="end" textLength="84.6" lengthAdjust="spacingAndGlyphs" font-size="57">60N</text><text x="123.6" y="692" text-anchor="end" textLength="84.6" lengthAdjust="spacingAndGlyphs" font-size="57">61N</text><text x="123.6" y="562.5" text-anchor="end" textLength="84.6" lengthAdjust="spacingAndGlyphs" font-size="57">62N</text><text x="123.6" y="432.9" text-anchor="end" textLength="84.6" lengthAdjust="spacingAndGlyphs" font-size="57">63N</text><text x="123.6" y="303.4" text-anchor="end" textLength="84.6" lengthAdjust="spacingAndGlyphs" font-size="57">64N</text><text x="123.6" y="173.8" text-anchor="end" textLength="84.6" lengthAdjust="spacingAndGlyphs" font-size="57">65N</text><text x="216.4" y="1686" text-anchor="middle" textLength="80.4" lengthAdjust="spacingAndGlyphs">10E</text><text x="432.3" y="1686" text-anchor="middle" textLength="80.4" lengthAdjust="spacingAndGlyphs">12E</text><text x="648.2" y="1686" text-anchor="middle" textLength="80.4" lengthAdjust="spacingAndGlyphs">14E</text><text x="864.1" y="1686" text-anchor="middle" textLength="80.4" lengthAdjust="spacingAndGlyphs">16E</text><text x="1080" y="1686" text-anchor="middle" textLength="80.4" lengthAdjust="spacingAndGlyphs">18E</text><text x="1295.9" y="1686" text-anchor="middle" textLength="80.4" lengthAdjust="spacingAndGlyphs">20E</text><text x="1511.8" y="1686" text-anchor="middle" textLength="80.4" lengthAdjust="spacingAndGlyphs">22E</text><text x="1727.7" y="1686" text-anchor="middle" textLength="80.4" lengthAdjust="spacingAndGlyphs">24E</text><text x="1943.6" y="1686" text-anchor="middle" textLength="80.4" lengthAdjust="spacingAndGlyphs">26E</text><text x="2159.5" y="1686" text-anchor="middle" textLength="80.4" lengthAdjust="spacingAndGlyphs">28E</text><text x="2375.4" y="1686" text-anchor="middle" textLength="80.4" lengthAdjust="spacingAndGlyphs">30E</text></g>
<text x="1992" y="1786" font-family="'Liberation Sans',sans-serif" font-size="47" fill="#000" textLength="50" lengthAdjust="spacingAndGlyphs">/0</text>
<g stroke="#000" stroke-width="4.4" stroke-linejoin="miter" stroke-miterlimit="30">
<path d="M466.5 1713L331.7 1734.1L466.5 1755.2Z" fill="#a000c8"/>
<rect x="466.5" y="1713" width="147.9" height="42.2" fill="#8200dc"/>
<rect x="614.4" y="1713" width="147.9" height="42.2" fill="#1e3cff"/>
<rect x="762.4" y="1713" width="147.9" height="42.2" fill="#00a0ff"/>
<rect x="910.3" y="1713" width="147.9" height="42.2" fill="#00c8c8"/>
<rect x="1058.2" y="1713" width="147.9" height="42.2" fill="#00d28c"/>
<rect x="1206.1" y="1713" width="147.9" height="42.2" fill="#00dc00"/>
<rect x="1354.1" y="1713" width="147.9" height="42.2" fill="#a0e632"/>
<rect x="1502" y="1713" width="147.9" height="42.2" fill="#e6dc32"/>
<rect x="1649.9" y="1713" width="147.9" height="42.2" fill="#e6af2d"/>
<rect x="1797.8" y="1713" width="147.9" height="42.2" fill="#f08228"/>
<rect x="1945.8" y="1713" width="147.9" height="42.2" fill="#fa3c3c"/>
<path d="M2093.7 1713L2229 1734.1L2093.7 1755.2Z" fill="#f00082"/>
</g>
<g font-family="'Liberation Sans',sans-serif" font-size="43.5" fill="#000" stroke="#000" stroke-width="0.8"><text x="466.5" y="1796" text-anchor="middle" textLength="63" lengthAdjust="spacingAndGlyphs">6.5</text><text x="614.4" y="1796" text-anchor="middle" textLength="48.5" lengthAdjust="spacingAndGlyphs">13</text><text x="762.4" y="1796" text-anchor="middle" textLength="87" lengthAdjust="spacingAndGlyphs">19.5</text><text x="910.3" y="1796" text-anchor="middle" textLength="48.5" lengthAdjust="spacingAndGlyphs">26</text><text x="1058.2" y="1796" text-anchor="middle" textLength="87" lengthAdjust="spacingAndGlyphs">32.5</text><text x="1206.1" y="1796" text-anchor="middle" textLength="48.5" lengthAdjust="spacingAndGlyphs">39</text><text x="1354.1" y="1796" text-anchor="middle" textLength="87" lengthAdjust="spacingAndGlyphs">45.5</text><text x="1502" y="1796" text-anchor="middle" textLength="48.5" lengthAdjust="spacingAndGlyphs">52</text><text x="1649.9" y="1796" text-anchor="middle" textLength="87" lengthAdjust="spacingAndGlyphs">58.5</text><text x="1797.8" y="1796" text-anchor="middle" textLength="48.5" lengthAdjust="spacingAndGlyphs">65</text><text x="1945.8" y="1796" text-anchor="middle" textLength="87" lengthAdjust="spacingAndGlyphs">71.5</text><text x="2093.7" y="1796" text-anchor="middle" textLength="48.5" lengthAdjust="spacingAndGlyphs">78</text></g>
<g transform="translate(0 0)"><text x="1215.5" y="1899.5" text-anchor="middle" font-family="'Liberation Serif',serif" font-size="88" fill="#000">(<tspan font-weight="bold" font-size="83" dx="-1.5">a</tspan><tspan dx="-1.5">)</tspan></text></g>
</g>
<g transform="translate(0 2007.4) scale(1 1.00063)">
<g clip-path="url(#cp)">
<use href="#coast"/>
<g fill="none" stroke-width="3.5" stroke-linejoin="miter" stroke-linecap="round" shape-rendering="crispEdges">
<path stroke="#a000c8" d="M1552.4 53.5l-6.7 -5.1m3.6 10.4l-3.6 -10.4l11 0.6M1579.4 53.5l-8.3 1.1m9.8 4.9l-9.8 -4.9l8.3 -7.3M1606.4 53.5l-6.7 -7.2m1.7 10.9l-1.7 -10.9l10.7 2.5M1687.3 53.5l-10.2 0.1m9.2 6.1l-9.2 -6.1l9.1 -6.2M1714.3 53.5l-10.3 -1.8m7.9 7.6l-7.9 -7.6l10.1 -4.5M1768.3 53.5l-6.8 -7.7m1.4 10.9l-1.4 -10.9l10.6 2.8M1795.3 53.5l-3.7 -9.1m-2.2 10.8l2.2 -10.8l9.2 6.1M1795.3 69.6l-2.5 -10.1m-3.8 10.3l3.8 -10.3l8.1 7.4M1849.3 69.6l-5.2 -6.6m0.9 11l-0.9 -11l10.5 3.3M1822.3 85.8l-3.1 -10.2m-3.2 10.5l3.2 -10.5l8.5 6.9M1849.3 85.8l-5.1 -7m0.4 11l-0.4 -11l10.4 3.7M1471.4 102l-2.9 -9.6m-3.3 10.5l3.3 -10.5l8.5 7M1822.3 102l-4.7 -9.1m-1.3 10.9l1.3 -10.9l9.6 5.3M1849.3 102l-6 3.3m11 1l-11 -1l5 -9.8M1471.4 118.2l-3.8 -8.9m-2.1 10.8l2.1 -10.8l9.2 6M1822.3 118.2l6.1 3.3m-5.1 -9.8l5.1 9.8l-10.9 1.1M1849.3 118.2l-6.2 3.9m11 0.4l-11 -0.4l4.5 -10M1822.3 134.4l7.3 -0.5m-9.5 -5.5l9.5 5.5l-8.7 6.8M1849.3 134.4l-1.5 8.3m7.7 -7.9l-7.7 7.9l-4.4 -10.1M1795.3 150.6l8.8 -4.6m-10.9 -1.2l10.9 1.2l-5.2 9.7M1822.3 150.6l7.1 0.5m-8.6 -6.8l8.6 6.8l-9.6 5.4M1849.3 150.6l0.1 8.8m6 -9.2l-6 9.2l-6.3 -9M1849.3 166.8l-1.3 8.1m7.5 -8.1l-7.5 8.1l-4.7 -10M1417.4 247.7l2.9 10.2m3.4 -10.5l-3.4 10.5l-8.4 -7M1444.4 247.7l8.5 6.6m-3.4 -10.4l3.4 10.4l-11 -0.7M1444.4 263.9l1.4 10m4.8 -9.9l-4.8 9.9l-7.4 -8.2M1471.4 263.9l10.6 1.3m-8.3 -7.2l8.3 7.2l-9.8 5M1390.4 280.1l4.9 6.6m-0.4 -11l0.4 11l-10.4 -3.7M1417.4 280.1l0 9.5m6.2 -9.1l-6.2 9.1l-6.2 -9.1M1444.4 280.1l2.9 9.5m3.2 -10.5l-3.2 10.5l-8.6 -6.9M1471.4 280.1l9.9 1.5m-8.1 -7.4l8.1 7.4l-9.9 4.8M1390.4 296.3l4.4 7.1m0.4 -11l-0.4 11l-10 -4.5M1417.4 296.3l-2.9 10.1m8.5 -7l-8.5 7l-3.4 -10.5M1444.4 296.3l0.3 10.1m5.9 -9.3l-5.9 9.3l-6.4 -8.9M1228.5 361.1l8 1.6m-7.7 -7.8l7.7 7.8l-10.2 4.2M1255.5 361.1l8 1.5m-7.9 -7.7l7.9 7.7l-10.1 4.4M1282.5 361.1l8.7 -0.7m-9.6 -5.4l9.6 5.4l-8.6 6.8M1309.5 361.1l0.4 -9.3m-6.5 8.9l6.5 -8.9l5.8 9.4M1336.5 361.1l-1 8.9m7.1 -8.4l-7.1 8.4l-5.1 -9.7M1174.5 377.3l-0.1 -10m-6 9.2l6 -9.2l6.3 9M1201.5 377.3l3 -8.5m-8.8 6.5l8.8 -6.5l2.7 10.7M1228.5 377.3l-0.1 9.7m6.2 -9.1l-6.2 9.1l-6.1 -9.2M1309.5 377.3l-0.8 -8.8m-5.3 9.6l5.3 -9.6l6.9 8.5M1336.5 377.3l-3.5 9.3m8.9 -6.4l-8.9 6.4l-2.6 -10.7M1363.4 377.3l-6.5 3.5m10.9 1.1l-10.9 -1.1l5.2 -9.7M1471.4 377.3l-8.8 -0.6m8.7 6.8l-8.7 -6.8l9.5 -5.5M1147.5 393.5l7.7 -4.7m-11 -0.5l11 0.5l-4.6 10M1174.5 393.5l-0.5 -10.3m-5.7 9.4l5.7 -9.4l6.6 8.8M1363.4 393.5l-5.5 5.5m10.8 -2.1l-10.8 2.1l2.1 -10.8M1417.4 393.5l8.7 -4.6m-10.9 -1.1l10.9 1.1l-5.1 9.7M1363.4 409.6l8.5 5.9m-4 -10.2l4 10.2l-11 -0.1M1120.5 425.8l-10.3 -0.8m8.6 6.8l-8.6 -6.8l9.6 -5.4M1093.5 442l9.3 0.6m-8.7 -6.7l8.7 6.7l-9.5 5.6M1390.4 442l10.3 -0.1m-9.2 -6.1l9.2 6.1l-9.1 6.2M1390.4 458.2l10.3 -0.6m-9.5 -5.6l9.5 5.6l-8.7 6.7M1066.6 474.4l-1.4 9m7.5 -8.1l-7.5 8.1l-4.7 -9.9M1039.6 490.6l-0.2 10.7m6.3 -9l-6.3 9l-6 -9.2M1417.4 490.6l0.4 -8.7m-6.5 8.9l6.5 -8.9l5.8 9.4M1417.4 506.8l-1 -9m-5.1 9.7l5.1 -9.7l7.1 8.4M1417.4 523l-0.5 -9.7m-5.7 9.4l5.7 -9.4l6.6 8.8M1012.6 555.4l-6.8 -1.3m7.8 7.7l-7.8 -7.7l10.1 -4.4M1444.4 555.4l-4.2 -5.1m1.1 10.9l-1.1 -10.9l10.6 3M1012.6 571.5l-6.6 -1.1m8 7.6l-8 -7.6l10 -4.6M1444.4 571.5l-3.3 -6.7m-1.5 10.9l1.5 -10.9l9.5 5.5M1012.6 587.7l6.6 2.6m-6.2 -9.1l6.2 9.1l-10.7 2.3M1444.4 587.7l-3 -8.1m-2.6 10.7l2.6 -10.7l8.9 6.4M985.6 603.9l-6.8 0.5m9.6 5.4l-9.6 -5.4l8.6 -6.8M1012.6 603.9l6.9 0.3m-8.8 -6.6l8.8 6.6l-9.4 5.7M985.6 620.1l-6.6 0.9m9.8 4.9l-9.8 -4.9l8.2 -7.3M1012.6 620.1l8.1 0.8m-8.5 -7l8.5 7l-9.6 5.3M1012.6 636.3l-6.3 4.6m11 -0.4l-11 0.4l3.8 -10.3M1012.6 652.5l-6.3 1.1m10.1 4.4l-10.1 -4.4l7.9 -7.7M1012.6 668.7l-6.5 3m10.9 1.7l-10.9 -1.7l5.7 -9.4M1012.6 684.9l-6.2 2.6m10.8 2.1l-10.8 -2.1l6 -9.2M1444.4 684.9l-5.5 -8.1m0.1 11l-0.1 -11l10.2 4.1M1012.6 701.1l-6.4 2.6m10.8 2.2l-10.8 -2.2l6.1 -9.1M1444.4 701.1l-6.1 -4.3m3.8 10.3l-3.8 -10.3l11 0.3M1444.4 717.3l-6.9 -6.7m2.2 10.8l-2.2 -10.8l10.8 2M2038.2 733.4l-8.2 1.1m9.9 4.9l-9.9 -4.9l8.2 -7.3M2065.2 733.4l8.7 0.1m-9.1 -6.2l9.1 6.2l-9.2 6.1M2092.2 733.4l0.5 -8.7m-6.6 8.8l6.6 -8.8l5.6 9.4M2146.2 733.4l7.4 4.7m-4.5 -10.1l4.5 10.1l-11 0.4M2173.1 733.4l6.1 6.7m-1.6 -10.9l1.6 10.9l-10.7 -2.6M2200.1 733.4l-1.9 -10.1m-4.4 10.1l4.4 -10.1l7.7 7.9M1525.4 749.6l8.3 1.4m-8 -7.6l8 7.6l-10 4.6M1984.2 749.6l0.2 -9.6m-6.4 9l6.4 -9l5.9 9.3M2011.2 749.6l-8 0.5m9.5 5.6l-9.5 -5.6l8.7 -6.7M2038.2 749.6l-7.7 3.6m10.9 1.8l-10.9 -1.8l5.7 -9.4M2065.2 749.6l0 -8.4m-6.2 9.1l6.2 -9.1l6.1 9.1M2092.2 749.6l0.7 -9.3m-6.8 8.6l6.8 -8.6l5.5 9.5M2119.2 749.6l8.2 -2.7m-10.6 -3l10.6 3l-6.7 8.7M2146.2 749.6l8.5 -1.9m-10.2 -4l10.2 4l-7.5 8M2173.1 749.6l8.3 4.1m-5.5 -9.5l5.5 9.5l-10.9 1.5M1147.5 765.8l1.3 -7m-7.7 7.9l7.7 -7.9l4.4 10.1M1471.4 765.8l8.7 6.2m-3.9 -10.3l3.9 10.3l-11 -0.2M1903.2 765.8l-7.1 -0.8m8.4 7.1l-8.4 -7.1l9.8 -5.1M1930.2 765.8l-6.7 -5m3.6 10.4l-3.6 -10.4l11 0.5M1984.2 765.8l7.8 -6.5m-10.9 1.2l10.9 -1.2l-3 10.6M2011.2 765.8l8.4 1.7m-7.7 -7.9l7.7 7.9l-10.2 4.2M2038.2 765.8l8.1 3.1m-6.3 -9l6.3 9l-10.7 2.5M2065.2 765.8l-4 -7.7m-1.2 10.9l1.2 -10.9l9.7 5.2M2173.1 765.8l10.3 1m-8.5 -7l8.5 7l-9.7 5.2M2200.1 765.8l7.4 4.2m-4.9 -9.9l4.9 9.9l-11 0.8M2254.1 765.8l-5.8 -7.5m0.7 11l-0.7 -11l10.4 3.5M1147.5 782l-0.5 -7.3m-5.5 9.5l5.5 -9.5l6.7 8.7M1174.5 782l-2.6 9.7m8.3 -7.2l-8.3 7.2l-3.5 -10.4M1255.5 782l-1.5 8.2m7.7 -7.9l-7.7 7.9l-4.4 -10.1M1282.5 782l-8.1 2.1m10.4 3.7l-10.4 -3.7l7.3 -8.2M1309.5 782l-8.2 2.4m10.5 3.4l-10.5 -3.4l7 -8.5M1498.4 782l1 -8.9m-7.1 8.4l7.1 -8.4l5.1 9.7M1525.4 782l-0.5 -8.4m-5.6 9.4l5.6 -9.4l6.6 8.8M1552.4 782l-0.8 -6.9m-5 9.8l5 -9.8l7.2 8.3M1822.3 782l10.2 2m-7.7 -7.8l7.7 7.8l-10.1 4.2M1849.3 782l9.2 0.2m-9 -6.3l9 6.3l-9.2 6M1876.2 782l8.3 3.1m-6.4 -8.9l6.4 8.9l-10.7 2.6M1903.2 782l-1.3 -6.8m-4.3 10.1l4.3 -10.1l7.8 7.8M1930.2 782l-6.9 -5.6m3.2 10.5l-3.2 -10.5l11 1M1957.2 782l1.5 -9.6m-7.5 8l7.5 -8l4.6 10M2281.1 782l10.4 -0.3m-9.3 -5.9l9.3 5.9l-9 6.4M2335.1 782l10.6 1.7m-8 -7.5l8 7.5l-10 4.6M2362.1 782l8.9 1.3m-8.2 -7.4l8.2 7.4l-9.9 4.8M1282.5 798.2l-9.3 0m9.1 6.1l-9.1 -6.1l9.1 -6.2M1309.5 798.2l-6.4 6.7m10.7 -2.4l-10.7 2.4l1.8 -10.8M1552.4 798.2l-0.8 4.9m7.6 -7.9l-7.6 7.9l-4.5 -10M1579.4 798.2l6.9 -1.3m-10.1 -4.3l10.1 4.3l-7.8 7.8M1606.4 798.2l8.1 0.9m-8.4 -7.1l8.4 7.1l-9.7 5.1M1741.3 798.2l6.4 -2.4m-10.7 -2.5l10.7 2.5l-6.4 9M1822.3 798.2l8.1 0.8m-8.5 -7l8.5 7l-9.7 5.3M1876.2 798.2l10 -1.4m-9.9 -4.9l9.9 4.9l-8.2 7.3M2146.2 798.2l-3.8 8.8m9.3 -5.9l-9.3 5.9l-2 -10.8M2173.1 798.2l-4.3 -6.2m0.1 11l-0.1 -11l10.2 4.1M2200.1 798.2l-1.7 -6.9m-3.8 10.3l3.8 -10.3l8.1 7.4M2308.1 798.2l9.3 -0.2m-9.2 -6l9.2 6l-9 6.3M2335.1 798.2l0.1 6.7m6 -9.2l-6 9.2l-6.3 -9M1309.5 814.4l-1.8 8.6m7.9 -7.6l-7.9 7.6l-4.1 -10.2M1552.4 814.4l6.6 0.3m-8.9 -6.5l8.9 6.5l-9.4 5.8M1579.4 814.4l5.6 -3.8m-11 0.1l11 -0.1l-4 10.2M1660.3 814.4l7.2 4.4m-4.6 -10l4.6 10l-11 0.5M2146.2 814.4l-5.3 -0.1m9 6.3l-9 -6.3l9.2 -6M2173.1 814.4l8.8 -0.5m-9.5 -5.6l9.5 5.6l-8.8 6.7M2200.1 814.4l9.5 -2.2m-10.3 -3.9l10.3 3.9l-7.5 8.1M2254.1 814.4l8.4 -5.7m-11 0l11 0l-4.1 10.2M2389.1 814.4l7.9 -1.6m-10.2 -4.2l10.2 4.2l-7.7 7.8M1336.5 830.6l-9.4 -1.7m7.9 7.7l-7.9 -7.7l10.1 -4.4M2119.2 830.6l6.9 5.7m-3.2 -10.5l3.2 10.5l-11 -1M2146.2 830.6l-6.8 1.2m10 4.5l-10 -4.5l7.9 -7.6M2173.1 830.6l9.2 -0.5m-9.4 -5.6l9.4 5.6l-8.8 6.6M2200.1 830.6l2.4 -7m-8.8 6.7l8.8 -6.7l2.9 10.6M1822.3 846.8l-0.5 -7.9m-5.6 9.5l5.6 -9.5l6.7 8.7M1903.2 846.8l2.8 -6.2m-9.4 5.7l9.4 -5.7l1.8 10.9M1930.2 846.8l0.9 -8.4m-7.1 8.4l7.1 -8.4l5.1 9.7M1957.2 846.8l0.3 -9m-6.4 8.9l6.4 -8.9l5.9 9.3M1984.2 846.8l3.9 -5.5m-10.3 3.9l10.3 -3.9l-0.2 11M2011.2 846.8l4.7 -5.6m-10.6 3.1l10.6 -3.1l-1.1 10.9M2038.2 846.8l5.7 -4.4m-11 0.8l11 -0.8l-3.4 10.5M2065.2 846.8l6.8 -5.9m-10.9 1.3l10.9 -1.3l-2.8 10.6M2092.2 846.8l7.6 -2.1m-10.4 -3.6l10.4 3.6l-7.2 8.3M2119.2 846.8l7.2 1.9m-7.2 -8.3l7.2 8.3l-10.4 3.6M2146.2 846.8l6.1 -3.8m-11 -0.4l11 0.4l-4.5 10M1174.5 863l6.4 -2.6m-10.8 -2.3l10.8 2.3l-6.1 9.1M1768.3 863l-2.3 8m8.5 -7l-8.5 7l-3.3 -10.5M1795.3 863l-2.9 7.8m9 -6.4l-9 6.4l-2.5 -10.7M1822.3 863l-0.5 -6.9m-5.5 9.5l5.5 -9.5l6.7 8.7M1876.2 863l9.1 0.4m-8.8 -6.6l8.8 6.6l-9.4 5.7M2038.2 863l1.4 -7.1m-7.8 7.8l7.8 -7.8l4.3 10.1M2065.2 863l2.6 -6.6m-9 6.3l9 -6.3l2.4 10.7M2092.2 863l6.4 -2.6m-10.8 -2.2l10.8 2.2l-6.1 9.2M2119.2 863l7.3 1.7m-7.5 -8.1l7.5 8.1l-10.3 3.9M2146.2 863l6.5 2.4m-6.5 -8.9l6.5 8.9l-10.7 2.6M1201.5 895.3l-8.3 2.4m10.5 3.4l-10.5 -3.4l7 -8.4M1228.5 895.3l7.3 1.1m-8.1 -7.4l8.1 7.4l-9.9 4.7M1255.5 895.3l0.5 7.4m5.5 -9.5l-5.5 9.5l-6.8 -8.6M1282.5 895.3l-3.1 8.6m8.9 -6.5l-8.9 6.5l-2.6 -10.7M1039.6 943.9l-2 -6.2m-3 10.6l3 -10.6l8.7 6.8M1012.6 960.1l-0.8 -8.4m-5.2 9.7l5.2 -9.7l7 8.5M1039.6 960.1l-4.3 -5.1m1.2 10.9l-1.2 -10.9l10.6 3M1039.6 976.3l-2.8 7m9.1 -6.2l-9.1 6.2l-2.3 -10.8M1066.6 976.3l-2.3 6.6m8.8 -6.6l-8.8 6.6l-2.8 -10.6M1255.5 976.3l-9.7 0.4m9.4 5.8l-9.4 -5.8l8.9 -6.5M1336.5 976.3l-9.9 -3.3m6.7 8.7l-6.7 -8.7l10.6 -2.9M985.6 992.5l10.4 2.3m-7.6 -8l7.6 8l-10.2 4M1066.6 992.5l-3.4 9.1m8.9 -6.4l-8.9 6.4l-2.6 -10.7M1255.5 992.5l7.3 4.8m-4.2 -10.2l4.2 10.2l-11 0.1M1282.5 992.5l-8.8 3.2m10.7 2.6l-10.7 -2.6l6.5 -8.9M1309.5 992.5l-2.3 -8.9m-3.6 10.4l3.6 -10.4l8.3 7.3M1336.5 992.5l-6 -3.3m5 9.8l-5 -9.8l11 -1M985.6 1008.7l9.2 -1.6m-10 -4.5l10 4.5l-8 7.6M1282.5 1008.7l-6.9 6m10.9 -1.3l-10.9 1.3l2.9 -10.6M1309.5 1008.7l0.3 -8.3m-6.5 8.9l6.5 -8.9l5.8 9.3M1336.5 1008.7l-5.4 -4.5m3.1 10.6l-3.1 -10.6l10.9 1.1M1282.5 1024.9l9.9 2.5m-7.3 -8.2l7.3 8.2l-10.4 3.7M1336.5 1024.9l7.9 2.3m-7 -8.5l7 8.5l-10.5 3.3M1363.4 1024.9l-0.1 8.5m6.3 -9.1l-6.3 9.1l-6.1 -9.2M1309.5 1041l9.6 -0.3m-9.3 -5.9l9.3 5.9l-8.9 6.4M1336.5 1041l8.6 1.9m-7.6 -8l7.6 8l-10.2 4M1363.4 1041l-2.7 8.1m8.7 -6.7l-8.7 6.7l-2.9 -10.6M1309.5 1057.2l9.9 0m-9.1 -6.1l9.1 6.1l-9.1 6.2M1336.5 1057.2l8.3 0.8m-8.5 -7l8.5 7l-9.7 5.3M1363.4 1057.2l-6.5 0.7m9.7 5.1l-9.7 -5.1l8.4 -7.1M1336.5 1073.4l9.8 -1.6m-10 -4.6l10 4.6l-8 7.5M931.6 1089.6l-8.1 -1.7m7.7 7.8l-7.7 -7.8l10.2 -4.2M1336.5 1089.6l10.4 1.9m-7.8 -7.7l7.8 7.7l-10.1 4.4M1336.5 1105.8l10.5 0.7m-8.7 -6.8l8.7 6.8l-9.5 5.5M418.8 1122l-1.8 -9.7m-4.4 10.1l4.4 -10.1l7.7 7.8M1093.5 1138.2l9.2 -3.5m-10.7 -2.5l10.7 2.5l-6.4 9M283.8 1154.4l9.3 5m-5.1 -9.7l5.1 9.7l-10.9 1.1M337.8 1154.4l3.9 -9.5m-9.1 6.1l9.1 -6.1l2.3 10.8M418.8 1154.4l8.6 -6.2m-11 0.3l11 -0.3l-3.9 10.3M445.8 1170.6l0.7 -10.1m-6.8 8.7l6.8 -8.7l5.5 9.5M931.6 1186.8l-3.5 7.8m9.4 -5.8l-9.4 5.8l-1.9 -10.8M958.6 1203l9 4.8m-5.2 -9.7l5.2 9.7l-10.9 1.2M256.9 1235.3l-1 -9.3m-5.1 9.7l5.1 -9.7l7.1 8.4M256.9 1283.9l-0.9 -10.7m-5.4 9.6l5.4 -9.6l6.9 8.6M256.9 1300.1l-2.9 -10.3m-3.5 10.4l3.5 -10.4l8.4 7.1M418.8 1332.5l-9.2 -4.1m5.8 9.3l-5.8 -9.3l10.8 -1.9M499.8 1348.7l-9.7 1.7m10.1 4.4l-10.1 -4.4l7.9 -7.7M526.8 1348.7l9.5 4.7m-5.4 -9.6l5.4 9.6l-10.9 1.5M796.7 1348.7l-1.4 -8.8m-4.6 10l4.6 -10l7.5 8M823.6 1348.7l10.2 0m-9.1 -6.2l9.1 6.2l-9.1 6.1M202.9 1364.8l3 -8.7m-8.8 6.6l8.8 -6.6l2.9 10.6M229.9 1364.8l7.8 -5.1m-11 -0.2l11 0.2l-4.3 10.1M256.9 1364.8l3.7 -7.7m-9.5 5.6l9.5 -5.6l1.6 10.9M472.8 1364.8l8.6 0.7m-8.6 -6.9l8.6 6.9l-9.6 5.4M472.8 1381l9.5 -3.5m-10.7 -2.6l10.7 2.6l-6.4 8.9M175.9 1397.2l1.7 10.5m4.6 -10l-4.6 10l-7.5 -8M472.8 1397.2l2.1 -9m-8.1 7.5l8.1 -7.5l3.9 10.3M553.7 1526.8l-8.2 0.2m9.3 5.9l-9.3 -5.9l8.9 -6.4M607.7 1542.9l-0.1 10.5m6.2 -9.1l-6.2 9.1l-6.1 -9.2M634.7 1559.1l1.7 -8.6m-7.8 7.8l7.8 -7.8l4.3 10.1M634.7 1575.3l-2 -8.3m-3.8 10.3l3.8 -10.3l8.1 7.4M661.7 1607.7l-9 -1.2m8.2 7.3l-8.2 -7.3l9.8 -4.9M688.7 1607.7l-8.9 -1.7m7.8 7.8l-7.8 -7.8l10.1 -4.3M176.5 1426.5l15 2.7m-7.9 -7.7l7.9 7.7l-10.1 4.4M229.4 1430.4l-12.3 -4.1m6.7 8.7l-6.7 -8.7l10.6 -3M255.8 1443.7l-12.3 -1.4m8.4 7.1l-8.4 -7.1l9.7 -5.1M263.8 1463.5l-8.2 4.1m10.9 1.4l-10.9 -1.4l5.4 -9.6M277 1445l10.9 4.1m-6.4 -9l6.4 9l-10.7 2.6M204.2 1463.5l9.5 9.5m-2.1 -10.8l2.1 10.8l-10.8 -2.1M282.3 1463.5l6.8 12.3m0.9 -11l-0.9 11l-9.8 -5M229.4 1495.2l16.3 6.8m-6.1 -9.2l6.1 9.2l-10.8 2.2M229.4 1512.4l16.3 2.7m-8 -7.6l8 7.6l-10 4.6M340.5 1542.9l1.4 -13.6m-7 8.5l7 -8.5l5.2 9.7M303.4 1573.3l12.3 2.7m-7.6 -8l7.6 8l-10.2 4M366.9 1433.1l-2.7 -9.5m-3.4 10.5l3.4 -10.5l8.4 7.1M366.9 1450.3l-1.4 -9.5m-4.8 9.9l4.8 -9.9l7.4 8.2M365.6 1468.8l0 -8.2m-6.2 9.1l6.2 -9.1l6.2 9.1M397.4 1437l-12.3 -2.7m7.6 8l-7.6 -8l10.2 -4M491.3 1523l10.9 6.8m-4.5 -10l4.5 10l-11 0.4M474.1 1550.8l0 -8.2m-6.2 9.1l6.2 -9.1l6.2 9.1M445 1431.7l5.4 -4.1m-11 0.6l11 -0.6l-3.6 10.4M470.1 1429.1l10.9 1.4m-8.3 -7.2l8.3 7.2l-9.8 5"/>
<path stroke="#8200dc" d="M1633.3 53.5l-9.4 -7.2m3.5 10.4l-3.5 -10.4l11 0.6M1660.3 53.5l-9.4 -7m3.7 10.4l-3.7 -10.4l11 0.5M1741.3 53.5l-10.2 -4.2m6.1 9.2l-6.1 -9.2l10.8 -2.2M1606.4 69.6l-7.7 -8.8m1.4 10.9l-1.4 -10.9l10.6 2.8M1633.3 69.6l-11.9 -9.4m3.3 10.5l-3.3 -10.5l11 0.8M1687.3 69.6l-14.7 -14.9m2 10.8l-2 -10.8l10.8 2.2M1714.3 69.6l-10.5 -13m1 11l-1 -11l10.5 3.2M1741.3 69.6l-11 -6.6m4.7 10l-4.7 -10l11 -0.6M1768.3 69.6l-5.9 -9.2m-0.3 11l0.3 -11l10.1 4.4M1822.3 69.6l-4.7 -9.6m-1.5 10.9l1.5 -10.9l9.5 5.5M1498.4 85.8l-1.2 -13m-5.3 9.7l5.3 -9.7l7 8.5M1525.4 85.8l-3.1 -15.1m-4.2 10.2l4.2 -10.2l7.9 7.7M1741.3 85.8l-9.8 -12.8m0.6 11l-0.6 -11l10.4 3.5M1768.3 85.8l-5.6 -15.4m-2.7 10.7l2.7 -10.7l8.9 6.5M1795.3 85.8l-4.4 -11m-2.3 10.7l2.3 -10.7l9.1 6.2M1498.4 102l0.5 -14.3m-6.5 8.9l6.5 -8.9l5.8 9.3M1795.3 102l-0.8 -16.8m-5.7 9.4l5.7 -9.4l6.6 8.8M1795.3 118.2l4.8 -17m-8.4 7.1l8.4 -7.1l3.4 10.5M1471.4 134.4l-2.4 -18.5m-4.9 9.8l4.9 -9.8l7.3 8.2M1795.3 134.4l11.4 -3.8m-10.6 -2.9l10.6 2.9l-6.7 8.7M1714.3 166.8l9.7 -17.1m-9.8 4.9l9.8 -4.9l0.9 11M1741.3 166.8l6.3 -15.3m-9.1 6.1l9.1 -6.1l2.2 10.8M1768.3 166.8l5.6 -17.4m-8.6 6.8l8.6 -6.8l3.1 10.6M1444.4 183l4.5 -17.9m-8.2 7.3l8.2 -7.3l3.7 10.3M1714.3 183l9.3 -13.8m-10.2 4.1l10.2 -4.1l0 11M1741.3 183l7.4 -16.7m-9.3 5.8l9.3 -5.8l1.9 10.8M1768.3 183l4.3 -12.9m-8.7 6.7l8.7 -6.7l3 10.6M1444.4 199.2l2.7 -18m-7.4 8.1l7.4 -8.1l4.7 9.9M1714.3 199.2l7 -15.5m-9.4 5.8l9.4 -5.8l1.8 10.8M1741.3 199.2l7.2 -13.4m-9.7 5.1l9.7 -5.1l1.1 10.9M1714.3 215.4l6.5 -11.5m-9.8 4.9l9.8 -4.9l0.9 11M1471.4 231.6l14 -8.7m-11 -0.4l11 0.4l-4.5 10M1714.3 231.6l7 -12.4m-9.8 4.9l9.8 -4.9l0.9 11M1471.4 247.7l12.5 -7m-11 -0.9l11 0.9l-5 9.8M1498.4 247.7l14.2 -7.3m-10.9 -1.3l10.9 1.3l-5.3 9.6M1687.3 247.7l15.6 -13.2m-10.9 1.2l10.9 -1.2l-3 10.6M1417.4 263.9l0.9 11m5.4 -9.6l-5.4 9.6l-6.9 -8.6M1498.4 263.9l11.3 -3.1m-10.4 -3.5l10.4 3.5l-7.2 8.3M1525.4 263.9l11.8 -9.6m-11 1l11 -1l-3.2 10.5M1498.4 280.1l11.4 -4m-10.6 -2.8l10.6 2.8l-6.6 8.8M1525.4 280.1l10.3 -9.9m-10.8 1.9l10.8 -1.9l-2.3 10.8M1471.4 296.3l15.3 -1.7m-9.7 -5.1l9.7 5.1l-8.4 7.1M1498.4 296.3l13 -8.6m-11 -0.1l11 0.1l-4.2 10.2M1525.4 296.3l10.7 -12.6m-10.6 3l10.6 -3l-1.2 10.9M1417.4 312.5l-2.9 10.6m8.4 -7.1l-8.4 7.1l-3.5 -10.4M1498.4 312.5l11 -10.3m-10.9 1.8l10.9 -1.8l-2.4 10.7M1525.4 312.5l11.6 -14.1m-10.5 3.1l10.5 -3.1l-1 11M1525.4 328.7l16.6 -13m-11 0.8l11 -0.8l-3.4 10.5M1552.4 328.7l14.9 -14.7m-10.8 2l10.8 -2l-2.2 10.8M1525.4 344.9l18 1.6m-8.5 -6.9l8.5 6.9l-9.6 5.3M1498.4 361.1l13.6 -3.1m-10.3 -4l10.3 4l-7.5 8M1525.4 361.1l11.2 8.5m-3.5 -10.4l3.5 10.4l-11 -0.6M1255.5 377.3l-2.5 11.1m8 -7.5l-8 7.5l-4 -10.3M1282.5 377.3l-4.9 13.7m8.9 -6.5l-8.9 6.5l-2.7 -10.7M1390.4 377.3l12.7 -12.2m-10.8 1.9l10.8 -1.9l-2.3 10.8M1417.4 377.3l18.3 -5.6m-10.5 -3.2l10.5 3.2l-6.9 8.5M1444.4 377.3l15.9 1.1m-8.7 -6.8l8.7 6.8l-9.5 5.5M1201.5 393.5l-1 11.3m6.9 -8.5l-6.9 8.5l-5.3 -9.6M1282.5 393.5l-6.3 16.3m9 -6.3l-9 6.3l-2.5 -10.7M1309.5 393.5l-7.1 15m9.5 -5.6l-9.5 5.6l-1.7 -10.9M1336.5 393.5l-6.2 13.2m9.5 -5.6l-9.5 5.6l-1.7 -10.9M1390.4 393.5l8 -11.7m-10.2 4l10.2 -4l-0.1 11M1120.5 409.6l-10.4 -4.1m6.2 9.1l-6.2 -9.1l10.7 -2.4M1147.5 409.6l11.3 2.6m-7.5 -8.1l7.5 8.1l-10.3 3.9M1174.5 409.6l-2.1 20m7.1 -8.4l-7.1 8.4l-5.2 -9.7M1201.5 409.6l-1.2 14.2m6.9 -8.6l-6.9 8.6l-5.4 -9.6M1282.5 409.6l-7.7 14.4m9.7 -5.1l-9.7 5.1l-1.1 -10.9M1309.5 409.6l-5.1 13.6m9 -6.4l-9 6.4l-2.6 -10.7M1336.5 409.6l-6.5 11.4m9.8 -4.9l-9.8 4.9l-0.9 -11M1417.4 409.6l11.8 -5.1m-10.8 -2l10.8 2l-5.9 9.3M1147.5 425.8l-0.7 13.5m6.6 -8.8l-6.6 8.8l-5.7 -9.4M1255.5 425.8l-3.7 17m7.9 -7.6l-7.9 7.6l-4.1 -10.2M1282.5 425.8l-3.9 13.2m8.5 -7l-8.5 7l-3.3 -10.5M1309.5 425.8l-2.9 15.6m7.7 -7.8l-7.7 7.8l-4.4 -10.1M1336.5 425.8l-2.4 14.9m7.5 -8l-7.5 8l-4.6 -10M1363.4 425.8l9.7 5.6m-4.8 -9.9l4.8 9.9l-11 0.7M1390.4 425.8l15.8 -6.8m-10.8 -2.1l10.8 2.1l-6 9.2M1417.4 425.8l13.3 -4.4m-10.6 -2.9l10.6 2.9l-6.7 8.7M1120.5 442l-1.1 17m6.7 -8.7l-6.7 8.7l-5.6 -9.5M1255.5 442l-3.9 18m7.9 -7.6l-7.9 7.6l-4.1 -10.2M1282.5 442l-2.4 13.4m7.7 -7.9l-7.7 7.9l-4.5 -10.1M1309.5 442l-3.4 17.7m7.8 -7.8l-7.8 7.8l-4.3 -10.1M1336.5 442l-1.5 15.6m7 -8.5l-7 8.5l-5.3 -9.6M1363.4 442l10 7.9m-3.4 -10.5l3.4 10.5l-11 -0.8M1093.5 458.2l-2.1 12.7m7.6 -8l-7.6 8l-4.6 -10M1120.5 458.2l-1.4 16.5m6.9 -8.6l-6.9 8.6l-5.4 -9.6M1255.5 458.2l-3.7 16.4m8 -7.5l-8 7.5l-4 -10.3M1282.5 458.2l-3.8 14m8.3 -7.2l-8.3 7.2l-3.5 -10.4M1309.5 458.2l-2 18.7m7.1 -8.4l-7.1 8.4l-5.1 -9.7M1336.5 458.2l-1.2 16.2m6.8 -8.7l-6.8 8.7l-5.5 -9.5M1363.4 458.2l8.6 8.2m-2.4 -10.7l2.4 10.7l-10.8 -1.8M1093.5 474.4l-1.1 16.8m6.7 -8.7l-6.7 8.7l-5.5 -9.5M1255.5 474.4l-4.3 19.7m8 -7.6l-8 7.6l-4 -10.2M1282.5 474.4l-3.4 17.4m7.8 -7.8l-7.8 7.8l-4.3 -10.1M1363.4 474.4l-0.9 20.6m6.6 -8.8l-6.6 8.8l-5.7 -9.4M1390.4 474.4l3.6 13.1m3.5 -10.4l-3.5 10.4l-8.3 -7.2M1066.6 490.6l-1.7 15.7m7.1 -8.4l-7.1 8.4l-5.1 -9.7M1390.4 490.6l0.1 14.9m6.1 -9.2l-6.1 9.2l-6.2 -9.1M1039.6 506.8l-0.9 11.4m6.9 -8.6l-6.9 8.6l-5.4 -9.6M1066.6 506.8l-0.2 15.4m6.3 -9l-6.3 9l-6 -9.2M1390.4 506.8l-0.6 14.2m6.5 -8.9l-6.5 8.9l-5.8 -9.4M1039.6 523l-1.3 12.5m7.1 -8.4l-7.1 8.4l-5.1 -9.7M1066.6 523l0.5 17.1m5.9 -9.3l-5.9 9.3l-6.4 -8.9M1390.4 523l-1.3 18.5m6.8 -8.7l-6.8 8.7l-5.5 -9.5M1039.6 539.2l-2.3 13.9m7.6 -8l-7.6 8l-4.6 -10M1066.6 539.2l-1.9 17.3m7.1 -8.4l-7.1 8.4l-5.1 -9.7M1390.4 539.2l-1 18.7m6.6 -8.8l-6.6 8.8l-5.7 -9.4M1417.4 539.2l-0.4 11.1m6.5 -8.9l-6.5 8.9l-5.8 -9.3M1039.6 555.4l-1.1 12.7m6.9 -8.6l-6.9 8.6l-5.4 -9.6M1066.6 555.4l-1.2 16.6m6.8 -8.6l-6.8 8.6l-5.5 -9.5M1390.4 555.4l0 18.3m6.1 -9.1l-6.1 9.1l-6.2 -9.1M1417.4 555.4l0.3 11.1m5.9 -9.3l-5.9 9.3l-6.4 -9M1039.6 571.5l-2.7 12.7m7.9 -7.7l-7.9 7.7l-4.1 -10.2M1066.6 571.5l0.7 17.1m5.8 -9.4l-5.8 9.4l-6.5 -8.9M1390.4 571.5l-2.1 18.8m7.1 -8.4l-7.1 8.4l-5.1 -9.7M1417.4 571.5l-0.9 11.9m6.8 -8.6l-6.8 8.6l-5.4 -9.6M1039.6 587.7l1.6 11.5m4.9 -9.9l-4.9 9.9l-7.3 -8.2M1066.6 587.7l-0.3 15.5m6.3 -9l-6.3 9l-6 -9.2M1093.5 587.7l-2.7 21.2m7.2 -8.3l-7.2 8.3l-5 -9.8M1120.5 587.7l0.1 18.9m6.1 -9.2l-6.1 9.2l-6.2 -9.1M1147.5 587.7l-0.4 13.6m6.4 -8.9l-6.4 8.9l-5.9 -9.3M1174.5 587.7l0.4 14.5m5.9 -9.3l-5.9 9.3l-6.4 -8.9M1417.4 587.7l3.1 13.5m3.9 -10.3l-3.9 10.3l-8 -7.5M1039.6 603.9l0.2 12.8m6 -9.2l-6 9.2l-6.3 -9M1066.6 603.9l0.6 15m5.8 -9.3l-5.8 9.3l-6.5 -8.9M1093.5 603.9l-2.7 20.9m7.3 -8.3l-7.3 8.3l-4.9 -9.8M1147.5 603.9l-1.8 14.3m7.2 -8.3l-7.2 8.3l-5 -9.8M1174.5 603.9l-2 14.1m7.4 -8.2l-7.4 8.2l-4.8 -9.9M1417.4 603.9l2.2 13.3m4.6 -10l-4.6 10l-7.5 -8M1444.4 603.9l1.4 -11.4m-7.2 8.3l7.2 -8.3l5 9.8M1039.6 620.1l0.6 12.9m5.7 -9.4l-5.7 9.4l-6.6 -8.8M1066.6 620.1l-1.9 15.7m7.2 -8.3l-7.2 8.3l-5 -9.8M1093.5 620.1l1.2 19.5m5.6 -9.5l-5.6 9.5l-6.7 -8.7M1120.5 620.1l0.3 19.1m6 -9.2l-6 9.2l-6.3 -9M1147.5 620.1l-1.7 15.6m7.1 -8.4l-7.1 8.4l-5.1 -9.7M1174.5 620.1l-0.1 15.9m6.2 -9.1l-6.2 9.1l-6.1 -9.1M1417.4 620.1l12.4 11.6m-2.5 -10.7l2.5 10.7l-10.9 -1.7M1444.4 620.1l-2 -10.7m-4.4 10.1l4.4 -10.1l7.7 7.9M1039.6 636.3l-0.8 12.7m6.7 -8.7l-6.7 8.7l-5.6 -9.5M1066.6 636.3l-0.4 12.8m6.4 -8.9l-6.4 8.9l-5.9 -9.3M1093.5 636.3l2.4 16m4.7 -9.9l-4.7 9.9l-7.4 -8.1M1120.5 636.3l5.5 12.9m2.1 -10.8l-2.1 10.8l-9.2 -6M1147.5 636.3l-0.5 15.5m6.4 -8.9l-6.4 8.9l-5.9 -9.3M1417.4 636.3l20.3 -6.7m-10.6 -3l10.6 3l-6.7 8.7M1444.4 636.3l0 -12.4m-6.2 9.1l6.2 -9.1l6.1 9.1M1039.6 652.5l0.1 11.7m6.1 -9.2l-6.1 9.2l-6.2 -9.1M1066.6 652.5l-1.5 13.3m7.1 -8.4l-7.1 8.4l-5.1 -9.7M1093.5 652.5l1.3 16.4m5.4 -9.6l-5.4 9.6l-6.9 -8.6M1120.5 652.5l6.5 11.3m0.8 -11l-0.8 11l-9.9 -4.9M1147.5 652.5l0.6 16m5.8 -9.3l-5.8 9.3l-6.5 -8.9M1444.4 652.5l-7.6 -9.8m0.7 11l-0.7 -11l10.4 3.5M1039.6 668.7l0 11.5m6.1 -9.1l-6.1 9.1l-6.2 -9.1M1066.6 668.7l0.2 13.7m6 -9.2l-6 9.2l-6.3 -9M1093.5 668.7l1.5 16.1m5.3 -9.6l-5.3 9.6l-7 -8.5M1120.5 668.7l7.5 13m0.7 -11l-0.7 11l-9.9 -4.8M1147.5 668.7l1.8 17.9m5.2 -9.7l-5.2 9.7l-7.1 -8.4M1417.4 668.7l15.9 -12.3m-11 0.7l11 -0.7l-3.5 10.4M1444.4 668.7l-9.5 -7.3m3.5 10.4l-3.5 -10.4l11 0.7M1039.6 684.9l-1.7 11.4m7.4 -8.1l-7.4 8.1l-4.7 -9.9M1066.6 684.9l1.7 11.6m4.7 -9.9l-4.7 9.9l-7.4 -8.1M1093.5 684.9l4.5 12.1m2.6 -10.7l-2.6 10.7l-8.9 -6.4M1120.5 684.9l7.3 12.9m0.9 -11l-0.9 11l-9.8 -4.9M1417.4 684.9l14.2 -4.3m-10.5 -3.2l10.5 3.2l-6.9 8.5M1039.6 701.1l-1.6 11.4m7.3 -8.2l-7.3 8.2l-4.8 -9.9M1066.6 701.1l0.9 11.3m5.4 -9.6l-5.4 9.6l-6.9 -8.6M1093.5 701.1l4.8 12.3m2.4 -10.7l-2.4 10.7l-9 -6.3M1120.5 701.1l7 13.8m1.4 -10.9l-1.4 10.9l-9.6 -5.3M1417.4 701.1l11.8 -4.7m-10.8 -2.3l10.8 2.3l-6.2 9.1M1039.6 717.3l-0.9 12.5m6.8 -8.7l-6.8 8.7l-5.5 -9.5M1066.6 717.3l2.3 11.9m4.3 -10.1l-4.3 10.1l-7.8 -7.8M1093.5 717.3l7.5 12.2m0.5 -11l-0.5 11l-10 -4.6M1417.4 717.3l14 -6.7m-10.9 -1.6l10.9 1.6l-5.6 9.5M2200.1 717.3l0.5 -11.5m-6.5 8.9l6.5 -8.9l5.8 9.4M1093.5 733.4l7.9 13.2m0.6 -11l-0.6 11l-10 -4.7M1471.4 733.4l15.5 10.3m-4.2 -10.2l4.2 10.2l-11 0.1M1498.4 733.4l14.6 1.6m-8.4 -7.1l8.4 7.1l-9.7 5.1M1336.5 749.6l-13.3 8.2m11 0.5l-11 -0.5l4.5 -10M1471.4 749.6l10.9 9.1m-3.1 -10.6l3.1 10.6l-10.9 -1.1M1498.4 749.6l13.4 -8m-11 -0.6l11 0.6l-4.7 10M1957.2 749.6l-0.7 -14.4m-5.7 9.4l5.7 -9.4l6.6 8.8M2200.1 749.6l0.4 -10.7m-6.4 8.9l6.4 -8.9l5.8 9.3M1174.5 765.8l-2.3 11.3m7.8 -7.7l-7.8 7.7l-4.2 -10.2M1255.5 765.8l4.1 18.7m4.1 -10.2l-4.1 10.2l-7.9 -7.6M1282.5 765.8l2.4 18.3m4.9 -9.9l-4.9 9.9l-7.3 -8.2M1336.5 765.8l-11.6 7.6m11 0.1l-11 -0.1l4.2 -10.2M1444.4 765.8l16.1 8.9m-5 -9.8l5 9.8l-11 1M1498.4 765.8l11 -12.1m-10.7 2.6l10.7 -2.6l-1.6 10.9M1525.4 765.8l9.5 -9.1m-10.8 1.9l10.8 -1.9l-2.3 10.8M1957.2 765.8l0.1 -12.8m-6.2 9.1l6.2 -9.1l6.1 9.1M2092.2 765.8l11 -6m-11 -1l11 1l-5 9.8M2119.2 765.8l11.5 -3m-10.4 -3.7l10.4 3.7l-7.3 8.2M2146.2 765.8l11.1 -0.2m-9.2 -6l9.2 6l-9 6.3M1336.5 782l-10.5 6.2m11 0.7l-11 -0.7l4.7 -9.9M1444.4 782l9.2 6.5m-3.9 -10.3l3.9 10.3l-11 -0.3M1984.2 782l10.6 -6.8m-11 -0.2l11 0.2l-4.3 10.1M2011.2 782l14.3 -3.6m-10.3 -3.7l10.3 3.7l-7.3 8.2M2038.2 782l14.3 -2.9m-10.2 -4.2l10.2 4.2l-7.7 7.8M2065.2 782l7.1 -9.5m-10.4 3.6l10.4 -3.6l-0.5 11M2092.2 782l12.9 -4.9m-10.7 -2.5l10.7 2.5l-6.4 9M2119.2 782l14.8 -5.2m-10.6 -2.8l10.6 2.8l-6.6 8.8M2146.2 782l14.2 0.3m-9 -6.3l9 6.3l-9.2 6M2173.1 782l13.9 0.3m-9 -6.4l9 6.4l-9.3 5.9M2200.1 782l13.1 1.2m-8.5 -7l8.5 7l-9.7 5.3M2227.1 782l10.6 4.8m-5.7 -9.4l5.7 9.4l-10.8 1.8M2254.1 782l12 1.1m-8.5 -7l8.5 7l-9.7 5.3M2308.1 782l10.7 1.7m-8 -7.5l8 7.5l-10 4.6M1255.5 798.2l-15.2 14.6m10.8 -1.9l-10.8 1.9l2.3 -10.8M1336.5 798.2l-9.7 15.2m10.1 -4.4l-10.1 4.4l-0.3 -11M1525.4 798.2l1.7 -10.8m-7.5 8l7.5 -8l4.6 10M1768.3 798.2l7.4 8.8m-1.2 -10.9l1.2 10.9l-10.6 -3M1795.3 798.2l6.2 -11.4m-9.8 5.1l9.8 -5.1l1 11M1849.3 798.2l10.4 3.7m-6.6 -8.8l6.6 8.8l-10.6 2.8M1903.2 798.2l12.9 -0.3m-9.3 -5.9l9.3 5.9l-9 6.4M1930.2 798.2l14.4 -2.4m-10 -4.5l10 4.5l-8 7.6M2227.1 798.2l12 -1.3m-9.7 -5.2l9.7 5.2l-8.4 7.1M2254.1 798.2l11.5 -1.6m-9.9 -4.8l9.9 4.8l-8.2 7.4M2281.1 798.2l10.7 2.8m-7.3 -8.2l7.3 8.2l-10.4 3.7M1336.5 814.4l-12.2 6.7m11 1l-11 -1l5 -9.8M1525.4 814.4l18.4 7.8m-6 -9.2l6 9.2l-10.8 2.1M1606.4 814.4l10.9 0.3m-8.9 -6.4l8.9 6.4l-9.3 5.9M1633.3 814.4l15.7 3.3m-7.6 -7.9l7.6 7.9l-10.2 4.1M1687.3 814.4l11.7 1.7m-8.2 -7.4l8.2 7.4l-9.9 4.8M1714.3 814.4l12.7 1.7m-8.2 -7.3l8.2 7.3l-9.9 4.9M1741.3 814.4l13.7 3.7m-7.2 -8.3l7.2 8.3l-10.4 3.6M1768.3 814.4l5.1 9.7m1.2 -10.9l-1.2 10.9l-9.7 -5.2M1795.3 814.4l1.7 -13.3m-7.3 8.3l7.3 -8.3l5 9.8M1822.3 814.4l13.7 3.6m-7.2 -8.3l7.2 8.3l-10.4 3.6M1849.3 814.4l14.6 1.5m-8.4 -7.1l8.4 7.1l-9.7 5.2M1876.2 814.4l16.4 1.2m-8.6 -6.8l8.6 6.8l-9.5 5.5M2119.2 814.4l15.2 -4.3m-10.4 -3.4l10.4 3.4l-7.1 8.4M2227.1 814.4l12.8 -1.8m-9.9 -4.8l9.9 4.8l-8.2 7.3M1309.5 830.6l-10.2 8.2m11 -0.9l-11 0.9l3.3 -10.5M1606.4 830.6l15.1 6m-6.2 -9.1l6.2 9.1l-10.8 2.3M1687.3 830.6l13.8 6.6m-5.6 -9.5l5.6 9.5l-10.9 1.6M1714.3 830.6l13.3 8.3m-4.5 -10l4.5 10l-11 0.4M1741.3 830.6l13.5 7.5m-5 -9.8l5 9.8l-11 0.9M1768.3 830.6l15.6 4.5m-7 -8.4l7 8.4l-10.5 3.4M1795.3 830.6l16.3 2.8m-7.9 -7.6l7.9 7.6l-10 4.5M1822.3 830.6l14.9 2.8m-7.8 -7.7l7.8 7.7l-10.1 4.4M1849.3 830.6l15 -0.1m-9.2 -6.1l9.2 6.1l-9.1 6.2M1876.2 830.6l16.4 1.3m-8.6 -6.9l8.6 6.9l-9.6 5.4M1903.2 830.6l17 -0.9m-9.4 -5.7l9.4 5.7l-8.8 6.6M1930.2 830.6l18 -1.5m-9.6 -5.4l9.6 5.4l-8.6 6.9M1957.2 830.6l15.5 -3.5m-10.3 -4l10.3 4l-7.5 8M1984.2 830.6l13.8 -5.1m-10.7 -2.6l10.7 2.6l-6.4 8.9M2011.2 830.6l16.4 -1.4m-9.6 -5.4l9.6 5.4l-8.6 6.9M2038.2 830.6l15.4 -1.8m-9.8 -5l9.8 5l-8.3 7.2M2065.2 830.6l14.2 -1.3m-9.6 -5.3l9.6 5.3l-8.5 6.9M2092.2 830.6l12.5 1.5m-8.3 -7.2l8.3 7.2l-9.8 5M1687.3 846.8l6.2 14m1.9 -10.8l-1.9 10.8l-9.3 -5.8M1714.3 846.8l8.6 13.3m0.2 -11l-0.2 11l-10.1 -4.3M1741.3 846.8l9.2 12.7m-0.4 -11l0.4 11l-10.3 -3.8M1795.3 846.8l11 9.6m-2.8 -10.6l2.8 10.6l-10.9 -1.3M1849.3 846.8l12.1 5.4m-5.8 -9.3l5.8 9.3l-10.8 1.9M1876.2 846.8l14.4 3.3m-7.5 -8l7.5 8l-10.3 4M1687.3 863l5.6 17.8m3.1 -10.5l-3.1 10.5l-8.6 -6.9M1849.3 863l11.9 1.9m-8 -7.5l8 7.5l-10 4.6M1174.5 879.2l14.2 -8.6m-11 -0.5l11 0.5l-4.6 10M1228.5 879.2l14.3 0m-9.1 -6.1l9.1 6.1l-9.1 6.2M1255.5 879.2l4.4 18.5m3.9 -10.3l-3.9 10.3l-8.1 -7.4M1309.5 879.2l-1.6 14.2m7.1 -8.4l-7.1 8.4l-5.1 -9.7M1336.5 879.2l-1.8 14.7m7.2 -8.3l-7.2 8.3l-5 -9.8M1309.5 895.3l-5.5 16.7m8.7 -6.8l-8.7 6.8l-3 -10.6M1336.5 895.3l-5.8 15.4m9 -6.4l-9 6.4l-2.5 -10.7M1147.5 911.5l13.6 -6.3m-10.9 -1.7l10.9 1.7l-5.7 9.4M1174.5 911.5l15.8 -4.6m-10.5 -3.4l10.5 3.4l-7 8.4M1201.5 911.5l-10.8 3.1m10.4 3.4l-10.4 -3.4l7.1 -8.4M1228.5 911.5l-13.2 1.2m9.6 5.3l-9.6 -5.3l8.5 -6.9M1255.5 911.5l-19.9 7.4m10.7 2.6l-10.7 -2.6l6.4 -8.9M1282.5 911.5l-12.7 11.1m10.9 -1.3l-10.9 1.3l2.8 -10.6M1147.5 927.7l9.3 9.8m-1.8 -10.9l1.8 10.9l-10.7 -2.4M1174.5 927.7l13.5 -5.6m-10.8 -2.2l10.8 2.2l-6 9.2M1201.5 927.7l-14.2 1m9.5 5.5l-9.5 -5.5l8.6 -6.8M1228.5 927.7l-15 3.6m10.3 3.9l-10.3 -3.9l7.4 -8.1M1066.6 943.9l18.8 1.6m-8.6 -6.9l8.6 6.9l-9.6 5.4M1120.5 943.9l12.3 5.2m-6 -9.2l6 9.2l-10.8 2.1M1147.5 943.9l1.9 11.7m4.6 -10l-4.6 10l-7.5 -8M1174.5 943.9l-10.8 8.8m11 -1l-11 1l3.2 -10.5M1660.3 943.9l-0.8 13.4m6.7 -8.7l-6.7 8.7l-5.6 -9.5M1066.6 960.1l18.4 5.1m-7.1 -8.4l7.1 8.4l-10.4 3.5M1093.5 960.1l10.5 5.5m-5.2 -9.7l5.2 9.7l-10.9 1.2M1120.5 960.1l2.1 10.9m4.4 -10.1l-4.4 10.1l-7.7 -7.8M1147.5 960.1l0.2 14.7m6 -9.2l-6 9.2l-6.3 -9M1174.5 960.1l-6.8 13.3m9.6 -5.3l-9.6 5.3l-1.3 -10.9M1309.5 960.1l-21.3 0.7m9.3 5.8l-9.3 -5.8l8.9 -6.5M1363.4 960.1l-3.9 11.6m8.7 -6.7l-8.7 6.7l-3 -10.6M1390.4 960.1l-2.2 14m7.5 -8.1l-7.5 8.1l-4.7 -10M1417.4 960.1l-0.1 14.6m6.2 -9.1l-6.2 9.1l-6.1 -9.2M1633.3 960.1l1.2 12.8m5.3 -9.7l-5.3 9.7l-7 -8.5M1660.3 960.1l2.2 12.5m4.5 -10.1l-4.5 10.1l-7.7 -7.9M1687.3 960.1l10.8 -0.5m-9.4 -5.7l9.4 5.7l-8.8 6.6M985.6 976.3l9.8 -4.8m-10.9 -1.5l10.9 1.5l-5.5 9.5M1012.6 976.3l6.5 10.2m0.3 -11l-0.3 11l-10.1 -4.4M1093.5 976.3l2.1 11.6m4.4 -10.1l-4.4 10.1l-7.7 -7.9M1147.5 976.3l1 14m5.5 -9.5l-5.5 9.5l-6.8 -8.7M1174.5 976.3l-4.9 15.9m8.6 -6.9l-8.6 6.9l-3.2 -10.5M1282.5 976.3l-11 0.7m9.5 5.6l-9.5 -5.6l8.7 -6.7M1309.5 976.3l-12.8 0.4m9.3 5.9l-9.3 -5.9l8.9 -6.4M1363.4 976.3l-3.9 12.3m8.6 -6.8l-8.6 6.8l-3.1 -10.6M1390.4 976.3l-3.2 12.8m8.2 -7.3l-8.2 7.3l-3.7 -10.3M1417.4 976.3l-1.7 14.7m7.2 -8.3l-7.2 8.3l-5 -9.8M1633.3 976.3l10.2 12.8m-0.9 -11l0.9 11l-10.5 -3.3M1660.3 976.3l12.1 2.4m-7.7 -7.8l7.7 7.8l-10.1 4.2M958.6 992.5l0.3 -11m-6.4 9l6.4 -9l5.9 9.3M1012.6 992.5l4.7 11.9m2.3 -10.7l-2.3 10.7l-9.1 -6.2M1039.6 992.5l3.9 12.7m3.2 -10.5l-3.2 10.5l-8.6 -6.9M1093.5 992.5l2.5 14.4m4.5 -10l-4.5 10l-7.6 -7.9M1120.5 992.5l3.1 16.9m4.4 -10.1l-4.4 10.1l-7.7 -7.8M1147.5 992.5l2.4 14.9m4.6 -10l-4.6 10l-7.5 -8M1174.5 992.5l4.1 15.4m3.6 -10.4l-3.6 10.4l-8.3 -7.2M1201.5 992.5l6.6 15.2m2 -10.8l-2 10.8l-9.3 -5.9M1228.5 992.5l9.6 14.7m0.2 -11l-0.2 11l-10.1 -4.3M1363.4 992.5l3.8 11m2.9 -10.6l-2.9 10.6l-8.8 -6.6M1390.4 992.5l3.2 12.8m3.8 -10.3l-3.8 10.3l-8.2 -7.4M1417.4 992.5l1.5 15m5.2 -9.7l-5.2 9.7l-7 -8.5M1498.4 992.5l-12.1 7.9m11 0.2l-11 -0.2l4.3 -10.1M1525.4 992.5l8.1 15.7m1.3 -10.9l-1.3 10.9l-9.6 -5.3M1660.3 992.5l8.1 -8.3m-10.8 2.2l10.8 -2.2l-2 10.8M958.6 1008.7l-1.3 -12m-5.2 9.7l5.2 -9.7l7.1 8.4M1012.6 1008.7l6.5 12m1.1 -10.9l-1.1 10.9l-9.8 -5.1M1066.6 1008.7l1.4 13.9m5.2 -9.7l-5.2 9.7l-7.1 -8.4M1093.5 1008.7l3.9 15m3.6 -10.4l-3.6 10.4l-8.3 -7.3M1120.5 1008.7l6.4 13.8m1.7 -10.9l-1.7 10.9l-9.4 -5.7M1174.5 1008.7l5.4 16.8m3 -10.6l-3 10.6l-8.7 -6.8M1228.5 1008.7l10.6 12.6m-1.2 -10.9l1.2 10.9l-10.6 -3M1255.5 1008.7l6.7 10.4m0.3 -11l-0.3 11l-10.1 -4.4M1363.4 1008.7l2.6 10.4m3.8 -10.3l-3.8 10.3l-8.2 -7.4M1390.4 1008.7l5.7 12.6m1.9 -10.8l-1.9 10.8l-9.4 -5.8M1417.4 1008.7l4 15m3.6 -10.4l-3.6 10.4l-8.3 -7.2M1498.4 1008.7l-12.5 16.2m10.4 -3.4l-10.4 3.4l0.7 -11M958.6 1024.9l10.4 -15.9m-10.1 4.3l10.1 -4.3l0.1 11M985.6 1024.9l12.4 1.4m-8.4 -7.2l8.4 7.2l-9.8 5.1M1012.6 1024.9l6.9 15.3m1.8 -10.8l-1.8 10.8l-9.4 -5.8M1066.6 1024.9l2.8 16m4.5 -10.1l-4.5 10.1l-7.7 -7.9M1093.5 1024.9l7.2 16.4m2 -10.8l-2 10.8l-9.3 -5.9M1174.5 1024.9l6.8 15.5m2 -10.8l-2 10.8l-9.3 -5.9M1228.5 1024.9l13.7 11m-3.2 -10.5l3.2 10.5l-11 -1M1255.5 1024.9l8.4 11.5m-0.4 -11l0.4 11l-10.4 -3.7M1309.5 1024.9l10.6 1.7m-8 -7.5l8 7.5l-10 4.6M1741.3 1024.9l15.5 0.1m-9.1 -6.2l9.1 6.2l-9.2 6.1M1768.3 1024.9l9.7 -10.8m-10.7 2.7l10.7 -2.7l-1.5 10.9M958.6 1041l14.2 3m-7.7 -7.9l7.7 7.9l-10.2 4.2M985.6 1041l13.2 4.4m-6.7 -8.7l6.7 8.7l-10.6 3M1282.5 1041l4.3 14m3.2 -10.5l-3.2 10.5l-8.6 -6.9M1390.4 1041l10.8 17.9m0.6 -11l-0.6 11l-10 -4.6M1741.3 1041l11.9 -0.2m-9.2 -6l9.2 6l-9 6.3M1768.3 1041l3.4 -12.2m-8.4 7.1l8.4 -7.1l3.4 10.4M958.6 1057.2l13.3 0.6m-8.8 -6.6l8.8 6.6l-9.4 5.7M985.6 1057.2l11.7 9.5m-3.2 -10.5l3.2 10.5l-11 -1M1282.5 1057.2l3.8 14.9m3.7 -10.3l-3.7 10.3l-8.2 -7.3M1390.4 1057.2l2.7 14.3m4.3 -10.1l-4.3 10.1l-7.8 -7.8M1741.3 1057.2l11 4m-6.5 -8.9l6.5 8.9l-10.7 2.7M1768.3 1057.2l6.1 -10.5m-9.9 4.8l9.9 -4.8l0.8 11M958.6 1073.4l11.9 3m-7.3 -8.2l7.3 8.2l-10.4 3.7M985.6 1073.4l10.6 14m-0.6 -11l0.6 11l-10.4 -3.6M1120.5 1073.4l14.1 11.2m-3.3 -10.5l3.3 10.5l-11 -0.9M1282.5 1073.4l2.8 15m4.3 -10.1l-4.3 10.1l-7.7 -7.8M1309.5 1073.4l11.3 3.8m-6.7 -8.7l6.7 8.7l-10.6 3M1363.4 1073.4l1.5 10.8m4.9 -9.9l-4.9 9.9l-7.3 -8.2M1390.4 1073.4l2.3 15.9m4.8 -9.9l-4.8 9.9l-7.4 -8.2M958.6 1089.6l12.8 2.9m-7.6 -8l7.6 8l-10.2 4M1120.5 1089.6l14.1 9.2m-4.3 -10.1l4.3 10.1l-11 0.2M1282.5 1089.6l4.3 16.1m3.6 -10.4l-3.6 10.4l-8.3 -7.2M1309.5 1089.6l11.3 2.8m-7.4 -8.2l7.4 8.2l-10.3 3.8M1363.4 1089.6l2.9 11.2m3.7 -10.4l-3.7 10.4l-8.3 -7.3M1390.4 1089.6l3.2 14.7m4.1 -10.2l-4.1 10.2l-7.9 -7.6M391.8 1105.8l11.5 -6.4m-11 -0.9l11 0.9l-4.9 9.8M958.6 1105.8l12.5 4.1m-6.8 -8.7l6.8 8.7l-10.6 3M1228.5 1105.8l4.6 15.9m3.4 -10.5l-3.4 10.5l-8.4 -7.1M1255.5 1105.8l3.7 20.3m4.4 -10.1l-4.4 10.1l-7.7 -7.9M1282.5 1105.8l3 15.2m4.2 -10.1l-4.2 10.1l-7.8 -7.7M1309.5 1105.8l9.7 5.7m-4.7 -9.9l4.7 9.9l-11 0.6M1363.4 1105.8l2.7 11m3.8 -10.3l-3.8 10.3l-8.1 -7.4M1579.4 1105.8l9.1 12.4m-0.4 -11l0.4 11l-10.3 -3.7M391.8 1122l15 -3.2m-10.2 -4.1l10.2 4.1l-7.6 7.9M958.6 1122l13.3 4.8m-6.5 -8.9l6.5 8.9l-10.7 2.7M1174.5 1122l12.6 1.7m-8.2 -7.3l8.2 7.3l-9.9 4.9M1228.5 1122l7.6 15.9m1.6 -10.9l-1.6 10.9l-9.5 -5.6M1255.5 1122l5.3 17.8m3.3 -10.5l-3.3 10.5l-8.5 -7M1282.5 1122l4 15.7m3.7 -10.4l-3.7 10.4l-8.2 -7.3M1309.5 1122l11.4 5.9m-5.3 -9.6l5.3 9.6l-10.9 1.3M1336.5 1122l10.5 2.7m-7.3 -8.2l7.3 8.2l-10.4 3.7M1363.4 1122l5.6 12m1.7 -10.9l-1.7 10.9l-9.4 -5.7M310.8 1138.2l9.6 5.5m-4.8 -9.9l4.8 9.9l-11 0.8M337.8 1138.2l12.2 -10m-10.9 1.1l10.9 -1.1l-3.1 10.5M418.8 1138.2l-0.5 -11.1m-5.8 9.4l5.8 -9.4l6.5 8.8M931.6 1138.2l11.1 -1.1m-9.7 -5.3l9.7 5.3l-8.5 7M1228.5 1138.2l4.1 16.2m3.7 -10.4l-3.7 10.4l-8.2 -7.3M1255.5 1138.2l4.1 14.1m3.4 -10.5l-3.4 10.5l-8.4 -7M1282.5 1138.2l6.4 15.4m2.2 -10.8l-2.2 10.8l-9.2 -6.1M1309.5 1138.2l10.3 9.5m-2.5 -10.7l2.5 10.7l-10.9 -1.7M1336.5 1138.2l11.7 4m-6.6 -8.8l6.6 8.8l-10.6 2.9M1363.4 1138.2l6.1 12.5m1.5 -10.9l-1.5 10.9l-9.5 -5.5M1741.3 1138.2l13.9 9.2m-4.2 -10.2l4.2 10.2l-11 0.1M1768.3 1138.2l17.2 7.3m-6 -9.2l6 9.2l-10.8 2.1M310.8 1154.4l17.5 1.7m-8.5 -7l8.5 7l-9.7 5.3M445.8 1154.4l5.8 -9.5m-10 4.6l10 -4.6l0.5 11M931.6 1154.4l11.3 2.8m-7.3 -8.2l7.3 8.2l-10.3 3.7M1093.5 1154.4l15.9 -3.2m-10.2 -4.2l10.2 4.2l-7.7 7.8M1228.5 1154.4l7.8 15.3m1.4 -10.9l-1.4 10.9l-9.6 -5.3M1255.5 1154.4l4.6 13.6m2.9 -10.6l-2.9 10.6l-8.7 -6.7M1282.5 1154.4l5.6 13.6m2.2 -10.8l-2.2 10.8l-9.2 -6.1M1309.5 1154.4l10.6 8.6m-3.2 -10.5l3.2 10.5l-11 -1M1336.5 1154.4l12.2 4m-6.7 -8.7l6.7 8.7l-10.6 3M1363.4 1154.4l13.1 6.6m-5.4 -9.6l5.4 9.6l-10.9 1.4M1741.3 1154.4l16.5 4.5m-7.2 -8.3l7.2 8.3l-10.4 3.5M1768.3 1154.4l21.1 0.4m-9 -6.3l9 6.3l-9.2 6M418.8 1170.6l13 -5.4m-10.8 -2.2l10.8 2.2l-6.1 9.2M931.6 1170.6l11.1 4.6m-6.1 -9.2l6.1 9.2l-10.8 2.2M985.6 1170.6l12.7 -0.9m-9.5 -5.5l9.5 5.5l-8.7 6.8M1093.5 1170.6l12.1 -1m-9.6 -5.4l9.6 5.4l-8.6 6.9M1201.5 1170.6l9 17.4m1.3 -10.9l-1.3 10.9l-9.7 -5.3M1228.5 1170.6l6.4 15.5m2.2 -10.8l-2.2 10.8l-9.2 -6.1M1255.5 1170.6l4.6 14.9m3.2 -10.5l-3.2 10.5l-8.6 -6.9M1282.5 1170.6l6.7 14.4m1.7 -10.9l-1.7 10.9l-9.4 -5.7M1309.5 1170.6l13.3 6.3m-5.6 -9.5l5.6 9.5l-10.9 1.7M1336.5 1170.6l20.7 3.7m-7.9 -7.6l7.9 7.6l-10 4.5M1363.4 1170.6l19.2 9.5m-5.5 -9.5l5.5 9.5l-10.9 1.5M283.8 1186.8l12.7 -13.4m-10.7 2.4l10.7 -2.4l-1.8 10.9M445.8 1186.8l12.9 -1.3m-9.7 -5.2l9.7 5.2l-8.4 7M472.8 1186.8l12.2 -3.5m-10.5 -3.4l10.5 3.4l-7 8.5M985.6 1186.8l8.1 9.9m-1 -11l1 11l-10.5 -3.2M1093.5 1186.8l12.2 -1.9m-10 -4.6l10 4.6l-8 7.5M1201.5 1186.8l9.8 14m-0.2 -11l0.2 11l-10.3 -3.9M1228.5 1186.8l6.7 15.4m2 -10.8l-2 10.8l-9.3 -5.9M1255.5 1186.8l5.9 15.5m2.5 -10.7l-2.5 10.7l-9 -6.4M1282.5 1186.8l11.1 12.6m-1.4 -10.9l1.4 10.9l-10.6 -2.8M1309.5 1186.8l18.2 9.1m-5.4 -9.6l5.4 9.6l-10.9 1.4M1444.4 1186.8l21.1 2.6m-8.3 -7.2l8.3 7.2l-9.8 5M256.9 1203l-1.9 -20.8m-5.3 9.6l5.3 -9.6l6.9 8.5M283.8 1203l4.6 -13.3m-8.8 6.6l8.8 -6.6l2.8 10.6M445.8 1203l15.1 -4.5m-10.5 -3.3l10.5 3.3l-7 8.5M472.8 1203l11.8 -2.1m-10 -4.5l10 4.5l-7.9 7.6M904.6 1203l1.7 -17.6m-7 8.5l7 -8.5l5.3 9.7M985.6 1203l7.5 12.1m0.4 -11l-0.4 11l-10 -4.5M1120.5 1203l11.3 4.1m-6.5 -8.9l6.5 8.9l-10.7 2.7M1201.5 1203l5.5 14m2.4 -10.7l-2.4 10.7l-9.1 -6.2M1228.5 1203l6.9 14.1m1.6 -10.9l-1.6 10.9l-9.5 -5.5M1255.5 1203l9.2 13.5m0 -11l0 11l-10.2 -4.1M1282.5 1203l12 12.9m-1.7 -10.9l1.7 10.9l-10.7 -2.5M1417.4 1203l19.5 -4.8m-10.3 -3.8l10.3 3.8l-7.4 8.2M256.9 1219.1l-3.5 -13.2m-3.6 10.4l3.6 -10.4l8.3 7.2M445.8 1219.1l15.4 -6.6m-10.8 -2.1l10.8 2.1l-6 9.2M472.8 1219.1l11.8 -5.3m-10.8 -1.9l10.8 1.9l-5.8 9.4M904.6 1219.1l0.6 -13.9m-6.5 8.8l6.5 -8.8l5.7 9.4M958.6 1219.1l11.4 7.5m-4.2 -10.2l4.2 10.2l-11 0.1M445.8 1235.3l15.4 -3.2m-10.2 -4.2l10.2 4.2l-7.7 7.9M472.8 1235.3l11.5 -1.6m-9.9 -4.9l9.9 4.9l-8.2 7.3M499.8 1235.3l10 -5m-10.9 -1.4l10.9 1.4l-5.4 9.6M526.8 1235.3l4 -11.2m-8.8 6.5l8.8 -6.5l2.8 10.7M958.6 1235.3l18.1 11m-4.6 -10l4.6 10l-11 0.5M445.8 1251.5l16.5 -3.4m-10.2 -4.2l10.2 4.2l-7.7 7.9M472.8 1251.5l12.4 -2.3m-10.1 -4.4l10.1 4.4l-7.9 7.7M499.8 1251.5l10.4 -3.7m-10.7 -2.7l10.7 2.7l-6.5 8.9M526.8 1251.5l3 -11.7m-8.2 7.3l8.2 -7.3l3.7 10.4M877.6 1251.5l1.7 -11.4m-7.4 8.1l7.4 -8.1l4.7 9.9M904.6 1251.5l7.9 -8.4m-10.7 2.5l10.7 -2.5l-1.7 10.9M1390.4 1251.5l15 -4.9m-10.6 -3l10.6 3l-6.8 8.7M445.8 1267.7l16.7 -2.4m-9.9 -4.8l9.9 4.8l-8.2 7.4M472.8 1267.7l13 -1.3m-9.7 -5.2l9.7 5.2l-8.4 7M499.8 1267.7l11.3 1.2m-8.4 -7l8.4 7l-9.7 5.2M877.6 1267.7l1.3 -11.7m-7.1 8.4l7.1 -8.4l5.1 9.8M904.6 1267.7l8.7 -9.2m-10.7 2.4l10.7 -2.4l-1.7 10.9M931.6 1267.7l12.3 -0.3m-9.3 -5.9l9.3 5.9l-9 6.4M1390.4 1267.7l10.3 -7.3m-11 0.2l11 -0.2l-3.9 10.3M499.8 1283.9l13 5.1m-6.3 -9l6.3 9l-10.7 2.4M877.6 1283.9l10.3 -5.4m-10.9 -1.2l10.9 1.2l-5.2 9.7M1390.4 1283.9l13.2 2.1m-8.1 -7.5l8.1 7.5l-10 4.7M283.8 1300.1l12.5 -3.7m-10.5 -3.3l10.5 3.3l-7 8.5M742.7 1300.1l0.8 11.4m5.5 -9.5l-5.5 9.5l-6.8 -8.6M850.6 1300.1l10.6 -7.4m-11 0.2l11 -0.2l-3.9 10.3M742.7 1316.3l-0.4 11m6.5 -8.9l-6.5 8.9l-5.8 -9.3M364.8 1332.5l1.3 -12.4m-7.1 8.4l7.1 -8.4l5.2 9.7M526.8 1332.5l11.2 2.9m-7.3 -8.3l7.3 8.3l-10.4 3.7M742.7 1332.5l5.7 11m1.3 -10.9l-1.3 10.9l-9.7 -5.3M769.7 1332.5l11.1 5.4m-5.5 -9.5l5.5 9.5l-10.9 1.6M796.7 1332.5l11 5.9m-5.1 -9.7l5.1 9.7l-10.9 1.1M823.6 1332.5l12.6 3.6m-7.1 -8.4l7.1 8.4l-10.4 3.4M283.8 1348.7l7.5 -18.2m-9.2 6.1l9.2 -6.1l2.2 10.8M364.8 1348.7l9.3 -17.3m-9.8 5.1l9.8 -5.1l1.1 10.9M715.7 1348.7l14.3 6.9m-5.5 -9.5l5.5 9.5l-10.9 1.6M742.7 1348.7l5.7 9.2m0.4 -11l-0.4 11l-10 -4.5M769.7 1348.7l10.2 7.3m-3.8 -10.3l3.8 10.3l-11 -0.3M850.6 1348.7l15.8 0.6m-8.9 -6.5l8.9 6.5l-9.4 5.8M283.8 1364.8l0.7 -11.5m-6.7 8.7l6.7 -8.7l5.6 9.5M499.8 1364.8l-9.3 5.7m11 0.5l-11 -0.5l4.5 -10M526.8 1364.8l-2.8 14.3m7.8 -7.8l-7.8 7.8l-4.3 -10.1M688.7 1364.8l12.2 -4.1m-10.6 -2.9l10.6 2.9l-6.7 8.7M742.7 1364.8l7.8 9.9m-0.8 -11l0.8 11l-10.5 -3.3M769.7 1364.8l9.4 6.9m-3.7 -10.4l3.7 10.4l-11 -0.4M796.7 1364.8l11.1 4.4m-6.2 -9.1l6.2 9.1l-10.8 2.3M823.6 1364.8l12.4 1m-8.6 -6.9l8.6 6.9l-9.6 5.4M850.6 1364.8l14.5 2.4m-8 -7.6l8 7.6l-10 4.6M499.8 1381l6.2 10.7m0.8 -11l-0.8 11l-9.9 -4.8M526.8 1381l-0.3 12.9m6.3 -9l-6.3 9l-6 -9.3M688.7 1381l6.7 12.8m1.2 -10.9l-1.2 10.9l-9.7 -5.2M742.7 1381l4.8 14.6m3 -10.6l-3 10.6l-8.7 -6.7M769.7 1381l16.7 7.8m-5.7 -9.4l5.7 9.4l-10.9 1.7M796.7 1381l17.1 4.9m-7.1 -8.4l7.1 8.4l-10.5 3.4M607.7 1397.2l10.5 -6.7m-11 -0.3l11 0.3l-4.4 10.1M742.7 1397.2l12.1 14.3m-1.2 -10.9l1.2 10.9l-10.6 -3M175.9 1413.4l9 6.7m-3.6 -10.4l3.6 10.4l-11 -0.5M1417.4 1429.6l-2 -11.6m-4.5 10l4.5 -10l7.6 7.9M742.7 1445.8l12.9 10.2m-3.3 -10.5l3.3 10.5l-11 -0.9M769.7 1445.8l12.2 4.6m-6.4 -9l6.4 9l-10.7 2.6M1390.4 1445.8l-2.7 -14.5m-4.4 10.1l4.4 -10.1l7.7 7.9M1417.4 1445.8l-5.4 -16.7m-3.1 10.6l3.1 -10.6l8.7 6.8M580.7 1494.4l2.5 10.7m3.9 -10.3l-3.9 10.3l-8.1 -7.5M823.6 1494.4l19 6m-6.8 -8.6l6.8 8.6l-10.6 3.1M580.7 1510.6l0.1 11.2m6.1 -9.2l-6.1 9.2l-6.2 -9.1M607.7 1510.6l6.9 -9.4m-10.4 3.7l10.4 -3.7l-0.5 11M823.6 1510.6l12.4 3.2m-7.3 -8.3l7.3 8.3l-10.4 3.6M1147.5 1510.6l11.1 3.8m-6.6 -8.8l6.6 8.8l-10.6 2.8M580.7 1526.8l8 7.8m-2.2 -10.8l2.2 10.8l-10.8 -2M607.7 1526.8l9.7 -5.5m-11 -0.9l11 0.9l-4.9 9.8M634.7 1526.8l15.9 -1.3m-9.6 -5.4l9.6 5.4l-8.6 6.9M580.7 1542.9l10.9 2.1m-7.8 -7.8l7.8 7.8l-10.1 4.3M634.7 1542.9l13 3.1m-7.5 -8.1l7.5 8.1l-10.3 3.9M661.7 1542.9l14 -4.6m-10.6 -3l10.6 3l-6.7 8.7M661.7 1559.1l10.3 -5.2m-10.9 -1.4l10.9 1.4l-5.4 9.6M688.7 1559.1l13.6 -4.1m-10.5 -3.2l10.5 3.2l-6.9 8.5M661.7 1575.3l8.9 -7.6m-10.9 1.2l10.9 -1.2l-3 10.6M688.7 1575.3l10.1 -6.6m-11 -0.2l11 0.2l-4.3 10.1M715.7 1575.3l11.2 -6.1m-11 -1l11 1l-5 9.8M283.6 1528.3l20.4 1.4m-8.7 -6.7l8.7 6.7l-9.5 5.5M311.4 1527l20.4 -5.4m-10.4 -3.6l10.4 3.6l-7.2 8.3M337.8 1556.1l15 2.7m-7.9 -7.7l7.9 7.7l-10.1 4.4M365.6 1544.2l16.3 1.4m-8.6 -6.9l8.6 6.9l-9.6 5.4M365.6 1558.7l15 0m-9.1 -6.2l9.1 6.2l-9.1 6.2M365.6 1569.3l12.3 -4.1m-10.6 -3l10.6 3l-6.7 8.7M366.9 1577.2l9.5 -6.8m-11 0.3l11 -0.3l-3.8 10.3M392.1 1561.4l13.6 -12.3m-10.9 1.5l10.9 -1.5l-2.7 10.7M501.9 1429.1l16.3 -5.4m-10.6 -3l10.6 3l-6.7 8.7"/>
<path stroke="#1e3cff" d="M1552.4 69.6l-3.1 -23.8m-4.9 9.8l4.9 -9.8l7.3 8.2M1579.4 69.6l-6.8 -24.8m-3.5 10.4l3.5 -10.4l8.4 7.2M1660.3 69.6l-11.1 -22.2m-1.4 10.9l1.4 -10.9l9.6 5.4M1552.4 85.8l1.7 -28m-6.7 8.7l6.7 -8.7l5.6 9.5M1606.4 85.8l1.4 -26.9m-6.6 8.8l6.6 -8.8l5.7 9.4M1633.3 85.8l-9.4 -24m-2.4 10.7l2.4 -10.7l9 6.3M1660.3 85.8l-8.4 -22.4m-2.6 10.7l2.6 -10.7l9 6.4M1687.3 85.8l18 -22.7m-10.5 3.3l10.5 -3.3l-0.9 11M1714.3 85.8l17.4 -21.8m-10.5 3.3l10.5 -3.3l-0.9 11M1687.3 102l19.9 -24.1m-10.5 3.1l10.5 -3.1l-1.1 10.9M1714.3 102l12.6 -21.1m-10 4.7l10 -4.7l0.6 11M1741.3 102l1.5 -22.4m-6.7 8.7l6.7 -8.7l5.5 9.5M1768.3 102l2.5 -25.2m-7 8.5l7 -8.5l5.2 9.7M1498.4 118.2l6 -23.9m-8.2 7.4l8.2 -7.4l3.8 10.3M1687.3 118.2l20.9 -21.1m-10.8 2.1l10.8 -2.1l-2.1 10.8M1714.3 118.2l11.5 -24.4m-9.5 5.6l9.5 -5.6l1.7 10.9M1741.3 118.2l8.9 -26.3m-8.7 6.7l8.7 -6.7l2.9 10.6M1768.3 118.2l3.6 -26.5m-7.3 8.2l7.3 -8.2l4.9 9.9M1714.3 134.4l10.4 -23.6m-9.3 5.9l9.3 -5.9l1.9 10.8M1741.3 134.4l6.3 -25.6m-8.2 7.4l8.2 -7.4l3.8 10.3M1768.3 134.4l4.7 -24.7m-7.8 7.8l7.8 -7.8l4.3 10.1M1444.4 150.6l8.4 -22.2m-9 6.4l9 -6.4l2.5 10.7M1633.3 150.6l25.6 -16.7m-11 -0.2l11 0.2l-4.3 10.1M1714.3 150.6l11.5 -23.6m-9.5 5.5l9.5 -5.5l1.5 10.9M1741.3 150.6l7.9 -21.4m-8.9 6.4l8.9 -6.4l2.6 10.7M1768.3 150.6l2.2 -28.3m-6.8 8.6l6.8 -8.6l5.4 9.6M1444.4 166.8l9.1 -22.9m-9.1 6.2l9.1 -6.2l2.4 10.7M1471.4 166.8l18.9 -21.7m-10.6 2.8l10.6 -2.8l-1.3 10.9M1633.3 166.8l26.2 -18.1m-11 0.1l11 -0.1l-4 10.2M1660.3 166.8l24.1 -16.7m-11 0.1l11 -0.1l-4 10.2M1687.3 166.8l15.4 -20.2m-10.4 3.5l10.4 -3.5l-0.7 11M1471.4 183l19.1 -22.8m-10.6 3.1l10.6 -3.1l-1.1 10.9M1633.3 183l21.7 -19.6m-10.9 1.6l10.9 -1.6l-2.6 10.7M1660.3 183l25.3 -19.2m-11 0.6l11 -0.6l-3.6 10.4M1687.3 183l14.2 -19.2m-10.4 3.7l10.4 -3.7l-0.5 11M1471.4 199.2l12.8 -20.9m-10 4.6l10 -4.6l0.5 11M1498.4 199.2l21.4 -19.5m-10.9 1.6l10.9 -1.6l-2.6 10.7M1525.4 199.2l24.5 -12.5m-10.9 -1.3l10.9 1.3l-5.3 9.6M1606.4 199.2l26.4 -16.8m-11 -0.3l11 0.3l-4.4 10.1M1633.3 199.2l25.1 -15.6m-11 -0.4l11 0.4l-4.5 10M1660.3 199.2l23.1 -18.4m-11 0.9l11 -0.9l-3.3 10.5M1687.3 199.2l17.1 -17.3m-10.8 2.2l10.8 -2.2l-2 10.8M1471.4 215.4l17.1 -17.5m-10.8 2.2l10.8 -2.2l-2 10.8M1498.4 215.4l20.7 -17.2m-10.9 1.1l10.9 -1.1l-3.1 10.6M1525.4 215.4l28.7 -13m-10.8 -1.9l10.8 1.9l-5.8 9.4M1552.4 215.4l24.7 -17.1m-11 0.1l11 -0.1l-4 10.2M1579.4 215.4l28.4 -14.1m-10.9 -1.5l10.9 1.5l-5.4 9.6M1606.4 215.4l27.9 -12.6m-10.8 -1.8l10.8 1.8l-5.8 9.4M1633.3 215.4l26.4 -16m-11 -0.5l11 0.5l-4.6 10M1660.3 215.4l22 -16.6m-11 0.6l11 -0.6l-3.6 10.4M1687.3 215.4l16 -18.5m-10.6 2.9l10.6 -2.9l-1.3 10.9M1498.4 231.6l18.3 -16m-10.9 1.4l10.9 -1.4l-2.8 10.6M1525.4 231.6l26 -11.6m-10.8 -1.9l10.8 1.9l-5.8 9.3M1552.4 231.6l23 -11.4m-10.9 -1.5l10.9 1.5l-5.4 9.6M1579.4 231.6l26 -13m-10.9 -1.4l10.9 1.4l-5.4 9.6M1606.4 231.6l25.4 -16m-11 -0.3l11 0.3l-4.4 10.1M1633.3 231.6l24.4 -16.7m-11 0.1l11 -0.1l-4 10.2M1660.3 231.6l21 -19.9m-10.8 1.8l10.8 -1.8l-2.4 10.7M1687.3 231.6l13.6 -18.8m-10.3 3.8l10.3 -3.8l-0.3 11M1525.4 247.7l23.3 -9.5m-10.8 -2.2l10.8 2.2l-6.1 9.1M1552.4 247.7l21.2 -10.8m-10.9 -1.4l10.9 1.4l-5.4 9.6M1579.4 247.7l24.7 -11.6m-10.9 -1.7l10.9 1.7l-5.6 9.4M1606.4 247.7l24.5 -15.2m-11 -0.4l11 0.4l-4.5 10M1633.3 247.7l23.2 -11.7m-10.9 -1.4l10.9 1.4l-5.4 9.6M1660.3 247.7l19.6 -13.6m-11 0.1l11 -0.1l-4 10.2M1552.4 263.9l19.9 -10.8m-10.9 -1.1l10.9 1.1l-5.1 9.8M1579.4 263.9l24.6 -12.2m-10.9 -1.5l10.9 1.5l-5.4 9.6M1606.4 263.9l25.1 -13.6m-10.9 -1.1l10.9 1.1l-5.1 9.8M1633.3 263.9l22.6 -13.5m-11 -0.6l11 0.6l-4.7 10M1552.4 280.1l15.7 -15.2m-10.8 1.9l10.8 -1.9l-2.3 10.8M1579.4 280.1l22.3 -10.5m-10.9 -1.7l10.9 1.7l-5.6 9.4M1606.4 280.1l25.4 -11.6m-10.9 -1.8l10.9 1.8l-5.7 9.4M1633.3 280.1l22.1 -13.9m-11 -0.3l11 0.3l-4.4 10.1M1552.4 296.3l15.3 -15.9m-10.8 2.3l10.8 -2.3l-1.9 10.8M1579.4 296.3l22.7 -11.8m-10.9 -1.3l10.9 1.3l-5.3 9.7M1633.3 296.3l20.8 -12.8m-11 -0.4l11 0.4l-4.5 10M1390.4 312.5l18.5 26.2m-0.2 -11l0.2 11l-10.3 -3.9M1444.4 312.5l25.7 -11.3m-10.8 -2l10.8 2l-5.9 9.3M1471.4 312.5l20.6 -11.8m-11 -0.8l11 0.8l-4.9 9.9M1552.4 312.5l15.7 -16m-10.8 2.2l10.8 -2.2l-2 10.8M1309.5 328.7l30.7 -7.4m-10.3 -3.8l10.3 3.8l-7.4 8.1M1444.4 328.7l31.1 -7.7m-10.3 -3.8l10.3 3.8l-7.4 8.2M1471.4 328.7l26.4 -11.3m-10.8 -2.1l10.8 2.1l-6 9.2M1498.4 328.7l23.4 -7.8m-10.6 -3l10.6 3l-6.7 8.7M1309.5 344.9l22.3 0.5m-9 -6.4l9 6.4l-9.3 5.9M1471.4 344.9l31.5 -4.8m-9.9 -4.7l9.9 4.7l-8.1 7.4M1498.4 344.9l26.9 -7m-10.4 -3.7l10.4 3.7l-7.3 8.2M1363.4 361.1l23.5 4.1m-7.9 -7.6l7.9 7.6l-10 4.5M1417.4 361.1l30.4 5.1m-8 -7.6l8 7.6l-10 4.6M1444.4 361.1l23.5 10.9m-5.7 -9.4l5.7 9.4l-10.9 1.8M1471.4 361.1l21.7 7.4m-6.7 -8.8l6.7 8.8l-10.6 2.9M1228.5 393.5l-12.7 23.6m9.7 -5.1l-9.7 5.1l-1.1 -10.9M1255.5 393.5l-15.7 22m10.3 -3.9l-10.3 3.9l0.3 -11M1228.5 409.6l-11.4 23.1m9.6 -5.4l-9.6 5.4l-1.5 -10.9M1255.5 409.6l-13 21.2m10 -4.5l-10 4.5l-0.5 -11M1390.4 409.6l16.9 -18.1m-10.7 2.5l10.7 -2.5l-1.7 10.9M1174.5 425.8l-5.1 27.7m7.7 -7.9l-7.7 7.9l-4.4 -10.1M1228.5 425.8l-6.9 26.7m8.2 -7.3l-8.2 7.3l-3.7 -10.4M1147.5 442l-4.7 22.7m7.9 -7.7l-7.9 7.7l-4.2 -10.2M1228.5 442l-8.4 25.3m8.7 -6.7l-8.7 6.7l-3 -10.6M1147.5 458.2l0.1 24.7m6.1 -9.1l-6.1 9.1l-6.2 -9.1M1228.5 458.2l-5.3 27.4m7.8 -7.8l-7.8 7.8l-4.3 -10.1M1120.5 474.4l-0.8 24.4m6.5 -8.9l-6.5 8.9l-5.8 -9.3M1147.5 474.4l-6.1 28.1m7.9 -7.6l-7.9 7.6l-4.1 -10.2M1228.5 474.4l-4.9 29.7m7.6 -8l-7.6 8l-4.6 -10M1309.5 474.4l0.2 25.8m6.1 -9.2l-6.1 9.2l-6.2 -9.1M1336.5 474.4l-4.7 24.7m7.7 -7.8l-7.7 7.8l-4.3 -10.1M1093.5 490.6l-0.2 23.1m6.2 -9.1l-6.2 9.1l-6.1 -9.2M1120.5 490.6l-5 26.3m7.7 -7.8l-7.7 7.8l-4.4 -10.1M1147.5 490.6l-1 28.4m6.5 -8.9l-6.5 8.9l-5.8 -9.3M1201.5 490.6l-6.8 31.4m7.9 -7.6l-7.9 7.6l-4.1 -10.2M1228.5 490.6l-2.3 30.8m6.8 -8.6l-6.8 8.6l-5.5 -9.6M1255.5 490.6l-1.4 29.4m6.6 -8.8l-6.6 8.8l-5.7 -9.4M1282.5 490.6l-5.1 26m7.8 -7.8l-7.8 7.8l-4.3 -10.1M1309.5 490.6l-1.9 26.5m6.8 -8.7l-6.8 8.7l-5.5 -9.5M1336.5 490.6l-0.4 27m6.3 -9l-6.3 9l-6 -9.2M1363.4 490.6l-0.7 22.3m6.5 -8.9l-6.5 8.9l-5.8 -9.3M1093.5 506.8l-2.7 21.7m7.2 -8.3l-7.2 8.3l-5 -9.8M1120.5 506.8l-4.4 26.4m7.6 -8l-7.6 8l-4.6 -10M1147.5 506.8l-4.8 27.9m7.6 -7.9l-7.6 7.9l-4.5 -10M1228.5 506.8l-5 29m7.6 -7.9l-7.6 7.9l-4.5 -10M1255.5 506.8l-3.8 26m7.4 -8.1l-7.4 8.1l-4.8 -9.9M1282.5 506.8l-1.8 27.9m6.7 -8.7l-6.7 8.7l-5.5 -9.5M1309.5 506.8l-5 29.1m7.6 -8l-7.6 8l-4.5 -10M1336.5 506.8l0.4 24.6m6 -9.2l-6 9.2l-6.3 -9M1363.4 506.8l-2.5 21.6m7.2 -8.3l-7.2 8.3l-5.1 -9.8M1093.5 523l1 25.1m5.8 -9.4l-5.8 9.4l-6.5 -8.9M1120.5 523l-0.3 25m6.3 -9.1l-6.3 9.1l-6.1 -9.2M1147.5 523l4.8 28.2m4.5 -10l-4.5 10l-7.6 -8M1174.5 523l9.8 28.1m2.8 -10.6l-2.8 10.6l-8.8 -6.6M1201.5 523l4.8 31.4m4.7 -9.9l-4.7 9.9l-7.5 -8.1M1228.5 523l2.3 30.1m5.4 -9.6l-5.4 9.6l-6.8 -8.6M1255.5 523l-1.3 26.2m6.6 -8.8l-6.6 8.8l-5.7 -9.4M1282.5 523l-1.6 31.9m6.6 -8.8l-6.6 8.8l-5.7 -9.4M1336.5 523l-5 28.5m7.6 -7.9l-7.6 7.9l-4.5 -10M1363.4 523l-1 26.8m6.5 -8.9l-6.5 8.9l-5.8 -9.3M1093.5 539.2l1.3 27.3m5.7 -9.4l-5.7 9.4l-6.6 -8.8M1120.5 539.2l1.7 26.3m5.6 -9.5l-5.6 9.5l-6.7 -8.7M1147.5 539.2l11.8 25m1.7 -10.9l-1.7 10.9l-9.4 -5.6M1174.5 539.2l21.2 22.9m-1.7 -10.9l1.7 10.9l-10.7 -2.5M1201.5 539.2l17.5 26.4m0.1 -11l-0.1 11l-10.2 -4.2M1228.5 539.2l-0.7 28.1m6.4 -9l-6.4 9l-5.9 -9.3M1255.5 539.2l1.5 28.7m5.7 -9.4l-5.7 9.4l-6.6 -8.8M1282.5 539.2l0.1 30.6m6.1 -9.1l-6.1 9.1l-6.2 -9.1M1336.5 539.2l-0.6 31.5m6.3 -9l-6.3 9l-6 -9.2M1363.4 539.2l-1.4 27.6m6.6 -8.8l-6.6 8.8l-5.7 -9.4M1093.5 555.4l-2.9 24.6m7.2 -8.3l-7.2 8.3l-5 -9.8M1120.5 555.4l1.4 26.4m5.7 -9.4l-5.7 9.4l-6.6 -8.8M1147.5 555.4l11.8 27.6m2.1 -10.8l-2.1 10.8l-9.2 -6M1174.5 555.4l20.9 22.1m-1.8 -10.8l1.8 10.8l-10.7 -2.4M1201.5 555.4l15.8 23.1m-0.1 -11l0.1 11l-10.2 -4.1M1228.5 555.4l0 31.3m6.1 -9.1l-6.1 9.1l-6.2 -9.1M1255.5 555.4l1.1 26m5.8 -9.4l-5.8 9.4l-6.5 -8.8M1282.5 555.4l-0.7 27.6m6.4 -9l-6.4 9l-5.9 -9.3M1336.5 555.4l-0.2 27.7m6.2 -9.1l-6.2 9.1l-6.1 -9.2M1363.4 555.4l-0.6 25.6m6.4 -9l-6.4 9l-5.9 -9.3M1093.5 571.5l-0.1 24m6.2 -9.1l-6.2 9.1l-6.1 -9.1M1120.5 571.5l-0.1 24.8m6.2 -9.1l-6.2 9.1l-6.1 -9.1M1147.5 571.5l9.4 23.8m2.4 -10.7l-2.4 10.7l-9.1 -6.2M1174.5 571.5l19.8 20m-2 -10.8l2 10.8l-10.8 -2.1M1201.5 571.5l16.4 21.8m-0.6 -11l0.6 11l-10.4 -3.6M1228.5 571.5l2 31.4m5.6 -9.5l-5.6 9.5l-6.7 -8.7M1255.5 571.5l-5.2 31m7.6 -8l-7.6 8l-4.6 -10M1363.4 571.5l0.5 28.3m6 -9.2l-6 9.2l-6.3 -9M1201.5 587.7l-2.7 25.2m7.1 -8.4l-7.1 8.4l-5.2 -9.7M1363.4 587.7l1.3 28.4m5.7 -9.4l-5.7 9.4l-6.6 -8.8M1390.4 587.7l3 22.1m4.9 -9.9l-4.9 9.9l-7.3 -8.2M1120.5 603.9l-2.5 21.5m7.2 -8.3l-7.2 8.3l-5.1 -9.8M1201.5 603.9l-5.4 27.7m7.8 -7.8l-7.8 7.8l-4.3 -10.1M1363.4 603.9l-1.6 26.1m6.7 -8.7l-6.7 8.7l-5.6 -9.5M1390.4 603.9l4.2 23.6m4.5 -10.1l-4.5 10.1l-7.6 -7.9M1201.5 620.1l-2.6 24.9m7.1 -8.4l-7.1 8.4l-5.2 -9.7M1363.4 620.1l0.4 28.7m6 -9.2l-6 9.2l-6.3 -9M1390.4 620.1l6.1 21.9m3.5 -10.4l-3.5 10.4l-8.4 -7.1M1174.5 636.3l-1.6 26.3m6.7 -8.7l-6.7 8.7l-5.6 -9.5M1201.5 636.3l-6.1 27.8m8 -7.6l-8 7.6l-4.1 -10.2M1363.4 636.3l5.1 29.5m4.5 -10l-4.5 10l-7.6 -7.9M1390.4 636.3l9.5 22.4m2.1 -10.8l-2.1 10.8l-9.2 -6M1174.5 652.5l-3.5 27.2m7.3 -8.3l-7.3 8.3l-4.9 -9.8M1201.5 652.5l-5.6 28.3m7.8 -7.8l-7.8 7.8l-4.3 -10.1M1363.4 652.5l-0.2 28.4m6.2 -9.1l-6.2 9.1l-6.1 -9.2M1390.4 652.5l9.1 22.4m2.3 -10.8l-2.3 10.8l-9.1 -6.1M1417.4 652.5l19.1 -12.9m-11 0l11 0l-4.1 10.2M1174.5 668.7l-0.2 25.3m6.2 -9.1l-6.2 9.1l-6.1 -9.2M1201.5 668.7l-2.9 31.3m7 -8.5l-7 8.5l-5.3 -9.6M1255.5 668.7l-1 30.3m6.5 -8.9l-6.5 8.9l-5.8 -9.3M1309.5 668.7l1.8 30.1m5.6 -9.5l-5.6 9.5l-6.7 -8.7M1336.5 668.7l9.2 29.3m3.1 -10.5l-3.1 10.5l-8.6 -6.9M1363.4 668.7l16.2 20.5m-0.8 -11l0.8 11l-10.5 -3.4M1390.4 668.7l19.4 13.2m-4.1 -10.2l4.1 10.2l-11 0M1147.5 684.9l0.3 24.5m6 -9.2l-6 9.2l-6.3 -9M1174.5 684.9l-3.6 27m7.3 -8.2l-7.3 8.2l-4.9 -9.9M1201.5 684.9l-5.4 27.8m7.8 -7.8l-7.8 7.8l-4.3 -10.1M1255.5 684.9l0.2 28.1m6.1 -9.2l-6.1 9.2l-6.2 -9.1M1282.5 684.9l0.5 27.3m6 -9.2l-6 9.2l-6.3 -9M1309.5 684.9l8 29.7m3.6 -10.4l-3.6 10.4l-8.3 -7.2M1336.5 684.9l10.7 23.8m1.9 -10.8l-1.9 10.8l-9.3 -5.8M1363.4 684.9l13 21.3m0.5 -11l-0.5 11l-10 -4.6M1390.4 684.9l23.7 -0.7m-9.3 -5.9l9.3 5.9l-8.9 6.4M1147.5 701.1l2.6 24.9m5.2 -9.7l-5.2 9.7l-7.1 -8.4M1174.5 701.1l-2.4 28.5m6.9 -8.6l-6.9 8.6l-5.3 -9.6M1201.5 701.1l4.1 28.6m4.8 -9.9l-4.8 9.9l-7.4 -8.2M1255.5 701.1l-0.9 30.9m6.4 -8.9l-6.4 8.9l-5.9 -9.3M1282.5 701.1l9.5 29.7m3.1 -10.6l-3.1 10.6l-8.6 -6.8M1336.5 701.1l14.3 27.4m1.2 -10.9l-1.2 10.9l-9.7 -5.2M1363.4 701.1l20.5 17.8m-2.9 -10.6l2.9 10.6l-10.9 -1.3M1390.4 701.1l23.2 0.7m-8.9 -6.4l8.9 6.4l-9.3 5.9M1120.5 717.3l19.3 13.4m-4 -10.3l4 10.3l-11 -0.2M1147.5 717.3l13.3 20.4m0.2 -11l-0.2 11l-10.1 -4.3M1174.5 717.3l23.9 15.3m-4.4 -10.1l4.4 10.1l-11 0.3M1120.5 733.4l20.6 13.8m-4.2 -10.2l4.2 10.2l-11 0M1147.5 733.4l25.6 11.4m-5.8 -9.3l5.8 9.3l-10.8 1.9M1174.5 733.4l28.6 2.9m-8.5 -7l8.5 7l-9.7 5.2M1282.5 749.6l15.8 27.3m0.8 -11l-0.8 11l-9.9 -4.8M1309.5 749.6l7.9 25.8m3.2 -10.5l-3.2 10.5l-8.5 -6.9M1363.4 749.6l11.8 27m2 -10.8l-2 10.8l-9.3 -5.9M1390.4 749.6l3.8 27.3m4.9 -9.9l-4.9 9.9l-7.3 -8.2M1309.5 765.8l-2.9 21.7m7.3 -8.2l-7.3 8.2l-4.9 -9.8M1363.4 765.8l1.8 25.5m5.5 -9.5l-5.5 9.5l-6.8 -8.7M1390.4 765.8l4.3 28.9m4.7 -9.9l-4.7 9.9l-7.4 -8.1M1417.4 765.8l20.4 15.6m-3.5 -10.4l3.5 10.4l-11 -0.7M2227.1 765.8l16.3 17m-1.9 -10.8l1.9 10.8l-10.8 -2.3M1363.4 782l0.9 30.3m5.9 -9.3l-5.9 9.3l-6.4 -8.9M1471.4 782l30.3 2.2m-8.7 -6.8l8.7 6.8l-9.5 5.5M1174.5 798.2l-0.6 27.4m6.4 -9l-6.4 9l-5.9 -9.3M1498.4 798.2l28.6 -7.9m-10.4 -3.5l10.4 3.5l-7.2 8.3M1957.2 798.2l26.1 -6.6m-10.4 -3.7l10.4 3.7l-7.3 8.2M1984.2 798.2l24.7 -8.9m-10.7 -2.7l10.7 2.7l-6.5 8.9M2011.2 798.2l25.2 -5.8m-10.3 -3.9l10.3 3.9l-7.5 8M2038.2 798.2l28.9 -1.2m-9.4 -5.8l9.4 5.8l-8.9 6.5M2065.2 798.2l25.9 -6.7m-10.4 -3.7l10.4 3.7l-7.3 8.2M2092.2 798.2l26.2 -6.5m-10.3 -3.8l10.3 3.8l-7.4 8.2M2119.2 798.2l24.3 -7.1m-10.5 -3.3l10.5 3.3l-7 8.5M1174.5 814.4l4.4 28.3m4.7 -10l-4.7 10l-7.5 -8.1M1255.5 814.4l-20.6 20m10.8 -1.9l-10.8 1.9l2.2 -10.8M1282.5 814.4l-25.4 11.9m10.9 1.7l-10.9 -1.7l5.6 -9.4M1498.4 814.4l24.4 15.4m-4.4 -10.1l4.4 10.1l-11 0.3M1903.2 814.4l26.3 -1.9m-9.5 -5.5l9.5 5.5l-8.7 6.8M1930.2 814.4l28.2 1.4m-8.8 -6.6l8.8 6.6l-9.4 5.7M1957.2 814.4l27.6 -1.2m-9.4 -5.8l9.4 5.8l-8.8 6.5M1984.2 814.4l27.1 -2.6m-9.7 -5.3l9.7 5.3l-8.5 7M2011.2 814.4l26.8 -0.2m-9.2 -6.1l9.2 6.1l-9.1 6.2M2038.2 814.4l30.4 -4.7m-10 -4.7l10 4.7l-8.1 7.5M2065.2 814.4l30.1 -2.7m-9.6 -5.3l9.6 5.3l-8.5 7M2092.2 814.4l23.5 -8.3m-10.7 -2.7l10.7 2.7l-6.5 8.8M1255.5 830.6l-23.2 21.1m10.9 -1.6l-10.9 1.6l2.6 -10.7M1282.5 830.6l-25.8 4.7m10.1 4.4l-10.1 -4.4l7.9 -7.7M1525.4 830.6l26.6 13.4m-5.4 -9.6l5.4 9.6l-10.9 1.4M1552.4 830.6l25.8 7.1m-7.2 -8.3l7.2 8.3l-10.4 3.5M1579.4 830.6l25.1 7.8m-6.9 -8.6l6.9 8.6l-10.5 3.2M1633.3 830.6l24.2 4.3m-7.9 -7.7l7.9 7.7l-10.1 4.5M1660.3 830.6l22.3 6.7m-7 -8.5l7 8.5l-10.5 3.3M1363.4 846.8l25.3 18.6m-3.7 -10.4l3.7 10.4l-11 -0.4M1552.4 846.8l7.6 29.8m3.7 -10.4l-3.7 10.4l-8.2 -7.3M1579.4 846.8l10.2 28m2.6 -10.7l-2.6 10.7l-8.9 -6.5M1606.4 846.8l8.9 24.2m2.6 -10.7l-2.6 10.7l-8.9 -6.4M1633.3 846.8l7.5 27.5m3.5 -10.4l-3.5 10.4l-8.3 -7.2M1660.3 846.8l10.6 23.6m1.9 -10.8l-1.9 10.8l-9.4 -5.8M1768.3 846.8l22.6 15.1m-4.2 -10.2l4.2 10.2l-11 0.1M1309.5 863l4.2 21.3m4.2 -10.1l-4.2 10.1l-7.8 -7.7M1336.5 863l24.3 20.9m-2.9 -10.6l2.9 10.6l-10.9 -1.3M1606.4 863l-0.1 27.9m6.2 -9.1l-6.2 9.1l-6.1 -9.1M1633.3 863l1.8 26.8m5.5 -9.5l-5.5 9.5l-6.7 -8.7M1660.3 863l-2.7 27.5m7 -8.5l-7 8.5l-5.2 -9.7M1714.3 863l7 24.5m3.4 -10.5l-3.4 10.5l-8.4 -7.1M1741.3 863l-5.9 24m8.2 -7.4l-8.2 7.4l-3.8 -10.3M1363.4 879.2l-6.3 23.2m8.3 -7.2l-8.3 7.2l-3.5 -10.4M1444.4 879.2l15.2 25.7m0.6 -11l-0.6 11l-9.9 -4.7M1606.4 879.2l-1.6 28.3m6.6 -8.8l-6.6 8.8l-5.6 -9.4M1633.3 879.2l-3 30.1m7 -8.5l-7 8.5l-5.2 -9.7M1660.3 879.2l2.4 28.8m5.4 -9.6l-5.4 9.6l-6.9 -8.6M1687.3 879.2l4.5 29.2m4.7 -9.9l-4.7 9.9l-7.5 -8.1M1714.3 879.2l2.9 25.9m5.1 -9.7l-5.1 9.7l-7.1 -8.4M1741.3 879.2l-0.9 25.4m6.5 -8.9l-6.5 8.9l-5.8 -9.3M1174.5 895.3l24 -19.1m-11 0.9l11 -0.9l-3.3 10.5M1363.4 895.3l-10.2 23m9.3 -5.8l-9.3 5.8l-1.9 -10.8M1687.3 895.3l29.3 10m-6.6 -8.8l6.6 8.8l-10.6 2.9M1309.5 911.5l-22.9 13.8m11 0.6l-11 -0.6l4.6 -10M1336.5 911.5l-17.7 21m10.6 -3l-10.6 3l1.2 -10.9M1552.4 911.5l23.6 -14.2m-11 -0.6l11 0.6l-4.6 10M1633.3 911.5l29.2 7.9m-7.2 -8.3l7.2 8.3l-10.4 3.5M1255.5 927.7l-24 4.2m10.1 4.5l-10.1 -4.5l7.9 -7.6M1282.5 927.7l-31 6m10.1 4.3l-10.1 -4.3l7.8 -7.8M1309.5 927.7l-29.7 5.2m10 4.5l-10 -4.5l7.9 -7.6M1660.3 927.7l31.3 -4.5m-9.9 -4.8l9.9 4.8l-8.1 7.4M1687.3 927.7l27.2 -3.5m-9.8 -4.9l9.8 4.9l-8.3 7.3M1093.5 943.9l25.5 4.8m-7.8 -7.7l7.8 7.7l-10.1 4.4M1201.5 943.9l-24.3 6.7m10.4 3.5l-10.4 -3.5l7.2 -8.3M1228.5 943.9l-26.5 5.5m10.2 4.2l-10.2 -4.2l7.7 -7.9M1417.4 943.9l-18.6 23.4m10.5 -3.3l-10.5 3.3l0.8 -11M1201.5 960.1l-19.6 14.6m11 -0.5l-11 0.5l3.6 -10.4M1228.5 960.1l-21.4 11.2m10.9 1.2l-10.9 -1.2l5.2 -9.7M1255.5 960.1l-28.4 -2.6m8.5 7l-8.5 -7l9.6 -5.3M1282.5 960.1l-27.5 -2.9m8.4 7.1l-8.4 -7.1l9.7 -5.2M1336.5 960.1l-25.2 -4.6m7.9 7.7l-7.9 -7.7l10.1 -4.4M1444.4 960.1l-1.6 24m6.7 -8.7l-6.7 8.7l-5.5 -9.5M1552.4 960.1l16.4 26.9m0.5 -11l-0.5 11l-10 -4.6M1606.4 960.1l22 -19.7m-10.9 1.5l10.9 -1.5l-2.7 10.7M1120.5 976.3l-7.4 24.5m8.5 -6.9l-8.5 6.9l-3.2 -10.5M1201.5 976.3l-9.2 20.4m9.4 -5.8l-9.4 5.8l-1.9 -10.8M1228.5 976.3l-11.6 19.4m10 -4.6l-10 4.6l-0.6 -11M1444.4 976.3l1.6 25.8m5.6 -9.5l-5.6 9.5l-6.7 -8.7M1552.4 976.3l17.9 22.7m-0.8 -11l0.8 11l-10.5 -3.4M1606.4 976.3l26.8 -7.7m-10.5 -3.4l10.5 3.4l-7.1 8.4M1444.4 992.5l2.4 26.3m5.3 -9.6l-5.3 9.6l-6.9 -8.5M1552.4 992.5l16.4 22.9m-0.3 -11l0.3 11l-10.3 -3.8M1633.3 992.5l13.9 -25.3m-9.8 5l9.8 -5l1 11M1039.6 1008.7l7.6 23.7m3.1 -10.6l-3.1 10.6l-8.6 -6.8M1147.5 1008.7l11.4 19.6m0.7 -11l-0.7 11l-9.9 -4.8M1201.5 1008.7l15.1 18.1m-1.1 -10.9l1.1 10.9l-10.6 -3M1633.3 1008.7l7.3 -26.1m-8.4 7.1l8.4 -7.1l3.5 10.4M1660.3 1008.7l27 12.6m-5.7 -9.4l5.7 9.4l-10.9 1.7M1687.3 1008.7l23.5 15.7m-4.2 -10.2l4.2 10.2l-11 0M1039.6 1024.9l9.7 24.5m2.4 -10.7l-2.4 10.7l-9.1 -6.2M1120.5 1024.9l18.1 20.5m-1.4 -10.9l1.4 10.9l-10.6 -2.8M1147.5 1024.9l12.8 22.4m0.8 -11l-0.8 11l-9.9 -4.9M1201.5 1024.9l13.4 19.3m-0.1 -11l0.1 11l-10.3 -4M1390.4 1024.9l18.2 13.4m-3.7 -10.4l3.7 10.4l-11 -0.4M1417.4 1024.9l13.3 22.9m0.8 -11l-0.8 11l-9.9 -4.8M1498.4 1024.9l-20.5 15.4m11 -0.5l-11 0.5l3.6 -10.4M1660.3 1024.9l28.1 14.3m-5.3 -9.6l5.3 9.6l-10.9 1.3M1687.3 1024.9l20.6 16.2m-3.4 -10.5l3.4 10.5l-11 -0.8M1714.3 1024.9l20.9 12.2m-4.8 -9.9l4.8 9.9l-11 0.7M1012.6 1041l11 21.9m1.4 -10.9l-1.4 10.9l-9.6 -5.4M1039.6 1041l11.4 23.9m1.6 -10.9l-1.6 10.9l-9.5 -5.6M1066.6 1041l6.3 23.4m3.6 -10.4l-3.6 10.4l-8.3 -7.2M1093.5 1041l12.6 23m1 -11l-1 11l-9.8 -5.1M1120.5 1041l18.1 17.8m-2.2 -10.8l2.2 10.8l-10.8 -2M1147.5 1041l15.6 19.4m-0.9 -11l0.9 11l-10.5 -3.3M1174.5 1041l15.2 20.3m-0.6 -11l0.6 11l-10.4 -3.6M1228.5 1041l18.5 20.6m-1.5 -10.9l1.5 10.9l-10.7 -2.7M1255.5 1041l10.5 22.3m1.7 -10.9l-1.7 10.9l-9.4 -5.6M1417.4 1041l15.1 23.2m0.2 -11l-0.2 11l-10.1 -4.3M1660.3 1041l22.7 16m-3.9 -10.3l3.9 10.3l-11 -0.2M1687.3 1041l24.5 15.1m-4.5 -10l4.5 10l-11 0.4M1714.3 1041l27 12.2m-5.8 -9.4l5.8 9.4l-10.8 1.8M1012.6 1057.2l10.7 20.3m1.2 -10.9l-1.2 10.9l-9.7 -5.2M1039.6 1057.2l11.3 23.6m1.6 -10.9l-1.6 10.9l-9.5 -5.6M1066.6 1057.2l8.8 28m3.1 -10.5l-3.1 10.5l-8.6 -6.8M1093.5 1057.2l17.4 19.8m-1.4 -10.9l1.4 10.9l-10.6 -2.8M1120.5 1057.2l20.8 19.6m-2.4 -10.7l2.4 10.7l-10.9 -1.8M1147.5 1057.2l19.6 19m-2.3 -10.8l2.3 10.8l-10.8 -1.9M1174.5 1057.2l19.1 15.8m-3.1 -10.6l3.1 10.6l-10.9 -1.1M1228.5 1057.2l14 23.9m0.7 -11l-0.7 11l-9.9 -4.8M1255.5 1057.2l11 23.4m1.7 -10.9l-1.7 10.9l-9.4 -5.6M1687.3 1057.2l21.3 15.1m-3.9 -10.3l3.9 10.3l-11 -0.3M1714.3 1057.2l22.7 14.5m-4.4 -10.1l4.4 10.1l-11 0.3M1012.6 1073.4l11.5 24m1.6 -10.9l-1.6 10.9l-9.5 -5.6M1039.6 1073.4l10.2 24.5m2.2 -10.8l-2.2 10.8l-9.2 -6.1M1066.6 1073.4l8.8 25.2m2.8 -10.6l-2.8 10.6l-8.8 -6.6M1093.5 1073.4l5.7 28.4m4.2 -10.2l-4.2 10.2l-7.8 -7.7M1201.5 1073.4l30.4 10.3m-6.7 -8.8l6.7 8.8l-10.6 2.9M1255.5 1073.4l6.9 25.8m3.6 -10.4l-3.6 10.4l-8.3 -7.2M1687.3 1073.4l20.6 17.3m-3 -10.6l3 10.6l-10.9 -1.1M1714.3 1073.4l23.5 14m-4.7 -10l4.7 10l-11 0.6M1741.3 1073.4l23.4 15.8m-4.1 -10.2l4.1 10.2l-11 0M985.6 1089.6l15.1 20.9m-0.3 -11l0.3 11l-10.3 -3.8M1012.6 1089.6l11.4 23.7m1.6 -10.9l-1.6 10.9l-9.5 -5.6M1039.6 1089.6l12 26.3m1.8 -10.8l-1.8 10.8l-9.4 -5.7M1066.6 1089.6l8.7 28.3m3.2 -10.5l-3.2 10.5l-8.6 -6.9M1093.5 1089.6l3.4 27.9m5 -9.8l-5 9.8l-7.2 -8.3M1201.5 1089.6l25.7 2.4m-8.5 -7l8.5 7l-9.7 5.3M1228.5 1089.6l16.2 23.5m-0.1 -11l0.1 11l-10.2 -4M1255.5 1089.6l6.2 22.9m3.5 -10.4l-3.5 10.4l-8.3 -7.2M1687.3 1089.6l25.3 19.3m-3.5 -10.4l3.5 10.4l-11 -0.6M1714.3 1089.6l24.2 15.4m-4.4 -10.1l4.4 10.1l-11 0.3M1741.3 1089.6l24.5 14m-4.9 -9.9l4.9 9.9l-11 0.8M985.6 1105.8l11.5 21.9m1.2 -10.9l-1.2 10.9l-9.7 -5.2M1012.6 1105.8l12.7 24.7m1.3 -10.9l-1.3 10.9l-9.6 -5.3M1039.6 1105.8l7 27.8m3.7 -10.3l-3.7 10.3l-8.2 -7.3M1066.6 1105.8l5.2 26.2m4.3 -10.1l-4.3 10.1l-7.8 -7.8M1093.5 1105.8l2.8 27.9m5.2 -9.7l-5.2 9.7l-7 -8.5M1174.5 1105.8l24.9 -0.3m-9.2 -6l9.2 6l-9 6.3M1201.5 1105.8l21.7 9.7m-5.8 -9.3l5.8 9.3l-10.8 1.9M1390.4 1105.8l8 20.8m2.4 -10.7l-2.4 10.7l-9 -6.3M1714.3 1105.8l19.5 18.6m-2.3 -10.7l2.3 10.7l-10.8 -1.9M1741.3 1105.8l20.2 15.5m-3.5 -10.4l3.5 10.4l-11 -0.7M310.8 1122l28.8 -5.1m-10 -4.5l10 4.5l-7.9 7.6M337.8 1122l28 -8.7m-10.5 -3.2l10.5 3.2l-6.9 8.6M364.8 1122l25.7 -4.1m-10 -4.6l10 4.6l-8 7.5M985.6 1122l18.9 22.8m-1.1 -10.9l1.1 10.9l-10.6 -3.1M1093.5 1122l5 28.8m4.5 -10l-4.5 10l-7.6 -7.9M1201.5 1122l20.4 12.1m-4.7 -9.9l4.7 9.9l-11 0.7M1390.4 1122l9 21.2m2.1 -10.8l-2.1 10.8l-9.2 -6M1714.3 1122l17 26.7m0.3 -11l-0.3 11l-10.1 -4.4M1741.3 1122l12 18.9m0.3 -11l-0.3 11l-10.1 -4.4M1768.3 1122l13.9 17.5m-0.9 -11l0.9 11l-10.5 -3.3M283.8 1138.2l15.2 -24.2m-10.1 4.4l10.1 -4.4l0.4 11M364.8 1138.2l23.9 -8.4m-10.6 -2.8l10.6 2.8l-6.6 8.8M391.8 1138.2l22.3 -5.6m-10.3 -3.7l10.3 3.7l-7.3 8.2M958.6 1138.2l22.1 10.7m-5.5 -9.5l5.5 9.5l-10.9 1.6M985.6 1138.2l19.1 21.1m-1.6 -10.9l1.6 10.9l-10.7 -2.6M1174.5 1138.2l27.8 7.3m-7.3 -8.3l7.3 8.3l-10.4 3.6M1201.5 1138.2l21.9 15.2m-4 -10.3l4 10.3l-11 -0.1M1390.4 1138.2l18.2 18.8m-1.9 -10.8l1.9 10.8l-10.8 -2.3M1417.4 1138.2l20.5 21.5m-1.8 -10.8l1.8 10.8l-10.7 -2.4M1471.4 1138.2l22.3 -7.6m-10.6 -2.9l10.6 2.9l-6.6 8.8M1714.3 1138.2l13.6 24.1m0.9 -11l-0.9 11l-9.9 -4.9M256.9 1154.4l21.3 -5.7m-10.4 -3.6l10.4 3.6l-7.2 8.3M364.8 1154.4l25.8 -4.7m-10.1 -4.4l10.1 4.4l-7.9 7.7M391.8 1154.4l27 -2.9m-9.7 -5.2l9.7 5.2l-8.4 7.1M958.6 1154.4l23.3 7.4m-6.8 -8.6l6.8 8.6l-10.6 3.1M985.6 1154.4l26.3 3m-8.4 -7.1l8.4 7.1l-9.8 5.1M1174.5 1154.4l21.3 10.9m-5.3 -9.6l5.3 9.6l-10.9 1.3M1201.5 1154.4l14.2 18.3m-0.7 -11l0.7 11l-10.5 -3.4M1390.4 1154.4l18.4 16.9m-2.6 -10.7l2.6 10.7l-10.9 -1.6M1417.4 1154.4l21.5 16.9m-3.4 -10.5l3.4 10.5l-11 -0.8M1444.4 1154.4l21.9 19.1m-2.8 -10.6l2.8 10.6l-10.9 -1.4M1714.3 1154.4l11.2 24.2m1.7 -10.9l-1.7 10.9l-9.4 -5.7M283.8 1170.6l24.2 -15.8m-11 -0.2l11 0.2l-4.3 10.1M364.8 1170.6l27.4 -4m-9.9 -4.8l9.9 4.8l-8.1 7.4M391.8 1170.6l26.4 -5.3m-10.1 -4.2l10.1 4.2l-7.7 7.8M1012.6 1170.6l12.6 23.1m1 -11l-1 11l-9.8 -5.1M1174.5 1170.6l18.9 16.5m-2.8 -10.6l2.8 10.6l-10.9 -1.4M1417.4 1170.6l25.1 17.6m-3.9 -10.3l3.9 10.3l-11 -0.2M1444.4 1170.6l24 15.6m-4.3 -10.1l4.3 10.1l-11 0.2M1714.3 1170.6l23.1 16.5m-3.8 -10.3l3.8 10.3l-11 -0.3M1741.3 1170.6l25.2 -8.1m-10.6 -3l10.6 3l-6.8 8.7M364.8 1186.8l29.3 -0.8m-9.3 -5.9l9.3 5.9l-9 6.4M391.8 1186.8l25.8 -1.4m-9.4 -5.6l9.4 5.6l-8.8 6.7M418.8 1186.8l26.3 -2.2m-9.6 -5.4l9.6 5.4l-8.6 6.9M1012.6 1186.8l10.5 25.8m2.3 -10.8l-2.3 10.8l-9.1 -6.1M1147.5 1186.8l14 24.4m0.8 -11l-0.8 11l-9.9 -4.9M1174.5 1186.8l17.7 21.4m-1.1 -10.9l1.1 10.9l-10.6 -3.1M1336.5 1186.8l23.3 2.9m-8.3 -7.2l8.3 7.2l-9.8 5M1363.4 1186.8l23.8 9.7m-6.1 -9.1l6.1 9.1l-10.8 2.3M1714.3 1186.8l27.2 -0.8m-9.3 -5.9l9.3 5.9l-8.9 6.4M1741.3 1186.8l24.2 -8.2m-10.6 -2.9l10.6 2.9l-6.7 8.8M310.8 1203l3.8 -28.7m-7.3 8.2l7.3 -8.2l4.9 9.9M364.8 1203l26.3 1.2m-8.8 -6.6l8.8 6.6l-9.4 5.7M391.8 1203l28.6 -0.1m-9.1 -6.1l9.1 6.1l-9.1 6.2M418.8 1203l28.5 -7.8m-10.4 -3.5l10.4 3.5l-7.2 8.3M931.6 1203l26.5 -7.1m-10.4 -3.6l10.4 3.6l-7.2 8.3M1012.6 1203l11.4 26.1m2 -10.8l-2 10.8l-9.3 -5.9M1147.5 1203l15.4 23.1m0.1 -11l-0.1 11l-10.2 -4.2M1174.5 1203l12 22.3m1.1 -10.9l-1.1 10.9l-9.7 -5.1M1309.5 1203l22.7 8.8m-6.3 -9l6.3 9l-10.7 2.4M1336.5 1203l25.6 1.1m-8.8 -6.5l8.8 6.5l-9.4 5.7M1363.4 1203l24.3 12.6m-5.3 -9.6l5.3 9.6l-10.9 1.3M1714.3 1203l29.3 8.7m-7 -8.5l7 8.5l-10.5 3.3M310.8 1219.1l0 -30.1m-6.2 9.1l6.2 -9.1l6.1 9.1M418.8 1219.1l29.9 2.5m-8.6 -6.9l8.6 6.9l-9.6 5.4M985.6 1219.1l13.8 18.9m-0.4 -11l0.4 11l-10.3 -3.7M1012.6 1219.1l15.5 25.5m0.5 -11l-0.5 11l-10 -4.6M1147.5 1219.1l8.1 27.1m3.3 -10.5l-3.3 10.5l-8.5 -7M1174.5 1219.1l13.5 26.3m1.3 -10.9l-1.3 10.9l-9.6 -5.3M1201.5 1219.1l12.3 19m0.2 -11l-0.2 11l-10.1 -4.3M1228.5 1219.1l14.1 18.7m-0.6 -11l0.6 11l-10.4 -3.6M1255.5 1219.1l17.5 15.5m-2.7 -10.7l2.7 10.7l-10.9 -1.4M1282.5 1219.1l23 10.9m-5.6 -9.5l5.6 9.5l-10.9 1.7M1309.5 1219.1l27.8 5.6m-7.7 -7.8l7.7 7.8l-10.2 4.2M1336.5 1219.1l20.6 7.3m-6.6 -8.8l6.6 8.8l-10.6 2.8M1363.4 1219.1l22.6 12.3m-5.1 -9.8l5.1 9.8l-11 1M1390.4 1219.1l25.8 14.5m-4.9 -9.8l4.9 9.8l-11 0.9M1417.4 1219.1l26.2 6.2m-7.4 -8.1l7.4 8.1l-10.3 3.9M391.8 1235.3l26.7 11.4m-6 -9.2l6 9.2l-10.8 2.1M418.8 1235.3l29 4.9m-8 -7.6l8 7.6l-10 4.5M904.6 1235.3l7.1 -26.6m-8.3 7.2l8.3 -7.2l3.6 10.4M985.6 1235.3l14.7 21.3m-0.1 -11l0.1 11l-10.2 -4M1012.6 1235.3l11.6 25.3m1.8 -10.9l-1.8 10.9l-9.4 -5.7M1174.5 1235.3l14.6 24.5m0.6 -11l-0.6 11l-9.9 -4.7M1201.5 1235.3l13.1 18.9m-0.1 -11l0.1 11l-10.2 -4M1228.5 1235.3l17.4 17.6m-2 -10.8l2 10.8l-10.8 -2.2M1255.5 1235.3l21.4 16m-3.6 -10.4l3.6 10.4l-11 -0.5M1282.5 1235.3l23.2 12.8m-5 -9.8l5 9.8l-11 1M1309.5 1235.3l26.5 6.3m-7.5 -8.1l7.5 8.1l-10.3 3.9M1336.5 1235.3l26 9.6m-6.4 -8.9l6.4 8.9l-10.7 2.6M1363.4 1235.3l27.2 9.9m-6.5 -8.9l6.5 8.9l-10.7 2.7M1390.4 1235.3l24 13.8m-4.8 -9.9l4.8 9.9l-11 0.8M364.8 1251.5l26.2 -10.6m-10.8 -2.3l10.8 2.3l-6.2 9.1M391.8 1251.5l25 5.9m-7.5 -8.1l7.5 8.1l-10.3 3.9M418.8 1251.5l27.1 -0.2m-9.2 -6.1l9.2 6.1l-9.1 6.2M958.6 1251.5l21.2 17.5m-3.1 -10.6l3.1 10.6l-10.9 -1.1M985.6 1251.5l14 22.6m0.4 -11l-0.4 11l-10 -4.5M1012.6 1251.5l12.1 28.6m2.1 -10.8l-2.1 10.8l-9.2 -6M1039.6 1251.5l8.8 29.2m3.3 -10.5l-3.3 10.5l-8.5 -7M1201.5 1251.5l20.4 17.5m-2.9 -10.6l2.9 10.6l-10.9 -1.2M1363.4 1251.5l24 5.5m-7.5 -8l7.5 8l-10.3 4M364.8 1267.7l26 -11.3m-10.8 -2l10.8 2l-5.9 9.3M391.8 1267.7l25.6 6.1m-7.4 -8.1l7.4 8.1l-10.3 3.9M418.8 1267.7l28 -1.4m-9.4 -5.7l9.4 5.7l-8.8 6.6M958.6 1267.7l21.4 16.5m-3.5 -10.4l3.5 10.4l-11 -0.7M985.6 1267.7l17 23.9m-0.3 -11l0.3 11l-10.3 -3.9M1012.6 1267.7l11.1 24.3m1.8 -10.9l-1.8 10.9l-9.4 -5.7M1201.5 1267.7l23.2 16.7m-3.8 -10.3l3.8 10.3l-11 -0.3M1228.5 1267.7l27.6 12.7m-5.7 -9.4l5.7 9.4l-10.9 1.8M1363.4 1267.7l26.5 -1.6m-9.5 -5.6l9.5 5.6l-8.7 6.7M337.8 1283.9l24.8 -15m-11 -0.5l11 0.5l-4.6 10M364.8 1283.9l28.5 -7m-10.3 -3.8l10.3 3.8l-7.4 8.1M391.8 1283.9l25.6 1.9m-8.6 -6.8l8.6 6.8l-9.5 5.5M418.8 1283.9l28.9 0.4m-9 -6.3l9 6.3l-9.2 6M445.8 1283.9l29.5 0.1m-9.1 -6.2l9.1 6.2l-9.1 6.1M472.8 1283.9l24.6 3.1m-8.3 -7.2l8.3 7.2l-9.8 5M931.6 1283.9l17 21.8m-0.8 -11l0.8 11l-10.5 -3.4M985.6 1283.9l12.7 26.9m1.7 -10.9l-1.7 10.9l-9.5 -5.6M1012.6 1283.9l10.8 24.1m1.9 -10.8l-1.9 10.8l-9.3 -5.8M1174.5 1283.9l21.6 15.8m-3.7 -10.4l3.7 10.4l-11 -0.4M1201.5 1283.9l21.2 14.5m-4.1 -10.2l4.1 10.2l-11 -0.1M1228.5 1283.9l27.4 10.5m-6.3 -9l6.3 9l-10.7 2.5M310.8 1300.1l22.7 -13.9m-11 -0.5l11 0.5l-4.5 10M337.8 1300.1l26.7 -11.4m-10.8 -2.1l10.8 2.1l-6 9.2M364.8 1300.1l28 -8.4m-10.5 -3.3l10.5 3.3l-7 8.5M391.8 1300.1l26 -5m-10.1 -4.3l10.1 4.3l-7.8 7.8M418.8 1300.1l26.5 -7m-10.4 -3.6l10.4 3.6l-7.3 8.3M472.8 1300.1l26.5 -1.1m-9.4 -5.8l9.4 5.8l-8.8 6.5M499.8 1300.1l11.7 24.5m1.6 -10.9l-1.6 10.9l-9.5 -5.6M769.7 1300.1l24.6 5.5m-7.6 -8l7.6 8l-10.2 4M796.7 1300.1l22.6 2.2m-8.5 -7l8.5 7l-9.7 5.2M823.6 1300.1l24.9 -1.4m-9.4 -5.6l9.4 5.6l-8.8 6.7M1174.5 1300.1l22.7 14.7m-4.3 -10.1l4.3 10.1l-11 0.2M1201.5 1300.1l22.3 15.4m-4 -10.2l4 10.2l-11 -0.1M1390.4 1300.1l26.7 12.3m-5.7 -9.4l5.7 9.4l-10.9 1.8M256.9 1316.3l24.6 -8.1m-10.6 -3l10.6 3l-6.8 8.7M283.8 1316.3l25 -8.3m-10.6 -3l10.6 3l-6.7 8.7M310.8 1316.3l24.1 -9.1m-10.7 -2.6l10.7 2.6l-6.4 9M337.8 1316.3l30.8 -9.3m-10.5 -3.2l10.5 3.2l-6.9 8.5M418.8 1316.3l23 -10.8m-10.9 -1.7l10.9 1.7l-5.7 9.4M499.8 1316.3l2.6 26.2m5.2 -9.7l-5.2 9.7l-7 -8.5M769.7 1316.3l22 5.1m-7.5 -8.1l7.5 8.1l-10.3 3.9M796.7 1316.3l25.6 5.3m-7.7 -7.9l7.7 7.9l-10.2 4.2M823.6 1316.3l28.5 2.6m-8.5 -7l8.5 7l-9.6 5.3M1120.5 1316.3l24 19.8m-3.1 -10.5l3.1 10.5l-10.9 -1.1M1147.5 1316.3l25.3 15.4m-4.6 -10l4.6 10l-11 0.5M1174.5 1316.3l23.6 14.6m-4.5 -10l4.5 10l-11 0.4M1201.5 1316.3l22.3 13.7m-4.5 -10l4.5 10l-11 0.4M1390.4 1316.3l22.1 15.9m-3.8 -10.3l3.8 10.3l-11 -0.3M229.9 1332.5l17.5 -20.4m-10.6 2.9l10.6 -2.9l-1.3 10.9M256.9 1332.5l24.3 -20.5m-10.9 1.2l10.9 -1.2l-3 10.6M499.8 1332.5l-3.3 26.6m7.2 -8.3l-7.2 8.3l-5 -9.8M715.7 1332.5l26.8 5.4m-7.7 -7.8l7.7 7.8l-10.2 4.2M1120.5 1332.5l20.8 18.5m-2.7 -10.7l2.7 10.7l-10.9 -1.5M1147.5 1332.5l21.9 16.8m-3.5 -10.4l3.5 10.4l-11 -0.6M1174.5 1332.5l25.6 13.1m-5.3 -9.6l5.3 9.6l-10.9 1.3M1201.5 1332.5l27.8 15m-5.1 -9.7l5.1 9.7l-10.9 1.1M229.9 1348.7l17.1 -19.7m-10.6 2.9l10.6 -2.9l-1.3 10.9M256.9 1348.7l21.2 -23.1m-10.7 2.6l10.7 -2.6l-1.6 10.9M688.7 1348.7l26.9 -12.6m-10.9 -1.7l10.9 1.7l-5.6 9.4M877.6 1348.7l27.7 2.6m-8.5 -7l8.5 7l-9.6 5.3M1120.5 1348.7l23.9 18.3m-3.5 -10.4l3.5 10.4l-11 -0.7M1147.5 1348.7l22.8 14.1m-4.5 -10l4.5 10l-11 0.4M1174.5 1348.7l22.3 13m-4.8 -9.9l4.8 9.9l-11 0.7M1201.5 1348.7l26.2 13.5m-5.3 -9.6l5.3 9.6l-10.9 1.3M715.7 1364.8l20.2 15m-3.7 -10.4l3.7 10.4l-11 -0.5M877.6 1364.8l26 1.5m-8.8 -6.7l8.8 6.7l-9.5 5.6M1120.5 1364.8l19.8 18.7m-2.4 -10.7l2.4 10.7l-10.9 -1.8M1147.5 1364.8l24.3 16.8m-4 -10.2l4 10.2l-11 -0.1M1174.5 1364.8l23.4 15.4m-4.2 -10.1l4.2 10.1l-11 0.1M1201.5 1364.8l24.3 11.9m-5.5 -9.5l5.5 9.5l-10.9 1.5M1390.4 1364.8l25.5 18.9m-3.7 -10.4l3.7 10.4l-11 -0.5M1417.4 1364.8l18.5 -22.9m-10.5 3.2l10.5 -3.2l-1 11M715.7 1381l15.8 19.3m-1 -11l1 11l-10.5 -3.1M823.6 1381l24.9 1.4m-8.8 -6.6l8.8 6.6l-9.4 5.6M850.6 1381l24.8 1.3m-8.8 -6.6l8.8 6.6l-9.4 5.7M877.6 1381l26.7 7.6m-7.1 -8.4l7.1 8.4l-10.5 3.4M1120.5 1381l22.2 21.3m-2.3 -10.8l2.3 10.8l-10.8 -1.9M1147.5 1381l23.6 17.8m-3.6 -10.4l3.6 10.4l-11 -0.6M1174.5 1381l25 16.5m-4.2 -10.2l4.2 10.2l-11 0.1M1201.5 1381l24.8 15.7m-4.4 -10.1l4.4 10.1l-11 0.3M1228.5 1381l20.3 21.7m-1.7 -10.9l1.7 10.9l-10.7 -2.5M1255.5 1381l12.5 28.4m2 -10.8l-2 10.8l-9.3 -5.9M337.8 1397.2l2.8 -23m-7.2 8.3l7.2 -8.3l5 9.8M715.7 1397.2l14.7 21.5m-0.1 -11l0.1 11l-10.2 -4.1M931.6 1397.2l23.5 15.1m-4.3 -10.1l4.3 10.1l-11 0.2M958.6 1397.2l19.4 21.7m-1.5 -10.9l1.5 10.9l-10.7 -2.7M1120.5 1397.2l21 19.2m-2.6 -10.7l2.6 10.7l-10.9 -1.6M1147.5 1397.2l17.4 20.5m-1.2 -10.9l1.2 10.9l-10.6 -3M1174.5 1397.2l17.2 19.3m-1.5 -10.9l1.5 10.9l-10.7 -2.7M1201.5 1397.2l18.5 19.9m-1.7 -10.9l1.7 10.9l-10.7 -2.5M1228.5 1397.2l19.8 22.4m-1.4 -10.9l1.4 10.9l-10.7 -2.7M1255.5 1397.2l8.6 27.5m3.2 -10.5l-3.2 10.5l-8.6 -6.9M337.8 1413.4l0.8 -23m-6.5 8.9l6.5 -8.9l5.8 9.3M499.8 1413.4l27.7 -1.9m-9.5 -5.5l9.5 5.5l-8.7 6.8M715.7 1413.4l15.7 24.4m0.2 -11l-0.2 11l-10.1 -4.3M769.7 1413.4l23.7 3.7m-8 -7.5l8 7.5l-10 4.7M931.6 1413.4l24 11.9m-5.4 -9.6l5.4 9.6l-10.9 1.4M958.6 1413.4l14.3 23.7m0.6 -11l-0.6 11l-10 -4.6M985.6 1413.4l9.8 25.7m2.5 -10.7l-2.5 10.7l-9 -6.3M1093.5 1413.4l23 18.5m-3.3 -10.5l3.3 10.5l-11 -0.9M1120.5 1413.4l20.3 19.7m-2.3 -10.8l2.3 10.8l-10.8 -1.9M1147.5 1413.4l22.2 18.4m-3.1 -10.6l3.1 10.6l-10.9 -1.1M1174.5 1413.4l21.2 18.1m-2.9 -10.6l2.9 10.6l-10.9 -1.2M1201.5 1413.4l17 19.2m-1.4 -10.9l1.4 10.9l-10.6 -2.8M1228.5 1413.4l13.6 25.4m1.1 -10.9l-1.1 10.9l-9.7 -5.1M1417.4 1413.4l25.6 -9.6m-10.7 -2.5l10.7 2.5l-6.4 9M580.7 1429.6l30.3 -1.1m-9.3 -5.8l9.3 5.8l-8.9 6.5M607.7 1429.6l29 1.3m-8.8 -6.6l8.8 6.6l-9.4 5.7M931.6 1429.6l23.7 14.7m-4.5 -10l4.5 10l-11 0.4M958.6 1429.6l14.9 21.5m-0.1 -11l0.1 11l-10.3 -4M985.6 1429.6l13.9 25.8m1.1 -10.9l-1.1 10.9l-9.7 -5.1M1093.5 1429.6l22.8 16.6m-3.7 -10.3l3.7 10.3l-11 -0.4M1120.5 1429.6l19.7 21.7m-1.6 -10.9l1.6 10.9l-10.7 -2.6M1147.5 1429.6l21.3 20.4m-2.3 -10.8l2.3 10.8l-10.8 -1.9M1174.5 1429.6l19.3 16.9m-2.8 -10.6l2.8 10.6l-10.9 -1.4M1201.5 1429.6l19.3 21.6m-1.5 -10.9l1.5 10.9l-10.7 -2.7M1228.5 1429.6l13.6 27m1.4 -10.9l-1.4 10.9l-9.6 -5.4M1390.4 1429.6l-9 -20.2m-1.9 10.8l1.9 -10.8l9.3 5.8M553.7 1445.8l28.9 2.8m-8.5 -7l8.5 7l-9.7 5.2M580.7 1445.8l26.6 1.1m-8.9 -6.5l8.9 6.5l-9.4 5.8M607.7 1445.8l26.8 1.1m-8.8 -6.5l8.8 6.5l-9.4 5.8M1147.5 1445.8l24.7 17.5m-3.9 -10.3l3.9 10.3l-11 -0.3M1174.5 1445.8l19.3 19.7m-2 -10.8l2 10.8l-10.8 -2.2M1201.5 1445.8l19 18.7m-2.2 -10.8l2.2 10.8l-10.8 -2M1228.5 1445.8l8.4 24.2m2.8 -10.6l-2.8 10.6l-8.8 -6.6M1255.5 1445.8l4.2 30.5m4.8 -9.9l-4.8 9.9l-7.3 -8.2M1282.5 1445.8l22.5 -11.8m-10.9 -1.2l10.9 1.2l-5.2 9.7M580.7 1462l27.5 1.5m-8.8 -6.6l8.8 6.6l-9.4 5.7M607.7 1462l27.6 6.1m-7.6 -8l7.6 8l-10.2 4M1174.5 1462l25.9 19m-3.7 -10.4l3.7 10.4l-11 -0.4M1201.5 1462l17.5 19.1m-1.6 -10.9l1.6 10.9l-10.7 -2.6M1228.5 1462l11.9 24.8m1.6 -10.9l-1.6 10.9l-9.5 -5.6M1255.5 1462l11.8 23.7m1.4 -10.9l-1.4 10.9l-9.6 -5.4M1282.5 1462l20.6 -16m-11 0.7l11 -0.7l-3.4 10.4M769.7 1478.2l27.2 10.1m-6.4 -8.9l6.4 8.9l-10.7 2.6M796.7 1478.2l29.8 7.6m-7.3 -8.2l7.3 8.2l-10.4 3.7M823.6 1478.2l28.1 7.4m-7.3 -8.3l7.3 8.3l-10.4 3.6M850.6 1478.2l28.6 7.7m-7.2 -8.3l7.2 8.3l-10.4 3.6M877.6 1478.2l26.4 7.3m-7.2 -8.4l7.2 8.4l-10.4 3.5M904.6 1478.2l28.4 8.8m-6.9 -8.6l6.9 8.6l-10.5 3.2M931.6 1478.2l24 15.7m-4.3 -10.1l4.3 10.1l-11 0.2M958.6 1478.2l24.7 11.3m-5.8 -9.4l5.8 9.4l-10.8 1.8M1201.5 1478.2l18.5 21.4m-1.3 -10.9l1.3 10.9l-10.6 -2.9M1228.5 1478.2l9.7 29.4m3 -10.6l-3 10.6l-8.7 -6.7M1255.5 1478.2l12.3 24.1m1.4 -10.9l-1.4 10.9l-9.6 -5.3M1282.5 1478.2l12.3 -23.3m-9.7 5.2l9.7 -5.2l1.2 10.9M553.7 1494.4l10.2 -19.3m-9.7 5.2l9.7 -5.2l1.2 10.9M607.7 1494.4l29.3 6.5m-7.6 -8l7.6 8l-10.2 4M796.7 1494.4l29.3 5.6m-7.8 -7.7l7.8 7.7l-10.1 4.3M850.6 1494.4l27.5 10.9m-6.2 -9.1l6.2 9.1l-10.7 2.3M904.6 1494.4l30.8 4m-8.2 -7.3l8.2 7.3l-9.8 4.9M958.6 1494.4l29.4 7.5m-7.3 -8.2l7.3 8.2l-10.4 3.7M1147.5 1494.4l27.4 12m-5.9 -9.3l5.9 9.3l-10.8 2M1201.5 1494.4l17.9 24.1m-0.5 -11l0.5 11l-10.4 -3.7M1228.5 1494.4l13.1 25.3m1.3 -10.9l-1.3 10.9l-9.7 -5.3M1255.5 1494.4l14.2 25.8m1 -11l-1 11l-9.8 -5M1282.5 1494.4l16.3 -20.8m-10.5 3.4l10.5 -3.4l-0.8 11M553.7 1510.6l5.8 -22.9m-8.2 7.3l8.2 -7.3l3.7 10.4M634.7 1510.6l21.3 5.1m-7.4 -8.1l7.4 8.1l-10.3 3.9M1201.5 1510.6l12.8 22.5m0.9 -11l-0.9 11l-9.8 -4.9M1228.5 1510.6l28.8 0.9m-8.9 -6.4l8.9 6.4l-9.3 5.9M1255.5 1510.6l23.9 -12.8m-10.9 -1.1l10.9 1.1l-5.1 9.7M661.7 1526.8l27.1 9.9m-6.5 -8.9l6.5 8.9l-10.7 2.6M688.7 1526.8l26.7 14.5m-5.1 -9.8l5.1 9.8l-10.9 1.1M1201.5 1526.8l13.6 22.1m0.5 -11l-0.5 11l-10 -4.6M1228.5 1526.8l31.2 -6.8m-10.2 -4.1l10.2 4.1l-7.6 7.9M1255.5 1526.8l24.9 -14.5m-11 -0.7l11 0.7l-4.8 9.9M688.7 1542.9l24.7 12.4m-5.4 -9.6l5.4 9.6l-10.9 1.4M715.7 1542.9l26.3 13m-5.5 -9.6l5.5 9.6l-10.9 1.5M742.7 1542.9l26.7 8.5m-6.8 -8.6l6.8 8.6l-10.6 3.1M769.7 1542.9l27.8 3m-8.4 -7.1l8.4 7.1l-9.7 5.1M715.7 1559.1l25.7 8.3m-6.8 -8.7l6.8 8.7l-10.6 3M742.7 1559.1l28 5.4m-7.8 -7.8l7.8 7.8l-10.1 4.3M769.7 1559.1l24.8 5.5m-7.6 -8l7.6 8l-10.2 4M742.7 1575.3l23.6 5.7m-7.4 -8.1l7.4 8.1l-10.3 3.8M237.3 1452.9l21.8 12.3m-4.9 -9.8l4.9 9.8l-11 0.9M255.8 1511.1l31.3 4.1m-8.2 -7.3l8.2 7.3l-9.8 4.9M364.3 1521.7l30 19.1m-4.4 -10.1l4.4 10.1l-11 0.3M392.1 1544.2l25.9 0.8m-8.9 -6.4l8.9 6.4l-9.3 5.9M311.4 1445l19.1 -10.9m-11 -0.8l11 0.8l-4.9 9.9M471.4 1529.6l24.5 -16.3m-11 -0.1l11 0.1l-4.2 10.2M499.2 1413.2l32.7 -2.7m-9.6 -5.4l9.6 5.4l-8.6 6.9M504.5 1442.3l16.3 -8.2m-10.9 -1.4l10.9 1.4l-5.4 9.6M525.7 1431.7l25.1 -1.4m-9.4 -5.6l9.4 5.6l-8.8 6.6"/>
<path stroke="#00a0ff" d="M1525.4 102l11.4 -34.1m-8.7 6.7l8.7 -6.7l2.9 10.6M1606.4 102l25 -25.7m-10.8 2.3l10.8 -2.3l-1.9 10.8M1633.3 102l16.5 -29.5m-9.8 5l9.8 -5l0.9 11M1660.3 102l27.2 -21.4m-11 0.8l11 -0.8l-3.4 10.5M1606.4 118.2l29.9 -27.2m-10.9 1.6l10.9 -1.6l-2.6 10.7M1633.3 118.2l31.1 -21.6m-11 0.2l11 -0.2l-4 10.3M1660.3 118.2l28.9 -21.4m-11 0.5l11 -0.5l-3.7 10.4M1579.4 134.4l31.9 -25.8m-11 1l11 -1l-3.2 10.5M1606.4 134.4l30.3 -27.8m-10.9 1.6l10.9 -1.6l-2.6 10.7M1633.3 134.4l28 -21.2m-11 0.6l11 -0.6l-3.5 10.4M1660.3 134.4l29.1 -22.9m-11 0.8l11 -0.8l-3.4 10.5M1687.3 134.4l21.7 -24.8m-10.6 2.8l10.6 -2.8l-1.4 10.9M1471.4 150.6l19 -27.4m-10.3 4l10.3 -4l-0.2 11M1525.4 150.6l32 -25.6m-11 0.9l11 -0.9l-3.3 10.5M1552.4 150.6l33.2 -19.7m-11 -0.6l11 0.6l-4.7 9.9M1579.4 150.6l29 -22.8m-11 0.8l11 -0.8l-3.4 10.5M1606.4 150.6l28.4 -16.6m-11 -0.7l11 0.7l-4.8 9.9M1660.3 150.6l27.3 -20.2m-11 0.5l11 -0.5l-3.7 10.4M1687.3 150.6l24.8 -24m-10.8 1.9l10.8 -1.9l-2.3 10.8M1498.4 166.8l27.8 -30.2m-10.7 2.5l10.7 -2.5l-1.6 10.9M1525.4 166.8l27.6 -18.2m-11 -0.1l11 0.1l-4.2 10.2M1552.4 166.8l27.8 -20.8m-11 0.5l11 -0.5l-3.6 10.4M1579.4 166.8l28.8 -18.9m-11 -0.1l11 0.1l-4.3 10.1M1606.4 166.8l32.1 -16.9m-10.9 -1.2l10.9 1.2l-5.2 9.7M1498.4 183l25.7 -19.6m-11 0.6l11 -0.6l-3.5 10.4M1525.4 183l25.2 -21.8m-10.9 1.3l10.9 -1.3l-2.9 10.6M1552.4 183l26.7 -21.8m-11 1l11 -1l-3.2 10.5M1579.4 183l29 -21.9m-11 0.6l11 -0.6l-3.6 10.4M1606.4 183l31.9 -15.8m-10.9 -1.5l10.9 1.5l-5.4 9.6M1552.4 199.2l26.7 -20.6m-11 0.7l11 -0.7l-3.5 10.4M1579.4 199.2l28.6 -16m-11 -0.9l11 0.9l-4.9 9.8M1417.4 328.7l40.1 11m-7.2 -8.3l7.2 8.3l-10.4 3.5M1201.5 425.8l-17.1 28.9m9.9 -4.7l-9.9 4.7l-0.7 -11M1174.5 442l-11.6 31.6m8.9 -6.5l-8.9 6.5l-2.6 -10.7M1201.5 442l-13.7 30.4m9.4 -5.8l-9.4 5.8l-1.9 -10.8M1174.5 458.2l-13.1 34.6m9 -6.4l-9 6.4l-2.5 -10.7M1201.5 458.2l-10.1 35.1m8.4 -7.1l-8.4 7.1l-3.4 -10.5M1174.5 474.4l-7.4 38.2m7.8 -7.8l-7.8 7.8l-4.3 -10.1M1201.5 474.4l-4.9 33.5m7.4 -8.1l-7.4 8.1l-4.8 -9.9M1174.5 490.6l-8.9 37.1m8.1 -7.4l-8.1 7.4l-3.8 -10.3M1174.5 506.8l-2.2 33m6.8 -8.7l-6.8 8.7l-5.5 -9.5M1201.5 506.8l-4.4 32m7.3 -8.2l-7.3 8.2l-4.8 -9.9M1309.5 523l-4 33.2m7.2 -8.3l-7.2 8.3l-5 -9.8M1309.5 539.2l-1.4 35.9m6.5 -8.9l-6.5 8.9l-5.8 -9.3M1309.5 555.4l-6 36.3m7.6 -8l-7.6 8l-4.6 -10M1282.5 571.5l-6.5 36.6m7.6 -7.9l-7.6 7.9l-4.5 -10.1M1309.5 571.5l-7.7 39.1m7.8 -7.8l-7.8 7.8l-4.3 -10.1M1336.5 571.5l-6.7 33.4m7.8 -7.7l-7.8 7.7l-4.2 -10.2M1228.5 587.7l-5.9 35.6m7.6 -8l-7.6 8l-4.6 -10M1255.5 587.7l-3.3 37.9m6.9 -8.5l-6.9 8.5l-5.3 -9.6M1282.5 587.7l-3.2 35m7 -8.5l-7 8.5l-5.3 -9.6M1309.5 587.7l-2.7 35.3m6.8 -8.6l-6.8 8.6l-5.4 -9.6M1336.5 587.7l-0.4 39.2m6.2 -9.1l-6.2 9.1l-6.1 -9.2M1228.5 603.9l-4.2 35m7.2 -8.3l-7.2 8.3l-5 -9.8M1255.5 603.9l-8.7 32.4m8.3 -7.2l-8.3 7.2l-3.6 -10.4M1282.5 603.9l-8 39.7m7.8 -7.7l-7.8 7.7l-4.2 -10.2M1309.5 603.9l-5.4 36.2m7.4 -8.1l-7.4 8.1l-4.7 -9.9M1336.5 603.9l-3.5 37.8m7 -8.5l-7 8.5l-5.3 -9.6M1228.5 620.1l-8.9 31.3m8.4 -7.1l-8.4 7.1l-3.4 -10.5M1255.5 620.1l-4.7 33.8m7.4 -8.2l-7.4 8.2l-4.8 -9.9M1282.5 620.1l-6.4 36.5m7.6 -7.9l-7.6 7.9l-4.5 -10M1309.5 620.1l-7 36.4m7.8 -7.8l-7.8 7.8l-4.3 -10.1M1336.5 620.1l-1.6 33.7m6.6 -8.8l-6.6 8.8l-5.7 -9.4M1228.5 636.3l-9.7 32.8m8.5 -7l-8.5 7l-3.3 -10.5M1255.5 636.3l-4.3 39.4m7.1 -8.4l-7.1 8.4l-5.1 -9.7M1282.5 636.3l-3 35.4m6.9 -8.6l-6.9 8.6l-5.4 -9.6M1309.5 636.3l-2 40.6m6.6 -8.8l-6.6 8.8l-5.7 -9.4M1336.5 636.3l1 32.5m5.9 -9.3l-5.9 9.3l-6.4 -8.9M1228.5 652.5l-10.5 33.9m8.6 -6.9l-8.6 6.9l-3.2 -10.5M1255.5 652.5l-7.4 39.9m7.7 -7.9l-7.7 7.9l-4.4 -10.1M1282.5 652.5l-10.3 36.1m8.4 -7.1l-8.4 7.1l-3.4 -10.5M1309.5 652.5l-5.6 37m7.4 -8.1l-7.4 8.1l-4.7 -9.9M1336.5 652.5l-4.7 35.9m7.3 -8.2l-7.3 8.2l-4.9 -9.8M1228.5 668.7l-8.9 32.4m8.3 -7.2l-8.3 7.2l-3.5 -10.4M1282.5 668.7l1.3 33.8m5.8 -9.4l-5.8 9.4l-6.5 -8.9M1228.5 684.9l-7 32.1m7.9 -7.6l-7.9 7.6l-4.1 -10.2M1228.5 701.1l0.7 35.3m6 -9.2l-6 9.2l-6.3 -9M1309.5 701.1l15.3 31.1m1.5 -10.9l-1.5 10.9l-9.5 -5.5M1201.5 717.3l31.9 20.9m-4.3 -10.1l4.3 10.1l-11 0.1M1255.5 717.3l38.3 18m-5.6 -9.4l5.6 9.4l-10.9 1.7M1282.5 717.3l30.3 27.9m-2.6 -10.7l2.6 10.7l-10.9 -1.6M1390.4 717.3l36 -1.8m-9.4 -5.7l9.4 5.7l-8.8 6.6M1201.5 733.4l34.2 15.8m-5.7 -9.4l5.7 9.4l-10.9 1.8M1363.4 733.4l41.7 5.3m-8.3 -7.2l8.3 7.2l-9.8 5M1390.4 733.4l37.3 6.1m-8 -7.5l8 7.5l-10 4.6M1417.4 733.4l37.8 17.7m-5.7 -9.4l5.7 9.4l-10.9 1.7M2227.1 733.4l-2.9 39.5m6.8 -8.6l-6.8 8.6l-5.5 -9.5M1147.5 749.6l26.3 24.6m-2.5 -10.7l2.5 10.7l-10.9 -1.7M1174.5 749.6l27.5 24.8m-2.7 -10.7l2.7 10.7l-10.9 -1.5M1444.4 749.6l30.5 12.6m-6.1 -9.2l6.1 9.2l-10.8 2.2M2227.1 749.6l0.9 39.9m5.9 -9.3l-5.9 9.3l-6.4 -9M1201.5 782l-20.3 34.4m9.9 -4.7l-9.9 4.7l-0.7 -11M1228.5 782l-5.9 40.9m7.4 -8.2l-7.4 8.2l-4.8 -9.9M1201.5 798.2l-18.4 32.2m9.9 -4.9l-9.9 4.9l-0.8 -11M1228.5 798.2l-11.1 38m8.5 -7l-8.5 7l-3.3 -10.5M1363.4 798.2l24.6 33.2m-0.5 -11l0.5 11l-10.4 -3.7M1444.4 798.2l38.1 13.4m-6.6 -8.8l6.6 8.8l-10.6 2.8M1471.4 798.2l39.1 -2.8m-9.5 -5.5l9.5 5.5l-8.7 6.8M2362.1 798.2l6.4 39.2m4.6 -10l-4.6 10l-7.5 -8M1201.5 814.4l1 38.3m5.9 -9.3l-5.9 9.3l-6.4 -9M1363.4 814.4l41.9 8.4m-7.7 -7.8l7.7 7.8l-10.1 4.2M2362.1 814.4l9 34.3m3.6 -10.4l-3.6 10.4l-8.3 -7.3M1201.5 830.6l4.3 37m5.1 -9.8l-5.1 9.8l-7.2 -8.3M1363.4 830.6l31.5 7.2m-7.5 -8l7.5 8l-10.3 4M1201.5 846.8l14.5 37.6m2.4 -10.7l-2.4 10.7l-9 -6.3M1228.5 846.8l-30.5 11.3m10.7 2.6l-10.7 -2.6l6.4 -8.9M1282.5 846.8l-31.9 12.3m10.7 2.5l-10.7 -2.5l6.3 -9M1309.5 846.8l-34.8 13.7m10.7 2.4l-10.7 -2.4l6.2 -9.1M1390.4 846.8l21.9 27.9m-0.8 -11l0.8 11l-10.5 -3.4M1525.4 846.8l19.6 28.9m0 -11l0 11l-10.2 -4.1M1201.5 863l21.2 32.1m0.1 -11l-0.1 11l-10.2 -4.2M1363.4 863l25.2 20.2m-3.3 -10.5l3.3 10.5l-11 -0.9M1390.4 863l13 34.6m2.5 -10.7l-2.5 10.7l-9 -6.4M1417.4 863l19 34.6m1 -11l-1 11l-9.8 -5M1444.4 863l17.6 37.7m1.7 -10.9l-1.7 10.9l-9.4 -5.7M1525.4 863l12 32.9m2.7 -10.7l-2.7 10.7l-8.9 -6.5M1552.4 863l2.1 32.7m5.6 -9.5l-5.6 9.5l-6.7 -8.7M1579.4 863l5.7 33.3m4.5 -10l-4.5 10l-7.6 -8M1201.5 879.2l25.4 22.9m-2.7 -10.7l2.7 10.7l-10.9 -1.5M1282.5 879.2l13.4 33.4m2.3 -10.8l-2.3 10.8l-9.1 -6.2M1390.4 879.2l6.2 32.6m4.3 -10.1l-4.3 10.1l-7.7 -7.8M1417.4 879.2l12.5 33.5m2.6 -10.7l-2.6 10.7l-9 -6.4M1471.4 879.2l6.1 36.7m4.6 -10l-4.6 10l-7.6 -8M1525.4 879.2l8.9 38.2m3.9 -10.3l-3.9 10.3l-8.1 -7.5M1552.4 879.2l2.6 37.8m5.5 -9.5l-5.5 9.5l-6.8 -8.7M1579.4 879.2l-2.2 34.8m6.7 -8.7l-6.7 8.7l-5.6 -9.5M1390.4 895.3l-10.9 37.2m8.5 -7l-8.5 7l-3.3 -10.5M1417.4 895.3l0.8 34.5m5.9 -9.3l-5.9 9.3l-6.4 -9M1444.4 895.3l-10.7 41m8.3 -7.3l-8.3 7.3l-3.6 -10.4M1552.4 895.3l4.6 41.4m5.1 -9.7l-5.1 9.7l-7.1 -8.4M1633.3 895.3l-0.2 39.1m6.2 -9.1l-6.2 9.1l-6.1 -9.1M1660.3 895.3l33.6 -9.1m-10.4 -3.5l10.4 3.5l-7.2 8.3M1714.3 895.3l33.8 9.5m-7.1 -8.4l7.1 8.4l-10.4 3.4M1363.4 911.5l-27.3 18.1m11 0.1l-11 -0.1l4.2 -10.2M1390.4 911.5l-27.2 21.6m11 -0.9l-11 0.9l3.3 -10.5M1417.4 911.5l-17.8 33.4m9.7 -5.2l-9.7 5.2l-1.1 -10.9M1444.4 911.5l-6.6 37.5m7.6 -7.9l-7.6 7.9l-4.5 -10.1M1471.4 911.5l-8.1 41.4m7.8 -7.8l-7.8 7.8l-4.3 -10.1M1606.4 911.5l12 40.4m3.3 -10.5l-3.3 10.5l-8.5 -7M1660.3 911.5l32.2 -17.9m-11 -0.9l11 0.9l-5 9.8M1687.3 911.5l32.3 3.3m-8.4 -7l8.4 7l-9.7 5.2M1336.5 927.7l-31.6 10.6m10.6 2.9l-10.6 -2.9l6.7 -8.7M1363.4 927.7l-33 8.6m10.4 3.6l-10.4 -3.6l7.3 -8.3M1390.4 927.7l-31.7 15.3m10.9 1.6l-10.9 -1.6l5.5 -9.5M1417.4 927.7l-31.7 23.3m11 -0.4l-11 0.4l3.7 -10.4M1444.4 927.7l-15.8 32.7m9.5 -5.5l-9.5 5.5l-1.6 -10.9M1471.4 927.7l-4.1 42.4m7 -8.5l-7 8.5l-5.2 -9.7M1633.3 927.7l26.3 21.3m-3.2 -10.5l3.2 10.5l-11 -1M1255.5 943.9l-35.2 -0.1m9.1 6.2l-9.1 -6.2l9.1 -6.1M1282.5 943.9l-39.6 2m9.4 5.7l-9.4 -5.7l8.8 -6.6M1309.5 943.9l-40.5 4.5m9.7 5.1l-9.7 -5.1l8.4 -7.1M1336.5 943.9l-35 -4.8m8.2 7.3l-8.2 -7.3l9.9 -4.8M1363.4 943.9l-34.5 2.9m9.6 5.4l-9.6 -5.4l8.6 -6.9M1390.4 943.9l-32 13.2m10.8 2.2l-10.8 -2.2l6.1 -9.2M1444.4 943.9l-9.8 32.6m8.5 -7l-8.5 7l-3.3 -10.5M1471.4 943.9l-1.6 37m6.5 -8.8l-6.5 8.8l-5.7 -9.4M1606.4 943.9l33.3 8.3m-7.4 -8.2l7.4 8.2l-10.3 3.8M1633.3 943.9l34.4 20.6m-4.7 -10l4.7 10l-11 0.6M1471.4 960.1l6.8 38m4.4 -10.1l-4.4 10.1l-7.7 -7.9M1498.4 960.1l5.2 38.8m4.9 -9.9l-4.9 9.9l-7.3 -8.2M1471.4 976.3l7.4 34.5m4.1 -10.2l-4.1 10.2l-7.9 -7.6M1498.4 976.3l7.1 42.1m4.5 -10l-4.5 10l-7.6 -8M1525.4 976.3l19.5 28.6m-0.1 -11l0.1 11l-10.2 -4.1M1471.4 992.5l16.6 36.8m1.9 -10.8l-1.9 10.8l-9.4 -5.8M1606.4 1024.9l34.2 -18.2m-10.9 -1.2l10.9 1.2l-5.2 9.7M1633.3 1024.9l39.5 3.7m-8.5 -7l8.5 7l-9.7 5.3M1201.5 1041l27.7 20m-3.8 -10.3l3.8 10.3l-11 -0.3M1498.4 1041l14.7 39.5m2.6 -10.7l-2.6 10.7l-8.9 -6.4M1579.4 1041l38.9 -17.1m-10.8 -2l10.8 2l-5.9 9.3M1606.4 1041l38.9 6.8m-7.9 -7.6l7.9 7.6l-10 4.5M1633.3 1041l36.1 12.5m-6.6 -8.8l6.6 8.8l-10.6 2.8M1201.5 1057.2l30.3 20m-4.2 -10.2l4.2 10.2l-11 0.1M1417.4 1057.2l10.3 33.9m3.2 -10.5l-3.2 10.5l-8.5 -6.9M1498.4 1057.2l29.6 29.4m-2.1 -10.8l2.1 10.8l-10.8 -2.1M1633.3 1057.2l37.8 18.8m-5.4 -9.6l5.4 9.6l-10.9 1.4M1660.3 1057.2l28.4 19.6m-4 -10.2l4 10.2l-11 -0.1M1417.4 1073.4l14.8 33.2m1.9 -10.8l-1.9 10.8l-9.3 -5.8M1606.4 1073.4l37 17.1m-5.7 -9.4l5.7 9.4l-10.9 1.8M1633.3 1073.4l34.3 22.4m-4.3 -10.1l4.3 10.1l-11 0.2M1660.3 1073.4l27.2 20.8m-3.5 -10.4l3.5 10.4l-11 -0.6M1417.4 1089.6l13.5 33.4m2.3 -10.8l-2.3 10.8l-9.1 -6.1M1633.3 1089.6l28 28.7m-2 -10.8l2 10.8l-10.8 -2.2M1660.3 1089.6l29.1 24.2m-3.1 -10.6l3.1 10.6l-10.9 -1.1M337.8 1105.8l37.1 -6.5m-10 -4.5l10 4.5l-7.9 7.6M364.8 1105.8l37.3 -6.1m-10 -4.6l10 4.6l-8 7.5M1417.4 1105.8l19.9 34.1m0.7 -11l-0.7 11l-9.9 -4.8M1444.4 1105.8l20.3 37m1 -11l-1 11l-9.8 -5M1471.4 1105.8l30.7 23.5m-3.5 -10.4l3.5 10.4l-11 -0.7M1660.3 1105.8l30.6 25.4m-3.1 -10.6l3.1 10.6l-10.9 -1.1M1687.3 1105.8l25.2 22.4m-2.7 -10.7l2.7 10.7l-10.9 -1.4M283.8 1122l25.5 -32.2m-10.5 3.3l10.5 -3.3l-0.8 11M1012.6 1122l22.8 27.4m-1.1 -10.9l1.1 10.9l-10.6 -3.1M1039.6 1122l21.5 34.8m0.4 -11l-0.4 11l-10 -4.5M1417.4 1122l23.1 31.6m-0.4 -11l0.4 11l-10.4 -3.7M1444.4 1122l18.7 33.2m0.9 -11l-0.9 11l-9.8 -4.9M1471.4 1122l34.2 21.9m-4.4 -10.1l4.4 10.1l-11 0.3M1633.3 1122l27.3 31.9m-1.2 -10.9l1.2 10.9l-10.6 -2.9M1660.3 1122l25.9 27.9m-1.7 -10.9l1.7 10.9l-10.7 -2.5M1687.3 1122l21.3 29.2m-0.4 -11l0.4 11l-10.3 -3.7M1444.4 1138.2l20.1 28.7m-0.2 -11l0.2 11l-10.3 -3.9M1633.3 1138.2l25.8 34m-0.6 -11l0.6 11l-10.4 -3.6M1687.3 1138.2l22.1 28.7m-0.7 -11l0.7 11l-10.4 -3.5M1012.6 1154.4l13.4 29.6m1.8 -10.8l-1.8 10.8l-9.4 -5.8M1039.6 1154.4l13.3 36.8m2.7 -10.7l-2.7 10.7l-8.9 -6.5M1633.3 1154.4l29.1 29.2m-2.1 -10.8l2.1 10.8l-10.8 -2.1M1660.3 1154.4l20.9 31.6m0.1 -11l-0.1 11l-10.2 -4.2M1687.3 1154.4l23 29m-0.8 -11l0.8 11l-10.5 -3.3M256.9 1170.6l18.3 -30.4m-10 4.6l10 -4.6l0.6 11M310.8 1170.6l40.5 5m-8.3 -7.2l8.3 7.2l-9.8 5M337.8 1170.6l37.5 -16.2m-10.8 -2l10.8 2l-5.9 9.3M1039.6 1170.6l15 35.1m2.1 -10.8l-2.1 10.8l-9.2 -6M1147.5 1170.6l37.4 -0.4m-9.2 -6l9.2 6l-9 6.3M1390.4 1170.6l28.9 15.9m-5 -9.8l5 9.8l-11 1M1660.3 1170.6l21.4 29.4m-0.4 -11l0.4 11l-10.3 -3.8M1687.3 1170.6l24.5 23.7m-2.3 -10.8l2.3 10.8l-10.8 -1.9M310.8 1186.8l35.9 -7.4m-10.2 -4.2l10.2 4.2l-7.7 7.9M337.8 1186.8l35.8 -6.2m-10 -4.5l10 4.5l-7.9 7.6M1039.6 1186.8l10.8 33.4m3 -10.6l-3 10.6l-8.7 -6.8M1390.4 1186.8l33.1 13.5m-6.1 -9.1l6.1 9.1l-10.8 2.2M1417.4 1186.8l31.5 12.8m-6.1 -9.1l6.1 9.1l-10.8 2.3M1687.3 1186.8l25.4 23.7m-2.5 -10.7l2.5 10.7l-10.9 -1.7M337.8 1203l30 -16.6m-11 -1l11 1l-5 9.8M1039.6 1203l10.8 34.5m3.2 -10.5l-3.2 10.5l-8.6 -6.9M1093.5 1203l35 11.7m-6.7 -8.7l6.7 8.7l-10.6 2.9M1390.4 1203l29.8 14.3m-5.6 -9.5l5.6 9.5l-10.9 1.6M1687.3 1203l25 24.4m-2.2 -10.8l2.2 10.8l-10.8 -2M337.8 1219.1l27.1 -22.5m-10.9 1.1l10.9 -1.1l-3.1 10.6M364.8 1219.1l36.2 -10m-10.4 -3.5l10.4 3.5l-7.2 8.4M391.8 1219.1l39.4 5.9m-8.1 -7.4l8.1 7.4l-9.9 4.7M1039.6 1219.1l10 30.8m3 -10.6l-3 10.6l-8.7 -6.8M1120.5 1219.1l16.1 37m2 -10.8l-2 10.8l-9.3 -5.9M364.8 1235.3l34.4 -5.8m-10 -4.6l10 4.6l-8 7.6M1039.6 1235.3l11.2 34.2m3 -10.6l-3 10.6l-8.7 -6.8M1147.5 1235.3l25.4 31.6m-0.9 -11l0.9 11l-10.5 -3.3M310.8 1251.5l2 -39m-6.6 8.8l6.6 -8.8l5.7 9.4M337.8 1251.5l26.1 -33.7m-10.5 3.4l10.5 -3.4l-0.7 11M1174.5 1251.5l25.2 21.2m-3 -10.6l3 10.6l-10.9 -1.2M1228.5 1251.5l31.2 15.4m-5.5 -9.6l5.5 9.6l-10.9 1.5M1255.5 1251.5l32.7 20.1m-4.5 -10l4.5 10l-11 0.5M1282.5 1251.5l37.4 11.6m-6.9 -8.6l6.9 8.6l-10.5 3.2M1309.5 1251.5l41.3 9.8m-7.5 -8.1l7.5 8.1l-10.3 3.9M1336.5 1251.5l33.3 5.6m-8 -7.6l8 7.6l-10 4.6M310.8 1267.7l30 -21m-11 0.2l11 -0.2l-4 10.3M337.8 1267.7l23.4 -22.5m-10.8 1.9l10.8 -1.9l-2.3 10.8M1039.6 1267.7l23.3 31.6m-0.5 -11l0.5 11l-10.4 -3.7M1174.5 1267.7l22.5 23.2m-1.9 -10.8l1.9 10.8l-10.8 -2.3M1255.5 1267.7l29 17m-4.8 -9.9l4.8 9.9l-11 0.7M1282.5 1267.7l36.7 10.9m-7 -8.5l7 8.5l-10.5 3.3M1336.5 1267.7l40.8 6.5m-8 -7.5l8 7.5l-10 4.6M310.8 1283.9l30.1 -27.2m-10.9 1.6l10.9 -1.6l-2.6 10.7M904.6 1283.9l34.8 17.4m-5.4 -9.6l5.4 9.6l-10.9 1.4M958.6 1283.9l25.3 25.7m-2 -10.8l2 10.8l-10.8 -2.2M1039.6 1283.9l16.1 34.3m1.7 -10.9l-1.7 10.9l-9.4 -5.6M1066.6 1283.9l26.9 29.2m-1.7 -10.9l1.7 10.9l-10.7 -2.5M1147.5 1283.9l30.1 26.2m-2.9 -10.6l2.9 10.6l-10.9 -1.3M1363.4 1283.9l40.6 12.7m-6.9 -8.6l6.9 8.6l-10.5 3.2M445.8 1300.1l31.9 -16.2m-10.9 -1.4l10.9 1.4l-5.4 9.6M715.7 1300.1l29.9 -13.5m-10.8 -1.8l10.8 1.8l-5.8 9.4M877.6 1300.1l35.3 -10.1m-10.5 -3.4l10.5 3.4l-7.1 8.4M904.6 1300.1l34.7 20.8m-4.7 -10l4.7 10l-11 0.6M931.6 1300.1l26.8 25.5m-2.4 -10.7l2.4 10.7l-10.8 -1.8M1066.6 1300.1l24 30.4m-0.8 -11l0.8 11l-10.5 -3.4M1093.5 1300.1l30.8 25.7m-3.1 -10.6l3.1 10.6l-10.9 -1.1M1147.5 1300.1l26.7 23m-2.9 -10.6l2.9 10.6l-10.9 -1.3M1228.5 1300.1l30.8 12m-6.3 -9l6.3 9l-10.7 2.4M1363.4 1300.1l36.6 21.2m-4.8 -9.9l4.8 9.9l-11 0.7M364.8 1316.3l31.9 -17.4m-11 -1l11 1l-5.1 9.8M391.8 1316.3l40.2 -7.8m-10.1 -4.3l10.1 4.3l-7.8 7.8M445.8 1316.3l31.3 -8.1m-10.4 -3.7l10.4 3.7l-7.3 8.2M688.7 1316.3l30.2 -19.5m-11 -0.2l11 0.2l-4.3 10.1M715.7 1316.3l36.5 -16.3m-10.8 -1.9l10.8 1.9l-5.8 9.3M850.6 1316.3l38.8 -3.8m-9.7 -5.2l9.7 5.2l-8.5 7M904.6 1316.3l39.3 14.3m-6.5 -8.9l6.5 8.9l-10.7 2.7M1066.6 1316.3l27.1 25.6m-2.4 -10.7l2.4 10.7l-10.9 -1.8M1093.5 1316.3l22.4 26.8m-1.1 -10.9l1.1 10.9l-10.6 -3.1M1228.5 1316.3l31.7 19m-4.7 -10l4.7 10l-11 0.6M1255.5 1316.3l37.6 18.1m-5.5 -9.5l5.5 9.5l-10.9 1.6M1282.5 1316.3l27.8 26.5m-2.4 -10.7l2.4 10.7l-10.8 -1.8M1309.5 1316.3l33.8 25.4m-3.6 -10.4l3.6 10.4l-11 -0.6M1336.5 1316.3l35.2 19.6m-5 -9.8l5 9.8l-11 0.9M1363.4 1316.3l32.8 22.9m-4 -10.3l4 10.3l-11 -0.2M283.8 1332.5l34.8 -15.3m-10.8 -2l10.8 2l-5.9 9.3M310.8 1332.5l40.1 -5.9m-9.9 -4.8l9.9 4.8l-8.1 7.4M337.8 1332.5l34.6 -13.5m-10.7 -2.4l10.7 2.4l-6.3 9M688.7 1332.5l32.1 -21.9m-11 0.1l11 -0.1l-4.1 10.2M850.6 1332.5l32.6 -2.1m-9.5 -5.6l9.5 5.6l-8.7 6.7M877.6 1332.5l37.1 3.6m-8.5 -7l8.5 7l-9.7 5.3M904.6 1332.5l36.1 10.5m-7 -8.5l7 8.5l-10.5 3.4M1066.6 1332.5l29.6 30m-2 -10.8l2 10.8l-10.8 -2.2M1093.5 1332.5l24.9 25.6m-1.9 -10.8l1.9 10.8l-10.8 -2.3M1228.5 1332.5l36.2 13.7m-6.4 -9l6.4 9l-10.7 2.5M1282.5 1332.5l29.4 27.6m-2.4 -10.7l2.4 10.7l-10.9 -1.8M1309.5 1332.5l25.1 33.4m-0.6 -11l0.6 11l-10.4 -3.6M1363.4 1332.5l34.7 18.9m-5.1 -9.8l5.1 9.8l-11 1M1390.4 1332.5l27.6 23.5m-2.9 -10.6l2.9 10.6l-10.9 -1.2M337.8 1348.7l36.8 0.1m-9.1 -6.2l9.1 6.2l-9.1 6.1M904.6 1348.7l36.2 12.8m-6.5 -8.8l6.5 8.8l-10.7 2.8M1066.6 1348.7l29.8 28.3m-2.4 -10.7l2.4 10.7l-10.8 -1.8M1093.5 1348.7l24.8 22.9m-2.5 -10.7l2.5 10.7l-10.9 -1.7M1228.5 1348.7l33.3 16.2m-5.5 -9.5l5.5 9.5l-10.9 1.5M1255.5 1348.7l29.1 22.5m-3.5 -10.4l3.5 10.4l-11 -0.7M1282.5 1348.7l24.6 31.1m-0.8 -11l0.8 11l-10.5 -3.3M1309.5 1348.7l24.9 33.5m-0.5 -11l0.5 11l-10.4 -3.6M1336.5 1348.7l25.4 29.6m-1.3 -10.9l1.3 10.9l-10.6 -2.9M1363.4 1348.7l31.7 23.9m-3.6 -10.4l3.6 10.4l-11 -0.6M1390.4 1348.7l28.6 24.5m-2.9 -10.6l2.9 10.6l-10.9 -1.3M1417.4 1348.7l23.4 -26.5m-10.6 2.8l10.6 -2.8l-1.4 10.9M337.8 1364.8l41.2 -7.4m-10.1 -4.5l10.1 4.5l-7.9 7.7M904.6 1364.8l34.7 10.2m-7 -8.5l7 8.5l-10.5 3.3M1093.5 1364.8l27.7 26.6m-2.3 -10.8l2.3 10.8l-10.8 -1.9M1228.5 1364.8l24 22m-2.6 -10.7l2.6 10.7l-10.9 -1.6M1255.5 1364.8l18 28m0.3 -11l-0.3 11l-10.1 -4.4M1282.5 1364.8l19.9 33.8m0.7 -11l-0.7 11l-9.9 -4.7M1309.5 1364.8l21.1 32.3m0.2 -11l-0.2 11l-10.1 -4.3M1363.4 1364.8l31.9 23.9m-3.6 -10.4l3.6 10.4l-11 -0.5M337.8 1381l38.1 -5.2m-9.9 -4.9l9.9 4.9l-8.2 7.3M904.6 1381l41.2 10.4m-7.3 -8.2l7.3 8.2l-10.4 3.7M1093.5 1381l28.2 27.7m-2.2 -10.8l2.2 10.8l-10.8 -2M1282.5 1381l21.1 36.3m0.7 -11l-0.7 11l-9.9 -4.8M1363.4 1381l35.3 20.1m-4.9 -9.9l4.9 9.9l-11 0.8M1390.4 1381l37.4 18.4m-5.5 -9.5l5.5 9.5l-10.9 1.5M499.8 1397.2l36.7 5.6m-8.1 -7.4l8.1 7.4l-9.9 4.7M526.8 1397.2l38.4 7.6m-7.8 -7.8l7.8 7.8l-10.1 4.3M688.7 1397.2l29.7 26.8m-2.7 -10.7l2.7 10.7l-10.9 -1.5M769.7 1397.2l33.6 9.5m-7.1 -8.4l7.1 8.4l-10.4 3.4M796.7 1397.2l36.2 0.6m-9 -6.3l9 6.3l-9.2 6M823.6 1397.2l39.7 1.8m-8.8 -6.5l8.8 6.5l-9.4 5.7M850.6 1397.2l39.1 0.7m-9 -6.3l9 6.3l-9.2 6M877.6 1397.2l38.6 6.3m-8 -7.5l8 7.5l-10 4.6M904.6 1397.2l32.3 11.9m-6.4 -8.9l6.4 8.9l-10.7 2.6M985.6 1397.2l21.5 33.3m0.2 -11l-0.2 11l-10.1 -4.3M1066.6 1397.2l33.8 24.3m-3.8 -10.3l3.8 10.3l-11 -0.3M1093.5 1397.2l27.1 28.5m-1.8 -10.8l1.8 10.8l-10.7 -2.4M1282.5 1397.2l17.6 32.6m1.1 -10.9l-1.1 10.9l-9.7 -5.1M1309.5 1397.2l25.9 33.1m-0.8 -11l0.8 11l-10.5 -3.4M1417.4 1397.2l39.7 9.4m-7.5 -8.1l7.5 8.1l-10.3 3.9M526.8 1413.4l37.7 6.9m-7.9 -7.7l7.9 7.7l-10.1 4.4M634.7 1413.4l42 7.1m-8 -7.6l8 7.6l-10 4.6M796.7 1413.4l37.7 6.5m-7.9 -7.6l7.9 7.6l-10 4.5M823.6 1413.4l39.8 -0.5m-9.2 -6l9.2 6l-9 6.3M850.6 1413.4l35.3 -0.7m-9.2 -6l9.2 6l-9 6.3M877.6 1413.4l36.7 1.6m-8.8 -6.5l8.8 6.5l-9.4 5.8M904.6 1413.4l33.9 6.5m-7.8 -7.8l7.8 7.8l-10.1 4.3M1012.6 1413.4l15.4 33.2m1.8 -10.9l-1.8 10.9l-9.4 -5.7M1066.6 1413.4l30 24.5m-3.2 -10.5l3.2 10.5l-11 -1M1255.5 1413.4l6.2 33.2m4.4 -10.1l-4.4 10.1l-7.7 -7.8M1282.5 1413.4l19.7 35.7m1 -11l-1 11l-9.8 -5M1309.5 1413.4l22.9 31.4m-0.4 -11l0.4 11l-10.3 -3.7M1336.5 1413.4l31.2 29.1m-2.5 -10.7l2.5 10.7l-10.9 -1.7M553.7 1429.6l33 -1.1m-9.3 -5.8l9.3 5.8l-8.9 6.5M634.7 1429.6l36.1 15m-6.1 -9.2l6.1 9.2l-10.8 2.2M715.7 1429.6l33.6 26.4m-3.4 -10.5l3.4 10.5l-11 -0.8M796.7 1429.6l38.5 -1.2m-9.3 -5.9l9.3 5.9l-8.9 6.4M823.6 1429.6l35.7 3.2m-8.5 -6.9l8.5 6.9l-9.6 5.3M850.6 1429.6l35.2 -1.5m-9.4 -5.8l9.4 5.8l-8.9 6.5M877.6 1429.6l35.1 1.4m-8.9 -6.5l8.9 6.5l-9.4 5.8M904.6 1429.6l32.5 5.4m-8 -7.6l8 7.6l-10 4.6M1012.6 1429.6l17.2 32.1m1.1 -10.9l-1.1 10.9l-9.7 -5.1M1066.6 1429.6l26.7 22.3m-3 -10.6l3 10.6l-10.9 -1.1M1255.5 1429.6l10 31.2m3.1 -10.6l-3.1 10.6l-8.6 -6.8M1282.5 1429.6l33.2 9.9m-7 -8.5l7 8.5l-10.5 3.3M1309.5 1429.6l19.1 36.6m1.2 -10.9l-1.2 10.9l-9.7 -5.2M1336.5 1429.6l37.4 17.8m-5.6 -9.5l5.6 9.5l-10.9 1.6M634.7 1445.8l36.2 16.3m-5.8 -9.4l5.8 9.4l-10.8 1.9M796.7 1445.8l41.6 6m-8.2 -7.4l8.2 7.4l-9.9 4.8M823.6 1445.8l36.5 2.7m-8.6 -6.8l8.6 6.8l-9.6 5.5M850.6 1445.8l39.1 2.1m-8.8 -6.6l8.8 6.6l-9.4 5.7M877.6 1445.8l36.4 1.6m-8.8 -6.5l8.8 6.5l-9.4 5.8M904.6 1445.8l38.6 8.9m-7.5 -8l7.5 8l-10.3 3.9M931.6 1445.8l32.7 22.2m-4.1 -10.2l4.1 10.2l-11 0M958.6 1445.8l31.2 24.3m-3.4 -10.5l3.4 10.5l-11 -0.7M985.6 1445.8l34.1 18.5m-5.1 -9.8l5.1 9.8l-10.9 1.1M1012.6 1445.8l35.7 19.1m-5.1 -9.7l5.1 9.7l-10.9 1.1M1093.5 1445.8l36 21.6m-4.6 -10l4.6 10l-11 0.6M1309.5 1445.8l21.2 29.8m-0.3 -11l0.3 11l-10.3 -3.9M1336.5 1445.8l37.1 6.3m-8 -7.6l8 7.6l-10 4.5M1363.4 1445.8l36.8 17.8m-5.5 -9.5l5.5 9.5l-10.9 1.6M553.7 1462l34.3 1.6m-8.8 -6.6l8.8 6.6l-9.4 5.7M634.7 1462l36.4 14.8m-6.1 -9.1l6.1 9.1l-10.8 2.3M823.6 1462l35.9 3.3m-8.5 -7l8.5 7l-9.6 5.3M850.6 1462l38.2 -1.8m-9.4 -5.7l9.4 5.7l-8.8 6.6M877.6 1462l38.6 6.3m-8 -7.5l8 7.5l-10 4.6M904.6 1462l34.4 8.5m-7.4 -8.2l7.4 8.2l-10.3 3.8M931.6 1462l33.5 20.9m-4.5 -10l4.5 10l-11 0.4M958.6 1462l32.2 14m-5.9 -9.3l5.9 9.3l-10.8 2M985.6 1462l34.3 16.7m-5.5 -9.5l5.5 9.5l-10.9 1.5M1012.6 1462l38.4 7.7m-7.7 -7.8l7.7 7.8l-10.1 4.2M1147.5 1462l35.8 15.8m-5.9 -9.3l5.9 9.3l-10.8 1.9M1309.5 1462l23.1 29.4m-0.8 -11l0.8 11l-10.5 -3.4M1336.5 1462l38.6 15.9m-6.1 -9.2l6.1 9.2l-10.8 2.2M553.7 1478.2l42.9 -0.4m-9.2 -6.1l9.2 6.1l-9.1 6.2M580.7 1478.2l39.5 11.8m-7 -8.5l7 8.5l-10.5 3.3M607.7 1478.2l30 15.5m-5.3 -9.7l5.3 9.7l-10.9 1.3M634.7 1478.2l32.3 18.9m-4.8 -9.9l4.8 9.9l-11 0.7M742.7 1478.2l34.6 17.5m-5.4 -9.6l5.4 9.6l-10.9 1.4M985.6 1478.2l34.6 8.8m-7.3 -8.2l7.3 8.2l-10.4 3.7M1012.6 1478.2l37.2 7m-7.8 -7.7l7.8 7.7l-10.1 4.4M1039.6 1478.2l40.4 3.7m-8.5 -7l8.5 7l-9.6 5.3M1309.5 1478.2l32.2 -6.1m-10.1 -4.4l10.1 4.4l-7.8 7.7M634.7 1494.4l33.8 20.6m-4.6 -10l4.6 10l-11 0.5M661.7 1494.4l35.8 21.8m-4.6 -10l4.6 10l-11 0.5M742.7 1494.4l33.7 19.7m-4.8 -9.9l4.8 9.9l-11 0.7M769.7 1494.4l31.7 11.1m-6.6 -8.8l6.6 8.8l-10.6 2.8M877.6 1494.4l34.1 4.5m-8.2 -7.3l8.2 7.3l-9.8 4.9M931.6 1494.4l38.9 -3m-9.6 -5.4l9.6 5.4l-8.6 6.8M1174.5 1494.4l30.5 26.7m-2.8 -10.6l2.8 10.6l-10.9 -1.4M661.7 1510.6l29.7 12.6m-6 -9.2l6 9.2l-10.8 2.1M688.7 1510.6l33.3 14.1m-6 -9.2l6 9.2l-10.8 2.1M742.7 1510.6l35.4 16.5m-5.7 -9.4l5.7 9.4l-10.9 1.7M769.7 1510.6l38.1 7.4m-7.8 -7.8l7.8 7.8l-10.1 4.3M796.7 1510.6l36.2 8.1m-7.6 -8l7.6 8l-10.2 4M850.6 1510.6l35.8 -0.5m-9.2 -6l9.2 6l-9 6.3M1174.5 1510.6l33.2 21.2m-4.4 -10.1l4.4 10.1l-11 0.3M1282.5 1510.6l28 -16.8m-11 -0.6l11 0.6l-4.7 10M715.7 1526.8l30.7 19.5m-4.4 -10.1l4.4 10.1l-11 0.3M742.7 1526.8l34.6 14.9m-6 -9.3l6 9.3l-10.8 2.1M769.7 1526.8l35.2 7.4m-7.7 -7.9l7.7 7.9l-10.2 4.1M796.7 1526.8l37.5 3.4m-8.5 -7l8.5 7l-9.6 5.3M823.6 1526.8l38.4 5.8m-8.1 -7.4l8.1 7.4l-9.9 4.7M1174.5 1526.8l32 22.6m-3.9 -10.3l3.9 10.3l-11 -0.2M796.7 1542.9l36.7 6.6m-7.9 -7.7l7.9 7.7l-10.1 4.4M796.7 1559.1l32.6 7.5m-7.5 -8l7.5 8l-10.3 4M1553 1057.8l64.9 -32.4m-10.9 -1.4l10.9 1.4l-5.4 9.6M202.9 1430.4l38.1 21.8m-4.9 -9.9l4.9 9.9l-11 0.8M229.4 1479.4l35.4 17.7m-5.4 -9.6l5.4 9.6l-10.9 1.4M284.9 1479.4l24.5 23.2m-2.4 -10.7l2.4 10.7l-10.9 -1.8M253.2 1497.9l46.3 6.8m-8.1 -7.4l8.1 7.4l-9.9 4.8M308.7 1495.2l49 -8.2m-10 -4.6l10 4.6l-8 7.6M284.9 1508.5l40.9 1.4m-8.9 -6.5l8.9 6.5l-9.3 5.8M337.8 1528.3l32.7 0m-9.1 -6.2l9.1 6.2l-9.1 6.2M414.6 1542.9l38.1 -4.1m-9.7 -5.1l9.7 5.1l-8.4 7.1M392.1 1494.7l39.5 -2.2m-9.4 -5.6l9.4 5.6l-8.8 6.6M311.4 1479.4l27.2 -30m-10.7 2.6l10.7 -2.6l-1.6 10.9M345.8 1445l19.1 -17.7m-10.9 1.7l10.9 -1.7l-2.5 10.7M446.3 1479.4l35.4 -28.6m-11 0.9l11 -0.9l-3.2 10.5M531 1513.8l19.6 -8.2m-10.8 -2.2l10.8 2.2l-6.1 9.2M448.9 1545.5l19.1 -13.6m-11 0.3l11 -0.3l-3.8 10.3M525.7 1414.6l25.1 1.4m-8.8 -6.6l8.8 6.6l-9.4 5.6M525.7 1447.6l25.1 -8.2m-10.6 -3l10.6 3l-6.8 8.7"/>
<path stroke="#00c8c8" d="M1552.4 102l28.3 -37.6m-10.4 3.6l10.4 -3.6l-0.6 11M1579.4 102l29.1 -38.6m-10.4 3.6l10.4 -3.6l-0.6 11M1525.4 118.2l36.6 -37.8m-10.8 2.3l10.8 -2.3l-1.9 10.8M1552.4 118.2l33.1 -38.9m-10.6 3l10.6 -3l-1.2 10.9M1579.4 118.2l32.7 -30.9m-10.9 1.8l10.9 -1.8l-2.4 10.7M1498.4 134.4l27.4 -37m-10.4 3.7l10.4 -3.7l-0.5 11M1552.4 134.4l34.5 -32.9m-10.8 1.8l10.8 -1.8l-2.4 10.7M1498.4 150.6l27.6 -37.2m-10.4 3.7l10.4 -3.7l-0.5 11M1336.5 312.5l47.8 -0.9m-9.2 -6l9.2 6l-9 6.3M1363.4 312.5l47.9 -9.5m-10.1 -4.3l10.1 4.3l-7.8 7.8M1228.5 717.3l21.2 37.9m0.9 -11l-0.9 11l-9.8 -5M1309.5 717.3l36.7 26m-3.9 -10.3l3.9 10.3l-11 -0.2M1336.5 717.3l39.9 17.1m-5.9 -9.3l5.9 9.3l-10.8 2.1M1363.4 717.3l42.3 11.5m-7.2 -8.3l7.2 8.3l-10.4 3.5M2227.1 717.3l-9 -48.8m-4.4 10.1l4.4 -10.1l7.7 7.9M1228.5 733.4l27 43.4m0.4 -11l-0.4 11l-10 -4.5M1255.5 733.4l41.8 18m-5.9 -9.3l5.9 9.3l-10.8 2M1282.5 733.4l43.1 17.1m-6.2 -9.1l6.2 9.1l-10.7 2.3M1309.5 733.4l48.4 19.7m-6.1 -9.1l6.1 9.1l-10.8 2.3M1336.5 733.4l48.9 11.9m-7.4 -8.1l7.4 8.1l-10.3 3.8M1201.5 749.6l24.2 41.8m0.7 -11l-0.7 11l-9.9 -4.8M1228.5 749.6l15.3 51.2m3.3 -10.5l-3.3 10.5l-8.5 -7M1255.5 749.6l26.4 36.5m-0.4 -11l0.4 11l-10.3 -3.8M1417.4 749.6l19.6 48.7m2.3 -10.8l-2.3 10.8l-9.1 -6.2M1201.5 765.8l-11.3 45.2m8.2 -7.4l-8.2 7.4l-3.8 -10.3M1228.5 765.8l10.9 44.4m3.8 -10.3l-3.8 10.3l-8.1 -7.4M1390.4 782l49.8 10.2m-7.7 -7.9l7.7 7.9l-10.2 4.2M1417.4 798.2l48.2 22.8m-5.6 -9.5l5.6 9.5l-10.9 1.7M1228.5 814.4l6.1 51.7m5 -9.8l-5 9.8l-7.2 -8.3M1390.4 814.4l48.9 21.6m-5.9 -9.3l5.9 9.3l-10.8 1.9M1417.4 814.4l45 18.9m-6 -9.2l6 9.2l-10.8 2.1M1444.4 814.4l45.2 21.1m-5.7 -9.4l5.7 9.4l-10.9 1.7M1471.4 814.4l37.3 27.6m-3.7 -10.4l3.7 10.4l-11 -0.5M1228.5 830.6l10.8 49.1m4.1 -10.2l-4.1 10.2l-8 -7.6M1390.4 830.6l41.1 17.3m-6 -9.2l6 9.2l-10.8 2.1M1417.4 830.6l37.1 26.4m-3.9 -10.3l3.9 10.3l-11 -0.3M1444.4 830.6l37.8 34.1m-2.7 -10.7l2.7 10.7l-10.9 -1.5M1471.4 830.6l36.3 27.8m-3.5 -10.4l3.5 10.4l-11 -0.7M1498.4 830.6l33.1 39m-1.2 -10.9l1.2 10.9l-10.6 -3M1336.5 846.8l46.9 2.6m-8.8 -6.6l8.8 6.6l-9.4 5.6M1417.4 846.8l18.8 39.7m1.7 -10.9l-1.7 10.9l-9.5 -5.6M1444.4 846.8l24 36.4m0.1 -11l-0.1 11l-10.2 -4.2M1498.4 846.8l21.8 47.6m1.8 -10.9l-1.8 10.9l-9.4 -5.7M1471.4 863l12.6 45.9m3.5 -10.4l-3.5 10.4l-8.4 -7.2M1498.4 863l19.7 47.1m2.2 -10.8l-2.2 10.8l-9.2 -6M1498.4 879.2l5 43.5m5.1 -9.8l-5.1 9.8l-7.1 -8.4M1471.4 895.3l-5.8 43.4m7.3 -8.2l-7.3 8.2l-4.9 -9.9M1498.4 895.3l-1 46m6.4 -9l-6.4 9l-5.9 -9.3M1525.4 895.3l7.4 45.3m4.6 -10l-4.6 10l-7.5 -8M1579.4 895.3l-3 43.6m6.8 -8.7l-6.8 8.7l-5.5 -9.5M1606.4 895.3l14.3 41.1m2.8 -10.6l-2.8 10.6l-8.8 -6.6M1498.4 911.5l2.4 47.4m5.7 -9.4l-5.7 9.4l-6.6 -8.8M1525.4 911.5l10.5 48.2m4.1 -10.2l-4.1 10.2l-7.9 -7.6M1579.4 911.5l-1.8 47m6.5 -8.9l-6.5 8.9l-5.8 -9.3M1498.4 927.7l-3.4 48.5m6.8 -8.7l-6.8 8.7l-5.5 -9.5M1525.4 927.7l7.4 48.6m4.7 -9.9l-4.7 9.9l-7.4 -8.1M1552.4 927.7l7.1 48.1m4.7 -9.9l-4.7 9.9l-7.4 -8.1M1606.4 927.7l12.8 45.9m3.5 -10.4l-3.5 10.4l-8.4 -7.1M1498.4 943.9l9.9 42.6m3.9 -10.3l-3.9 10.3l-8.1 -7.5M1525.4 943.9l22.1 38.7m0.8 -11l-0.8 11l-9.9 -4.9M1552.4 943.9l10.3 42.8m3.9 -10.3l-3.9 10.3l-8.1 -7.4M1579.4 943.9l23.8 43.8m1.1 -10.9l-1.1 10.9l-9.8 -5.1M1525.4 960.1l28.9 44.9m0.2 -11l-0.2 11l-10.1 -4.3M1444.4 1008.7l23 40.2m0.8 -11l-0.8 11l-9.9 -4.9M1444.4 1024.9l26.3 41m0.3 -11l-0.3 11l-10.1 -4.4M1444.4 1041l21.4 38m0.9 -11l-0.9 11l-9.8 -4.9M1444.4 1057.2l18.2 44.5m2.2 -10.8l-2.2 10.8l-9.2 -6.1M1471.4 1057.2l25.5 43.4m0.7 -11l-0.7 11l-9.9 -4.8M1525.4 1057.2l45.1 -6.2m-9.9 -4.8l9.9 4.8l-8.2 7.3M1579.4 1057.2l40.7 17.8m-5.9 -9.3l5.9 9.3l-10.8 2M1606.4 1057.2l38.2 23.8m-4.5 -10l4.5 10l-11 0.4M1228.5 1073.4l14 40.7m2.8 -10.6l-2.8 10.6l-8.8 -6.6M1444.4 1073.4l21.4 38.8m1 -11l-1 11l-9.8 -5M1579.4 1073.4l48.7 4.1m-8.6 -6.9l8.6 6.9l-9.6 5.4M1444.4 1089.6l24 38.3m0.4 -11l-0.4 11l-10.1 -4.5M1471.4 1089.6l37.5 36.5m-2.2 -10.8l2.2 10.8l-10.8 -2M1606.4 1089.6l41 28.6m-4 -10.3l4 10.3l-11 -0.2M283.8 1105.8l36.9 -25.2m-11 0.1l11 -0.1l-4.1 10.2M310.8 1105.8l47.5 -3.5m-9.5 -5.5l9.5 5.5l-8.6 6.8M1633.3 1105.8l27.7 36.9m-0.5 -11l0.5 11l-10.4 -3.6M1066.6 1122l19.3 43.3m1.9 -10.8l-1.9 10.8l-9.3 -5.8M1606.4 1122l31.1 32m-1.9 -10.8l1.9 10.8l-10.8 -2.3M1012.6 1138.2l29.7 37m-0.9 -11l0.9 11l-10.5 -3.3M1039.6 1138.2l21.8 38.5m0.8 -11l-0.8 11l-9.9 -4.9M1066.6 1138.2l22.6 43.8m1.3 -10.9l-1.3 10.9l-9.6 -5.3M1660.3 1138.2l25.6 37.8m0 -11l0 11l-10.2 -4.1M1066.6 1154.4l26.9 41.4m0.2 -11l-0.2 11l-10.1 -4.3M1066.6 1170.6l27 40.4m0 -11l0 11l-10.2 -4.2M256.9 1186.8l10.2 -43.2m-8.1 7.5l8.1 -7.5l3.9 10.3M1093.5 1219.1l33.6 38.8m-1.3 -10.9l1.3 10.9l-10.6 -2.9M310.8 1235.3l3.8 -43.8m-6.9 8.6l6.9 -8.6l5.3 9.6M337.8 1235.3l30.2 -33.8m-10.7 2.7l10.7 -2.7l-1.5 10.9M1066.6 1235.3l27 36.9m-0.4 -11l0.4 11l-10.4 -3.7M1093.5 1235.3l27.8 41.8m0.1 -11l-0.1 11l-10.2 -4.2M1120.5 1235.3l37 37.9m-2 -10.8l2 10.8l-10.8 -2.2M1066.6 1251.5l27.1 40.8m0.1 -11l-0.1 11l-10.2 -4.2M1066.6 1267.7l32.3 33.2m-2 -10.8l2 10.8l-10.8 -2.2M1093.5 1267.7l33.4 35.3m-1.8 -10.9l1.8 10.9l-10.7 -2.4M1120.5 1267.7l36.8 34.4m-2.5 -10.7l2.5 10.7l-10.9 -1.7M1147.5 1267.7l32.3 40.4m-0.9 -11l0.9 11l-10.5 -3.3M1309.5 1267.7l48.2 6.6m-8.2 -7.3l8.2 7.3l-9.9 4.9M1093.5 1283.9l31.6 36.8m-1.3 -10.9l1.3 10.9l-10.6 -2.9M1336.5 1283.9l44.4 14.5m-6.8 -8.7l6.8 8.7l-10.6 3M1012.6 1300.1l37.7 29.6m-3.4 -10.5l3.4 10.5l-11 -0.8M1039.6 1300.1l35.6 30.4m-3 -10.6l3 10.6l-10.9 -1.2M1120.5 1300.1l30.9 31.5m-2 -10.8l2 10.8l-10.8 -2.2M1255.5 1300.1l48.9 16.7m-6.6 -8.8l6.6 8.8l-10.6 2.9M1336.5 1300.1l42.4 16.1m-6.3 -9l6.3 9l-10.7 2.5M877.6 1316.3l42.3 9.3m-7.6 -8l7.6 8l-10.2 4M931.6 1316.3l38.8 28.2m-3.8 -10.3l3.8 10.3l-11 -0.4M958.6 1316.3l40.7 29.4m-3.8 -10.3l3.8 10.3l-11 -0.4M985.6 1316.3l41.6 30.7m-3.7 -10.4l3.7 10.4l-11 -0.5M1012.6 1316.3l37.4 35.4m-2.4 -10.7l2.4 10.7l-10.9 -1.8M1039.6 1316.3l35.4 28m-3.3 -10.5l3.3 10.5l-11 -0.8M931.6 1332.5l44 23.3m-5.2 -9.7l5.2 9.7l-10.9 1.2M1039.6 1332.5l36.5 34.6m-2.4 -10.7l2.4 10.7l-10.8 -1.8M1255.5 1332.5l37.5 22.4m-4.7 -10l4.7 10l-11 0.6M1336.5 1332.5l37.7 20.9m-5 -9.8l5 9.8l-11 1M931.6 1348.7l47.8 19.3m-6.2 -9.1l6.2 9.1l-10.8 2.3M1039.6 1348.7l32.8 33.9m-1.9 -10.8l1.9 10.8l-10.8 -2.3M931.6 1364.8l45.2 14.2m-6.8 -8.6l6.8 8.6l-10.5 3.1M1066.6 1364.8l36.9 33.6m-2.6 -10.7l2.6 10.7l-10.9 -1.6M1336.5 1364.8l23.5 37.4m0.4 -11l-0.4 11l-10.1 -4.5M310.8 1381l11.3 -51.3m-8 7.6l8 -7.6l4 10.2M931.6 1381l44.6 23.1m-5.3 -9.7l5.3 9.7l-10.9 1.3M958.6 1381l36.4 34.8m-2.3 -10.7l2.3 10.7l-10.8 -1.8M1066.6 1381l37.9 31.5m-3.1 -10.6l3.1 10.6l-10.9 -1.1M1309.5 1381l28.2 33.9m-1.1 -10.9l1.1 10.9l-10.6 -3.1M1336.5 1381l30.9 31.8m-2 -10.8l2 10.8l-10.8 -2.2M1417.4 1381l40.6 14.1m-6.6 -8.8l6.6 8.8l-10.6 2.8M634.7 1397.2l48.4 -4.9m-9.7 -5.2l9.7 5.2l-8.5 7M661.7 1397.2l46.9 1.3m-9 -6.4l9 6.4l-9.3 5.9M1336.5 1397.2l32.2 35.4m-1.6 -10.9l1.6 10.9l-10.7 -2.6M1363.4 1397.2l41.3 21.3m-5.3 -9.6l5.3 9.6l-10.9 1.3M1390.4 1397.2l39.2 18.7m-5.6 -9.5l5.6 9.5l-10.9 1.6M310.8 1413.4l8 -42.9m-7.7 7.8l7.7 -7.8l4.4 10.1M553.7 1413.4l46.4 -8.3m-10.1 -4.4l10.1 4.4l-7.9 7.7M580.7 1413.4l48.9 -3.8m-9.6 -5.4l9.6 5.4l-8.6 6.8M607.7 1413.4l46.6 -8.8m-10.1 -4.3l10.1 4.3l-7.8 7.7M661.7 1413.4l41 25.5m-4.5 -10l4.5 10l-11 0.4M688.7 1413.4l35.8 29.8m-3.1 -10.6l3.1 10.6l-10.9 -1.1M1039.6 1413.4l29.3 35.9m-1 -11l1 11l-10.5 -3.2M1363.4 1413.4l37.8 32.4m-2.9 -10.6l2.9 10.6l-10.9 -1.3M1390.4 1413.4l43.1 6.9m-8 -7.5l8 7.5l-10 4.6M661.7 1429.6l39.3 25.6m-4.3 -10.1l4.3 10.1l-11 0.2M688.7 1429.6l43.3 28.1m-4.3 -10.1l4.3 10.1l-11 0.2M1039.6 1429.6l34.9 34.9m-2.1 -10.8l2.1 10.8l-10.8 -2.1M1363.4 1429.6l39.3 26.8m-4.1 -10.2l4.1 10.2l-11 -0.1M661.7 1445.8l38.7 20.9m-5.1 -9.7l5.1 9.7l-10.9 1.1M1039.6 1445.8l41.1 14.6m-6.5 -8.8l6.5 8.8l-10.7 2.7M1066.6 1445.8l49.6 12m-7.4 -8.1l7.4 8.1l-10.3 3.8M1120.5 1445.8l39 19.6m-5.4 -9.6l5.4 9.6l-10.9 1.4M661.7 1462l43.8 24.9m-4.9 -9.9l4.9 9.9l-11 0.8M688.7 1462l45.9 27.1m-4.7 -9.9l4.7 9.9l-11 0.7M769.7 1462l49.2 12.5m-7.3 -8.2l7.3 8.2l-10.4 3.7M796.7 1462l43.6 3.5m-8.6 -6.9l8.6 6.9l-9.6 5.4M1039.6 1462l43 6.2m-8.1 -7.4l8.1 7.4l-9.9 4.8M661.7 1478.2l37.8 25.4m-4.1 -10.2l4.1 10.2l-11 0M688.7 1478.2l41.9 25.3m-4.6 -10l4.6 10l-11 0.6M715.7 1478.2l45 27.9m-4.5 -10l4.5 10l-11 0.4M1174.5 1478.2l42.3 21.6m-5.3 -9.6l5.3 9.6l-10.9 1.3M688.7 1494.4l41.3 25.1m-4.6 -10l4.6 10l-11 0.5M715.7 1510.6l38.9 19.7m-5.4 -9.6l5.4 9.6l-10.9 1.4M877.6 1510.6l44.9 -9.9m-10.2 -4l10.2 4l-7.6 8M904.6 1510.6l42.3 -8m-10.1 -4.4l10.1 4.4l-7.8 7.7M850.6 1526.8l43.1 -8m-10.1 -4.4l10.1 4.4l-7.8 7.7M904.6 1526.8l45.4 -4.8m-9.7 -5.2l9.7 5.2l-8.4 7.1M850.6 1542.9l47.3 -8.5m-10.1 -4.4l10.1 4.4l-7.9 7.7M877.6 1542.9l45.6 -16m-10.6 -2.8l10.6 2.8l-6.6 8.8M1228.5 1542.9l46.6 1.1m-9 -6.4l9 6.4l-9.3 5.9M1385.6 328l47.7 34.3m-3.8 -10.3l3.8 10.3l-11 -0.3M1336.5 328.9l49.6 -14.3m-10.5 -3.4l10.5 3.4l-7.1 8.4M1443.9 345.6l55.3 0m-9.1 -6.2l9.1 6.2l-9.1 6.2M1391.1 361.3l38.1 -8.6m-10.2 -4l10.2 4l-7.5 8M1527 1073.5l42.9 -8.6m-10.1 -4.2l10.1 4.2l-7.7 7.8M319.3 1508.5l16.3 -10.9m-11 -0.1l11 0.1l-4.2 10.2M390.7 1527l46.3 8.2m-7.9 -7.6l7.9 7.6l-10 4.5M472.8 1479.4l49 -25.9m-10.9 -1.2l10.9 1.2l-5.2 9.7M499.2 1495.2l52.3 -8.2m-10 -4.7l10 4.7l-8.1 7.5M499.2 1511.1l52.3 -2.7m-9.4 -5.7l9.4 5.7l-8.8 6.6"/>
<path stroke="#00d28c" d="M1579.4 85.8l36.3 -39.9m-10.7 2.6l10.7 -2.6l-1.6 10.9M1525.4 134.4l45.5 -37.8m-10.9 1.1l10.9 -1.1l-3.1 10.6M1363.4 328.7l58.3 3.7m-8.7 -6.7l8.7 6.7l-9.5 5.6M1417.4 782l56.3 5.6m-8.5 -7l8.5 7l-9.7 5.2M1390.4 798.2l61.5 4.3m-8.7 -6.8l8.7 6.8l-9.5 5.5M1255.5 846.8l53.7 22.2m-6.1 -9.2l6.1 9.2l-10.8 2.2M1471.4 846.8l13.9 53.3m3.6 -10.4l-3.6 10.4l-8.3 -7.3M1228.5 863l52.6 16.8m-6.8 -8.6l6.8 8.6l-10.6 3.1M1579.4 927.7l-1 54.5m6.3 -9l-6.3 9l-6 -9.2M1579.4 976.3l54.6 6.7m-8.3 -7.2l8.3 7.2l-9.8 5M1471.4 1008.7l34.1 51.7m0.1 -11l-0.1 11l-10.2 -4.2M1471.4 1041l32.2 44.1m-0.4 -11l0.4 11l-10.3 -3.7M1471.4 1073.4l32.4 44.6m-0.4 -11l0.4 11l-10.3 -3.8M1606.4 1105.8l40.1 37m-2.5 -10.7l2.5 10.7l-10.9 -1.7M1066.6 1186.8l22.8 49.7m1.8 -10.9l-1.8 10.9l-9.4 -5.7M1066.6 1203l32.3 43.9m-0.4 -11l0.4 11l-10.4 -3.7M1066.6 1219.1l31.3 45.9m0 -11l0 11l-10.2 -4.1M1093.5 1251.5l38.2 37.6m-2.2 -10.8l2.2 10.8l-10.8 -2M1120.5 1251.5l40 46m-1.3 -10.9l1.3 10.9l-10.6 -2.8M1147.5 1251.5l38.1 37.8m-2.1 -10.8l2.1 10.8l-10.8 -2.1M1120.5 1283.9l37.1 41.4m-1.5 -10.9l1.5 10.9l-10.7 -2.7M1255.5 1283.9l53 16.6m-6.9 -8.6l6.9 8.6l-10.5 3.1M1282.5 1283.9l54.2 17.9m-6.7 -8.7l6.7 8.7l-10.6 3M1309.5 1283.9l58.9 21.3m-6.5 -8.9l6.5 8.9l-10.7 2.7M958.6 1300.1l48.1 36.8m-3.5 -10.4l3.5 10.4l-11 -0.6M985.6 1300.1l45 30.8m-4.1 -10.2l4.1 10.2l-11 -0.1M1282.5 1300.1l61 9.6m-8 -7.5l8 7.5l-10 4.7M1309.5 1300.1l58.9 21.6m-6.5 -8.9l6.5 8.9l-10.7 2.6M958.6 1332.5l52.1 34.1m-4.3 -10.1l4.3 10.1l-11 0.2M1012.6 1332.5l49.8 37.1m-3.6 -10.4l3.6 10.4l-11 -0.5M310.8 1348.7l19.4 -51.3m-9 6.4l9 -6.4l2.5 10.7M958.6 1348.7l47.4 32.6m-4 -10.2l4 10.2l-11 -0.1M1039.6 1364.8l45.9 41.8m-2.6 -10.7l2.6 10.7l-10.9 -1.6M1012.6 1381l32.7 47.8m-0.1 -11l0.1 11l-10.2 -4.1M1039.6 1381l44 41.5m-2.4 -10.7l2.4 10.7l-10.9 -1.8M310.8 1397.2l23.8 -51m-9.4 5.7l9.4 -5.7l1.7 10.9M1039.6 1397.2l42.9 39.8m-2.5 -10.7l2.5 10.7l-10.9 -1.7M688.7 1445.8l45 33.7m-3.6 -10.4l3.6 10.4l-11 -0.5M715.7 1445.8l49.8 36.7m-3.7 -10.4l3.7 10.4l-11 -0.5M715.7 1462l51.9 30.1m-4.8 -9.9l4.8 9.9l-11 0.7M742.7 1462l56.2 17.1m-6.9 -8.5l6.9 8.5l-10.5 3.2M715.7 1494.4l40.9 35.4m-2.9 -10.6l2.9 10.6l-10.9 -1.3M877.6 1526.8l49.8 -23m-10.9 -1.8l10.9 1.8l-5.7 9.4M1428.1 343.7l15.3 -28.6m-9.7 5.2l9.7 -5.2l1.1 10.9M1336.5 345.6l60.1 -13.4m-10.2 -4l10.2 4l-7.6 8M1552 1074.4l56.3 0m-9.1 -6.2l9.1 6.2l-9.1 6.2M1510.4 1107.8l46.7 3.8m-8.6 -6.9l8.6 6.9l-9.6 5.4M255.8 1478.8l61.3 8.7m-8.2 -7.4l8.2 7.4l-9.9 4.8M310.1 1493.9l66.8 -9.5m-9.9 -4.8l9.9 4.8l-8.2 7.4M446.3 1495.2l36.8 -45m-10.5 3.2l10.5 -3.2l-1 11"/>
<path stroke="#00dc00" d="M1255.5 863l70.4 17.5m-7.4 -8.2l7.4 8.2l-10.3 3.8M985.6 1332.5l55.8 44.1m-3.3 -10.5l3.3 10.5l-11 -0.8M310.8 1364.8l15 -63.2m-8.1 7.5l8.1 -7.5l3.9 10.3M958.6 1364.8l53.4 39.4m-3.7 -10.4l3.7 10.4l-11 -0.5M985.6 1364.8l51.4 49.1m-2.3 -10.7l2.3 10.7l-10.8 -1.9M1066.6 1462l71.6 9.8m-8.2 -7.3l8.2 7.3l-9.9 4.9M823.6 1542.9l72.1 -11.2m-10 -4.7l10 4.7l-8.1 7.5M1363.3 345.6l72.5 3.8m-8.8 -6.6l8.8 6.6l-9.4 5.7M1471.5 1024.4l39.1 53.4m-0.4 -11l0.4 11l-10.4 -3.7M1012.9 1349.6l20.7 44.7m1.7 -10.9l-1.7 10.9l-9.4 -5.7M1025.6 1366.6l30.5 39.2m-0.7 -11l0.7 11l-10.5 -3.4M1004.4 1400.4l30.5 36m-1.2 -10.9l1.2 10.9l-10.6 -3M230.7 1462.2l28.6 64m1.9 -10.8l-1.9 10.8l-9.3 -5.8M283.6 1495.2l72.2 19.1m-7.2 -8.3l7.2 8.3l-10.4 3.6M311.4 1463.5l24.5 -59.9m-9.1 6.1l9.1 -6.1l2.2 10.8M472.8 1495.2l62.7 -32.7m-10.9 -1.2l10.9 1.2l-5.2 9.7"/>
<path stroke="#a0e632" d="M1282.5 863l75 28.7m-6.3 -9l6.3 9l-10.7 2.5M985.6 1348.7l56.3 51.1m-2.6 -10.7l2.6 10.7l-10.9 -1.6M1418 345.2l84.9 3.8m-8.8 -6.6l8.8 6.6l-9.4 5.7M1579.8 1090.2l76.3 37.2m-5.5 -9.5l5.5 9.5l-10.9 1.5M1012.9 1365.5l50.1 75.2m0.1 -11l-0.1 11l-10.2 -4.2M998.1 1379.3l63.2 56.7m-2.7 -10.7l2.7 10.7l-10.9 -1.5M414.6 1513.8l62.7 10.9m-7.9 -7.6l7.9 7.6l-10 4.5M475.4 1516.4l65.4 -50.4m-11 0.7l11 -0.7l-3.5 10.4"/>
<path stroke="#e6dc32" d="M1499.3 1090.2l68.7 52.5m-3.5 -10.4l3.5 10.4l-11 -0.6M1503.9 1079.1l70.6 56.3m-3.3 -10.5l3.3 10.5l-11 -0.9M1148.4 1478.7l75.2 46.9m-4.5 -10l4.5 10l-11 0.4M1095.4 1463.9l92.6 12.6m-8.2 -7.3l8.2 7.3l-9.9 4.9M337.8 1495.2l89.9 28.6m-6.8 -8.6l6.8 8.6l-10.6 3.1M365.6 1511.1l79 59.9m-3.5 -10.4l3.5 10.4l-11 -0.6M414.6 1512.4l99.5 -12.3m-9.8 -5l9.8 5l-8.3 7.2M451.6 1508.5l70.8 -49m-11 0.1l11 -0.1l-4 10.2"/>
<path stroke="#e6af2d" d="M1528.9 1091.1l104.9 2.9m-8.9 -6.4l8.9 6.4l-9.3 5.9M1558.5 1089.3l99.2 -5.7m-9.5 -5.6l9.5 5.6l-8.7 6.7"/>
<path stroke="#f08228" d="M1390.2 344.6l109.7 23.8m-7.6 -7.9l7.6 7.9l-10.2 4.1M1120.8 1463.9l109 43.6m-6.2 -9.1l6.2 9.1l-10.8 2.3"/>
</g>
<use href="#grid"/>
</g>
<rect x="150" y="34" width="2260.5" height="1591" fill="none" stroke="#000" stroke-width="5.2"/>
<path d="M136.5 1578.5H150M136.5 1448.9H150M136.5 1319.4H150M136.5 1189.8H150M136.5 1060.3H150M136.5 930.7H150M136.5 801.1H150M136.5 671.6H150M136.5 542.1H150M136.5 412.5H150M136.5 283H150M136.5 153.4H150M214.4 1625V1638.5M430.3 1625V1638.5M646.2 1625V1638.5M862.1 1625V1638.5M1078 1625V1638.5M1293.9 1625V1638.5M1509.8 1625V1638.5M1725.7 1625V1638.5M1941.6 1625V1638.5M2157.5 1625V1638.5M2373.4 1625V1638.5" stroke="#000" stroke-width="7" stroke-linecap="round" fill="none"/>
<g font-family="'Liberation Sans',sans-serif" font-weight="bold" font-size="56" fill="#000" stroke="#000" stroke-width="0.4" stroke-linejoin="round"><text x="123.6" y="1598.9" text-anchor="end" textLength="84.6" lengthAdjust="spacingAndGlyphs" font-size="57">54N</text><text x="123.6" y="1469.3" text-anchor="end" textLength="84.6" lengthAdjust="spacingAndGlyphs" font-size="57">55N</text><text x="123.6" y="1339.8" text-anchor="end" textLength="84.6" lengthAdjust="spacingAndGlyphs" font-size="57">56N</text><text x="123.6" y="1210.2" text-anchor="end" textLength="84.6" lengthAdjust="spacingAndGlyphs" font-size="57">57N</text><text x="123.6" y="1080.7" text-anchor="end" textLength="84.6" lengthAdjust="spacingAndGlyphs" font-size="57">58N</text><text x="123.6" y="951.1" text-anchor="end" textLength="84.6" lengthAdjust="spacingAndGlyphs" font-size="57">59N</text><text x="123.6" y="821.5" text-anchor="end" textLength="84.6" lengthAdjust="spacingAndGlyphs" font-size="57">60N</text><text x="123.6" y="692" text-anchor="end" textLength="84.6" lengthAdjust="spacingAndGlyphs" font-size="57">61N</text><text x="123.6" y="562.5" text-anchor="end" textLength="84.6" lengthAdjust="spacingAndGlyphs" font-size="57">62N</text><text x="123.6" y="432.9" text-anchor="end" textLength="84.6" lengthAdjust="spacingAndGlyphs" font-size="57">63N</text><text x="123.6" y="303.4" text-anchor="end" textLength="84.6" lengthAdjust="spacingAndGlyphs" font-size="57">64N</text><text x="123.6" y="173.8" text-anchor="end" textLength="84.6" lengthAdjust="spacingAndGlyphs" font-size="57">65N</text><text x="216.4" y="1686" text-anchor="middle" textLength="80.4" lengthAdjust="spacingAndGlyphs">10E</text><text x="432.3" y="1686" text-anchor="middle" textLength="80.4" lengthAdjust="spacingAndGlyphs">12E</text><text x="648.2" y="1686" text-anchor="middle" textLength="80.4" lengthAdjust="spacingAndGlyphs">14E</text><text x="864.1" y="1686" text-anchor="middle" textLength="80.4" lengthAdjust="spacingAndGlyphs">16E</text><text x="1080" y="1686" text-anchor="middle" textLength="80.4" lengthAdjust="spacingAndGlyphs">18E</text><text x="1295.9" y="1686" text-anchor="middle" textLength="80.4" lengthAdjust="spacingAndGlyphs">20E</text><text x="1511.8" y="1686" text-anchor="middle" textLength="80.4" lengthAdjust="spacingAndGlyphs">22E</text><text x="1727.7" y="1686" text-anchor="middle" textLength="80.4" lengthAdjust="spacingAndGlyphs">24E</text><text x="1943.6" y="1686" text-anchor="middle" textLength="80.4" lengthAdjust="spacingAndGlyphs">26E</text><text x="2159.5" y="1686" text-anchor="middle" textLength="80.4" lengthAdjust="spacingAndGlyphs">28E</text><text x="2375.4" y="1686" text-anchor="middle" textLength="80.4" lengthAdjust="spacingAndGlyphs">30E</text></g>
<text x="1992" y="1786" font-family="'Liberation Sans',sans-serif" font-size="47" fill="#000" textLength="50" lengthAdjust="spacingAndGlyphs">/0</text>
<g stroke="#000" stroke-width="4.4" stroke-linejoin="miter" stroke-miterlimit="30">
<path d="M466.5 1713L331.7 1734.1L466.5 1755.2Z" fill="#a000c8"/>
<rect x="466.5" y="1713" width="147.9" height="42.2" fill="#8200dc"/>
<rect x="614.4" y="1713" width="147.9" height="42.2" fill="#1e3cff"/>
<rect x="762.4" y="1713" width="147.9" height="42.2" fill="#00a0ff"/>
<rect x="910.3" y="1713" width="147.9" height="42.2" fill="#00c8c8"/>
<rect x="1058.2" y="1713" width="147.9" height="42.2" fill="#00d28c"/>
<rect x="1206.1" y="1713" width="147.9" height="42.2" fill="#00dc00"/>
<rect x="1354.1" y="1713" width="147.9" height="42.2" fill="#a0e632"/>
<rect x="1502" y="1713" width="147.9" height="42.2" fill="#e6dc32"/>
<rect x="1649.9" y="1713" width="147.9" height="42.2" fill="#e6af2d"/>
<rect x="1797.8" y="1713" width="147.9" height="42.2" fill="#f08228"/>
<rect x="1945.8" y="1713" width="147.9" height="42.2" fill="#fa3c3c"/>
<path d="M2093.7 1713L2229 1734.1L2093.7 1755.2Z" fill="#f00082"/>
</g>
<g font-family="'Liberation Sans',sans-serif" font-size="43.5" fill="#000" stroke="#000" stroke-width="0.8"><text x="466.5" y="1796" text-anchor="middle" textLength="63" lengthAdjust="spacingAndGlyphs">6.5</text><text x="614.4" y="1796" text-anchor="middle" textLength="48.5" lengthAdjust="spacingAndGlyphs">13</text><text x="762.4" y="1796" text-anchor="middle" textLength="87" lengthAdjust="spacingAndGlyphs">19.5</text><text x="910.3" y="1796" text-anchor="middle" textLength="48.5" lengthAdjust="spacingAndGlyphs">26</text><text x="1058.2" y="1796" text-anchor="middle" textLength="87" lengthAdjust="spacingAndGlyphs">32.5</text><text x="1206.1" y="1796" text-anchor="middle" textLength="48.5" lengthAdjust="spacingAndGlyphs">39</text><text x="1354.1" y="1796" text-anchor="middle" textLength="87" lengthAdjust="spacingAndGlyphs">45.5</text><text x="1502" y="1796" text-anchor="middle" textLength="48.5" lengthAdjust="spacingAndGlyphs">52</text><text x="1649.9" y="1796" text-anchor="middle" textLength="87" lengthAdjust="spacingAndGlyphs">58.5</text><text x="1797.8" y="1796" text-anchor="middle" textLength="48.5" lengthAdjust="spacingAndGlyphs">65</text><text x="1945.8" y="1796" text-anchor="middle" textLength="87" lengthAdjust="spacingAndGlyphs">71.5</text><text x="2093.7" y="1796" text-anchor="middle" textLength="48.5" lengthAdjust="spacingAndGlyphs">78</text></g>
<g transform="translate(0 -0.8)"><text x="1215.5" y="1899.5" text-anchor="middle" font-family="'Liberation Serif',serif" font-size="88" fill="#000">(<tspan font-weight="bold" font-size="83" dx="0">b</tspan><tspan dx="0">)</tspan></text></g>
</g>
</svg></body></html>
